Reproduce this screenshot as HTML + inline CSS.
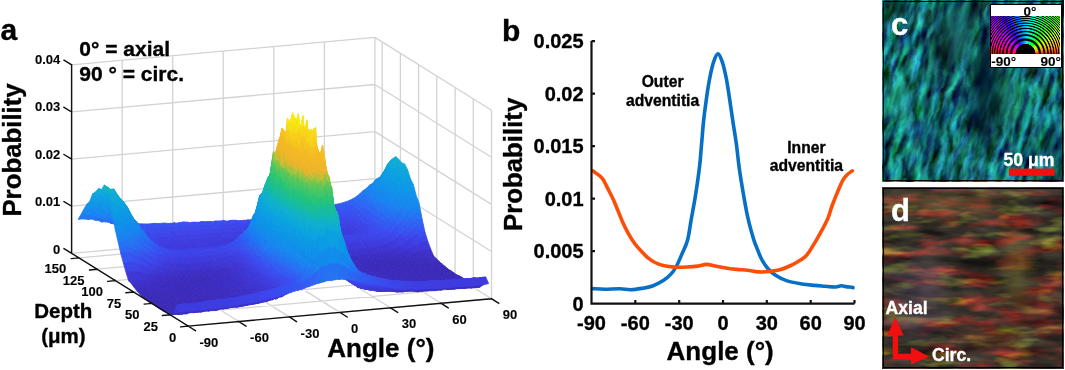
<!DOCTYPE html>
<html><head><meta charset="utf-8"><style>
html,body{margin:0;padding:0;background:#fff;}
body{width:1065px;height:370px;position:relative;overflow:hidden;font-family:"Liberation Sans", sans-serif;}
svg text{font-family:"Liberation Sans", sans-serif;font-weight:bold;stroke:currentColor;stroke-width:0.35px;}
svg text.s{stroke-width:0.12px;}
</style></head><body>

<svg width="1065" height="370" style="position:absolute;left:0;top:0;will-change:transform">
<path d="M71.6,253.3L71.6,64.8M122.2,248.7L122.2,60.2M172.7,244.2L172.7,55.7M223.2,239.6L223.2,51.1M273.8,235L273.8,46.5M324.4,230.4L324.4,41.9M374.9,225.9L374.9,37.4M71.6,253.3L374.9,225.9M71.6,206.2L374.9,178.7M71.6,159.1L374.9,131.6M71.6,111.9L374.9,84.5M71.6,64.8L374.9,37.4M491.5,298.7L491.5,110.2M473.3,287.3L473.3,98.8M455.1,275.9L455.1,87.4M436.8,264.5L436.8,76M418.6,253.2L418.6,64.7M400.4,241.8L400.4,53.3M382.2,230.4L382.2,41.9M491.5,298.7L374.9,225.9M491.5,251.5L374.9,178.7M491.5,204.4L374.9,131.6M491.5,157.3L374.9,84.5M491.5,110.2L374.9,37.4M188.2,326.1L71.6,253.3M238.8,321.5L122.2,248.7M289.3,316.9L172.7,244.2M339.9,312.4L223.2,239.6M390.4,307.8L273.8,235M441,303.2L324.4,230.4M491.5,298.7L374.9,225.9M188.2,326.1L491.5,298.7M170,314.7L473.3,287.3M151.8,303.4L455.1,275.9M133.5,292L436.8,264.5M115.3,280.6L418.6,253.2M97.1,269.2L400.4,241.8M78.9,257.9L382.2,230.4" stroke="#d3d3d3" stroke-width="1.3" fill="none"/>
<g fill="currentColor" stroke="currentColor" stroke-width="0.8" stroke-linejoin="round"><path color=#128deb d="M379.3,177.7l5.1-2.7-2.9,5.1-5.1,.3z"/><path color=#138bec d="M375.9,179.6l3.4-1.9-2.9,2.7-3.4,2.6z"/><path color=#1588ee d="M372.6,184.6l3.3-5-2.9,3.4-3.3,2z"/><path color=#1785f0 d="M369.2,186.6l3.4-2-2.9,.4-3.4,3.5z"/><path color=#1b7ff1 d="M365.8,190.8l3.4-4.2-2.9,1.9-3.4,2.3z"/><path color=#2177f2 d="M362.4,194.5l3.4-3.7-2.9,0-3.3,3.1z"/><path color=#0f93e9 d="M382.2,175.2l5.1-2.3-2.9,2.1-5.1,2.7z"/><path color=#2670f3 d="M359.1,198.2l3.3-3.7-2.8-.6-3.4,2.8z"/><path color=#1090ea d="M378.8,178.2l3.4-3-2.9,2.5-3.4,1.9z"/><path color=#2a69f4 d="M355.7,201.1l3.4-2.9-2.9-1.5-3.4,2.1z"/><path color=#128dec d="M375.5,181.4l3.3-3.2-2.9,1.4-3.3,5z"/><path color=#2d64f4 d="M352.3,203.6l3.4-2.5-2.9-2.3-3.4,1.6z"/><path color=#1589ee d="M372.1,185.6l3.4-4.2-2.9,3.2-3.4,2z"/><path color=#2f60f3 d="M349,205.6l3.3-2-2.9-3.2-3.3,1.3z"/><path color=#1785f0 d="M368.7,190.2l3.4-4.6-2.9,1-3.4,4.2z"/><path color=#315df2 d="M345.6,207l3.4-1.4-2.9-3.9-3.4,1.1z"/><path color=#1e7bf1 d="M365.3,195.4l3.4-5.2-2.9,.6-3.4,3.7z"/><path color=#325bf2 d="M342.2,207.5l3.4-.5-2.9-4.2-3.4,.9z"/><path color=#0d99e5 d="M385.1,169.7l5-.8-2.8,4-5.1,2.3z"/><path color=#2571f3 d="M362,200l3.3-4.6-2.9-.9-3.3,3.7z"/><path color=#325af2 d="M338.9,208.2l3.3-.7-2.9-3.8-3.3,.6z"/><path color=#0e96e7 d="M381.7,175.2l3.4-5.5-2.9,5.5-3.4,3z"/><path color=#2b68f4 d="M358.6,204.3l3.4-4.3-2.9-1.8-3.4,2.9z"/><path color=#3359f1 d="M335.5,209.8l3.4-1.6-2.9-3.9-3.4,1.1z"/><path color=#0f92e9 d="M378.4,180.4l3.3-5.2-2.9,3-3.3,3.2z"/><path color=#2f61f3 d="M355.2,207.1l3.4-2.8-2.9-3.2-3.4,2.5z"/><path color=#3457f1 d="M332.1,210.2l3.4-.4-2.9-4.4-3.4,.2z"/><path color=#128deb d="M375,184.4l3.4-4-2.9,1-3.4,4.2z"/><path color=#325bf2 d="M351.9,209.3l3.3-2.2-2.9-3.5-3.3,2z"/><path color=#3456f1 d="M327.1,211.7l5-1.5-2.9-4.6-5,.9z"/><path color=#1687ee d="M371.6,192.3l3.4-7.9-2.9,1.2-3.4,4.6z"/><path color=#3457f1 d="M348.5,211.4l3.4-2.1-2.9-3.7-3.4,1.4z"/><path color=#1d7df1 d="M368.2,197.3l3.4-5-2.9-2.1-3.4,5.2z"/><path color=#3555f1 d="M322,212.1l5.1-.4-2.9-5.2-5.1,1.2z"/><path color=#3555f1 d="M345.1,212.5l3.4-1.1-2.9-4.4-3.4,.5z"/><path color=#0c9fe2 d="M388,166.2l5-2.6-2.9,5.3-5,.8z"/><path color=#2472f2 d="M364.9,201.4l3.3-4.1-2.9-1.9-3.3,4.6z"/><path color=#3654f0 d="M341.8,213.3l3.3-.8-2.9-5-3.3,.7z"/><path color=#3654f0 d="M317,212.8l5-.7-2.9-4.4-5,1z"/><path color=#0d9ce3 d="M384.6,170.6l3.4-4.4-2.9,3.5-3.4,5.5z"/><path color=#2b67f4 d="M361.5,206.7l3.4-5.3-2.9-1.4-3.4,4.3z"/><path color=#3751f0 d="M338.4,214.8l3.4-1.5-2.9-5.1-3.4,1.6z"/><path color=#0e97e6 d="M381.2,175.7l3.4-5.1-2.9,4.6-3.3,5.2z"/><path color=#315df2 d="M358.1,210.1l3.4-3.4-2.9-2.4-3.4,2.8z"/><path color=#3652f0 d="M311.9,214.3l5.1-1.5-2.9-4.1-5.1,.8z"/><path color=#384fef d="M335,215.6l3.4-.8-2.9-5-3.4,.4z"/><path color=#0f93e9 d="M379.6,180.6l1.6-4.9-2.8,4.7-1.7,2z"/><path color=#3457f1 d="M354.8,213.1l3.3-3-2.9-3-3.3,2.2z"/><path color=#118fea d="M377.9,185.4l1.7-4.8-2.9,1.8-1.7,2z"/><path color=#384fef d="M330,215.5l5,.1-2.9-5.4-5,1.5z"/><path color=#3751f0 d="M306.8,214.9l5.1-.6-2.9-4.8-5.1,.8z"/><path color=#1589ed d="M374.5,191l3.4-5.6-2.9-1-3.4,7.9z"/><path color=#0da5dc d="M389.4,163.1l5.1-3-1.5,3.5-5,2.6z"/><path color=#3752f0 d="M351.4,214.7l3.4-1.6-2.9-3.8-3.4,2.1z"/><path color=#1a80f0 d="M371.1,196.8l3.4-5.8-2.9,1.3-3.4,5z"/><path color=#394eef d="M324.9,216.5l5.1-1-2.9-3.8-5.1,.4z"/><path color=#394eef d="M348,216.8l3.4-2.1-2.9-3.3-3.4,1.1z"/><path color=#3751f0 d="M301.8,215.3l5-.4-2.9-4.6-5,.9z"/><path color=#2373f2 d="M367.8,203.6l3.3-6.8-2.9,.5-3.3,4.1z"/><path color=#3a4cef d="M344.7,218.4l3.3-1.6-2.9-4.3-3.3,.8z"/><path color=#394def d="M319.9,217.6l5-1.1-2.9-4.4-5,.7z"/><path color=#3850f0 d="M296.7,216.6l5.1-1.3-2.9-4.1-5.1,1z"/><path color=#0ca4de d="M387.5,164.4l3.4-4.3-2.9,6.1-3.4,4.4z"/><path color=#2c67f4 d="M364.4,208.5l3.4-4.9-2.9-2.2-3.4,5.3z"/><path color=#0eaad7 d="M390.9,160.1l5-3.4-1.4,3.4-5.1,3z"/><path color=#3b4aee d="M341.3,218.7l3.4-.3-2.9-5.1-3.4,1.5z"/><path color=#0d9ee2 d="M384.1,172.9l3.4-8.5-2.9,6.2-3.4,5.1z"/><path color=#325cf2 d="M361,213.2l3.4-4.7-2.9-1.8-3.4,3.4z"/><path color=#3a4cef d="M314.8,218.7l5.1-1.1-2.9-4.8-5.1,1.5z"/><path color=#3c48ee d="M337.9,220.4l3.4-1.7-2.9-3.9-3.4,.8z"/><path color=#394eef d="M291.7,217.2l5-.6-2.9-4.4-5,.8z"/><path color=#0d98e6 d="M382.5,177.4l1.6-4.5-2.9,2.8-1.6,4.9z"/><path color=#3653f0 d="M357.7,217.1l3.3-3.9-2.9-3.1-3.3,3z"/><path color=#0e93e8 d="M380.8,181.9l1.7-4.5-2.9,3.2-1.7,4.8z"/><path color=#3c47ed d="M332.9,220.9l5-.5-2.9-4.8-5-.1z"/><path color=#3b4bef d="M309.7,218.9l5.1-.2-2.9-4.4-5.1,.6z"/><path color=#394def d="M286.6,218.2l5.1-1-2.9-4.2-5.1,1z"/><path color=#128deb d="M377.4,188.8l3.4-6.9-2.9,3.5-3.4,5.6z"/><path color=#394def d="M354.3,218.8l3.4-1.7-2.9-4-3.4,1.6z"/><path color=#1786ef d="M374,195.7l3.4-6.9-2.9,2.2-3.4,5.8z"/><path color=#3c47ed d="M327.8,221.6l5.1-.7-2.9-5.4-5.1,1z"/><path color=#3b49ee d="M350.9,220.7l3.4-1.9-2.9-4.1-3.4,2.1z"/><path color=#3b4bef d="M304.7,219.6l5-.7-2.9-4-5,.4z"/><path color=#394def d="M281.6,218.3l5-.1-2.9-4.2-5,.7z"/><path color=#0facd5 d="M393.8,164.9l5-5.7-2.9-2.5-5,3.4z"/><path color=#1e7cf1 d="M372.3,200.3l1.7-4.6-2.9,1.1-1.6,3.4z"/><path color=#3c46ec d="M347.5,222.2l3.4-1.5-2.9-3.9-3.3,1.6z"/><path color=#2472f2 d="M370.7,204.9l1.6-4.6-2.8-.1-1.7,3.4z"/><path color=#3c46ec d="M322.7,222.2l5.1-.6-2.9-5.1-5,1.1z"/><path color=#3b49ee d="M299.6,220.6l5.1-1-2.9-4.3-5.1,1.3z"/><path color=#0ea8da d="M390.4,166l3.4-1.1-2.9-4.8-3.4,4.3z"/><path color=#3a4cef d="M276.5,219.4l5.1-1.1-2.9-3.6-5.1,.7z"/><path color=#2c66f4 d="M367.3,210.7l3.4-5.8-2.9-1.3-3.4,4.9z"/><path color=#3c44e9 d="M344.2,223.6l3.3-1.4-2.8-3.8-3.4,.3z"/><path color=#0ca4de d="M388.7,170.7l1.7-4.7-2.9-1.6-1.7,4.3z"/><path color=#3a4bef d="M274.8,220l1.7-.6-2.9-4-1.7,.1z"/><path color=#325af2 d="M363.9,215.6l3.4-4.9-2.9-2.2-3.4,4.7z"/><path color=#0c9fe2 d="M387,175.3l1.7-4.6-2.9-2-1.7,4.2z"/><path color=#3c46eb d="M317.7,222.8l5-.6-2.8-4.6-5.1,1.1z"/><path color=#3d43e8 d="M340.8,223.8l3.4-.2-2.9-4.9-3.4,1.7z"/><path color=#3c48ee d="M294.6,221.2l5-.6-2.9-4-5,.6z"/><path color=#3a4bef d="M273.1,219.6l1.7,.4-2.9-4.5-1.7,.4z"/><path color=#0d9be4 d="M385.4,178.9l1.6-3.6-2.9-2.4-1.6,4.5z"/><path color=#3a4bef d="M271.5,220.6l1.6-1-2.9-3.7-1.6,.5z"/><path color=#3850f0 d="M360.6,218.9l3.3-3.3-2.9-2.4-3.3,3.9z"/><path color=#0e97e6 d="M383.7,182.4l1.7-3.5-2.9-1.5-1.7,4.5z"/><path color=#3d42e6 d="M335.8,225.4l5-1.6-2.9-3.4-5,.5z"/><path color=#3b4aee d="M269.8,220.6l1.7,0-2.9-4.2-1.7,.1z"/><path color=#0f92e9 d="M382,187l1.7-4.6-2.9-.5-1.7,3.4z"/><path color=#3c45ea d="M312.6,223.7l5.1-.9-2.9-4.1-5.1,.2z"/><path color=#3c48ee d="M289.5,222.3l5.1-1.1-2.9-4-5.1,1z"/><path color=#3b4aee d="M268.1,220.8l1.7-.2-2.9-4.1-1.7,.1z"/><path color=#3b49ee d="M357.2,221.9l3.4-3-2.9-1.8-3.4,1.7z"/><path color=#128eeb d="M380.3,191.6l1.7-4.6-2.9-1.7-1.7,3.5z"/><path color=#3b4aee d="M266.4,221.3l1.7-.5-2.9-4.2-1.7,.5z"/><path color=#1687ee d="M376.9,199.2l3.4-7.6-2.9-2.8-3.4,6.9z"/><path color=#3d41e6 d="M330.7,225.9l5.1-.5-2.9-4.5-5.1,.7z"/><path color=#3b49ee d="M264.7,221.5l1.7-.2-2.9-4.2-1.7,.1z"/><path color=#3c45eb d="M353.8,223.8l3.4-1.9-2.9-3.1-3.4,1.9z"/><path color=#3c45ea d="M307.6,224.3l5-.6-2.9-4.8-5,.7z"/><path color=#3c47ed d="M284.5,223.3l5-1-2.9-4.1-5,.1z"/><path color=#0eaad7 d="M396.7,165.6l5-2.7-2.9-3.7-5,5.7z"/><path color=#3b49ee d="M263,221.6l1.7-.1-2.9-4.3-1.7,.6z"/><path color=#1d7df1 d="M375.2,202.6l1.7-3.4-2.9-3.5-1.7,4.6z"/><path color=#3c49ee d="M261.3,222.6l1.7-1-2.9-3.8-1.6,0z"/><path color=#3d43e8 d="M350.4,225.2l3.4-1.4-2.9-3.1-3.4,1.5z"/><path color=#2373f2 d="M373.6,205.9l1.6-3.3-2.9-2.3-1.6,4.6z"/><path color=#3d41e5 d="M325.6,227.2l5.1-1.3-2.9-4.3-5.1,.6z"/><path color=#3c48ee d="M259.7,222.4l1.6,.2-2.8-4.8-1.7,.5z"/><path color=#3c44e9 d="M302.5,225.4l5.1-1.1-2.9-4.7-5.1,1z"/><path color=#0da7da d="M393.3,168.1l3.4-2.5-2.9-.7-3.4,1.1z"/><path color=#3c47ec d="M279.4,223.9l5.1-.6-2.9-5-5.1,1.1z"/><path color=#2b67f4 d="M370.2,212.7l3.4-6.8-2.9-1-3.4,5.8z"/><path color=#3c48ee d="M258,222.7l1.7-.3-2.9-4.1-1.7,.7z"/><path color=#3d40e5 d="M347.1,227.2l3.3-2-2.9-3-3.3,1.4z"/><path color=#0da4de d="M391.6,171.7l1.7-3.6-2.9-2.1-1.7,4.7z"/><path color=#3c48ee d="M256.3,222.7l1.7,0-2.9-3.7-1.7-.3z"/><path color=#3c46eb d="M277.7,224.2l1.7-.3-2.9-4.5-1.7,.6z"/><path color=#3359f1 d="M366.8,217.4l3.4-4.7-2.9-2-3.4,4.9z"/><path color=#0c9fe1 d="M389.9,175.3l1.7-3.6-2.9-1-1.7,4.6z"/><path color=#3d40e4 d="M320.6,227.6l5-.4-2.9-5-5,.6z"/><path color=#3c48ee d="M254.6,223.3l1.7-.6-2.9-4-1.7,.3z"/><path color=#3d3fe3 d="M343.7,227.5l3.4-.3-2.9-3.6-3.4,.2z"/><path color=#3d44e9 d="M297.5,225.5l5-.1-2.9-4.8-5,.6z"/><path color=#3c46eb d="M276,224.4l1.7-.2-2.9-4.2-1.7-.4z"/><path color=#0d9be4 d="M388.2,180.1l1.7-4.8-2.9,0-1.6,3.6z"/><path color=#3c47ed d="M252.9,223.6l1.7-.3-2.9-4.3-1.7,1z"/><path color=#3c46eb d="M274.4,224.2l1.6,.2-2.9-4.8-1.6,1z"/><path color=#384fef d="M363.4,221.9l3.4-4.5-2.9-1.8-3.3,3.3z"/><path color=#0e97e6 d="M386.6,185l1.6-4.9-2.8-1.2-1.7,3.5z"/><path color=#3c47ed d="M251.2,223.4l1.7,.2-2.9-3.6-1.7-.2z"/><path color=#3d3fe2 d="M338.6,228.3l5.1-.8-2.9-3.7-5,1.6z"/><path color=#3c45eb d="M272.7,225.1l1.7-.9-2.9-3.6-1.7,0z"/><path color=#0f92e9 d="M384.9,189.3l1.7-4.3-2.9-2.6-1.7,4.6z"/><path color=#3d40e4 d="M315.5,228.2l5.1-.6-2.9-4.8-5.1,.9z"/><path color=#3c47ed d="M249.6,224l1.6-.6-2.9-3.6-1.6,.2z"/><path color=#3d43e8 d="M292.4,226.5l5.1-1-2.9-4.3-5.1,1.1z"/><path color=#3c45ea d="M271,225l1.7,.1-2.9-4.5-1.7,.2z"/><path color=#3c47ed d="M360.1,224.5l3.3-2.6-2.8-3-3.4,3z"/><path color=#128deb d="M383.2,193.6l1.7-4.3-2.9-2.3-1.7,4.6z"/><path color=#3c47ec d="M247.9,223.9l1.7,.1-2.9-4-1.7,.4z"/><path color=#3c45ea d="M269.3,225.3l1.7-.3-2.9-4.2-1.7,.5z"/><path color=#3c47ed d="M246.2,224l1.7-.1-2.9-3.5-1.7-.2z"/><path color=#1786ef d="M379.8,202l3.4-8.4-2.9-2-3.4,7.6z"/><path color=#3d3ee1 d="M333.6,228.9l5-.6-2.8-2.9-5.1,.5z"/><path color=#3c45ea d="M267.6,225.2l1.7,.1-2.9-4-1.7,.2z"/><path color=#3d43e8 d="M356.7,227.6l3.4-3.1-2.9-2.6-3.4,1.9z"/><path color=#3d40e4 d="M310.5,228.2l5,0-2.9-4.5-5,.6z"/><path color=#3c47ed d="M244.5,224.1l1.7-.1-2.9-3.8-1.7,.5z"/><path color=#3d42e7 d="M287.4,227.3l5-.8-2.9-4.2-5,1z"/><path color=#0eaad7 d="M399.6,167.3l5-3.4-2.9-1-5,2.7z"/><path color=#3c45ea d="M265.9,225.7l1.7-.5-2.9-3.7-1.7,.1z"/><path color=#3c47ed d="M242.8,224.2l1.7-.1-2.9-3.4-1.7-.2z"/><path color=#2176f2 d="M376.5,209.5l3.3-7.5-2.9-2.8-3.3,6.7z"/><path color=#3c44e9 d="M264.2,226.2l1.7-.5-2.9-4.1-1.7,1z"/><path color=#3d40e4 d="M353.3,229l3.4-1.4-2.9-3.8-3.4,1.4z"/><path color=#3c47ed d="M241.1,224l1.7,.2-2.9-3.7-1.7,.2z"/><path color=#3d3de0 d="M328.5,229.7l5.1-.8-2.9-3-5.1,1.3z"/><path color=#3d44e9 d="M262.6,226.2l1.6,0-2.9-3.6-1.6-.2z"/><path color=#3d3fe3 d="M305.4,229.4l5.1-1.2-2.9-3.9-5.1,1.1z"/><path color=#0da7db d="M396.2,172.5l3.4-5.2-2.9-1.7-3.4,2.5z"/><path color=#3c48ee d="M239.4,223.9l1.7,.1-2.9-3.3-1.7-.4z"/><path color=#3d42e6 d="M282.3,227.9l5.1-.6-2.9-4-5.1,.6z"/><path color=#2c66f4 d="M373.1,215.3l3.4-5.8-2.9-3.6-3.4,6.8z"/><path color=#3d44e9 d="M260.9,226.3l1.7-.1-2.9-3.8-1.7,.3z"/><path color=#3d3ee1 d="M350,229.5l3.3-.5-2.9-3.8-3.3,2z"/><path color=#3c48ee d="M237.8,224.2l1.6-.3-2.9-3.6-1.6-.1z"/><path color=#3d44e9 d="M259.2,226.7l1.7-.4-2.9-3.6-1.7,0z"/><path color=#0ca0e1 d="M392.8,181.1l3.4-8.6-2.9-4.4-3.4,7.2z"/><path color=#3c48ee d="M236.1,224.3l1.7-.1-2.9-4-1.7,.1z"/><path color=#3d42e6 d="M280.6,227.3l1.7,.6-2.9-4-1.7,.3z"/><path color=#3458f1 d="M369.7,220.5l3.4-5.2-2.9-2.6-3.4,4.7z"/><path color=#3d3cdf d="M323.5,230.5l5-.8-2.9-2.5-5,.4z"/><path color=#3d44e8 d="M257.5,226.9l1.7-.2-2.9-4-1.7,.6z"/><path color=#3d3de0 d="M346.6,230.6l3.4-1.1-2.9-2.3-3.4,.3z"/><path color=#3d3fe2 d="M300.4,230.1l5-.7-2.9-4-5,.1z"/><path color=#3c49ee d="M234.4,224.6l1.7-.3-2.9-4-1.7,0z"/><path color=#3d41e6 d="M278.9,228.7l1.7-1.4-2.9-3.1-1.7,.2z"/><path color=#0d9ae4 d="M391.1,184l1.7-2.9-2.9-5.8-1.7,4.8z"/><path color=#3d43e8 d="M255.8,227.1l1.7-.2-2.9-3.6-1.7,.3z"/><path color=#3c49ee d="M232.7,224.4l1.7,.2-2.9-4.3-1.7,.2z"/><path color=#3d41e5 d="M277.3,229l1.6-.3-2.9-4.3-1.6-.2z"/><path color=#394def d="M366.3,224.7l3.4-4.2-2.9-3.1-3.4,4.5z"/><path color=#0e96e7 d="M389.5,186.9l1.6-2.9-2.9-3.9-1.6,4.9z"/><path color=#3d43e8 d="M254.1,228.1l1.7-1-2.9-3.5-1.7-.2z"/><path color=#3c49ee d="M231,224.4l1.7,0-2.9-3.9-1.7,.5z"/><path color=#3e3cdf d="M341.5,231.6l5.1-1-2.9-3.1-5.1,.8z"/><path color=#3d41e5 d="M275.6,228.6l1.7,.4-2.9-4.8-1.7,.9z"/><path color=#0f92e9 d="M387.8,191.2l1.7-4.3-2.9-1.9-1.7,4.3z"/><path color=#3e3cdf d="M318.4,231.5l5.1-1-2.9-2.9-5.1,.6z"/><path color=#3d43e7 d="M252.5,227.7l1.6,.4-2.9-4.7-1.6,.6z"/><path color=#3d3ee2 d="M295.3,230.5l5.1-.4-2.9-4.6-5.1,1z"/><path color=#3c49ee d="M229.3,224.7l1.7-.3-2.9-3.4-1.7,.1z"/><path color=#3d41e5 d="M273.9,229l1.7-.4-2.9-3.5-1.7-.1z"/><path color=#3c45eb d="M363,227.8l3.3-3.1-2.9-2.8-3.3,2.6z"/><path color=#128deb d="M386.1,195.6l1.7-4.4-2.9-1.9-1.7,4.3z"/><path color=#3d43e7 d="M250.8,228.5l1.7-.8-2.9-3.7-1.7-.1z"/><path color=#3c49ee d="M227.6,225.3l1.7-.6-2.9-3.6-1.6-.3z"/><path color=#3d41e5 d="M272.2,229.1l1.7-.1-2.9-4-1.7,.3z"/><path color=#3d43e8 d="M249.1,227.6l1.7,.9-2.9-4.6-1.7,.1z"/><path color=#1786ef d="M382.7,203.6l3.4-8-2.9-2-3.4,8.4z"/><path color=#3b49ee d="M226,225l1.6,.3-2.8-4.5-1.7-.4z"/><path color=#3e3bde d="M336.5,232.2l5-.6-2.9-3.3-5,.6z"/><path color=#3d41e5 d="M270.5,229.6l1.7-.5-2.9-3.8-1.7-.1z"/><path color=#3d41e5 d="M359.6,229.7l3.4-1.9-2.9-3.3-3.4,3.1z"/><path color=#3e3cdf d="M313.4,231.6l5-.1-2.9-3.3-5,0z"/><path color=#3d43e8 d="M247.4,227.9l1.7-.3-2.9-3.6-1.7,.1z"/><path color=#3d3ee1 d="M290.3,231.2l5-.7-2.9-4-5,.8z"/><path color=#3b4aee d="M224.3,225.1l1.7-.1-2.9-4.6-1.7,.5z"/><path color=#0ea9d8 d="M402.5,170.9l5-1.3-2.9-5.7-5,3.4z"/><path color=#3d40e4 d="M268.8,229.9l1.7-.3-2.9-4.4-1.7,.5z"/><path color=#3d43e8 d="M245.7,228.1l1.7-.2-2.9-3.8-1.7,.1z"/><path color=#2374f2 d="M379.3,211.8l3.4-8.2-2.9-1.6-3.3,7.5z"/><path color=#3b4aee d="M222.6,225l1.7,.1-2.9-4.2-1.7,0z"/><path color=#3d40e4 d="M267.1,229.5l1.7,.4-2.9-4.2-1.7,.5z"/><path color=#3d3ee1 d="M356.2,230.9l3.4-1.2-2.9-2.1-3.4,1.4z"/><path color=#3d43e8 d="M244,228.4l1.7-.3-2.9-3.9-1.7-.2z"/><path color=#3b4aee d="M220.9,225.8l1.7-.8-2.9-4.1-1.7,.1z"/><path color=#3e3bde d="M331.4,232.4l5.1-.2-2.9-3.3-5.1,.8z"/><path color=#3d40e4 d="M265.5,230.5l1.6-1-2.9-3.3-1.6,0z"/><path color=#3e3cdf d="M308.3,232.7l5.1-1.1-2.9-3.4-5.1,1.2z"/><path color=#0da5dd d="M399.1,176.5l3.4-5.6-2.9-3.6-3.4,5.2z"/><path color=#3d44e9 d="M242.3,228.2l1.7,.2-2.9-4.4-1.7-.1z"/><path color=#3d3de1 d="M285.2,232.1l5.1-.9-2.9-3.9-5.1,.6z"/><path color=#2d64f4 d="M376,216l3.3-4.2-2.8-2.3-3.4,5.8z"/><path color=#3b4aee d="M219.2,225l1.7,.8-2.9-4.8-1.7-.1z"/><path color=#3d40e4 d="M263.8,230.8l1.7-.3-2.9-4.3-1.7,.1z"/><path color=#3e3cdf d="M352.9,232.8l3.3-1.9-2.9-1.9-3.3,.5z"/><path color=#3c44e9 d="M240.7,228l1.6,.2-2.9-4.3-1.6,.3z"/><path color=#3b4bef d="M217.5,225.2l1.7-.2-2.9-4.1-1.7,.2z"/><path color=#3d40e3 d="M262.1,230.9l1.7-.1-2.9-4.5-1.7,.4z"/><path color=#0d9ee2 d="M395.7,182l3.4-5.5-2.9-4-3.4,8.6z"/><path color=#3c44e9 d="M239,228.3l1.7-.3-2.9-3.8-1.7,.1z"/><path color=#3d3de1 d="M283.5,232.4l1.7-.3-2.9-4.2-1.7-.6z"/><path color=#3458f1 d="M372.6,221.4l3.4-5.4-2.9-.7-3.4,5.2z"/><path color=#3b4aee d="M215.9,225.3l1.6-.1-2.9-4.1-1.6,.7z"/><path color=#3e3bde d="M326.4,232.8l5-.4-2.9-2.7-5,.8z"/><path color=#3d3fe3 d="M260.4,231l1.7-.1-2.9-4.2-1.7,.2z"/><path color=#3e3bdd d="M349.5,233.2l3.4-.4-2.9-3.3-3.4,1.1z"/><path color=#3e3bde d="M303.3,233.2l5-.5-2.9-3.3-5,.7z"/><path color=#3c44e9 d="M237.3,228.5l1.7-.2-2.9-4-1.7,.3z"/><path color=#3d3de1 d="M281.8,232.2l1.7,.2-2.9-5.1-1.7,1.4z"/><path color=#3b4aee d="M214.2,225.3l1.7,0-2.9-3.5-1.7-.4z"/><path color=#3d3fe3 d="M258.7,231.2l1.7-.2-2.9-4.1-1.7,.2z"/><path color=#0e97e6 d="M392.4,190.1l3.3-8.1-2.9-.9-3.3,5.8z"/><path color=#3c44e9 d="M235.6,228.9l1.7-.4-2.9-3.9-1.7-.2z"/><path color=#3d3de0 d="M280.1,232.7l1.7-.5-2.9-3.5-1.6,.3z"/><path color=#3a4cef d="M369.2,225.8l3.4-4.4-2.9-.9-3.4,4.2z"/><path color=#3b4bef d="M212.5,225.6l1.7-.3-2.9-3.9-1.7,.2z"/><path color=#3d3fe2 d="M257,231.8l1.7-.6-2.9-4.1-1.7,1z"/><path color=#3c44e9 d="M233.9,228.8l1.7,.1-2.9-4.5-1.7,0z"/><path color=#3e3adc d="M344.4,234.3l5.1-1.1-2.9-2.6-5.1,1z"/><path color=#3d3ce0 d="M278.5,233.2l1.6-.5-2.8-3.7-1.7-.4z"/><path color=#3b4bef d="M210.8,225.9l1.7-.3-2.9-4-1.7-.2z"/><path color=#1091ea d="M390.7,194.7l1.7-4.6-2.9-3.2-1.7,4.3z"/><path color=#3e3add d="M321.3,233.9l5.1-1.1-2.9-2.3-5.1,1z"/><path color=#3d3fe2 d="M255.3,231.6l1.7,.2-2.9-3.7-1.6-.4z"/><path color=#3e3bdd d="M298.2,233.9l5.1-.7-2.9-3.1-5.1,.4z"/><path color=#3c44e9 d="M232.2,229.1l1.7-.3-2.9-4.4-1.7,.3z"/><path color=#0da5dd d="M403.9,176.6l5.1-2.4-1.5-4.6-5,1.3z"/><path color=#3d3cdf d="M276.8,233.7l1.7-.5-2.9-4.6-1.7,.4z"/><path color=#3c45ea d="M365.9,229.3l3.3-3.5-2.9-1.1-3.3,3.1z"/><path color=#3a4bef d="M209.1,225.8l1.7,.1-2.9-4.5-1.7,.2z"/><path color=#138cec d="M389,199.3l1.7-4.6-2.9-3.5-1.7,4.4z"/><path color=#3d3ee2 d="M253.7,232.1l1.6-.5-2.8-3.9-1.7,.8z"/><path color=#3c44e9 d="M230.5,228.8l1.7,.3-2.9-4.4-1.7,.6z"/><path color=#3e3cdf d="M275.1,233.9l1.7-.2-2.9-4.7-1.7,.1z"/><path color=#3a4bef d="M207.4,226.3l1.7-.5-2.9-4.2-1.7,.1z"/><path color=#3d3fe2 d="M252,231.9l1.7,.2-2.9-3.6-1.7-.9z"/><path color=#1785ef d="M385.6,205.7l3.4-6.4-2.9-3.7-3.4,8z"/><path color=#3c44ea d="M228.9,229.1l1.6-.3-2.9-3.5-1.6-.3z"/><path color=#3e39db d="M339.4,234.7l5-.4-2.9-2.7-5,.6z"/><path color=#3e3cdf d="M273.4,233.8l1.7,.1-2.9-4.8-1.7,.5z"/><path color=#3d40e5 d="M362.5,230.7l3.4-1.4-2.9-1.5-3.4,1.9z"/><path color=#3a4bef d="M205.7,225.9l1.7,.4-2.9-4.6-1.7-.1z"/><path color=#3e39dc d="M316.3,235l5-1.1-2.9-2.4-5,.1z"/><path color=#0ca1e0 d="M400.5,179.8l3.4-3.2-1.4-5.7-3.4,5.6z"/><path color=#3d3fe3 d="M250.3,231.8l1.7,.1-2.9-4.3-1.7,.3z"/><path color=#3e3bdd d="M293.2,234l5-.1-2.9-3.4-5,.7z"/><path color=#3c44ea d="M227.2,229.6l1.7-.5-2.9-4.1-1.7,.1z"/><path color=#3e3cdf d="M271.7,233.9l1.7-.1-2.9-4.2-1.7,.3z"/><path color=#3a4cef d="M204.1,226.1l1.6-.2-2.9-4.3-1.6-.1z"/><path color=#3d3fe3 d="M248.6,231.8l1.7,0-2.9-3.9-1.7,.2z"/><path color=#2274f2 d="M382.2,212.4l3.4-6.7-2.9-2.1-3.4,8.2z"/><path color=#3c45ea d="M225.5,228.9l1.7,.7-2.9-4.5-1.7-.1z"/><path color=#3e3cdf d="M270,234.2l1.7-.3-2.9-4-1.7-.4z"/><path color=#3d3ee2 d="M359.1,232l3.4-1.3-2.9-1-3.4,1.2z"/><path color=#3a4cef d="M202.4,226l1.7,.1-2.9-4.6-1.7,.6z"/><path color=#3d3fe3 d="M246.9,232.3l1.7-.5-2.9-3.7-1.7,.3z"/><path color=#3c45ea d="M223.8,229.3l1.7-.4-2.9-3.9-1.7,.8z"/><path color=#3e39db d="M334.3,234.9l5.1-.2-2.9-2.5-5.1,.2z"/><path color=#3e3cdf d="M268.4,234.4l1.6-.2-2.9-4.7-1.6,1z"/><path color=#3a4cef d="M200.7,226l1.7,0-2.9-3.9-1.7,.1z"/><path color=#3e39db d="M311.2,235.5l5.1-.5-2.9-3.4-5.1,1.1z"/><path color=#3d3fe3 d="M245.2,232.3l1.7,0-2.9-3.9-1.7-.2z"/><path color=#3e3adc d="M288.1,235.5l5.1-1.5-2.9-2.8-5.1,.9z"/><path color=#2c65f4 d="M378.9,217.8l3.3-5.4-2.9-.6-3.3,4.2z"/><path color=#0ca0e1 d="M405.4,182.3l5-3.6-1.4-4.5-5.1,2.4z"/><path color=#3c45ea d="M222.1,229.3l1.7,0-2.9-3.5-1.7-.8z"/><path color=#3e3bde d="M266.7,234.4l1.7,0-2.9-3.9-1.7,.3z"/><path color=#3d3cdf d="M355.8,233l3.3-1-2.9-1.1-3.3,1.9z"/><path color=#3a4cef d="M199,226.2l1.7-.2-2.9-3.8-1.7,.1z"/><path color=#3d40e4 d="M243.6,232.5l1.6-.2-2.9-4.1-1.6-.2z"/><path color=#3c46eb d="M220.4,229.4l1.7-.1-2.9-4.3-1.7,.2z"/><path color=#3e3bde d="M265,234.9l1.7-.5-2.9-3.6-1.7,.1z"/><path color=#3a4def d="M197.3,226.1l1.7,.1-2.9-3.9-1.7-.2z"/><path color=#0d9be4 d="M398.6,190.5l3.4-7.3-2.9-6.7-3.4,5.5z"/><path color=#3d40e4 d="M241.9,232.6l1.7-.1-2.9-4.5-1.7,.3z"/><path color=#3e39dc d="M286.4,235.2l1.7,.3-2.9-3.4-1.7,.3z"/><path color=#335af2 d="M375.5,222.3l3.4-4.5-2.9-1.8-3.4,5.4z"/><path color=#3c46eb d="M218.8,229.4l1.6,0-2.9-4.2-1.6,.1z"/><path color=#3e39dc d="M329.3,235.5l5-.6-2.9-2.5-5,.4z"/><path color=#3e3bde d="M263.3,234.4l1.7,.5-2.9-4-1.7,.1z"/><path color=#3e3bde d="M352.4,233.7l3.4-.7-2.9-.2-3.4,.4z"/><path color=#394def d="M195.6,226.3l1.7-.2-2.9-4-1.7,.1z"/><path color=#0d9ee3 d="M402,183.2l3.4-.9-1.5-5.7-3.4,3.2z"/><path color=#3e39db d="M306.2,235.7l5-.2-2.9-2.8-5,.5z"/><path color=#3d40e4 d="M240.2,232.6l1.7,0-2.9-4.3-1.7,.2z"/><path color=#3e3adc d="M284.7,235.4l1.7-.2-2.9-2.8-1.7-.2z"/><path color=#3c46eb d="M217.1,229.4l1.7,0-2.9-4.1-1.7,0z"/><path color=#3e3cde d="M261.6,234.8l1.7-.4-2.9-3.4-1.7,.2z"/><path color=#394def d="M193.9,226.6l1.7-.3-2.9-4.1-1.6,.2z"/><path color=#0e94e8 d="M395.2,195.9l3.4-5.4-2.9-8.5-3.3,8.1z"/><path color=#3d40e4 d="M238.5,232.5l1.7,.1-2.9-4.1-1.7,.4z"/><path color=#3e3adc d="M283,235.5l1.7-.1-2.9-3.2-1.7,.5z"/><path color=#384fef d="M372.1,226.2l3.4-3.9-2.9-.9-3.4,4.4z"/><path color=#3c46eb d="M215.4,229.5l1.7-.1-2.9-4.1-1.7,.3z"/><path color=#3e3bde d="M259.9,235.3l1.7-.5-2.9-3.6-1.7,.6z"/><path color=#394def d="M192.3,226.4l1.6,.2-2.8-4.2-1.7,.3z"/><path color=#3d40e4 d="M236.8,232.9l1.7-.4-2.9-3.6-1.7-.1z"/><path color=#3e3add d="M347.3,234.8l5.1-1.1-2.9-.5-5.1,1.1z"/><path color=#3e39dc d="M281.4,235.8l1.6-.3-2.9-2.8-1.6,.5z"/><path color=#3c46ec d="M213.7,229.2l1.7,.3-2.9-3.9-1.7,.3z"/><path color=#128eeb d="M393.6,200.1l1.6-4.2-2.8-5.8-1.7,4.6z"/><path color=#3e39db d="M324.2,236.7l5.1-1.2-2.9-2.7-5.1,1.1z"/><path color=#3e3bdd d="M258.2,235.7l1.7-.4-2.9-3.5-1.7-.2z"/><path color=#394def d="M190.6,227l1.7-.6-2.9-3.7-1.7-.6z"/><path color=#3e38db d="M301.1,236.6l5.1-.9-2.9-2.5-5.1,.7z"/><path color=#3d40e4 d="M235.1,232.9l1.7,0-2.9-4.1-1.7,.3z"/><path color=#3e39db d="M279.7,236.1l1.7-.3-2.9-2.6-1.7,.5z"/><path color=#3c47ed d="M368.8,228.7l3.3-2.5-2.9-.4-3.3,3.5z"/><path color=#3c46ec d="M212,229.6l1.7-.4-2.9-3.3-1.7-.1z"/><path color=#1589ee d="M391.9,204.3l1.7-4.2-2.9-5.4-1.7,4.6z"/><path color=#3e3bde d="M256.6,235.3l1.6,.4-2.9-4.1-1.6,.5z"/><path color=#394eef d="M188.9,226.1l1.7,.9-2.9-4.9-1.7,.1z"/><path color=#3d40e4 d="M233.4,233.2l1.7-.3-2.9-3.8-1.7-.3z"/><path color=#3e39db d="M278,236.2l1.7-.1-2.9-2.4-1.7,.2z"/><path color=#3c46eb d="M210.3,230l1.7-.4-2.9-3.8-1.7,.5z"/><path color=#3e3bde d="M254.9,235.8l1.7-.5-2.9-3.2-1.7-.2z"/><path color=#384fef d="M187.2,226.8l1.7-.7-2.9-3.9-1.7-.3z"/><path color=#1a81f0 d="M388.5,210l3.4-5.7-2.9-5-3.4,6.4z"/><path color=#3d40e4 d="M231.8,233.1l1.6,.1-2.9-4.4-1.6,.3z"/><path color=#3e3adc d="M342.3,235.1l5-.3-2.9-.5-5,.4z"/><path color=#3e39db d="M276.3,236.7l1.7-.5-2.9-2.3-1.7-.1z"/><path color=#3d43e8 d="M365.4,230.7l3.4-2-2.9,.6-3.4,1.4z"/><path color=#3c46ec d="M208.6,229.8l1.7,.2-2.9-3.7-1.7-.4z"/><path color=#3e38da d="M319.2,236.6l5,.1-2.9-2.8-5,1.1z"/><path color=#3e3bde d="M253.2,236.2l1.7-.4-2.9-3.9-1.7-.1z"/><path color=#384fef d="M185.5,227l1.7-.2-2.9-4.9-1.7,0z"/><path color=#3e39db d="M296,236.5l5.1,.1-2.9-2.7-5,.1z"/><path color=#3d40e4 d="M230.1,233.3l1.7-.2-2.9-4-1.7,.5z"/><path color=#0d9be4 d="M408.3,188.4l5-3.9-2.9-5.8-5,3.6z"/><path color=#3e39db d="M274.6,236.5l1.7,.2-2.9-2.9-1.7,.1z"/><path color=#3c46ec d="M207,230.2l1.6-.4-2.9-3.9-1.6,.2z"/><path color=#3e3bde d="M251.5,236l1.7,.2-2.9-4.4-1.7,0z"/><path color=#394fef d="M183.8,227.2l1.7-.2-2.9-5.1-1.7,.6z"/><path color=#2473f2 d="M385.1,215.3l3.4-5.3-2.9-4.3-3.4,6.7z"/><path color=#3d41e5 d="M228.4,232.9l1.7,.4-2.9-3.7-1.7-.7z"/><path color=#3e39db d="M272.9,237l1.7-.5-2.9-2.6-1.7,.3z"/><path color=#3d40e4 d="M362,232.8l3.4-2.1-2.9,0-3.4,1.3z"/><path color=#3c46ec d="M205.3,230.2l1.7,0-2.9-4.1-1.7-.1z"/><path color=#3e3bde d="M249.8,236.3l1.7-.3-2.9-4.2-1.7,.5z"/><path color=#384fef d="M182.2,226.7l1.6,.5-2.9-4.7-1.6-.1z"/><path color=#3d41e5 d="M226.7,233.3l1.7-.4-2.9-4-1.7,.4z"/><path color=#3e3adc d="M337.2,235.3l5.1-.2-2.9-.4-5.1,.2z"/><path color=#3e39db d="M271.2,236.8l1.7,.2-2.9-2.8-1.6,.2z"/><path color=#3c47ed d="M203.6,230.1l1.7,.1-2.9-4.2-1.7,0z"/><path color=#3e38da d="M314.1,237.4l5.1-.8-2.9-1.6-5.1,.5z"/><path color=#0d99e5 d="M404.9,192.4l3.4-4-2.9-6.1-3.4,.9z"/><path color=#3e3bde d="M248.1,236.2l1.7,.1-2.9-4-1.7,0z"/><path color=#384fef d="M180.5,227.1l1.7-.4-2.9-4.3-1.7,.6z"/><path color=#3e39db d="M291,236.6l5-.1-2.8-2.5-5.1,1.5z"/><path color=#2c65f4 d="M381.8,220.4l3.3-5.1-2.9-2.9-3.3,5.4z"/><path color=#3d41e5 d="M225,233.4l1.7-.1-2.9-4-1.7,0z"/><path color=#3e39db d="M269.6,237.3l1.6-.5-2.8-2.4-1.7,0z"/><path color=#3d3fe2 d="M358.7,232.8l3.3,0-2.9-.8-3.3,1z"/><path color=#3c47ed d="M201.9,230.3l1.7-.2-2.9-4.1-1.7,.2z"/><path color=#3e3cde d="M246.4,236l1.7,.2-2.9-3.9-1.6,.2z"/><path color=#394fef d="M178.8,227.1l1.7,0-2.9-4.1-1.7,.2z"/><path color=#3d41e6 d="M223.3,232.8l1.7,.6-2.9-4.1-1.7,.1z"/><path color=#3e38db d="M267.9,237.4l1.7-.1-2.9-2.9-1.7,.5z"/><path color=#3c47ec d="M200.2,231.2l1.7-.9-2.9-4.1-1.7-.1z"/><path color=#0e95e8 d="M401.5,196.4l3.4-4-2.9-9.2-3.4,7.3z"/><path color=#3e3bde d="M244.8,236.8l1.6-.8-2.8-3.5-1.7,.1z"/><path color=#384fef d="M177.1,227.6l1.7-.5-2.9-3.9-1.7-.7z"/><path color=#3e38da d="M289.3,237.6l1.7-1-2.9-1.1-1.7-.3z"/><path color=#335af2 d="M378.4,224.7l3.4-4.3-2.9-2.6-3.4,4.5z"/><path color=#3d41e6 d="M221.6,233.8l1.7-1-2.9-3.4-1.6,0z"/><path color=#3e3adc d="M332.2,236l5-.7-2.9-.4-5,.6z"/><path color=#3e39db d="M266.2,237.7l1.7-.3-2.9-2.5-1.7-.5z"/><path color=#3d3ee1 d="M355.3,234.1l3.4-1.3-2.9,.2-3.4,.7z"/><path color=#3c47ed d="M198.5,230.6l1.7,.6-2.9-5.1-1.7,.2z"/><path color=#3e38d9 d="M309.1,238.1l5-.7-2.9-1.9-5,.2z"/><path color=#3e3bde d="M243.1,237.1l1.7-.3-2.9-4.2-1.7,0z"/><path color=#384fef d="M175.4,227.1l1.7,.5-2.9-5.1-1.7,.8z"/><path color=#3e38da d="M287.6,237.9l1.7-.3-2.9-2.4-1.7,.2z"/><path color=#3d41e6 d="M220,233.6l1.6,.2-2.8-4.4-1.7,0z"/><path color=#3e39db d="M264.5,237.4l1.7,.3-2.9-3.3-1.7,.4z"/><path color=#3c47ed d="M196.8,230.9l1.7-.3-2.9-4.3-1.7,.3z"/><path color=#118eeb d="M398.1,202.1l3.4-5.7-2.9-5.9-3.4,5.4z"/><path color=#3e3cdf d="M241.4,236l1.7,1.1-2.9-4.5-1.7-.1z"/><path color=#384fef d="M173.7,227.6l1.7-.5-2.9-3.8-1.7-.1z"/><path color=#3e38da d="M285.9,237.9l1.7,0-2.9-2.5-1.7,.1z"/><path color=#3850f0 d="M375,227.6l3.4-2.9-2.9-2.4-3.4,3.9z"/><path color=#3d42e6 d="M218.3,233.8l1.7-.2-2.9-4.2-1.7,.1z"/><path color=#3e39db d="M262.8,237.7l1.7-.3-2.9-2.6-1.7,.5z"/><path color=#3c47ed d="M195.2,230.9l1.6,0-2.9-4.3-1.6-.2z"/><path color=#3d3cdf d="M239.7,236.7l1.7-.7-2.9-3.5-1.7,.4z"/><path color=#384fef d="M172,227.4l1.7,.2-2.9-4.4-1.7,.3z"/><path color=#3d3de0 d="M350.2,234.9l5.1-.8-2.9-.4-5.1,1.1z"/><path color=#3e38da d="M284.3,237.8l1.6,.1-2.9-2.4-1.6,.3z"/><path color=#3d42e6 d="M216.6,233.5l1.7,.3-2.9-4.3-1.7-.3z"/><path color=#3e39dc d="M327.1,236.8l5.1-.8-2.9-.5-5.1,1.2z"/><path color=#3e38da d="M261.1,237.8l1.7-.1-2.9-2.4-1.7,.4z"/><path color=#3c47ed d="M193.5,230.6l1.7,.3-2.9-4.5-1.7,.6z"/><path color=#3e38da d="M304,237.9l5.1,.2-2.9-2.4-5.1,.9z"/><path color=#1687ee d="M394.8,208.2l3.3-6.1-2.9-6.2-3.3,8.4z"/><path color=#3e3cdf d="M238,237.3l1.7-.6-2.9-3.8-1.7,0z"/><path color=#0e97e6 d="M409.7,192.1l5.1-2-1.5-5.6-5,3.9z"/><path color=#3e38d9 d="M282.6,238.8l1.7-1-2.9-2-1.7,.3z"/><path color=#3b4aee d="M371.7,229.8l3.3-2.2-2.9-1.4-3.3,2.5z"/><path color=#3d42e7 d="M214.9,233.9l1.7-.4-2.9-4.3-1.7,.4z"/><path color=#3e39db d="M259.5,237.9l1.6-.1-2.9-2.1-1.6-.4z"/><path color=#3c48ee d="M191.8,230.8l1.7-.2-2.9-3.6-1.7-.9z"/><path color=#3e3cdf d="M236.3,236.6l1.7,.7-2.9-4.4-1.7,.3z"/><path color=#3850f0 d="M167,227.9l5-.5-2.9-3.9-5-.5z"/><path color=#3e37d9 d="M280.9,238.7l1.7,.1-2.9-2.7-1.7,.1z"/><path color=#3d42e6 d="M213.2,233.8l1.7,.1-2.9-4.3-1.7,.4z"/><path color=#3e39db d="M257.8,238.5l1.7-.6-2.9-2.6-1.7,.5z"/><path color=#3c48ee d="M190.1,230.6l1.7,.2-2.9-4.7-1.7,.7z"/><path color=#1e7cf1 d="M391.4,212.9l3.4-4.7-2.9-3.9-3.4,5.7z"/><path color=#3e3cdf d="M234.7,237.7l1.6-1.1-2.9-3.4-1.6-.1z"/><path color=#3d3ce0 d="M345.2,235.4l5-.5-2.9-.1-5,.3z"/><path color=#3e37d9 d="M279.2,239.2l1.7-.5-2.9-2.5-1.7,.5z"/><path color=#3c46eb d="M368.3,231.5l3.4-1.7-2.9-1.1-3.4,2z"/><path color=#3d42e7 d="M211.5,233.9l1.7-.1-2.9-3.8-1.7-.2z"/><path color=#3e39db d="M322.1,237.3l5-.5-2.9-.1-5-.1z"/><path color=#3e38da d="M256.1,238l1.7,.5-2.9-2.7-1.7,.4z"/><path color=#3c48ee d="M188.4,231l1.7-.4-2.9-3.8-1.7,.2z"/><path color=#3e38d9 d="M298.9,239.2l5.1-1.3-2.9-1.3-5.1-.1z"/><path color=#3d3cdf d="M233,236.7l1.7,1-2.9-4.6-1.7,.2z"/><path color=#3e37d9 d="M277.5,238.9l1.7,.3-2.9-2.5-1.7-.2z"/><path color=#3d42e7 d="M209.9,234.2l1.6-.3-2.9-4.1-1.6,.4z"/><path color=#3e39db d="M254.4,238l1.7,0-2.9-1.8-1.7-.2z"/><path color=#3c48ee d="M186.7,230.9l1.7,.1-2.9-4-1.7,.2z"/><path color=#266ff3 d="M388,218.6l3.4-5.7-2.9-2.9-3.4,5.3z"/><path color=#3d3ce0 d="M231.3,237.7l1.7-1-2.9-3.4-1.7-.4z"/><path color=#3751f0 d="M161.9,227.3l5.1,.6-2.9-4.9-5.1,.6z"/><path color=#3e38d9 d="M275.8,238.9l1.7,0-2.9-2.4-1.7,.5z"/><path color=#3d43e8 d="M364.9,232.7l3.4-1.2-2.9-.8-3.4,2.1z"/><path color=#3d42e7 d="M208.2,233.8l1.7,.4-2.9-4-1.7,0z"/><path color=#3e39db d="M252.7,238.3l1.7-.3-2.9-2-1.7,.3z"/><path color=#3c48ee d="M185.1,231.4l1.6-.5-2.9-3.7-1.6-.5z"/><path color=#3d3cdf d="M229.6,237.6l1.7,.1-2.9-4.8-1.7,.4z"/><path color=#3d3de0 d="M340.1,235.5l5.1-.1-2.9-.3-5.1,.2z"/><path color=#3e38da d="M274.1,238.8l1.7,.1-2.9-1.9-1.7-.2z"/><path color=#3d43e7 d="M206.5,234.4l1.7-.6-2.9-3.6-1.7-.1z"/><path color=#3e39db d="M317,237.5l5.1-.2-2.9-.7-5.1,.8z"/><path color=#0f93e9 d="M407.8,199.2l3.4-3.3-2.9-7.5-3.4,4z"/><path color=#3e39db d="M251,238.5l1.7-.2-2.9-2-1.7-.1z"/><path color=#3c48ee d="M183.4,231.5l1.7-.1-2.9-4.7-1.7,.4z"/><path color=#3e38da d="M293.9,239.4l5-.2-2.9-2.7-5,.1z"/><path color=#2e63f3 d="M384.7,222.7l3.3-4.1-2.9-3.3-3.3,5.1z"/><path color=#0e93e8 d="M411.2,195.9l5-.2-1.4-5.6-5.1,2z"/><path color=#3d3cdf d="M227.9,237.5l1.7,.1-2.9-4.3-1.7,.1z"/><path color=#3e38d9 d="M272.5,239.6l1.6-.8-2.9-2-1.6,.5z"/><path color=#3d42e6 d="M361.5,233.3l3.4-.6-2.9,.1-3.3,0z"/><path color=#3d42e7 d="M204.8,234.7l1.7-.3-2.9-4.3-1.7,.2z"/><path color=#3e39dc d="M249.3,238l1.7,.5-2.9-2.3-1.7-.2z"/><path color=#3c49ee d="M181.7,231.1l1.7,.4-2.9-4.4-1.7,0z"/><path color=#3d3de0 d="M226.2,238l1.7-.5-2.9-4.1-1.7-.6z"/><path color=#3752f0 d="M156.9,228.7l5-1.4-2.9-3.7-5-.3z"/><path color=#3e37d9 d="M270.8,239.6l1.7,0-2.9-2.3-1.7,.1z"/><path color=#3d42e7 d="M203.1,234.4l1.7,.3-2.9-4.4-1.7,.9z"/><path color=#128eeb d="M404.4,204.5l3.4-5.3-2.9-6.8-3.4,4z"/><path color=#3e39db d="M247.7,238.9l1.6-.9-2.9-2-1.6,.8z"/><path color=#3c49ee d="M180,231.5l1.7-.4-2.9-4-1.7,.5z"/><path color=#3e38d9 d="M292.2,239.6l1.7-.2-2.9-2.8-1.7,1z"/><path color=#3359f1 d="M381.3,225.8l3.4-3.1-2.9-2.3-3.4,4.3z"/><path color=#3d3de0 d="M224.5,237.4l1.7,.6-2.9-5.2-1.7,1z"/><path color=#3d3de0 d="M335.1,236.2l5-.7-2.9-.2-5,.7z"/><path color=#3e37d9 d="M269.1,239.5l1.7,.1-2.9-2.2-1.7,.3z"/><path color=#3d41e5 d="M358.2,234.3l3.3-1-2.8-.5-3.4,1.3z"/><path color=#3d42e7 d="M201.4,234.5l1.7-.1-2.9-3.2-1.7-.6z"/><path color=#3e39db d="M311.9,237.6l5.1-.1-2.9-.1-5,.7z"/><path color=#3e38db d="M246,239l1.7-.1-2.9-2.1-1.7,.3z"/><path color=#3c49ee d="M178.3,231.6l1.7-.1-2.9-3.9-1.7-.5z"/><path color=#3e37d9 d="M290.5,239.7l1.7-.1-2.9-2-1.7,.3z"/><path color=#3d3de0 d="M222.9,238.1l1.6-.7-2.9-3.6-1.6-.2z"/><path color=#3e38d9 d="M267.4,239.5l1.7,0-2.9-1.8-1.7-.3z"/><path color=#3d43e8 d="M199.7,234.2l1.7,.3-2.9-3.9-1.7,.3z"/><path color=#1589ee d="M401,207.8l3.4-3.3-2.9-8.1-3.4,5.7z"/><path color=#3e39db d="M244.3,238.9l1.7,.1-2.9-1.9-1.7-1.1z"/><path color=#3b49ee d="M176.6,231.5l1.7,.1-2.9-4.5-1.7,.5z"/><path color=#3e37d9 d="M288.8,239.8l1.7-.1-2.9-1.8-1.7,0z"/><path color=#3751f0 d="M377.9,228.3l3.4-2.5-2.9-1.1-3.4,2.9z"/><path color=#3d3de0 d="M221.2,238l1.7,.1-2.9-4.5-1.7,.2z"/><path color=#3752f0 d="M151.8,228.3l5.1,.4-2.9-5.4-5.1,.6z"/><path color=#3e38da d="M265.7,239.6l1.7-.1-2.9-2.1-1.7,.3z"/><path color=#3d43e8 d="M198.1,235l1.6-.8-2.9-3.3-1.6,0z"/><path color=#3e3adc d="M242.6,238.5l1.7,.4-2.9-2.9-1.7,.7z"/><path color=#3b49ee d="M174.9,231.5l1.7,0-2.9-3.9-1.7-.2z"/><path color=#3d40e3 d="M353.1,235.6l5.1-1.3-2.9-.2-5.1,.8z"/><path color=#3e37d9 d="M287.1,240.4l1.7-.6-2.9-1.9-1.6-.1z"/><path color=#3d3de0 d="M219.5,238.3l1.7-.3-2.9-4.2-1.7-.3z"/><path color=#3d3ce0 d="M330,236.6l5.1-.4-2.9-.2-5.1,.8z"/><path color=#3e38d9 d="M264,240l1.7-.4-2.9-1.9-1.7,.1z"/><path color=#3d43e7 d="M196.4,235.2l1.7-.2-2.9-4.1-1.7-.3z"/><path color=#3e39dc d="M306.9,238.3l5-.7-2.8,.5-5.1-.2z"/><path color=#1a82f0 d="M397.7,213.9l3.3-6.1-2.9-5.7-3.3,6.1z"/><path color=#3e39dc d="M240.9,239l1.7-.5-2.9-1.8-1.7,.6z"/><path color=#118feb d="M412.6,201.2l5.1-1.8-1.5-3.7-5,.2z"/><path color=#3e37d8 d="M285.5,240.3l1.6,.1-2.8-2.6-1.7,1z"/><path color=#3a4cef d="M374.6,230.4l3.3-2.1-2.9-.7-3.3,2.2z"/><path color=#3d3de0 d="M217.8,238.3l1.7,0-2.9-4.8-1.7,.4z"/><path color=#3e38d9 d="M262.3,240.3l1.7-.3-2.9-2.2-1.6,.1z"/><path color=#3d43e8 d="M194.7,235.1l1.7,.1-2.9-4.6-1.7,.2z"/><path color=#3e39dc d="M239.2,239.5l1.7-.5-2.9-1.7-1.7-.7z"/><path color=#3b4aee d="M169.9,232.2l5-.7-2.9-4.1-5,.5z"/><path color=#3e37d8 d="M283.8,240.1l1.7,.2-2.9-1.5-1.7-.1z"/><path color=#3d3de1 d="M216.1,238.2l1.7,.1-2.9-4.4-1.7-.1z"/><path color=#3653f0 d="M146.8,228.2l5,.1-2.9-4.4-5,0z"/><path color=#3e38d9 d="M260.7,240l1.6,.3-2.8-2.4-1.7,.6z"/><path color=#3d43e8 d="M193,235l1.7,.1-2.9-4.3-1.7-.2z"/><path color=#2374f2 d="M394.3,219.2l3.4-5.3-2.9-5.7-3.4,4.7z"/><path color=#3e39dc d="M237.5,239.5l1.7,0-2.9-2.9-1.6,1.1z"/><path color=#3d3fe3 d="M348.1,235.6l5,0-2.9-.7-5,.5z"/><path color=#3e37d8 d="M282.1,240.1l1.7,0-2.9-1.4-1.7,.5z"/><path color=#3c48ee d="M371.2,231.9l3.4-1.5-2.9-.6-3.4,1.7z"/><path color=#3d3de1 d="M214.4,238.6l1.7-.4-2.9-4.4-1.7,.1z"/><path color=#3d3cdf d="M325,237l5-.4-2.9,.2-5,.5z"/><path color=#128dec d="M409.2,204l3.4-2.8-1.4-5.3-3.4,3.3z"/><path color=#3e38da d="M259,240.1l1.7-.1-2.9-1.5-1.7-.5z"/><path color=#3d43e8 d="M191.3,235.4l1.7-.4-2.9-4.4-1.7,.4z"/><path color=#3e39dc d="M301.8,238.7l5.1-.4-2.9-.4-5.1,1.3z"/><path color=#3e3adc d="M235.9,239.3l1.6,.2-2.8-1.8-1.7-1z"/><path color=#3e37d9 d="M280.4,240.1l1.7,0-2.9-.9-1.7-.3z"/><path color=#3d3de1 d="M212.7,238.5l1.7,.1-2.9-4.7-1.6,.3z"/><path color=#3e38da d="M257.3,240.2l1.7-.1-2.9-2.1-1.7,0z"/><path color=#3d44e8 d="M189.6,235.2l1.7,.2-2.9-4.4-1.7-.1z"/><path color=#2a69f4 d="M390.9,222.7l3.4-3.5-2.9-6.3-3.4,5.7z"/><path color=#3e3adc d="M234.2,239.7l1.7-.4-2.9-2.6-1.7,1z"/><path color=#3b4aee d="M164.8,232.3l5.1-.1-2.9-4.3-5.1-.6z"/><path color=#3e38d9 d="M278.7,240.6l1.7-.5-2.9-1.2-1.7,0z"/><path color=#3c46eb d="M367.8,233.2l3.4-1.3-2.9-.4-3.4,1.2z"/><path color=#3d3ee1 d="M211.1,238.6l1.6-.1-2.8-4.3-1.7-.4z"/><path color=#3555f1 d="M141.7,228l5.1,.2-2.9-4.3-5.1-.2z"/><path color=#3e39db d="M255.6,240l1.7,.2-2.9-2.2-1.7,.3z"/><path color=#3d44e9 d="M187.9,235.2l1.7,0-2.9-4.3-1.6,.5z"/><path color=#3e39db d="M232.5,240.6l1.7-.9-2.9-2-1.7-.1z"/><path color=#3d40e4 d="M343,236l5.1-.4-2.9-.2-5.1,.1z"/><path color=#3e38d9 d="M277,240.7l1.7-.1-2.9-1.7-1.7-.1z"/><path color=#3d3ee2 d="M209.4,238.2l1.7,.4-2.9-4.8-1.7,.6z"/><path color=#3d3cdf d="M319.9,237.8l5.1-.8-2.9,.3-5.1,.2z"/><path color=#3e38da d="M253.9,241l1.7-1-2.9-1.7-1.7,.2z"/><path color=#3d43e8 d="M186.3,235.9l1.6-.7-2.8-3.8-1.7,.1z"/><path color=#3e39db d="M296.8,239.4l5-.7-2.9,.5-5,.2z"/><path color=#305ef2 d="M387.6,227.5l3.3-4.8-2.9-4.1-3.3,4.1z"/><path color=#148bed d="M414,206.4l5.1-3.2-1.4-3.8-5.1,1.8z"/><path color=#3e39db d="M230.8,240.3l1.7,.3-2.9-3-1.7-.1z"/><path color=#3e38d9 d="M275.4,240.7l1.6,0-2.9-1.9-1.6,.8z"/><path color=#3c44e9 d="M364.4,234.2l3.4-1-2.9-.5-3.4,.6z"/><path color=#3d3ee1 d="M207.7,239l1.7-.8-2.9-3.8-1.7,.3z"/><path color=#3e38db d="M252.2,240.4l1.7,.6-2.9-2.5-1.7-.5z"/><path color=#3d44e8 d="M184.6,235.8l1.7,.1-2.9-4.4-1.7-.4z"/><path color=#3e3adc d="M229.1,239.8l1.7,.5-2.9-2.8-1.7,.5z"/><path color=#3b4bef d="M159.8,232.5l5-.2-2.9-5-5,1.4z"/><path color=#3e37d8 d="M273.7,241.4l1.7-.7-2.9-1.1-1.7,0z"/><path color=#3d3ee1 d="M206,238.9l1.7,.1-2.9-4.3-1.7-.3z"/><path color=#3556f1 d="M136.7,228.3l5-.3-2.9-4.3-5,.1z"/><path color=#1687ef d="M407.3,211.8l3.4-2.9-2.9-9.7-3.4,5.3z"/><path color=#3e39db d="M250.6,240.5l1.6-.1-2.9-2.4-1.6,.9z"/><path color=#3d44e9 d="M182.9,235.8l1.7,0-2.9-4.7-1.7,.4z"/><path color=#3e39db d="M295.1,239.6l1.7-.2-2.9,0-1.7,.2z"/><path color=#3556f1 d="M384.2,229.8l3.4-2.3-2.9-4.8-3.4,3.1z"/><path color=#3e3add d="M227.4,240.2l1.7-.4-2.9-1.8-1.7-.6z"/><path color=#3d40e4 d="M338,236.7l5-.7-2.9-.5-5,.7z"/><path color=#3e37d8 d="M272,241.3l1.7,.1-2.9-1.8-1.7-.1z"/><path color=#3d43e8 d="M361.1,235.1l3.3-.9-2.9-.9-3.3,1z"/><path color=#3d3ee1 d="M204.3,239.5l1.7-.6-2.9-4.5-1.7,.1z"/><path color=#1688ee d="M410.7,208.9l3.3-2.5-1.4-5.2-3.4,2.8z"/><path color=#3d3cdf d="M314.8,238.3l5.1-.5-2.9-.3-5.1,.1z"/><path color=#3e38da d="M248.9,240.8l1.7-.3-2.9-1.6-1.7,.1z"/><path color=#3d44e9 d="M181.2,236l1.7-.2-2.9-4.3-1.7,.1z"/><path color=#3e39db d="M293.4,239.9l1.7-.3-2.9,0-1.7,.1z"/><path color=#3e3add d="M225.8,240l1.6,.2-2.9-2.8-1.6,.7z"/><path color=#3e37d9 d="M270.3,241.8l1.7-.5-2.9-1.8-1.7,0z"/><path color=#3d3ee2 d="M202.6,239.3l1.7,.2-2.9-5-1.7-.3z"/><path color=#1b80f1 d="M403.9,217.2l3.4-5.4-2.9-7.3-3.4,3.3z"/><path color=#3e38db d="M247.2,240.9l1.7-.1-2.9-1.8-1.7-.1z"/><path color=#3d44e9 d="M179.5,236.2l1.7-.2-2.9-4.4-1.7-.1z"/><path color=#3e39db d="M291.7,239.7l1.7,.2-2.9-.2-1.7,.1z"/><path color=#384fef d="M380.8,232.7l3.4-2.9-2.9-4-3.4,2.5z"/><path color=#3e3add d="M224.1,240.4l1.7-.4-2.9-1.9-1.7-.1z"/><path color=#3a4bef d="M154.7,233l5.1-.5-2.9-3.8-5.1-.4z"/><path color=#3e38d9 d="M268.6,241.4l1.7,.4-2.9-2.3-1.7,.1z"/><path color=#3d3ee2 d="M201,238.9l1.6,.4-2.9-5.1-1.6,.8z"/><path color=#3457f1 d="M131.6,228l5.1,.3-2.9-4.5-5.1-.1z"/><path color=#3e39db d="M245.5,240.7l1.7,.2-2.9-2-1.7-.4z"/><path color=#3c44e9 d="M177.8,236.3l1.7-.1-2.9-4.7-1.7,0z"/><path color=#3d43e7 d="M356,234.9l5.1,.2-2.9-.8-5.1,1.3z"/><path color=#3e39db d="M290,240.4l1.7-.7-2.9,.1-1.7,.6z"/><path color=#3e3adc d="M222.4,240.8l1.7-.4-2.9-2.4-1.7,.3z"/><path color=#3d40e3 d="M332.9,236.9l5.1-.2-2.9-.5-5.1,.4z"/><path color=#3e38d9 d="M266.9,241.7l1.7-.3-2.9-1.8-1.7,.4z"/><path color=#3d3ee2 d="M199.3,239.3l1.7-.4-2.9-3.9-1.7,.2z"/><path color=#3d3ce0 d="M309.8,238.7l5-.4-2.9-.7-5,.7z"/><path color=#2374f2 d="M400.6,221.6l3.3-4.4-2.9-9.4-3.3,6.1z"/><path color=#3e39dc d="M243.8,240.8l1.7-.1-2.9-2.2-1.7,.5z"/><path color=#1785f0 d="M415.5,212.8l5-2.1-1.4-7.5-5.1,3.2z"/><path color=#3e39db d="M288.4,240l1.6,.4-2.9,0-1.6-.1z"/><path color=#3b4aee d="M377.5,234.4l3.3-1.7-2.9-4.4-3.3,2.1z"/><path color=#3e3adc d="M220.7,241.1l1.7-.3-2.9-2.5-1.7,0z"/><path color=#3e38d9 d="M265.2,241.2l1.7,.5-2.9-1.7-1.7,.3z"/><path color=#3d3ee2 d="M197.6,239.8l1.7-.5-2.9-4.1-1.7-.1z"/><path color=#3e39db d="M242.1,241.3l1.7-.5-2.9-1.8-1.7,.5z"/><path color=#3c44e9 d="M172.8,236.7l5-.4-2.9-4.8-5,.7z"/><path color=#3e39db d="M286.7,240.2l1.7-.2-2.9,.3-1.7-.2z"/><path color=#3358f1 d="M128.2,227.3l3.4,.7-2.9-4.3-3.4,.7z"/><path color=#3e3adc d="M219,241.4l1.7-.3-2.9-2.8-1.7-.1z"/><path color=#3a4def d="M149.7,232.1l5,.9-2.9-4.7-5-.1z"/><path color=#3e38da d="M263.6,241.5l1.6-.3-2.9-.9-1.6-.3z"/><path color=#3d3ee2 d="M195.9,239.4l1.7,.4-2.9-4.7-1.7-.1z"/><path color=#2b68f4 d="M397.2,225.6l3.4-4-2.9-7.7-3.4,5.3z"/><path color=#3e39db d="M240.4,241.2l1.7,.1-2.9-1.8-1.7,0z"/><path color=#3d43e7 d="M351,235.7l5-.8-2.9,.7-5,0z"/><path color=#3e39dc d="M285,240.5l1.7-.3-2.9-.1-1.7,0z"/><path color=#3c47ed d="M374.1,234.9l3.4-.5-2.9-4-3.4,1.5z"/><path color=#3e3adc d="M217.3,241l1.7,.4-2.9-3.2-1.7,.4z"/><path color=#3d40e3 d="M327.8,237.6l5.1-.7-2.9-.3-5,.4z"/><path color=#1b80f1 d="M412.1,215.3l3.4-2.5-1.5-6.4-3.3,2.5z"/><path color=#3e38da d="M261.9,241.3l1.7,.2-2.9-1.5-1.7,.1z"/><path color=#3d3fe2 d="M194.2,239.5l1.7-.1-2.9-4.4-1.7,.4z"/><path color=#3d3ce0 d="M304.7,238.9l5.1-.2-2.9-.4-5.1,.4z"/><path color=#3e39db d="M238.8,241.9l1.6-.7-2.9-1.7-1.6-.2z"/><path color=#3e39dc d="M283.3,240.4l1.7,.1-2.9-.4-1.7,0z"/><path color=#3359f1 d="M124.9,226.8l3.3,.5-2.9-2.9-3.3-.3z"/><path color=#3e3add d="M215.6,240.9l1.7,.1-2.9-2.4-1.7-.1z"/><path color=#3e38db d="M260.2,241.6l1.7-.3-2.9-1.2-1.7,.1z"/><path color=#3d3fe2 d="M192.5,239.8l1.7-.3-2.9-4.1-1.7-.2z"/><path color=#305ef2 d="M393.8,229.5l3.4-3.9-2.9-6.4-3.4,3.5z"/><path color=#3e39db d="M237.1,241.3l1.7,.6-2.9-2.6-1.7,.4z"/><path color=#3c44ea d="M167.7,236.7l5.1,0-2.9-4.5-5.1,.1z"/><path color=#3e39dc d="M281.6,240.9l1.7-.5-2.9-.3-1.7,.5z"/><path color=#3c46eb d="M370.7,236.4l3.4-1.5-2.9-3-3.4,1.3z"/><path color=#3e3add d="M214,241.6l1.6-.7-2.9-2.4-1.6,.1z"/><path color=#394fef d="M144.6,232l5.1,.1-2.9-3.9-5.1-.2z"/><path color=#1f7af1 d="M408.8,218.2l3.3-2.9-1.4-6.4-3.4,2.9z"/><path color=#3e39db d="M258.5,241.7l1.7-.1-2.9-1.4-1.7-.2z"/><path color=#3d3fe3 d="M190.8,239.5l1.7,.3-2.9-4.6-1.7,0z"/><path color=#3e39db d="M235.4,240.8l1.7,.5-2.9-1.6-1.7,.9z"/><path color=#3d42e7 d="M345.9,237.1l5.1-1.4-2.9-.1-5.1,.4z"/><path color=#3e39db d="M279.9,240.8l1.7,.1-2.9-.3-1.7,.1z"/><path color=#325bf2 d="M121.5,226.3l3.4,.5-2.9-2.7-3.4-.6z"/><path color=#3e3bdd d="M212.3,241.2l1.7,.4-2.9-3-1.7-.4z"/><path color=#3d3fe3 d="M322.8,237.9l5-.3-2.8-.6-5.1,.8z"/><path color=#3e39db d="M256.8,241.5l1.7,.2-2.9-1.7-1.7,1z"/><path color=#3d3fe3 d="M189.2,239.8l1.6-.3-2.9-4.3-1.6,.7z"/><path color=#3d3de0 d="M299.7,239.1l5-.2-2.9-.2-5,.7z"/><path color=#3555f1 d="M390.5,233.1l3.3-3.6-2.9-6.8-3.3,4.8z"/><path color=#2176f2 d="M416.9,219.1l5.1-.8-1.5-7.6-5,2.1z"/><path color=#3e39db d="M233.7,241.3l1.7-.5-2.9-.2-1.7-.3z"/><path color=#3e39db d="M278.2,241.2l1.7-.4-2.9-.1-1.6,0z"/><path color=#3c44e9 d="M367.3,236.9l3.4-.5-2.9-3.2-3.4,1z"/><path color=#3e3bdd d="M210.6,241.8l1.7-.6-2.9-3-1.7,.8z"/><path color=#2571f3 d="M405.4,222.6l3.4-4.4-1.5-6.4-3.4,5.4z"/><path color=#3e39db d="M255.1,241.6l1.7-.1-2.9-.5-1.7-.6z"/><path color=#3d3fe2 d="M187.5,240.2l1.7-.4-2.9-3.9-1.7-.1z"/><path color=#3e39dc d="M232,241.8l1.7-.5-2.9-1-1.7-.5z"/><path color=#3c45ea d="M162.7,236.7l5,0-2.9-4.4-5,.2z"/><path color=#3e39dc d="M276.6,240.7l1.6,.5-2.8-.5-1.7,.7z"/><path color=#305ef2 d="M118.1,224.8l3.4,1.5-2.9-2.8-3.4-.8z"/><path color=#3e3add d="M208.9,241.9l1.7-.1-2.9-2.8-1.7-.1z"/><path color=#3850f0 d="M139.6,231.7l5,.3-2.9-4-5,.3z"/><path color=#3e39db d="M253.4,241.8l1.7-.2-2.9-1.2-1.6,.1z"/><path color=#3d3fe3 d="M185.8,240.1l1.7,.1-2.9-4.4-1.7,0z"/><path color=#3d3de0 d="M298,239.2l1.7-.1-2.9,.3-1.7,.2z"/><path color=#394eef d="M387.1,234.9l3.4-1.8-2.9-5.6-3.4,2.3z"/><path color=#3e3adc d="M230.3,241.7l1.7,.1-2.9-2-1.7,.4z"/><path color=#3d42e6 d="M340.9,237.1l5,0-2.9-1.1-5,.7z"/><path color=#3e39dc d="M274.9,241.1l1.7-.4-2.9,.7-1.7-.1z"/><path color=#3d43e8 d="M364,238.2l3.3-1.3-2.9-2.7-3.3,.9z"/><path color=#3e3add d="M207.2,242.2l1.7-.3-2.9-3-1.7,.6z"/><path color=#2472f2 d="M413.6,221.8l3.3-2.7-1.4-6.3-3.4,2.5z"/><path color=#3d3fe3 d="M317.7,238.2l5.1-.3-2.9-.1-5.1,.5z"/><path color=#2c66f4 d="M402,226.4l3.4-3.8-1.5-5.4-3.3,4.4z"/><path color=#3e39dc d="M251.8,241.4l1.6,.4-2.8-1.3-1.7,.3z"/><path color=#3d3fe3 d="M184.1,240.2l1.7-.1-2.9-4.3-1.7,.2z"/><path color=#3d3ce0 d="M296.3,239.6l1.7-.4-2.9,.4-1.7,.3z"/><path color=#3e39dc d="M228.6,242.3l1.7-.6-2.9-1.5-1.6-.2z"/><path color=#3e39dc d="M273.2,241l1.7,.1-2.9,.2-1.7,.5z"/><path color=#2f61f3 d="M114.8,223.8l3.3,1-2.9-2.1-3.3,.8z"/><path color=#3e3adc d="M205.5,242.7l1.7-.5-2.9-2.7-1.7-.2z"/><path color=#3e39dc d="M250.1,241.9l1.7-.5-2.9-.6-1.7,.1z"/><path color=#3d3fe3 d="M182.4,240.1l1.7,.1-2.9-4.2-1.7,.2z"/><path color=#3d3cdf d="M294.6,239.9l1.7-.3-2.9,.3-1.7-.2z"/><path color=#3c48ee d="M383.7,237.7l3.4-2.8-2.9-5.1-3.4,2.9z"/><path color=#3e39dc d="M227,242.3l1.6,0-2.8-2.3-1.7,.4z"/><path color=#3c45eb d="M157.6,237.2l5.1-.5-2.9-4.2-5.1,.5z"/><path color=#3e3adc d="M271.5,240.9l1.7,.1-2.9,.8-1.7-.4z"/><path color=#3e3bdd d="M203.8,241.8l1.7,.9-2.9-3.4-1.6-.4z"/><path color=#286cf3 d="M410.2,224.5l3.4-2.7-1.5-6.5-3.3,2.9z"/><path color=#3752f0 d="M134.5,231.1l5.1,.6-2.9-3.4-5.1-.3z"/><path color=#3e39dc d="M248.4,242l1.7-.1-2.9-1-1.7-.2z"/><path color=#3d3fe3 d="M180.7,240.5l1.7-.4-2.9-3.9-1.7,.1z"/><path color=#3d43e7 d="M358.9,238.5l5.1-.3-2.9-3.1-5.1-.2z"/><path color=#3d3ce0 d="M292.9,239.7l1.7,.2-2.9-.2-1.7,.7z"/><path color=#3e39dc d="M225.3,242.5l1.7-.2-2.9-1.9-1.7,.4z"/><path color=#3d42e7 d="M335.8,237.1l5.1,0-2.9-.4-5.1,.2z"/><path color=#3e3adc d="M269.8,241.1l1.7-.2-2.9,.5-1.7,.3z"/><path color=#2e63f3 d="M111.4,223.3l3.4,.5-2.9-.3-3.4-1.6z"/><path color=#3e3bde d="M202.2,242l1.6-.2-2.8-2.9-1.7,.4z"/><path color=#3d3fe3 d="M312.7,238.7l5-.5-2.9,.1-5,.4z"/><path color=#3e3adc d="M246.7,241.9l1.7,.1-2.9-1.3-1.7,.1z"/><path color=#2b67f4 d="M418.4,225.4l5-.4-1.4-6.7-5.1,.8z"/><path color=#3d3de0 d="M291.3,239.9l1.6-.2-2.9,.7-1.6-.4z"/><path color=#3c44ea d="M380.3,239.4l3.4-1.7-2.9-5-3.3,1.7z"/><path color=#3e39db d="M223.6,243l1.7-.5-2.9-1.7-1.7,.3z"/><path color=#3e3add d="M268.1,240.6l1.7,.5-2.9,.6-1.7-.5z"/><path color=#3e3bde d="M200.5,242.2l1.7-.2-2.9-2.7-1.7,.5z"/><path color=#2d64f4 d="M406.8,228l3.4-3.5-1.4-6.3-3.4,4.4z"/><path color=#3e39dc d="M245,242.7l1.7-.8-2.9-1.1-1.7,.5z"/><path color=#3d3fe3 d="M175.7,240.4l5,.1-2.9-4.2-5,.4z"/><path color=#3d3de0 d="M289.6,240.3l1.7-.4-2.9,.1-1.7,.2z"/><path color=#3554f0 d="M131.1,230.2l3.4,.9-2.9-3.1-3.4-.7z"/><path color=#3e38db d="M221.9,243.4l1.7-.4-2.9-1.9-1.7,.3z"/><path color=#3c46ec d="M152.6,236.8l5,.4-2.9-4.2-5-.9z"/><path color=#3e3bde d="M266.5,240.6l1.6,0-2.9,.6-1.6,.3z"/><path color=#2c66f4 d="M108,221.8l3.4,1.5-2.9-1.4-3.4-.2z"/><path color=#3e3bdd d="M198.8,243.2l1.7-1-2.9-2.4-1.7-.4z"/><path color=#3458f1 d="M400.1,234.9l3.4-3.8-2.9-9.5-3.4,4z"/><path color=#3e39dc d="M243.3,242.5l1.7,.2-2.9-1.4-1.7-.1z"/><path color=#3d43e8 d="M353.9,239.2l5-.7-2.9-3.6-5,.8z"/><path color=#3d3ce0 d="M287.9,240.3l1.7,0-2.9-.1-1.7,.3z"/><path color=#3d43e7 d="M377,240.5l3.3-1.1-2.8-5-3.4,.5z"/><path color=#3e38db d="M220.2,243.7l1.7-.3-2.9-2-1.7-.4z"/><path color=#3d42e7 d="M330.7,237.6l5.1-.5-2.9-.2-5.1,.7z"/><path color=#2d64f4 d="M415,228.1l3.4-2.7-1.5-6.3-3.3,2.7z"/><path color=#3e3bde d="M264.8,240.5l1.7,.1-2.9,.9-1.7-.2z"/><path color=#3e3bde d="M197.1,242.3l1.7,.9-2.9-3.8-1.7,.1z"/><path color=#325bf2 d="M403.5,231.1l3.3-3.1-1.4-5.4-3.4,3.8z"/><path color=#3d40e4 d="M307.6,239.1l5.1-.4-2.9,0-5.1,.2z"/><path color=#3e39dc d="M241.7,242.6l1.6-.1-2.9-1.3-1.6,.7z"/><path color=#3d3de0 d="M286.2,240.1l1.7,.2-2.9,.2-1.7-.1z"/><path color=#3457f1 d="M127.8,229.9l3.3,.3-2.9-2.9-3.3-.5z"/><path color=#3e39db d="M218.5,243l1.7,.7-2.9-2.7-1.7-.1z"/><path color=#3e3cdf d="M263.1,240.3l1.7,.2-2.9,.8-1.7,.3z"/><path color=#2a69f4 d="M104.6,219.5l3.4,2.3-2.9-.1-3.4,.4z"/><path color=#3e3bde d="M195.4,242.5l1.7-.2-2.9-2.8-1.7,.3z"/><path color=#384fef d="M396.7,237.6l3.4-2.7-2.9-9.3-3.4,3.9z"/><path color=#3e39dc d="M240,242.8l1.7-.2-2.9-.7-1.7-.6z"/><path color=#3d40e4 d="M170.6,240.9l5.1-.5-2.9-3.7-5.1,0z"/><path color=#3d3de0 d="M284.5,240.9l1.7-.8-2.9,.3-1.7,.5z"/><path color=#3d41e6 d="M373.6,241.4l3.4-.9-2.9-5.6-3.4,1.5z"/><path color=#3e39db d="M216.9,244.1l1.6-1.1-2.9-2.1-1.6,.7z"/><path color=#3c48ee d="M147.5,236.7l5.1,.1-2.9-4.7-5.1-.1z"/><path color=#305ef2 d="M411.6,230.5l3.4-2.4-1.4-6.3-3.4,2.7z"/><path color=#3e3cdf d="M261.4,240.1l1.7,.2-2.9,1.3-1.7,.1z"/><path color=#3e3bde d="M193.7,242.8l1.7-.3-2.9-2.7-1.7-.3z"/><path color=#3e3adc d="M238.3,243.1l1.7-.3-2.9-1.5-1.7-.5z"/><path color=#3d42e7 d="M348.8,239.5l5.1-.3-2.9-3.5-5.1,1.4z"/><path color=#3d3de0 d="M282.8,240.3l1.7,.6-2.9,0-1.7-.1z"/><path color=#3359f1 d="M124.4,228.6l3.4,1.3-2.9-3.1-3.4-.5z"/><path color=#3e39db d="M215.2,243.7l1.7,.4-2.9-2.5-1.7-.4z"/><path color=#3d42e7 d="M325.7,237.9l5-.3-2.9,0-5,.3z"/><path color=#3d3ce0 d="M259.7,240.1l1.7,0-2.9,1.6-1.7-.2z"/><path color=#276df3 d="M101.3,218.2l3.3,1.3-2.9,2.6-3.3-1.6z"/><path color=#3e3bde d="M192.1,243.4l1.6-.6-2.9-3.3-1.6,.3z"/><path color=#3d40e4 d="M302.6,239.7l5-.6-2.9-.2-5,.2z"/><path color=#3c48ee d="M393.4,240.3l3.3-2.7-2.9-8.1-3.3,3.6z"/><path color=#3359f1 d="M419.8,231.6l5.1,0-1.5-6.6-5,.4z"/><path color=#3e3add d="M236.6,242.7l1.7,.4-2.9-2.3-1.7,.5z"/><path color=#3d3de0 d="M281.1,240.8l1.7-.5-2.9,.5-1.7,.4z"/><path color=#3d41e5 d="M370.2,241.2l3.4,.2-2.9-5-3.4,.5z"/><path color=#3e39db d="M213.5,243.8l1.7-.1-2.9-2.5-1.7,.6z"/><path color=#3458f1 d="M408.3,233l3.3-2.5-1.4-6-3.4,3.5z"/><path color=#3d3de0 d="M258,240.2l1.7-.1-2.9,1.4-1.7,.1z"/><path color=#3e3bde d="M190.4,242.7l1.7,.7-2.9-3.6-1.7,.4z"/><path color=#3e3add d="M234.9,242.8l1.7-.1-2.9-1.4-1.7,.5z"/><path color=#3d40e5 d="M165.6,241.2l5-.3-2.9-4.2-5,0z"/><path color=#3d3de0 d="M279.5,240.8l1.6,0-2.9,.4-1.6-.5z"/><path color=#315df2 d="M121,227.1l3.4,1.5-2.9-2.3-3.4-1.5z"/><path color=#3e39db d="M211.8,244.5l1.7-.7-2.9-2-1.7,.1z"/><path color=#3b4aee d="M142.5,236.1l5,.6-2.9-4.7-5-.3z"/><path color=#3d3de0 d="M256.3,240.1l1.7,.1-2.9,1.4-1.7,.2z"/><path color=#2570f3 d="M97.9,217.6l3.4,.6-2.9,2.3-3.4-.2z"/><path color=#3e3bde d="M188.7,243.5l1.7-.8-2.9-2.5-1.7-.1z"/><path color=#3d40e4 d="M300.9,239.4l1.7,.3-2.9-.6-1.7,.1z"/><path color=#3d44e9 d="M390,242l3.4-1.7-2.9-7.2-3.4,1.8z"/><path color=#3e3adc d="M233.2,243.5l1.7-.7-2.9-1-1.7-.1z"/><path color=#3d42e7 d="M343.8,239.8l5-.3-2.9-2.4-5,0z"/><path color=#3d3de1 d="M277.8,240.3l1.7,.5-2.9-.1-1.7,.4z"/><path color=#3d40e4 d="M366.9,241.7l3.3-.5-2.9-4.3-3.3,1.3z"/><path color=#3e39db d="M210.1,244.3l1.7,.2-2.9-2.6-1.7,.3z"/><path color=#3456f1 d="M416.5,234.3l3.3-2.7-1.4-6.2-3.4,2.7z"/><path color=#3d43e7 d="M320.6,238.4l5.1-.5-2.9,0-5.1,.3z"/><path color=#3751f0 d="M404.9,236.2l3.4-3.2-1.5-5-3.3,3.1z"/><path color=#3d3de1 d="M254.7,239.8l1.6,.3-2.9,1.7-1.6-.4z"/><path color=#3e3bde d="M187,243.2l1.7,.3-2.9-3.4-1.7,.1z"/><path color=#3d40e4 d="M299.2,239.9l1.7-.5-2.9-.2-1.7,.4z"/><path color=#3e3adc d="M231.5,243.6l1.7-.1-2.9-1.8-1.7,.6z"/><path color=#3d3ee1 d="M276.1,240.6l1.7-.3-2.9,.8-1.7-.1z"/><path color=#2e62f3 d="M117.7,224.9l3.3,2.2-2.9-2.3-3.3-1z"/><path color=#3e39db d="M208.4,244.3l1.7,0-2.9-2.1-1.7,.5z"/><path color=#3d3ee1 d="M253,240.4l1.7-.6-2.9,1.6-1.7,.5z"/><path color=#2374f2 d="M94.5,215.8l3.4,1.8-2.9,2.7-3.4-1.2z"/><path color=#3e3cdf d="M185.3,243.2l1.7,0-2.9-3-1.7-.1z"/><path color=#3d40e4 d="M297.5,239.7l1.7,.2-2.9-.3-1.7,.3z"/><path color=#3d40e5 d="M386.6,243.9l3.4-1.9-2.9-7.1-3.4,2.8z"/><path color=#3e3adc d="M229.9,243.6l1.6,0-2.9-1.3-1.6,0z"/><path color=#3d41e5 d="M160.5,241l5.1,.2-2.9-4.5-5.1,.5z"/><path color=#3d3ee2 d="M274.4,240.2l1.7,.4-2.9,.4-1.7-.1z"/><path color=#3e39db d="M206.7,244.9l1.7-.6-2.9-1.6-1.7-.9z"/><path color=#3751f0 d="M413.1,236.5l3.4-2.2-1.5-6.2-3.4,2.4z"/><path color=#394def d="M137.4,235l5.1,1.1-2.9-4.4-5.1-.6z"/><path color=#3b49ee d="M401.5,239.5l3.4-3.3-1.4-5.1-3.4,3.8z"/><path color=#3d3de1 d="M251.3,240.2l1.7,.2-2.9,1.5-1.7,.1z"/><path color=#3e3cdf d="M183.6,243.7l1.7-.5-2.9-3.1-1.7,.4z"/><path color=#3d3fe3 d="M361.8,242.8l5.1-1.1-2.9-3.5-5.1,.3z"/><path color=#3d40e4 d="M295.8,240.2l1.7-.5-2.9,.2-1.7-.2z"/><path color=#3e3adc d="M228.2,244l1.7-.4-2.9-1.3-1.7,.2z"/><path color=#3d42e7 d="M338.7,240.7l5.1-.9-2.9-2.7-5.1,0z"/><path color=#3d3fe3 d="M272.7,239.7l1.7,.5-2.9,.7-1.7,.2z"/><path color=#2c66f4 d="M114.3,223.5l3.4,1.4-2.9-1.1-3.4-.5z"/><path color=#3e39dc d="M205.1,244.5l1.6,.4-2.9-3.1-1.6,.2z"/><path color=#3d43e7 d="M315.6,238.9l5-.5-2.9-.2-5,.5z"/><path color=#3d3de1 d="M249.6,240.9l1.7-.7-2.9,1.8-1.7-.1z"/><path color=#2177f2 d="M91.2,214.5l3.3,1.3-2.9,3.3-3.3,.4z"/><path color=#394def d="M421.3,236.9l5-.5-1.4-4.8-5.1,0z"/><path color=#3d40e4 d="M294.1,240.1l1.7,.1-2.9-.5-1.6,.2z"/><path color=#3d3de0 d="M383.2,245.8l3.4-1.9-2.9-6.2-3.4,1.7z"/><path color=#3e39db d="M226.5,244.7l1.7-.7-2.9-1.5-1.7,.5z"/><path color=#3d40e3 d="M271,239.7l1.7,0-2.9,1.4-1.7-.5z"/><path color=#3e39dc d="M203.4,245l1.7-.5-2.9-2.5-1.7,.2z"/><path color=#3a4cef d="M409.7,237.9l3.4-1.4-1.5-6-3.3,2.5z"/><path color=#3d3de1 d="M247.9,240.3l1.7,.6-2.9,1-1.7,.8z"/><path color=#3e3cdf d="M178.6,243.9l5-.2-2.9-3.2-5-.1z"/><path color=#3d40e4 d="M292.5,239.7l1.6,.4-2.8-.2-1.7,.4z"/><path color=#3850f0 d="M134,234.1l3.4,.9-2.9-3.9-3.4-.9z"/><path color=#3e39db d="M224.8,244.7l1.7,0-2.9-1.7-1.7,.4z"/><path color=#3d42e6 d="M155.5,241.1l5-.1-2.9-3.8-5-.4z"/><path color=#3d40e4 d="M269.3,239.3l1.7,.4-2.9,.9-1.6,0z"/><path color=#296bf3 d="M110.9,220.5l3.4,3-2.9-.2-3.4-1.5z"/><path color=#3e39db d="M201.7,245l1.7,0-2.9-2.8-1.7,1z"/><path color=#3d3ee1 d="M246.2,240.2l1.7,.1-2.9,2.4-1.7-.2z"/><path color=#2079f2 d="M87.8,214.2l3.4,.3-2.9,5-3.4-.4z"/><path color=#3d3fe3 d="M356.8,243.1l5-.3-2.9-4.3-5,.7z"/><path color=#3d40e4 d="M290.8,240.2l1.7-.5-2.9,.6-1.7,0z"/><path color=#3e3bde d="M379.9,246.1l3.3-.3-2.9-6.4-3.3,1.1z"/><path color=#3e39db d="M223.1,244.8l1.7-.1-2.9-1.3-1.7,.3z"/><path color=#3d43e7 d="M333.6,240.5l5.1,.2-2.9-3.6-5.1,.5z"/><path color=#3b4bef d="M417.9,238.7l3.4-1.8-1.5-5.3-3.3,2.7z"/><path color=#3d41e5 d="M267.7,239.3l1.6,0-2.8,1.3-1.7-.1z"/><path color=#3e39db d="M200,245.5l1.7-.5-2.9-1.8-1.7-.9z"/><path color=#3c47ec d="M406.4,241.3l3.3-3.4-1.4-4.9-3.4,3.2z"/><path color=#3d43e7 d="M310.5,239.3l5.1-.4-2.9-.2-5.1,.4z"/><path color=#3d3ee1 d="M244.5,241.1l1.7-.9-2.9,2.3-1.6,.1z"/><path color=#3d40e5 d="M289.1,240.2l1.7,0-2.9,.1-1.7-.2z"/><path color=#3653f0 d="M130.7,232.7l3.3,1.4-2.9-3.9-3.3-.3z"/><path color=#3e39db d="M221.4,245.7l1.7-.9-2.9-1.1-1.7-.7z"/><path color=#3d42e6 d="M266,238.5l1.7,.8-2.9,1.2-1.7-.2z"/><path color=#2571f3 d="M107.5,218.8l3.4,1.7-2.9,1.3-3.4-2.3z"/><path color=#3e39dc d="M198.3,245.3l1.7,.2-2.9-3.2-1.7,.2z"/><path color=#3d40e4 d="M399.6,246.3l3.4-2.3-2.9-9.1-3.4,2.7z"/><path color=#3d3de1 d="M242.9,241.3l1.6-.2-2.8,1.5-1.7,.2z"/><path color=#1f7af1 d="M84.4,213.7l3.4,.5-2.9,4.9-3.4-.1z"/><path color=#3d3cdf d="M173.5,244.5l5.1-.6-2.9-3.5-5.1,.5z"/><path color=#3d40e4 d="M287.4,240.8l1.7-.6-2.9-.1-1.7,.8z"/><path color=#3e3add d="M376.5,246.9l3.4-.8-2.9-5.6-3.4,.9z"/><path color=#3e38da d="M219.7,245.4l1.7,.3-2.9-2.7-1.6,1.1z"/><path color=#3d43e8 d="M150.4,240.5l5.1,.6-2.9-4.3-5.1-.1z"/><path color=#3d42e7 d="M264.3,238.6l1.7-.1-2.9,1.8-1.7-.2z"/><path color=#3e39dc d="M196.6,245.3l1.7,0-2.9-2.8-1.7,.3z"/><path color=#3d41e5 d="M403,244l3.4-2.7-1.5-5.1-3.4,3.3z"/><path color=#3d3de0 d="M241.2,241.4l1.7-.1-2.9,1.5-1.7,.3z"/><path color=#3d3fe3 d="M351.7,243.8l5.1-.7-2.9-3.9-5.1,.3z"/><path color=#3d40e4 d="M285.7,240.4l1.7,.4-2.9,.1-1.7-.6z"/><path color=#3457f1 d="M127.3,230.9l3.4,1.8-2.9-2.8-3.4-1.3z"/><path color=#3e38da d="M218.1,245.9l1.6-.5-2.8-1.3-1.7-.4z"/><path color=#3d43e8 d="M328.6,241l5-.5-2.9-2.9-5,.3z"/><path color=#3d43e8 d="M262.6,237.9l1.7,.7-2.9,1.5-1.7,0z"/><path color=#2176f2 d="M104.2,217.4l3.3,1.4-2.9,.7-3.3-1.3z"/><path color=#3e39db d="M194.9,245.8l1.7-.5-2.9-2.5-1.6,.6z"/><path color=#3d43e8 d="M305.5,239.6l5-.3-2.9-.2-5,.6z"/><path color=#3d3cdf d="M396.2,248l3.4-1.7-2.9-8.7-3.3,2.7z"/><path color=#3d44e9 d="M422.7,242.2l5.1-1-1.5-4.8-5,.5z"/><path color=#3d3de1 d="M239.5,241.8l1.7-.4-2.9,1.7-1.7-.4z"/><path color=#1e7bf1 d="M81.1,214.2l3.3-.5-2.9,5.3-3.3,.4z"/><path color=#3d41e5 d="M284,240.3l1.7,.1-2.9-.1-1.7,.5z"/><path color=#3e3adc d="M373.1,247.8l3.4-.9-2.9-5.5-3.4-.2z"/><path color=#3e38da d="M216.4,246.3l1.7-.4-2.9-2.2-1.7,.1z"/><path color=#3d43e8 d="M260.9,238.3l1.7-.4-2.9,2.2-1.7,.1z"/><path color=#3e39db d="M193.3,246l1.6-.2-2.8-2.4-1.7-.7z"/><path color=#3d3ee1 d="M237.8,241.6l1.7,.2-2.9,.9-1.7,.1z"/><path color=#3d3ce0 d="M168.5,244.5l5,0-2.9-3.6-5,.3z"/><path color=#3d41e5 d="M282.4,239.9l1.6,.4-2.9,.5-1.6,0z"/><path color=#315cf2 d="M123.9,228.8l3.4,2.1-2.9-2.3-3.4-1.5z"/><path color=#3e38da d="M214.7,246.2l1.7,.1-2.9-2.5-1.7,.7z"/><path color=#3c45ea d="M145.3,239.9l5.1,.6-2.9-3.8-5-.6z"/><path color=#3d43e8 d="M416,245.1l3.4-2-2.9-8.8-3.4,2.2z"/><path color=#3d44e9 d="M259.2,238l1.7,.3-2.9,1.9-1.7-.1z"/><path color=#1e7bf1 d="M100.8,214.3l3.4,3.1-2.9,.8-3.4-.6z"/><path color=#3e39dc d="M191.6,245.7l1.7,.3-2.9-3.3-1.7,.8z"/><path color=#3d43e8 d="M303.8,239.3l1.7,.3-2.9,.1-1.7-.3z"/><path color=#3e39db d="M392.9,249.8l3.3-1.8-2.8-7.7-3.4,1.7z"/><path color=#3d3de1 d="M236.1,242.1l1.7-.5-2.9,1.2-1.7,.7z"/><path color=#3d3fe3 d="M346.6,244.3l5.1-.5-2.9-4.3-5,.3z"/><path color=#3d42e6 d="M280.7,240.5l1.7-.6-2.9,.9-1.7-.5z"/><path color=#3e3adc d="M369.8,248.3l3.3-.5-2.9-6.6-3.3,.5z"/><path color=#3e38da d="M213,246l1.7,.2-2.9-1.7-1.7-.2z"/><path color=#3d42e7 d="M419.4,243.1l3.3-.9-1.4-5.3-3.4,1.8z"/><path color=#3d43e8 d="M323.5,241.3l5.1-.3-2.9-3.1-5.1,.5z"/><path color=#3c44e9 d="M257.6,238l1.6,0-2.9,2.1-1.6-.3z"/><path color=#3e39dc d="M189.9,245.8l1.7-.1-2.9-2.2-1.7-.3z"/><path color=#3d43e8 d="M302.1,239.6l1.7-.3-2.9,.1-1.7,.5z"/><path color=#3d3de0 d="M234.4,242.6l1.7-.5-2.9,1.4-1.7,.1z"/><path color=#3d42e7 d="M279,239.7l1.7,.8-2.9-.2-1.7,.3z"/><path color=#2e62f3 d="M120.5,226.2l3.4,2.6-2.9-1.7-3.3-2.2z"/><path color=#3e38da d="M211.3,246.8l1.7-.8-2.9-1.7-1.7,0z"/><path color=#3d40e4 d="M412.6,246.9l3.4-1.8-2.9-8.6-3.4,1.4z"/><path color=#3c45ea d="M255.9,237.2l1.7,.8-2.9,1.8-1.7,.6z"/><path color=#1b80f1 d="M97.4,213l3.4,1.3-2.9,3.3-3.4-1.8z"/><path color=#3e3adc d="M188.2,246.4l1.7-.6-2.9-2.6-1.7,0z"/><path color=#3d43e8 d="M300.4,240.1l1.7-.5-2.9,.3-1.7-.2z"/><path color=#3e37d7 d="M389.5,251.3l3.4-1.5-2.9-7.8-3.4,1.9z"/><path color=#3d3de0 d="M232.8,242.8l1.6-.2-2.9,1-1.6,0z"/><path color=#3d3de0 d="M163.4,244.6l5.1-.1-2.9-3.3-5.1-.2z"/><path color=#3d43e8 d="M277.3,239.4l1.7,.3-2.9,.9-1.7-.4z"/><path color=#3e38da d="M209.6,246.7l1.7,.1-2.9-2.5-1.7,.6z"/><path color=#3c48ee d="M140.3,238.5l5,1.4-2.8-3.8-5.1-1.1z"/><path color=#3c45ea d="M254.2,238.2l1.7-1-2.9,3.2-1.7-.2z"/><path color=#3e39dc d="M186.5,246.4l1.7,0-2.9-3.2-1.7,.5z"/><path color=#3e39db d="M364.7,248.5l5.1-.2-2.9-6.6-5.1,1.1z"/><path color=#3d43e8 d="M298.7,239.9l1.7,.2-2.9-.4-1.7,.5z"/><path color=#3d3cdf d="M231.1,243.7l1.7-.9-2.9,.8-1.7,.4z"/><path color=#3d3fe3 d="M341.6,244.4l5-.1-2.8-4.5-5.1,.9z"/><path color=#3c44e9 d="M275.6,238.9l1.7,.5-2.9,.8-1.7-.5z"/><path color=#2b68f4 d="M117.2,224.3l3.3,1.9-2.8-1.3-3.4-1.4z"/><path color=#3e38da d="M208,246.7l1.6,0-2.9-1.8-1.6-.4z"/><path color=#3d43e8 d="M318.5,241.8l5-.5-2.9-2.9-5,.5z"/><path color=#3d3ce0 d="M409.3,248.9l3.3-2-2.9-9-3.3,3.4z"/><path color=#3c45ea d="M252.5,238l1.7,.2-2.9,2-1.7,.7z"/><path color=#1785f0 d="M94.1,209.5l3.3,3.5-2.9,2.8-3.3-1.3z"/><path color=#3d43e8 d="M297,240.1l1.7-.2-2.9,.3-1.7-.1z"/><path color=#3d35d3 d="M386.1,251.9l3.4-.6-2.9-7.4-3.4,1.9z"/><path color=#3e3cdf d="M229.4,243.8l1.7-.1-2.9,.3-1.7,.7z"/><path color=#3c45ea d="M273.9,239l1.7-.1-2.9,.8-1.7,0z"/><path color=#3e38da d="M206.3,247.2l1.7-.5-2.9-2.2-1.7,.5z"/><path color=#3c45ea d="M250.8,238.2l1.7-.2-2.9,2.9-1.7-.6z"/><path color=#3e3adc d="M181.5,246.4l5,0-2.9-2.7-5,.2z"/><path color=#3d44e9 d="M295.4,239.8l1.6,.3-2.9,0-1.6-.4z"/><path color=#3a4bef d="M136.9,237.8l3.4,.7-2.9-3.5-3.4-.9z"/><path color=#3e3bde d="M227.7,244.1l1.7-.3-2.9,.9-1.7,0z"/><path color=#3d3ee2 d="M158.4,244.2l5,.4-2.9-3.6-5,.1z"/><path color=#3c46eb d="M272.2,238l1.7,1-2.9,.7-1.7-.4z"/><path color=#266ff3 d="M113.8,221.1l3.4,3.2-2.9-.8-3.4-3z"/><path color=#3e38da d="M204.6,246.6l1.7,.6-2.9-2.2-1.7,0z"/><path color=#3e39db d="M405.9,250.2l3.4-1.3-2.9-7.6-3.4,2.7z"/><path color=#3c45eb d="M249.1,238.3l1.7-.1-2.9,2.1-1.7-.1z"/><path color=#1687ef d="M90.7,208.6l3.4,.9-2.9,5-3.4-.3z"/><path color=#3e39db d="M359.7,248.9l5-.4-2.9-5.7-5,.3z"/><path color=#3c44e9 d="M293.7,239.9l1.7-.1-2.9-.1-1.7,.5z"/><path color=#3d34d1 d="M382.8,252.8l3.3-.9-2.9-6.1-3.3,.3z"/><path color=#3e3bde d="M226,244.6l1.7-.5-2.9,.6-1.7,.1z"/><path color=#3d3fe3 d="M336.5,244.9l5.1-.5-2.9-3.7-5.1-.2z"/><path color=#3c47ed d="M270.6,236.8l1.6,1.2-2.9,1.3-1.6,0z"/><path color=#3e38da d="M202.9,247.3l1.7-.7-2.9-1.6-1.7,.5z"/><path color=#3d44e8 d="M313.4,241.5l5.1,.3-2.9-2.9-5.1,.4z"/><path color=#3c45ea d="M247.4,239l1.7-.7-2.9,1.9-1.7,.9z"/><path color=#3e3add d="M425.6,249.8l5.1-.8-2.9-7.8-5.1,1z"/><path color=#3c44e9 d="M292,239.9l1.7,0-2.9,.3-1.7,0z"/><path color=#384fef d="M133.6,235.2l3.3,2.6-2.9-3.7-3.3-1.4z"/><path color=#3e3add d="M224.3,245.3l1.7-.7-2.9,.2-1.7,.9z"/><path color=#3c49ee d="M268.9,236.8l1.7,0-2.9,2.5-1.7-.8z"/><path color=#2177f2 d="M110.4,217.4l3.4,3.7-2.9-.6-3.4-1.7z"/><path color=#3e38da d="M201.2,247.2l1.7,.1-2.9-1.8-1.7-.2z"/><path color=#3e36d6 d="M402.5,251.8l3.4-1.6-2.9-6.2-3.4,2.3z"/><path color=#3c44e9 d="M245.8,238.8l1.6,.2-2.9,2.1-1.6,.2z"/><path color=#1688ee d="M87.3,209.6l3.4-1-2.9,5.6-3.4-.5z"/><path color=#3e3adc d="M176.4,247.2l5.1-.8-2.9-2.5-5.1,.6z"/><path color=#3d44e9 d="M290.3,240.5l1.7-.6-2.9,.3-1.7,.6z"/><path color=#3d34d0 d="M379.4,253.2l3.4-.4-2.9-6.7-3.4,.8z"/><path color=#3e3adc d="M222.6,245.6l1.7-.3-2.9,.4-1.7-.3z"/><path color=#3d40e4 d="M153.3,243.9l5.1,.3-2.9-3.1-5.1-.6z"/><path color=#3b4aee d="M267.2,236.2l1.7,.6-2.9,1.7-1.7,.1z"/><path color=#3e38da d="M199.5,247.8l1.7-.6-2.9-1.9-1.7,0z"/><path color=#3c44e9 d="M244.1,239.5l1.7-.7-2.9,2.5-1.7,.1z"/><path color=#3e39db d="M354.6,249.4l5.1-.5-2.9-5.8-5.1,.7z"/><path color=#3c44ea d="M288.6,239.4l1.7,1.1-2.9,.3-1.7-.4z"/><path color=#3555f1 d="M130.2,233.1l3.4,2.1-2.9-2.5-3.4-1.8z"/><path color=#3e3adc d="M221,245.8l1.6-.2-2.9-.2-1.6,.5z"/><path color=#3d3fe3 d="M331.5,245.4l5-.5-2.9-4.4-5,.5z"/><path color=#3e39db d="M422.3,250.4l3.3-.6-2.9-7.6-3.3,.9z"/><path color=#3a4bef d="M265.5,235.9l1.7,.3-2.9,2.4-1.7-.7z"/><path color=#1c7ff1 d="M107.1,213.7l3.3,3.7-2.9,1.4-3.3-1.4z"/><path color=#3e38da d="M197.8,247.9l1.7-.1-2.9-2.5-1.7,.5z"/><path color=#3c44e9 d="M308.4,242l5-.5-2.9-2.2-5,.3z"/><path color=#3d34d0 d="M399.1,253.7l3.4-1.9-2.9-5.5-3.4,1.7z"/><path color=#3d44e9 d="M242.4,239.4l1.7,.1-2.9,1.9-1.7,.4z"/><path color=#1688ee d="M84,208.9l3.3,.7-2.9,4.1-3.3,.5z"/><path color=#3c45eb d="M286.9,239.5l1.7-.1-2.9,1-1.7-.1z"/><path color=#3d33cf d="M376,254.3l3.4-1.1-2.9-6.3-3.4,.9z"/><path color=#3e3adc d="M219.3,246l1.7-.2-2.9,.1-1.7,.4z"/><path color=#3a4cef d="M263.8,235.5l1.7,.4-2.9,2-1.7,.4z"/><path color=#3e38da d="M196.2,247.8l1.6,.1-2.9-2.1-1.6,.2z"/><path color=#3d44e9 d="M240.7,240l1.7-.6-2.9,2.4-1.7-.2z"/><path color=#3e3adc d="M171.4,247.5l5-.3-2.9-2.7-5,0z"/><path color=#3c46eb d="M285.2,239.7l1.7-.2-2.9,.8-1.6-.4z"/><path color=#315cf2 d="M126.8,230l3.4,3.1-2.9-2.2-3.4-2.1z"/><path color=#3e39dc d="M217.6,246.5l1.7-.5-2.9,.3-1.7-.1z"/><path color=#3d42e6 d="M148.2,242.6l5.1,1.3-2.9-3.4-5.1-.6z"/><path color=#3e38d9 d="M418.9,251.3l3.4-.9-2.9-7.3-3.4,2z"/><path color=#394def d="M262.1,235.6l1.7-.1-2.9,2.8-1.7-.3z"/><path color=#1885f0 d="M103.7,212.5l3.4,1.2-2.9,3.7-3.4-3.1z"/><path color=#3e38da d="M194.5,247.9l1.7-.1-2.9-1.8-1.7-.3z"/><path color=#3c44e9 d="M306.7,242.3l1.7-.3-2.9-2.4-1.7-.3z"/><path color=#3d32cc d="M395.8,254.9l3.3-1.2-2.9-5.7-3.3,1.8z"/><path color=#3d44e9 d="M239,240.3l1.7-.3-2.9,1.6-1.7,.5z"/><path color=#3e39db d="M349.5,249.9l5.1-.5-2.9-5.6-5.1,.5z"/><path color=#3c46ec d="M283.6,238.6l1.6,1.1-2.8,.2-1.7,.6z"/><path color=#3d32cd d="M372.7,254.7l3.3-.4-2.9-6.5-3.3,.5z"/><path color=#3e3adc d="M215.9,246.4l1.7,.1-2.9-.3-1.7-.2z"/><path color=#3d40e3 d="M326.4,245.8l5.1-.4-2.9-4.4-5.1,.3z"/><path color=#394def d="M260.4,235.4l1.7,.2-2.9,2.4-1.6,0z"/><path color=#3e38db d="M192.8,248.2l1.7-.3-2.9-2.2-1.7,.1z"/><path color=#3c45ea d="M305,242l1.7,.3-2.9-3-1.7,.3z"/><path color=#3d43e8 d="M237.3,240.8l1.7-.5-2.9,1.8-1.7,.5z"/><path color=#3c47ed d="M281.9,238.5l1.7,.1-2.9,1.9-1.7-.8z"/><path color=#2d63f3 d="M123.4,227.6l3.4,2.4-2.9-1.2-3.4-2.6z"/><path color=#3e39dc d="M214.2,246.7l1.7-.3-2.9-.4-1.7,.8z"/><path color=#3e36d5 d="M415.5,252.6l3.4-1.3-2.9-6.2-3.4,1.8z"/><path color=#394fef d="M258.8,235.2l1.6,.2-2.8,2.6-1.7-.8z"/><path color=#1688ee d="M100.3,209.3l3.4,3.2-2.9,1.8-3.4-1.3z"/><path color=#3e38da d="M191.1,248.5l1.7-.3-2.9-2.4-1.7,.6z"/><path color=#3c44e9 d="M303.3,242.5l1.7-.5-2.9-2.4-1.7,.5z"/><path color=#3c30c8 d="M392.4,256l3.4-1.1-2.9-5.1-3.4,1.5z"/><path color=#3d42e7 d="M235.6,241.6l1.7-.8-2.9,1.8-1.6,.2z"/><path color=#3e3add d="M166.3,247.6l5.1-.1-2.9-3-5.1,.1z"/><path color=#3b49ee d="M280.2,237.4l1.7,1.1-2.9,1.2-1.7-.3z"/><path color=#3e39db d="M212.5,247l1.7-.3-2.9,.1-1.7-.1z"/><path color=#3c45ea d="M143.2,240.8l5,1.8-2.9-2.7-5-1.4z"/><path color=#384fef d="M257.1,234.9l1.7,.3-2.9,2-1.7,1z"/><path color=#3e38da d="M189.4,248.5l1.7,0-2.9-2.1-1.7,0z"/><path color=#3d32cd d="M367.6,254.7l5.1,0-2.9-6.4-5.1,.2z"/><path color=#3c44ea d="M301.6,242.1l1.7,.4-2.9-2.4-1.7-.2z"/><path color=#3d42e6 d="M234,241.9l1.6-.3-2.8,1.2-1.7,.9z"/><path color=#3e39db d="M344.5,249.8l5,.1-2.9-5.6-5,.1z"/><path color=#3a4bef d="M278.5,236.3l1.7,1.1-2.9,2-1.7-.5z"/><path color=#296bf3 d="M120.1,223.9l3.3,3.7-2.9-1.4-3.3-1.9z"/><path color=#3e39dc d="M210.8,246.8l1.7,.2-2.9-.3-1.6,0z"/><path color=#3d40e4 d="M321.4,245.8l5,0-2.9-4.5-5,.5z"/><path color=#3d34d1 d="M412.1,254.4l3.4-1.8-2.9-5.7-3.3,2z"/><path color=#384fef d="M255.4,235.4l1.7-.5-2.9,3.3-1.7-.2z"/><path color=#138bec d="M97,206.4l3.3,2.9-2.9,3.7-3.3-3.5z"/><path color=#3c45ea d="M299.9,243l1.7-.9-2.9-2.2-1.7,.2z"/><path color=#3c2fc6 d="M389,257l3.4-1-2.9-4.7-3.4,.6z"/><path color=#3d41e5 d="M232.3,242.7l1.7-.8-2.9,1.8-1.7,.1z"/><path color=#394def d="M276.8,235.3l1.7,1-2.9,2.6-1.7,.1z"/><path color=#3e39dc d="M209.2,247.1l1.6-.3-2.8-.1-1.7,.5z"/><path color=#384fef d="M253.7,235.8l1.7-.4-2.9,2.6-1.7,.2z"/><path color=#3e38da d="M184.4,249.1l5-.6-2.9-2.1-5,0z"/><path color=#3c45ea d="M298.3,242.2l1.6,.8-2.9-2.9-1.6-.3z"/><path color=#3c49ee d="M139.8,239.2l3.4,1.6-2.9-2.3-3.4-.7z"/><path color=#3d40e5 d="M230.6,243.2l1.7-.5-2.9,1.1-1.7,.3z"/><path color=#3e3cdf d="M161.2,247.2l5.1,.4-2.9-3-5-.4z"/><path color=#384fef d="M275.1,234.6l1.7,.7-2.9,3.7-1.7-1z"/><path color=#2374f2 d="M116.7,220l3.4,3.9-2.9,.4-3.4-3.2z"/><path color=#3e3adc d="M207.5,247.5l1.7-.4-2.9,.1-1.7-.6z"/><path color=#3d32cc d="M408.8,255.8l3.3-1.4-2.8-5.5-3.4,1.3z"/><path color=#384fef d="M252,235.4l1.7,.4-2.9,2.4-1.7,.1z"/><path color=#128eeb d="M93.6,207.1l3.4-.7-2.9,3.1-3.4-.9z"/><path color=#3d33ce d="M362.5,255.1l5.1-.4-2.9-6.2-5,.4z"/><path color=#3c45eb d="M296.6,242.6l1.7-.4-2.9-2.4-1.7,.1z"/><path color=#3c2ec5 d="M385.7,257.1l3.3-.1-2.9-5.1-3.3,.9z"/><path color=#3d40e4 d="M228.9,243.5l1.7-.3-2.9,.9-1.7,.5z"/><path color=#3e3adc d="M339.4,250.2l5.1-.4-2.9-5.4-5.1,.5z"/><path color=#3653f0 d="M273.5,232.8l1.6,1.8-2.9,3.4-1.6-1.2z"/><path color=#3e3adc d="M205.8,247.5l1.7,0-2.9-.9-1.7,.7z"/><path color=#3d41e5 d="M316.3,245.7l5.1,.1-2.9-4-5.1-.3z"/><path color=#384fef d="M250.3,236l1.7-.6-2.9,2.9-1.7,.7z"/><path color=#3d32cc d="M428.5,256.2l5.1-.3-2.9-6.9-5.1,.8z"/><path color=#3c46eb d="M294.9,242.3l1.7,.3-2.9-2.7-1.7,0z"/><path color=#394eef d="M136.4,237.8l3.4,1.4-2.9-1.4-3.3-2.6z"/><path color=#3d3fe3 d="M227.2,244.5l1.7-1-2.9,1.1-1.7,.7z"/><path color=#3556f1 d="M271.8,231.8l1.7,1-2.9,4-1.7,0z"/><path color=#1d7df1 d="M113.3,218.2l3.4,1.8-2.9,1.1-3.4-3.7z"/><path color=#3e3adc d="M204.1,247.5l1.7,0-2.9-.2-1.7-.1z"/><path color=#3c30c9 d="M405.4,256.8l3.4-1-2.9-5.6-3.4,1.6z"/><path color=#394eef d="M248.7,236.2l1.6-.2-2.9,3-1.6-.2z"/><path color=#118feb d="M90.2,203.7l3.4,3.4-2.9,1.5-3.4,1z"/><path color=#3e39db d="M179.3,248.9l5.1,.2-2.9-2.7-5.1,.8z"/><path color=#3c46eb d="M293.2,242.4l1.7-.1-2.9-2.4-1.7,.6z"/><path color=#3c2ec4 d="M382.3,257.7l3.4-.6-2.9-4.3-3.4,.4z"/><path color=#3d3ee2 d="M225.5,244.6l1.7-.1-2.9,.8-1.7,.3z"/><path color=#3d3de1 d="M156.2,246.6l5,.6-2.8-3-5.1-.3z"/><path color=#3458f1 d="M270.1,231l1.7,.8-2.9,5-1.7-.6z"/><path color=#3458f1 d="M263.6,232.1l1.7,.2-1.5,3.2-1.7,.1z"/><path color=#3e39dc d="M202.4,248.2l1.7-.7-2.9-.3-1.7,.6z"/><path color=#394eef d="M247,236.2l1.7,0-2.9,2.6-1.7,.7z"/><path color=#3d33ce d="M357.5,255.8l5-.7-2.8-6.2-5.1,.5z"/><path color=#3c46ec d="M291.5,242.1l1.7,.3-2.9-1.9-1.7-1.1z"/><path color=#3654f0 d="M133.1,235.5l3.3,2.3-2.8-2.6-3.4-2.1z"/><path color=#3d3ee1 d="M223.9,245.7l1.6-1.1-2.9,1-1.6,.2z"/><path color=#3e3adc d="M334.4,250.2l5,0-2.9-5.3-5,.5z"/><path color=#3d31cb d="M425.2,256.9l3.3-.7-2.9-6.4-3.3,.6z"/><path color=#335af2 d="M268.4,230.1l1.7,.9-2.9,5.2-1.7-.3z"/><path color=#3359f1 d="M261.9,231.8l1.7,.3-1.5,3.5-1.7-.2z"/><path color=#1785ef d="M110,212.3l3.3,5.9-2.9-.8-3.3-3.7z"/><path color=#3e39db d="M200.7,247.8l1.7,.4-2.9-.4-1.7,.1z"/><path color=#3d41e6 d="M311.3,245.9l5-.2-2.9-4.2-5,.5z"/><path color=#3c2fc5 d="M402,258l3.4-1.2-2.9-5-3.4,1.9z"/><path color=#394eef d="M245.3,236.8l1.7-.6-2.9,3.3-1.7-.1z"/><path color=#1190ea d="M86.8,204.2l3.4-.5-2.9,5.9-3.3-.7z"/><path color=#3c47ed d="M289.8,241.9l1.7,.2-2.9-2.7-1.7,.1z"/><path color=#3c2ec3 d="M378.9,258.4l3.4-.7-2.9-4.5-3.4,1.1z"/><path color=#3d3ee1 d="M222.2,245.4l1.7,.3-2.9,.1-1.7,.2z"/><path color=#315cf2 d="M266.7,229.2l1.7,.9-2.9,5.8-1.7-.4z"/><path color=#335af2 d="M260.2,231.4l1.7,.4-1.5,3.6-1.6-.2z"/><path color=#3e3adc d="M199.1,247.7l1.6,.1-2.9,.1-1.6-.1z"/><path color=#394def d="M243.6,237.2l1.7-.4-2.9,2.6-1.7,.6z"/><path color=#3e39db d="M174.3,248.8l5,.1-2.9-1.7-5,.3z"/><path color=#3c48ee d="M288.1,241.2l1.7,.7-2.9-2.4-1.7,.2z"/><path color=#325cf2 d="M129.7,231.9l3.4,3.6-2.9-2.4-3.4-3.1z"/><path color=#3d3ee1 d="M220.5,245.6l1.7-.2-2.9,.6-1.7,.5z"/><path color=#3d40e4 d="M151.1,245.4l5.1,1.2-2.9-2.7-5.1-1.3z"/><path color=#3c30c9 d="M421.8,258.2l3.4-1.3-2.9-6.5-3.4,.9z"/><path color=#325bf2 d="M258.5,231.1l1.7,.3-1.4,3.8-1.7-.3z"/><path color=#1589ed d="M106.6,211.2l3.4,1.1-2.9,1.4-3.4-1.2z"/><path color=#3e3adc d="M197.4,248.5l1.7-.8-2.9,.1-1.7,.1z"/><path color=#3d42e6 d="M309.6,246l1.7-.1-2.9-3.9-1.7,.3z"/><path color=#3c2ec3 d="M398.7,258.6l3.3-.6-2.9-4.3-3.3,1.2z"/><path color=#3a4cef d="M241.9,238.1l1.7-.9-2.9,2.8-1.7,.3z"/><path color=#3d33ce d="M352.4,256l5.1-.2-2.9-6.4-5.1,.5z"/><path color=#3b4aee d="M286.5,240.4l1.6,.8-2.9-1.5-1.6-1.1z"/><path color=#3c2dc2 d="M375.6,258.9l3.3-.5-2.9-4.1-3.3,.4z"/><path color=#3d3de0 d="M218.8,246.4l1.7-.8-2.9,.9-1.7-.1z"/><path color=#3e3add d="M329.3,250.2l5.1,0-2.9-4.8-5.1,.4z"/><path color=#325bf2 d="M256.8,231.4l1.7-.3-1.4,3.8-1.7,.5z"/><path color=#3e39dc d="M195.7,248.7l1.7-.2-2.9-.6-1.7,.3z"/><path color=#3d42e6 d="M307.9,246.1l1.7-.1-2.9-3.7-1.7-.3z"/><path color=#3a4bef d="M240.2,238.2l1.7-.1-2.9,2.2-1.7,.5z"/><path color=#3a4cef d="M284.8,239.2l1.7,1.2-2.9-1.8-1.7-.1z"/><path color=#2d65f4 d="M126.3,228l3.4,3.9-2.9-1.9-3.4-2.4z"/><path color=#3d3de0 d="M217.1,246.3l1.7,.1-2.9,0-1.7,.3z"/><path color=#3c2fc7 d="M418.4,258.5l3.4-.3-2.9-6.9-3.4,1.3z"/><path color=#325af2 d="M255.2,232.1l1.6-.7-1.4,4-1.7,.4z"/><path color=#138cec d="M103.2,207.4l3.4,3.8-2.9,1.3-3.4-3.2z"/><path color=#3e39db d="M194,249.1l1.7-.4-2.9-.5-1.7,.3z"/><path color=#3d41e6 d="M306.2,246.8l1.7-.7-2.9-4.1-1.7,.5z"/><path color=#3c2dc1 d="M395.3,259.7l3.4-1.1-2.9-3.7-3.4,1.1z"/><path color=#3b4aee d="M238.5,239.5l1.7-1.3-2.9,2.6-1.7,.8z"/><path color=#3e39dc d="M169.2,249.9l5.1-1.1-2.9-1.3-5.1,.1z"/><path color=#384fef d="M283.1,238.2l1.7,1-2.9-.7-1.7-1.1z"/><path color=#3d3de0 d="M215.4,246.9l1.7-.6-2.9,.4-1.7,.3z"/><path color=#3d44e8 d="M146.1,243.7l5,1.7-2.9-2.8-5-1.8z"/><path color=#2e63f3 d="M265,228.6l1.7,.6-1.4,3.1-1.7-.2z"/><path color=#325bf2 d="M253.5,231.5l1.7,.6-1.5,3.7-1.7-.4z"/><path color=#3e39db d="M192.3,248.9l1.7,.2-2.9-.6-1.7,0z"/><path color=#3c2ec2 d="M370.5,258.8l5.1,.1-2.9-4.2-5.1,0z"/><path color=#3d42e6 d="M304.5,246.3l1.7,.5-2.9-4.3-1.7-.4z"/><path color=#3c49ee d="M236.9,239.7l1.6-.2-2.9,2.1-1.6,.3z"/><path color=#3d33cf d="M347.4,256.2l5-.2-2.9-6.1-5-.1z"/><path color=#3752f0 d="M281.4,236.8l1.7,1.4-2.9-.8-1.7-1.1z"/><path color=#266ff3 d="M123,222.9l3.3,5.1-2.9-.4-3.3-3.7z"/><path color=#3d3de0 d="M213.7,246.9l1.7,0-2.9,.1-1.7-.2z"/><path color=#3e3bdd d="M324.3,251.2l5-1-2.9-4.4-5,0z"/><path color=#3c2ec5 d="M415,259.5l3.4-1-2.9-5.9-3.4,1.8z"/><path color=#2d64f4 d="M263.3,228.1l1.7,.5-1.4,3.5-1.7-.3z"/><path color=#325bf2 d="M251.8,232.3l1.7-.8-1.5,3.9-1.7,.6z"/><path color=#1091e9 d="M99.9,202.7l3.3,4.7-2.9,1.9-3.3-2.9z"/><path color=#3d42e7 d="M302.8,245.9l1.7,.4-2.9-4.2-1.7,.9z"/><path color=#3c2dbf d="M391.9,259.2l3.4,.5-2.9-3.7-3.4,1z"/><path color=#3c48ed d="M235.2,241.2l1.7-1.5-2.9,2.2-1.7,.8z"/><path color=#3556f1 d="M279.7,235.4l1.7,1.4-2.9-.5-1.7-1z"/><path color=#3d3de0 d="M212.1,247.3l1.6-.4-2.9-.1-1.6,.3z"/><path color=#2c66f4 d="M261.7,227.5l1.6,.6-1.4,3.7-1.7-.4z"/><path color=#325af2 d="M250.1,232.4l1.7-.1-1.5,3.7-1.6,.2z"/><path color=#3e39db d="M187.3,249.3l5-.4-2.9-.4-5,.6z"/><path color=#3d42e6 d="M301.2,247l1.6-1.1-2.9-2.9-1.6-.8z"/><path color=#3c48ed d="M142.7,242l3.4,1.7-2.9-2.9-3.4-1.6z"/><path color=#3c46eb d="M233.5,242.4l1.7-1.2-2.9,1.5-1.7,.5z"/><path color=#3e3add d="M164.1,249.2l5.1,.7-2.9-2.3-5.1-.4z"/><path color=#3359f1 d="M278,233l1.7,2.4-2.9-.1-1.7-.7z"/><path color=#1f79f1 d="M119.6,221.1l3.4,1.8-2.9,1-3.4-3.9z"/><path color=#3d3de0 d="M210.4,247.4l1.7-.1-2.9-.2-1.7,.4z"/><path color=#3c2dc1 d="M411.7,260.6l3.3-1.1-2.9-5.1-3.3,1.4z"/><path color=#2b67f4 d="M260,227.2l1.7,.3-1.5,3.9-1.7-.3z"/><path color=#325af2 d="M248.4,232.9l1.7-.5-1.4,3.8-1.7,0z"/><path color=#0e94e8 d="M96.5,202.3l3.4,.4-2.9,3.7-3.4,.7z"/><path color=#3c2ec3 d="M365.4,259.2l5.1-.4-2.9-4.1-5.1,.4z"/><path color=#3d43e7 d="M299.5,245.8l1.7,1.2-2.9-4.8-1.7,.4z"/><path color=#3c2dbf d="M388.6,259.8l3.3-.6-2.9-2.2-3.3,.1z"/><path color=#3c45eb d="M231.8,242.6l1.7-.2-2.9,.8-1.7,.3z"/><path color=#3d33cf d="M342.3,256.7l5.1-.5-2.9-6.4-5.1,.4z"/><path color=#305ef2 d="M276.4,231.7l1.6,1.3-2.9,1.6-1.6-1.8z"/><path color=#3d3de0 d="M208.7,247.5l1.7-.1-2.9,.1-1.7,0z"/><path color=#3e3bde d="M319.2,251.2l5.1,0-2.9-5.4-5.1-.1z"/><path color=#2b68f4 d="M258.3,227.4l1.7-.2-1.5,3.9-1.7,.3z"/><path color=#3c2ec3 d="M431.4,258.8l5.1-.1-2.9-2.8-5.1,.3z"/><path color=#3359f1 d="M246.7,233.3l1.7-.4-1.4,3.3-1.7,.6z"/><path color=#3d43e8 d="M297.8,246l1.7-.2-2.9-3.2-1.7-.3z"/><path color=#394def d="M139.3,239.5l3.4,2.5-2.9-2.8-3.4-1.4z"/><path color=#3c44e9 d="M230.1,244l1.7-1.4-2.9,.9-1.7,1z"/><path color=#2e62f3 d="M274.7,230.4l1.7,1.3-2.9,1.1-1.7-1z"/><path color=#1982f0 d="M116.2,215.7l3.4,5.4-2.9-1.1-3.4-1.8z"/><path color=#3d3de0 d="M207,247.4l1.7,.1-2.9,0-1.7,0z"/><path color=#3c2dc0 d="M408.3,260.7l3.4-.1-2.9-4.8-3.4,1z"/><path color=#2c66f4 d="M256.6,228.4l1.7-1-1.5,4-1.6,.7z"/><path color=#3359f1 d="M245,233.9l1.7-.6-1.4,3.5-1.7,.4z"/><path color=#0e95e7 d="M93.1,201.4l3.4,.9-2.9,4.8-3.4-3.4z"/><path color=#3e3adc d="M182.2,249.5l5.1-.2-2.9-.2-5.1-.2z"/><path color=#3d44e9 d="M296.1,245.2l1.7,.8-2.9-3.7-1.7,.1z"/><path color=#3b2cbf d="M385.2,260.9l3.4-1.1-2.9-2.7-3.4,.6z"/><path color=#3d43e8 d="M228.4,244.1l1.7-.1-2.9,.5-1.7,.1z"/><path color=#3d3cdf d="M159.1,248.2l5,1-2.9-2-5-.6z"/><path color=#2c65f4 d="M273,228.3l1.7,2.1-2.9,1.4-1.7-.8z"/><path color=#3d3de0 d="M205.3,247.7l1.7-.3-2.9,.1-1.7,.7z"/><path color=#2c67f4 d="M254.9,227.6l1.7,.8-1.4,3.7-1.7-.6z"/><path color=#3c2ec3 d="M360.4,259.6l5-.4-2.9-4.1-5,.7z"/><path color=#3c45ea d="M294.4,245.3l1.7-.1-2.9-2.8-1.7-.3z"/><path color=#3653f0 d="M136,236.4l3.3,3.1-2.9-1.7-3.3-2.3z"/><path color=#3d43e7 d="M226.7,244.7l1.7-.6-2.9,.5-1.6,1.1z"/><path color=#3d34d1 d="M337.3,256.1l5,.6-2.9-6.5-5,0z"/><path color=#3c2dc2 d="M428,259.7l3.4-.9-2.9-2.6-3.3,.7z"/><path color=#2a6af4 d="M271.3,226l1.7,2.3-2.9,2.7-1.7-.9z"/><path color=#1589ed d="M112.9,210.4l3.3,5.3-2.9,2.5-3.3-5.9z"/><path color=#3d3de0 d="M203.6,248l1.7-.3-2.9,.5-1.7-.4z"/><path color=#3e3cdf d="M314.2,251.3l5-.1-2.9-5.5-5,.2z"/><path color=#3b2cbe d="M404.9,261.3l3.4-.6-2.9-3.9-3.4,1.2z"/><path color=#2b67f4 d="M253.2,228.6l1.7-1-1.4,3.9-1.7,.8z"/><path color=#0e96e7 d="M89.7,201.5l3.4-.1-2.9,2.3-3.4,.5z"/><path color=#3c45eb d="M292.7,245.1l1.7,.2-2.9-3.2-1.7-.2z"/><path color=#3b2cbe d="M381.8,260.7l3.4,.2-2.9-3.2-3.4,.7z"/><path color=#3d42e6 d="M225.1,245.4l1.6-.7-2.8,1-1.7-.3z"/><path color=#276df3 d="M269.6,225.1l1.7,.9-2.9,4.1-1.7-.9z"/><path color=#3d3de0 d="M201.9,247.7l1.7,.3-2.9-.2-1.6-.1z"/><path color=#2c66f4 d="M251.5,228.6l1.7,0-1.4,3.7-1.7,.1z"/><path color=#3e3add d="M177.1,249.7l5.1-.2-2.9-.6-5-.1z"/><path color=#3c47ed d="M291,243.5l1.7,1.6-2.9-3.2-1.7-.7z"/><path color=#315df2 d="M132.6,232.4l3.4,4-2.9-.9-3.4-3.6z"/><path color=#3d42e6 d="M223.4,245.8l1.7-.4-2.9,0-1.7,.2z"/><path color=#3d3fe3 d="M154,247.4l5.1,.8-2.9-1.6-5.1-1.2z"/><path color=#3c2dc1 d="M424.7,260.2l3.3-.5-2.8-2.8-3.4,1.3z"/><path color=#2570f3 d="M267.9,224.1l1.7,1-2.9,4.1-1.7-.6z"/><path color=#128eeb d="M109.5,206.9l3.4,3.5-2.9,1.9-3.4-1.1z"/><path color=#3d3de0 d="M200.3,248l1.6-.3-2.8,0-1.7,.8z"/><path color=#3d3ce0 d="M312.5,250.8l1.7,.5-2.9-5.4-1.7,.1z"/><path color=#3b2cbd d="M401.6,262.2l3.3-.9-2.9-3.3-3.3,.6z"/><path color=#2c66f4 d="M249.9,229.5l1.6-.9-1.4,3.8-1.7,.5z"/><path color=#315cf2 d="M244.8,232.1l1.7-1.5-2.9,6.6-1.7,.9z"/><path color=#3c2ec4 d="M355.3,259.4l5.1,.2-2.9-3.8-5.1,.2z"/><path color=#3b49ee d="M289.4,242.6l1.6,.9-2.9-2.3-1.6-.8z"/><path color=#3b2cbd d="M378.4,261.3l3.4-.6-2.9-2.3-3.3,.5z"/><path color=#3d41e6 d="M221.7,245.8l1.7,0-2.9-.2-1.7,.8z"/><path color=#3d35d2 d="M332.2,256.6l5.1-.5-2.9-5.9-5.1,0z"/><path color=#2473f2 d="M266.2,222.4l1.7,1.7-2.9,4.5-1.7-.5z"/><path color=#3d3de0 d="M198.6,248.4l1.7-.4-2.9,.5-1.7,.2z"/><path color=#3d3de0 d="M310.8,251.2l1.7-.4-2.9-4.8-1.7,.1z"/><path color=#2d64f4 d="M248.2,229.9l1.7-.4-1.5,3.4-1.7,.4z"/><path color=#325af2 d="M243.1,232.9l1.7-.8-2.9,6-1.7,.1z"/><path color=#3a4cef d="M287.7,241.3l1.7,1.3-2.9-2.2-1.7-1.2z"/><path color=#2b67f4 d="M129.2,229.2l3.4,3.2-2.9-.5-3.4-3.9z"/><path color=#3d41e5 d="M220,246.5l1.7-.7-2.9,.6-1.7-.1z"/><path color=#3c2dbf d="M421.3,261.3l3.4-1.1-2.9-2-3.4,.3z"/><path color=#2374f2 d="M264.6,223.7l1.6-1.3-2.9,5.7-1.6-.6z"/><path color=#0f92e9 d="M106.1,202l3.4,4.9-2.9,4.3-3.4-3.8z"/><path color=#3d3ce0 d="M196.9,248.2l1.7,.2-2.9,.3-1.7,.4z"/><path color=#3d3cdf d="M309.1,251.3l1.7-.1-2.9-5.1-1.7,.7z"/><path color=#3b2bbb d="M398.2,262.7l3.4-.5-2.9-3.6-3.4,1.1z"/><path color=#2d63f3 d="M246.5,230.6l1.7-.7-1.5,3.4-1.7,.6z"/><path color=#3358f1 d="M241.4,234.6l1.7-1.7-2.9,5.3-1.7,1.3z"/><path color=#3e3bdd d="M172.1,250.1l5-.4-2.8-.9-5.1,1.1z"/><path color=#3850f0 d="M286,239.6l1.7,1.7-2.9-2.1-1.7-1z"/><path color=#3d41e5 d="M218.3,246.3l1.7,.2-2.9-.2-1.7,.6z"/><path color=#3d43e7 d="M149,245.1l5,2.3-2.9-2-5-1.7z"/><path color=#2275f2 d="M262.9,223.1l1.7,.6-2.9,3.8-1.7-.3z"/><path color=#3d3de0 d="M195.2,248.3l1.7-.1-2.9,.9-1.7-.2z"/><path color=#3b2cbd d="M373.4,262l5-.7-2.8-2.4-5.1-.1z"/><path color=#3d3ce0 d="M307.4,251.2l1.7,.1-2.9-4.5-1.7-.5z"/><path color=#3556f1 d="M239.8,235.9l1.6-1.3-2.9,4.9-1.6,.2z"/><path color=#3c2ec5 d="M350.3,260l5-.6-2.9-3.4-5,.2z"/><path color=#3555f1 d="M284.3,237.1l1.7,2.5-2.9-1.4-1.7-1.4z"/><path color=#2473f2 d="M125.9,224.1l3.3,5.1-2.9-1.2-3.3-5.1z"/><path color=#3d40e4 d="M216.6,247.5l1.7-1.2-2.9,.6-1.7,0z"/><path color=#3d34d2 d="M327.2,257l5-.4-2.9-6.4-5,1z"/><path color=#3b2cbe d="M417.9,261.9l3.4-.6-2.9-2.8-3.4,1z"/><path color=#2176f2 d="M261.2,221.9l1.7,1.2-2.9,4.1-1.7,.2z"/><path color=#0e97e6 d="M102.7,199.8l3.4,2.2-2.9,5.4-3.3-4.7z"/><path color=#3d3de1 d="M305.7,251.1l1.7,.1-2.9-4.9-1.7-.4z"/><path color=#3b2bbb d="M394.8,262.9l3.4-.2-2.9-3-3.4-.5z"/><path color=#3653f0 d="M238.1,237.2l1.7-1.3-2.9,3.8-1.7,1.5z"/><path color=#325af2 d="M282.6,234.6l1.7,2.5-2.9-.3-1.7-1.4z"/><path color=#3d40e4 d="M215,247.5l1.6,0-2.9-.6-1.6,.4z"/><path color=#2275f2 d="M259.5,223.6l1.7-1.7-2.9,5.5-1.7,1z"/><path color=#3d3de0 d="M190.2,249.1l5-.8-2.9,.6-5,.4z"/><path color=#3d3de1 d="M304,251l1.7,.1-2.9-5.2-1.6,1.1z"/><path color=#3c47ed d="M145.6,243.5l3.4,1.6-2.9-1.4-3.4-1.7z"/><path color=#3850f0 d="M236.4,239.3l1.7-2.1-2.9,4-1.7,1.2z"/><path color=#3e3bde d="M167,249.4l5.1,.7-2.9-.2-5.1-.7z"/><path color=#2f60f3 d="M280.9,232.6l1.7,2-2.9,.8-1.7-2.4z"/><path color=#1c7df1 d="M122.5,220.4l3.4,3.7-2.9-1.2-3.4-1.8z"/><path color=#3d40e4 d="M213.3,247.3l1.7,.2-2.9-.2-1.7,.1z"/><path color=#3b2cbc d="M414.6,262.5l3.3-.6-2.9-2.4-3.3,1.1z"/><path color=#2275f2 d="M257.8,222.9l1.7,.7-2.9,4.8-1.7-.8z"/><path color=#0d9ae5 d="M99.4,198.8l3.3,1-2.8,2.9-3.4-.4z"/><path color=#3b2cbe d="M368.3,262.4l5.1-.4-2.9-3.2-5.1,.4z"/><path color=#3d3ee1 d="M302.4,251.1l1.6-.1-2.8-4-1.7-1.2z"/><path color=#3b2bbb d="M391.5,263.7l3.3-.8-2.9-3.7-3.3,.6z"/><path color=#394def d="M234.7,240.6l1.7-1.3-2.9,3.1-1.7,.2z"/><path color=#3c2ec5 d="M345.2,260.5l5.1-.5-2.9-3.8-5.1,.5z"/><path color=#2d65f4 d="M279.2,230.8l1.7,1.8-2.9,.4-1.6-1.3z"/><path color=#3d40e4 d="M211.6,247.7l1.7-.4-2.9,.1-1.7,.1z"/><path color=#3d35d2 d="M322.1,257.1l5.1-.1-2.9-5.8-5.1,0z"/><path color=#2276f2 d="M256.1,223.1l1.7-.2-2.9,4.7-1.7,1z"/><path color=#3c2dc0 d="M434.3,261.6l5.1,.1-2.9-3-5.1,.1z"/><path color=#0d9be4 d="M91.2,197.7l3.4,1.3-1.5,2.4-3.4,.1z"/><path color=#3d3fe2 d="M300.7,250.4l1.7,.7-2.9-5.3-1.7,.2z"/><path color=#394def d="M142.2,240.7l3.4,2.8-2.9-1.5-3.4-2.5z"/><path color=#3a4bef d="M233,241.8l1.7-1.2-2.9,2-1.7,1.4z"/><path color=#296af3 d="M277.6,227.5l1.6,3.3-2.8,.9-1.7-1.3z"/><path color=#1687ef d="M119.1,213.9l3.4,6.5-2.9,.7-3.4-5.4z"/><path color=#3d40e4 d="M209.9,247.9l1.7-.2-2.9-.2-1.7-.1z"/><path color=#3b2bbc d="M411.2,262.7l3.4-.2-2.9-1.9-3.4,.1z"/><path color=#2274f2 d="M254.4,224.6l1.7-1.5-2.9,5.5-1.7,0z"/><path color=#0d9be4 d="M96,196.6l3.4,2.2-2.9,3.5-3.4-.9z"/><path color=#3d3de0 d="M185.1,249.8l5.1-.7-2.9,.2-5.1,.2z"/><path color=#3d40e4 d="M299,250.2l1.7,.2-2.9-4.4-1.7-.8z"/><path color=#3b2bbb d="M388.1,263.3l3.4,.4-2.9-3.9-3.4,1.1z"/><path color=#3b49ee d="M231.3,242.9l1.7-1.1-2.9,2.2-1.7,.1z"/><path color=#3d3de1 d="M162,249.4l5,0-2.9-.2-5-1z"/><path color=#2471f2 d="M275.9,223.9l1.7,3.6-2.9,2.9-1.7-2.1z"/><path color=#3d40e4 d="M208.2,247.8l1.7,.1-2.9-.5-1.7,.3z"/><path color=#2473f2 d="M252.8,225.7l1.6-1.1-2.9,4-1.6,.9z"/><path color=#3b2cbe d="M363.3,262.3l5,.1-2.9-3.2-5,.4z"/><path color=#3d41e5 d="M297.3,249l1.7,1.2-2.9-5-1.7,.1z"/><path color=#3555f1 d="M138.9,237.4l3.3,3.3-2.9-1.2-3.3-3.1z"/><path color=#3c48ee d="M229.6,243.8l1.7-.9-2.9,1.2-1.7,.6z"/><path color=#3c2fc6 d="M340.2,260.2l5,.3-2.9-3.8-5-.6z"/><path color=#3c2dbf d="M430.9,262.6l3.4-1-2.9-2.8-3.4,.9z"/><path color=#2078f2 d="M274.2,221.9l1.7,2-2.9,4.4-1.7-2.3z"/><path color=#128deb d="M115.8,209.4l3.3,4.5-2.9,1.8-3.3-5.3z"/><path color=#3d40e4 d="M206.5,248.1l1.7-.3-2.9-.1-1.7,.3z"/><path color=#3d35d4 d="M317.1,257l5,.1-2.9-5.9-5,.1z"/><path color=#3b2bbb d="M407.8,264.1l3.4-1.4-2.9-2-3.4,.6z"/><path color=#2472f2 d="M251.1,225.3l1.7,.4-2.9,3.8-1.7,.4z"/><path color=#3d42e7 d="M295.6,248.7l1.7,.3-2.9-3.7-1.7-.2z"/><path color=#3b2bbb d="M384.7,263.8l3.4-.5-2.9-2.4-3.4-.2z"/><path color=#3c47ec d="M228,244.2l1.6-.4-2.9,.9-1.6,.7z"/><path color=#1c7ef1 d="M272.5,219.2l1.7,2.7-2.9,4.1-1.7-.9z"/><path color=#3d40e4 d="M204.8,247.7l1.7,.4-2.9-.1-1.7-.3z"/><path color=#2571f3 d="M249.4,226.3l1.7-1-2.9,4.6-1.7,.7z"/><path color=#3d3de0 d="M180,249.9l5.1-.1-2.9-.3-5.1,.2z"/><path color=#3c44e9 d="M293.9,247.2l1.7,1.5-2.9-3.6-1.7-1.6z"/><path color=#305ff3 d="M135.5,233.5l3.4,3.9-2.9-1-3.4-4z"/><path color=#3c46eb d="M226.3,245.5l1.7-1.3-2.9,1.2-1.7,.4z"/><path color=#3d40e4 d="M156.9,247.6l5.1,1.8-2.9-1.2-5.1-.8z"/><path color=#3b2cbe d="M427.6,262.8l3.3-.2-2.9-2.9-3.3,.5z"/><path color=#1a82f0 d="M270.8,218.2l1.7,1-2.9,5.9-1.7-1z"/><path color=#0f93e8 d="M112.4,205l3.4,4.4-2.9,1-3.4-3.5z"/><path color=#3d41e5 d="M203.2,248.3l1.6-.6-2.9,0-1.6,.3z"/><path color=#3e36d6 d="M315.4,256.6l1.7,.4-2.9-5.7-1.7-.5z"/><path color=#3b2bba d="M404.5,264.2l3.3-.1-2.9-2.8-3.3,.9z"/><path color=#276ef3 d="M247.7,228.9l1.7-2.6-2.9,4.3-1.7,1.5z"/><path color=#3c2dbf d="M358.2,262.8l5.1-.5-2.9-2.7-5.1-.2z"/><path color=#3c47ed d="M292.3,245.5l1.6,1.7-2.9-3.7-1.6-.9z"/><path color=#3b2bbb d="M381.3,264.1l3.4-.3-2.9-3.1-3.4,.6z"/><path color=#3c45ea d="M224.6,245.6l1.7-.1-2.9,.3-1.7,0z"/><path color=#3c30c8 d="M335.1,260.1l5.1,.1-2.9-4.1-5.1,.5z"/><path color=#1884f0 d="M269.1,217.9l1.7,.3-2.9,5.9-1.7-1.7z"/><path color=#3d40e4 d="M201.5,248.6l1.7-.3-2.9-.3-1.7,.4z"/><path color=#3e37d7 d="M313.7,256.3l1.7,.3-2.9-5.8-1.7,.4z"/><path color=#296af3 d="M246,230.7l1.7-1.8-2.9,3.2-1.7,.8z"/><path color=#0c9fe2 d="M92.6,193.8l3.4,2.8-1.4,2.4-3.4-1.3z"/><path color=#3a4bef d="M290.6,243.3l1.7,2.2-2.9-2.9-1.7-1.3z"/><path color=#296af3 d="M132.1,228.5l3.4,5-2.9-1.1-3.4-3.2z"/><path color=#3c45ea d="M222.9,246.2l1.7-.6-2.9,.2-1.7,.7z"/><path color=#3b2cbd d="M424.2,263.6l3.4-.8-2.9-2.6-3.4,1.1z"/><path color=#1885f0 d="M267.5,218.3l1.6-.4-2.9,4.5-1.6,1.3z"/><path color=#0e97e6 d="M109,203.3l3.4,1.7-2.9,1.9-3.4-4.9z"/><path color=#3d40e4 d="M199.8,248.6l1.7,0-2.9-.2-1.7-.2z"/><path color=#3e37d7 d="M312,256.6l1.7-.3-2.9-5.1-1.7,.1z"/><path color=#3b2bb9 d="M401.1,264.3l3.4-.1-2.9-2-3.4,.5z"/><path color=#2c66f4 d="M244.3,232.9l1.7-2.2-2.9,2.2-1.7,1.7z"/><path color=#3d3de0 d="M175,250.6l5-.7-2.9-.2-5,.4z"/><path color=#3751f0 d="M288.9,240.3l1.7,3-2.9-2-1.7-1.7z"/><path color=#3c44e9 d="M221.2,246.6l1.7-.4-2.9,.3-1.7-.2z"/><path color=#3c44e9 d="M151.9,245.6l5,2-2.9-.2-5-2.3z"/><path color=#1884f0 d="M265.8,219.3l1.7-1-2.9,5.4-1.7-.6z"/><path color=#3d40e4 d="M198.1,249.2l1.7-.6-2.9-.4-1.7,.1z"/><path color=#3b2bba d="M376.3,264.6l5-.5-2.9-2.8-5,.7z"/><path color=#3e37d7 d="M310.3,256.7l1.7-.1-2.9-5.3-1.7-.1z"/><path color=#2e62f3 d="M242.7,234.2l1.6-1.3-2.9,1.7-1.6,1.3z"/><path color=#3c2dc0 d="M353.2,262.7l5,.1-2.9-3.4-5,.6z"/><path color=#3457f1 d="M287.2,237.7l1.7,2.6-2.9-.7-1.7-2.5z"/><path color=#276df3 d="M280.7,226.9l1.7,3.9-1.5,1.8-1.7-1.8z"/><path color=#2276f2 d="M128.8,225.2l3.3,3.3-2.9,.7-3.3-5.1z"/><path color=#3d44e9 d="M219.5,247.1l1.7-.5-2.9-.3-1.7,1.2z"/><path color=#3c30c8 d="M330.1,260.6l5-.5-2.9-3.5-5,.4z"/><path color=#3b2cbc d="M420.8,264.1l3.4-.5-2.9-2.3-3.4,.6z"/><path color=#1884f0 d="M264.1,219.7l1.7-.4-2.9,3.8-1.7-1.2z"/><path color=#0d9be4 d="M105.6,199.4l3.4,3.9-2.9-1.3-3.4-2.2z"/><path color=#3e37d8 d="M308.6,256.4l1.7,.3-2.9-5.5-1.7-.1z"/><path color=#3b2bb9 d="M397.7,265l3.4-.7-2.9-1.6-3.4,.2z"/><path color=#305ff3 d="M241,236.4l1.7-2.2-2.9,1.7-1.7,1.3z"/><path color=#2f60f3 d="M285.5,232.5l1.7,5.2-2.9-.6-1.7-2.5z"/><path color=#2275f2 d="M279,223.9l1.7,3-1.5,3.9-1.6-3.3z"/><path color=#3d43e8 d="M217.8,246.8l1.7,.3-2.9,.4-1.6,0z"/><path color=#1785f0 d="M262.4,217.9l1.7,1.8-2.9,2.2-1.7,1.7z"/><path color=#1983f0 d="M255.9,219.9l1.7,.1-1.5,3.1-1.7,1.5z"/><path color=#3d40e4 d="M193,249.8l5.1-.6-2.9-.9-5,.8z"/><path color=#3e38d9 d="M306.9,256.1l1.7,.3-2.9-5.3-1.7-.1z"/><path color=#3c49ee d="M148.5,243.8l3.4,1.8-2.9-.5-3.4-1.6z"/><path color=#325af2 d="M239.3,238.7l1.7-2.3-2.9,.8-1.7,2.1z"/><path color=#3d3ee2 d="M169.9,250.1l5.1,.5-2.9-.5-5.1-.7z"/><path color=#2a69f4 d="M283.8,229l1.7,3.5-2.9,2.1-1.7-2z"/><path color=#1c7ef1 d="M277.3,220.2l1.7,3.7-1.4,3.6-1.7-3.6z"/><path color=#1a81f0 d="M125.4,220.3l3.4,4.9-2.9-1.1-3.4-3.7z"/><path color=#3d44e8 d="M216.2,247.4l1.6-.6-2.8,.7-1.7-.2z"/><path color=#3b2bbb d="M417.5,264.5l3.3-.4-2.9-2.2-3.3,.6z"/><path color=#1786ef d="M260.7,216.7l1.7,1.2-2.9,5.7-1.7-.7z"/><path color=#1b80f1 d="M254.2,222.7l1.7-2.8-1.5,4.7-1.6,1.1z"/><path color=#0d9ee2 d="M102.3,195.5l3.3,3.9-2.9,.4-3.3-1z"/><path color=#3b2bbb d="M371.2,264.7l5.1-.1-2.9-2.6-5.1,.4z"/><path color=#3e38da d="M305.3,255.5l1.6,.6-2.9-5.1-1.6,.1z"/><path color=#3b2bb8 d="M394.3,265.2l3.4-.2-2.9-2.1-3.3,.8z"/><path color=#3556f1 d="M237.6,240.5l1.7-1.8-2.9,.6-1.7,1.3z"/><path color=#3c2dc0 d="M348.1,263.3l5.1-.6-2.9-2.7-5.1,.5z"/><path color=#1785ef d="M275.6,217.7l1.7,2.5-1.4,3.7-1.7-2z"/><path color=#3d43e8 d="M214.5,247.7l1.7-.3-2.9-.1-1.7,.4z"/><path color=#3d31ca d="M325,259.5l5.1,1.1-2.9-3.6-5.1,.1z"/><path color=#1786ef d="M259,216.8l1.7-.1-2.9,6.2-1.7,.2z"/><path color=#3b2cbd d="M437.2,264.3l5.1-.1-2.9-2.5-5.1-.1z"/><path color=#3e39db d="M303.6,255.8l1.7-.3-2.9-4.4-1.7-.7z"/><path color=#384fef d="M145.1,241.3l3.4,2.5-2.9-.3-3.4-2.8z"/><path color=#3752f0 d="M235.9,242.5l1.7-2-2.9,.1-1.7,1.2z"/><path color=#1589ee d="M274,213l1.6,4.7-1.4,4.2-1.7-2.7z"/><path color=#1589ed d="M122,215.2l3.4,5.1-2.9,.1-3.4-6.5z"/><path color=#3d43e8 d="M212.8,247.7l1.7,0-2.9,0-1.7,.2z"/><path color=#3b2bbb d="M414.1,265.1l3.4-.6-2.9-2-3.4,.2z"/><path color=#1c7ef1 d="M250.8,222.8l1.7,.3-1.4,2.2-1.7,1z"/><path color=#0ca1e1 d="M98.9,192.4l3.4,3.1-2.9,3.3-3.4-2.2z"/><path color=#3d40e4 d="M188,249.6l5,.2-2.8-.7-5.1,.7z"/><path color=#3e3add d="M301.9,254.5l1.7,1.3-2.9-5.4-1.7-.2z"/><path color=#3b2bb9 d="M391,265.2l3.3,0-2.8-1.5-3.4-.4z"/><path color=#394eef d="M234.2,244.4l1.7-1.9-2.9-.7-1.7,1.1z"/><path color=#3d40e4 d="M164.9,249l5,1.1-2.9-.7-5,0z"/><path color=#148aed d="M272.3,216.1l1.7-3.1-1.5,6.2-1.7-1z"/><path color=#3d43e8 d="M211.1,247.9l1.7-.2-2.9,.2-1.7-.1z"/><path color=#1f79f1 d="M249.2,226.9l1.6-4.1-1.4,3.5-1.7,2.6z"/><path color=#3b2bbc d="M366.2,264.9l5-.2-2.9-2.3-5-.1z"/><path color=#3d3cdf d="M300.2,253.5l1.7,1-2.9-4.3-1.7-1.2z"/><path color=#3457f1 d="M141.8,238.2l3.3,3.1-2.9-.6-3.3-3.3z"/><path color=#3a4cef d="M232.5,245.3l1.7-.9-2.9-1.5-1.7,.9z"/><path color=#3c2dc1 d="M343.1,263l5,.3-2.9-2.8-5-.3z"/><path color=#3b2cbd d="M433.8,265l3.4-.7-2.9-2.7-3.4,1z"/><path color=#2177f2 d="M282.1,223l1.7,6-1.4,1.8-1.7-3.9z"/><path color=#148bed d="M270.6,214.2l1.7,1.9-1.5,2.1-1.7-.3z"/><path color=#1090ea d="M118.6,208.9l3.4,6.3-2.9-1.3-3.3-4.5z"/><path color=#3d43e8 d="M209.4,248.5l1.7-.6-2.9-.1-1.7,.3z"/><path color=#3d31cb d="M319.9,260.5l5.1-1-2.9-2.4-5-.1z"/><path color=#3b2bba d="M410.7,265.6l3.4-.5-2.9-2.4-3.4,1.4z"/><path color=#1982f0 d="M254,220.9l1.7-1.3-2.9,6.1-1.7-.4z"/><path color=#0da4de d="M95.5,191.9l3.4,.5-2.9,4.2-3.4-2.8z"/><path color=#3d3ee2 d="M298.5,252.5l1.7,1-2.9-4.5-1.7-.3z"/><path color=#3b2bb9 d="M387.6,266.2l3.4-1-2.9-1.9-3.4,.5z"/><path color=#3b4aee d="M230.9,246.2l1.6-.9-2.9-1.5-1.6,.4z"/><path color=#1a81f0 d="M280.5,220.3l1.6,2.7-1.4,3.9-1.7-3z"/><path color=#138cec d="M268.9,211.3l1.7,2.9-1.5,3.7-1.6,.4z"/><path color=#3d43e8 d="M207.7,248l1.7,.5-2.9-.4-1.7-.4z"/><path color=#1589ed d="M257.3,215.3l1.7,1.5-1.4,3.2-1.7-.1z"/><path color=#3d40e4 d="M182.9,250l5.1-.4-2.9,.2-5.1,.1z"/><path color=#3d40e4 d="M296.8,251.3l1.7,1.2-2.9-3.8-1.7-1.5z"/><path color=#2f61f3 d="M138.4,234.4l3.4,3.8-2.9-.8-3.4-3.9z"/><path color=#3c48ee d="M229.2,247.7l1.7-1.5-2.9-2-1.7,1.3z"/><path color=#3d43e8 d="M159.8,247.6l5.1,1.4-2.9,.4-5.1-1.8z"/><path color=#3b2cbc d="M430.5,265.2l3.3-.2-2.9-2.4-3.3,.2z"/><path color=#1687ef d="M278.8,216.5l1.7,3.8-1.5,3.6-1.7-3.7z"/><path color=#138cec d="M267.2,214.2l1.7-2.9-1.4,7-1.7,1z"/><path color=#0e96e7 d="M115.3,203.9l3.3,5-2.8,.5-3.4-4.4z"/><path color=#3d44e8 d="M206.1,248.6l1.6-.6-2.9-.3-1.6,.6z"/><path color=#148aed d="M265,214.5l1.7,1.4-.9,3.4-1.7,.4z"/><path color=#3d32cc d="M318.3,260.4l1.6,.1-2.8-3.5-1.7-.4z"/><path color=#3b2bb9 d="M407.4,265.6l3.3,0-2.9-1.5-3.3,.1z"/><path color=#1688ee d="M255.7,219.6l1.6-4.3-1.4,4.6-1.7,2.8z"/><path color=#3b2cbc d="M361.1,265.6l5.1-.7-2.9-2.6-5.1,.5z"/><path color=#3c44e9 d="M295.1,248.6l1.7,2.7-2.9-4.1-1.6-1.7z"/><path color=#3b2bb8 d="M384.2,266.3l3.4-.1-2.9-2.4-3.4,.3z"/><path color=#3c47ec d="M227.5,248l1.7-.3-2.9-2.2-1.7,.1z"/><path color=#3c2ec3 d="M338,262.8l5.1,.2-2.9-2.8-5.1-.1z"/><path color=#148bed d="M277.1,213.4l1.7,3.1-1.5,3.7-1.7-2.5z"/><path color=#3d43e8 d="M204.4,248.8l1.7-.2-2.9-.3-1.7,.3z"/><path color=#138cec d="M263.4,212.1l1.6,2.4-.9,5.2-1.7-1.8z"/><path color=#3d32cd d="M316.6,260.7l1.7-.3-2.9-3.8-1.7-.3z"/><path color=#2176f2 d="M248.9,227.8l1.7-3-2.9,4.1-1.7,1.8z"/><path color=#3b49ee d="M293.5,245.7l1.6,2.9-2.8-3.1-1.7-2.2z"/><path color=#276ef3 d="M135,228.5l3.4,5.9-2.9-.9-3.4-5z"/><path color=#3c46ec d="M225.8,248.4l1.7-.4-2.9-2.4-1.7,.6z"/><path color=#3b2bbc d="M427.1,265.9l3.4-.7-2.9-2.4-3.4,.8z"/><path color=#1090ea d="M275.4,206.8l1.7,6.6-1.5,4.3-1.6-4.7z"/><path color=#0d9ae5 d="M111.9,201.4l3.4,2.5-2.9,1.1-3.4-1.7z"/><path color=#3d43e8 d="M202.7,248.5l1.7,.3-2.9-.2-1.7,0z"/><path color=#128deb d="M261.7,212.9l1.7-.8-1,5.8-1.7-1.2z"/><path color=#3d32ce d="M314.9,260.2l1.7,.5-2.9-4.4-1.7,.3z"/><path color=#3b2bb9 d="M404,266.2l3.4-.6-2.9-1.4-3.4,.1z"/><path color=#1786ef d="M252.3,219.2l1.7,1.7-1.5,2.2-1.7-.3z"/><path color=#2571f3 d="M247.2,229.3l1.7-1.5-2.9,2.9-1.7,2.2z"/><path color=#3d40e5 d="M177.9,250l5,0-2.9-.1-5,.7z"/><path color=#3751f0 d="M291.8,242.5l1.7,3.2-2.9-2.4-1.7-3z"/><path color=#3c46eb d="M224.1,248.6l1.7-.2-2.9-2.2-1.7,.4z"/><path color=#3c47ed d="M154.8,245.4l5,2.2-2.9,0-5-2z"/><path color=#1091ea d="M273.7,214.1l1.7-7.3-1.4,6.2-1.7,3.1z"/><path color=#3d43e8 d="M201,248.6l1.7-.1-2.9,.1-1.7,.6z"/><path color=#3b2bb9 d="M379.2,266.1l5,.2-2.9-2.2-5,.5z"/><path color=#3d33ce d="M313.2,260.5l1.7-.3-2.9-3.6-1.7,.1z"/><path color=#1983f0 d="M250.6,224.8l1.7-5.6-1.5,3.6-1.6,4.1z"/><path color=#276df3 d="M245.5,231.8l1.7-2.5-2.9,3.6-1.6,1.3z"/><path color=#3b2cbd d="M356.1,265.2l5,.4-2.9-2.8-5-.1z"/><path color=#3359f1 d="M290.1,238.7l1.7,3.8-2.9-2.2-1.7-2.6z"/><path color=#1f7af1 d="M131.7,224.7l3.3,3.8-2.9,0-3.3-3.3z"/><path color=#3c45eb d="M222.4,249.1l1.7-.5-2.9-2-1.7,.5z"/><path color=#3c2ec4 d="M333,262.8l5,0-2.9-2.7-5,.5z"/><path color=#3b2bbb d="M423.7,265.3l3.4,.6-2.9-2.3-3.4,.5z"/><path color=#118fea d="M272,210.5l1.7,3.6-1.4,2-1.7-1.9z"/><path color=#1090ea d="M266,209.3l1.7,3.1-1,3.5-1.7-1.4z"/><path color=#118feb d="M260.5,211.6l1.7-.5-1.5,5.6-1.7,.1z"/><path color=#0d9ee2 d="M108.5,195l3.4,6.4-2.9,1.9-3.4-3.9z"/><path color=#3d33d0 d="M311.5,259l1.7,1.5-2.9-3.8-1.7-.3z"/><path color=#3b2bb9 d="M400.6,266.7l3.4-.5-2.9-1.9-3.4,.7z"/><path color=#2c67f4 d="M243.9,235.9l1.6-4.1-2.8,2.4-1.7,2.2z"/><path color=#2d63f3 d="M288.4,235l1.7,3.7-2.9-1-1.7-5.2z"/><path color=#3c45ea d="M220.7,249.7l1.7-.6-2.9-2-1.7-.3z"/><path color=#0e94e8 d="M270.3,204.3l1.7,6.2-1.4,3.7-1.7-2.9z"/><path color=#0e93e8 d="M264.3,206.2l1.7,3.1-1,5.2-1.6-2.4z"/><path color=#118feb d="M258.8,213.9l1.7-2.3-1.5,5.2-1.7-1.5z"/><path color=#3d43e8 d="M195.9,249.4l5.1-.8-2.9,.6-5.1,.6z"/><path color=#3d34d2 d="M309.8,259.4l1.7-.4-2.9-2.6-1.7-.3z"/><path color=#394def d="M151.4,243.5l3.4,1.9-2.9,.2-3.4-1.8z"/><path color=#2f60f3 d="M242.2,239l1.7-3.1-2.9,.5-1.7,2.3z"/><path color=#276df3 d="M287.6,230.9l.8,4.1-2.9-2.5-.8-1.7z"/><path color=#148aed d="M281.1,215.2l.8,3.9-1.4,1.2-.9-1.9z"/><path color=#3d41e5 d="M172.8,250.2l5.1-.2-2.9,.6-5.1-.5z"/><path color=#1785ef d="M128.3,218.2l3.4,6.5-2.9,.5-3.4-4.9z"/><path color=#3c45ea d="M219.1,249.7l1.6,0-2.9-2.9-1.6,.6z"/><path color=#2275f2 d="M286.7,226.7l.9,4.2-2.9-.1-.9-1.8z"/><path color=#3b2bbb d="M420.4,266.9l3.3-1.6-2.9-1.2-3.3,.4z"/><path color=#0e94e8 d="M268.7,209l1.6-4.7-1.4,7-1.7,2.9z"/><path color=#128eeb d="M280.2,211.2l.9,4-1.5,3.2-.8-1.9z"/><path color=#0e94e8 d="M262.6,209.2l1.7-3-.9,5.9-1.7,.8z"/><path color=#0ca3df d="M105.2,192.5l3.3,2.5-2.9,4.4-3.3-3.9z"/><path color=#3b2bba d="M374.1,266.1l5.1,0-2.9-1.5-5.1,.1z"/><path color=#3d35d3 d="M308.2,259l1.6,.4-2.9-3.3-1.6-.6z"/><path color=#3b2bb9 d="M397.2,266.3l3.4,.4-2.9-1.7-3.4,.2z"/><path color=#325af2 d="M240.5,241.2l1.7-2.2-2.9-.3-1.7,1.8z"/><path color=#3b2cbe d="M351,265.4l5.1-.2-2.9-2.5-5.1,.6z"/><path color=#1b7ff1 d="M285,223.5l1.7,3.2-2.9,2.3-1.7-6z"/><path color=#1190ea d="M278.5,213.7l1.7-2.5-1.4,5.3-1.7-3.1z"/><path color=#3c45ea d="M217.4,249.7l1.7,0-2.9-2.3-1.7,.3z"/><path color=#3c2fc6 d="M327.9,262.7l5.1,.1-2.9-2.2-5.1-1.1z"/><path color=#3b2bba d="M440.1,267.5l5.1-1.1-2.9-2.2-5.1,.1z"/><path color=#148bed d="M255.4,214.5l1.7,1.8-1.4,3.3-1.7,1.3z"/><path color=#3e36d5 d="M306.5,258.2l1.7,.8-2.9-3.5-1.7,.3z"/><path color=#3654f0 d="M148,240.3l3.4,3.2-2.9,.3-3.4-2.5z"/><path color=#3555f1 d="M238.8,243.3l1.7-2.1-2.9-.7-1.7,2z"/><path color=#1687ee d="M283.4,217.9l1.6,5.6-2.9-.5-1.6-2.7z"/><path color=#138dec d="M124.9,211.7l3.4,6.5-2.9,2.1-3.4-5.1z"/><path color=#3c45ea d="M215.7,250l1.7-.3-2.9-2-1.7,0z"/><path color=#0e95e7 d="M274.7,208.9l1.7-2.3-1,.2-1.7,7.3z"/><path color=#0e96e7 d="M267,204.1l1.7,4.9-1,3.4-1.7-3.1z"/><path color=#3b2bba d="M417,266.6l3.4,.3-2.9-2.4-3.4,.6z"/><path color=#138bec d="M253.7,216.1l1.7-1.6-1.4,6.4-1.7-1.7z"/><path color=#0da7da d="M101.8,189.5l3.4,3-2.9,3-3.4-3.1z"/><path color=#3d43e8 d="M190.9,250.1l5-.7-2.9,.4-5-.2z"/><path color=#3e37d7 d="M304.8,257.9l1.7,.3-2.9-2.4-1.7-1.3z"/><path color=#3b2bba d="M393.9,267.1l3.3-.8-2.9-1.1-3.3,0z"/><path color=#3850f0 d="M237.1,245.4l1.7-2.1-2.9-.8-1.7,1.9z"/><path color=#3d43e8 d="M167.8,249.3l5,.9-2.9-.1-5-1.1z"/><path color=#3c45ea d="M214,250.2l1.7-.2-2.9-2.3-1.7,.2z"/><path color=#0e94e8 d="M273,207.5l1.7,1.4-1,5.2-1.7-3.6z"/><path color=#0d9ae5 d="M265.3,200.4l1.7,3.7-1,5.2-1.7-3.1z"/><path color=#118eeb d="M258.6,213.1l1.6-.5-2.9,2.7-1.6,4.3z"/><path color=#1589ee d="M252,220l1.7-3.9-1.4,3.1-1.7,5.6z"/><path color=#3b2bbb d="M369.1,267l5-.9-2.9-1.4-5,.2z"/><path color=#3e39db d="M303.1,256.2l1.7,1.7-2.9-3.4-1.7-1z"/><path color=#315cf2 d="M144.7,237.1l3.3,3.2-2.9,1-3.3-3.1z"/><path color=#3a4cef d="M235.4,247.4l1.7-2-2.9-1-1.7,.9z"/><path color=#3b2cbf d="M346,265.7l5-.3-2.9-2.1-5-.3z"/><path color=#3b2bba d="M436.7,267.4l3.4,.1-2.9-3.2-3.4,.7z"/><path color=#0e93e8 d="M121.5,208l3.4,3.7-2.9,3.5-3.4-6.3z"/><path color=#3c44e9 d="M212.3,250.4l1.7-.2-2.9-2.3-1.7,.6z"/><path color=#0d9ae5 d="M263.6,205.4l1.7-5-1,5.8-1.7,3z"/><path color=#3c30c8 d="M322.8,263.2l5.1-.5-2.9-3.2-5.1,1z"/><path color=#3b2bba d="M413.6,267l3.4-.4-2.9-1.5-3.4,.5z"/><path color=#0e96e7 d="M261.9,206.3l1.7-.9-1.4,5.7-1.7,.5z"/><path color=#1884f0 d="M250.4,224l1.6-4-1.4,4.8-1.7,3z"/><path color=#0eaad7 d="M98.4,188.8l3.4,.7-2.9,2.9-3.4-.5z"/><path color=#3e3bde d="M301.4,254.9l1.7,1.3-2.9-2.7-1.7-1z"/><path color=#3b2bb9 d="M390.5,267.1l3.4,0-2.9-1.9-3.4,1z"/><path color=#3b49ee d="M233.8,249.4l1.6-2-2.9-2.1-1.6,.9z"/><path color=#0e95e8 d="M278.3,206.1l1.7,7.9-2.9-.6-1.7-6.6z"/><path color=#0d9ae5 d="M271.8,199.8l1.7,6.2-1.5,4.5-1.7-6.2z"/><path color=#3c44e9 d="M210.6,251.2l1.7-.8-2.9-1.9-1.7-.5z"/><path color=#0d9be4 d="M269.6,203.5l1.7-2.2-1,3-1.6,4.7z"/><path color=#0e94e8 d="M260.2,212.6l1.7-6.3-1.4,5.3-1.7,2.3z"/><path color=#1d7cf1 d="M248.7,228.1l1.7-4.1-1.5,3.8-1.7,1.5z"/><path color=#3d43e8 d="M185.8,250.5l5.1-.4-2.9-.5-5.1,.4z"/><path color=#3d3ee2 d="M299.7,253.1l1.7,1.8-2.9-2.4-1.7-1.2z"/><path color=#128eeb d="M282.5,211.9l.9,6-1.5,1.2-.8-3.9z"/><path color=#2c66f4 d="M141.3,233.7l3.4,3.4-2.9,1.1-3.4-3.8z"/><path color=#3c47ec d="M232.1,250.2l1.7-.8-2.9-3.2-1.7,1.5z"/><path color=#3c46ec d="M162.7,247.9l5.1,1.4-2.9-.3-5.1-1.4z"/><path color=#3b2bba d="M433.4,267.5l3.3-.1-2.9-2.4-3.3,.2z"/><path color=#0d99e5 d="M275.6,203.7l1.7,2.6-.9,.3-1.7,2.3z"/><path color=#0d9ae5 d="M118.2,200.3l3.3,7.7-2.9,.9-3.3-5z"/><path color=#3c44e9 d="M209,251l1.6,.2-2.9-3.2-1.6,.6z"/><path color=#0d9be4 d="M267.9,201.9l1.7,1.6-.9,5.5-1.7-4.9z"/><path color=#0e94e8 d="M281.7,206l.8,5.9-1.4,3.3-.9-4z"/><path color=#3c30c8 d="M321.2,262.7l1.6,.5-2.9-2.7-1.6-.1z"/><path color=#3b2bba d="M410.2,267.8l3.4-.8-2.9-1.4-3.3,0z"/><path color=#3b2bba d="M364,267.6l5.1-.6-2.9-2.1-5.1,.7z"/><path color=#3d43e7 d="M298,249.8l1.7,3.3-2.9-1.8-1.7-2.7z"/><path color=#3b2bb9 d="M387.1,267.5l3.4-.4-2.9-.9-3.4,.1z"/><path color=#3c45ea d="M230.4,251.2l1.7-1-2.9-2.5-1.7,.3z"/><path color=#3c2dc0 d="M340.9,266l5.1-.3-2.9-2.7-5.1-.2z"/><path color=#0e94e8 d="M280,214l1.7-8-1.5,5.2-1.7,2.5z"/><path color=#0d99e5 d="M274,204.6l1.6-.9-.9,5.2-1.7-1.4z"/><path color=#3d44e9 d="M207.3,251.5l1.7-.5-2.9-2.4-1.7,.2z"/><path color=#3c30c8 d="M319.5,263.1l1.7-.4-2.9-2.3-1.7,.3z"/><path color=#0f92e9 d="M256.9,208.1l1.7,5-1.5,3.2-1.7-1.8z"/><path color=#3c49ee d="M296.4,246.7l1.6,3.1-2.9-1.2-1.6-2.9z"/><path color=#2472f2 d="M137.9,228.8l3.4,4.9-2.9,.7-3.4-5.9z"/><path color=#3c44e9 d="M228.7,251.9l1.7-.7-2.9-3.2-1.7,.4z"/><path color=#3b2bba d="M430,267.7l3.4-.2-2.9-2.3-3.4,.7z"/><path color=#0c9fe2 d="M266.7,197.4l1.7,3.4-1.4,3.3-1.7-3.7z"/><path color=#0c9fe2 d="M114.8,197.7l3.4,2.6-2.9,3.6-3.4-2.5z"/><path color=#3d44e9 d="M205.6,251.9l1.7-.4-2.9-2.7-1.7-.3z"/><path color=#0c9fe2 d="M264.6,199.8l1.7-1.4-1,2-1.7,5z"/><path color=#3c30c9 d="M317.8,262.3l1.7,.8-2.9-2.4-1.7-.5z"/><path color=#3b2bba d="M406.9,267.7l3.3,.1-2.8-2.2-3.4,.6z"/><path color=#0f92e9 d="M255.2,213l1.7-4.9-1.5,6.4-1.7,1.6z"/><path color=#3d44e8 d="M180.8,250.6l5-.1-2.9-.5-5,0z"/><path color=#3752f0 d="M294.7,241.9l1.7,4.8-2.9-1-1.7-3.2z"/><path color=#3d44e9 d="M227,252.4l1.7-.5-2.9-3.5-1.7,.2z"/><path color=#3a4bef d="M157.7,246.2l5,1.7-2.9-.3-5-2.2z"/><path color=#0d9ce3 d="M263.7,202.1l.9-2.3-1,5.6-.8,.5z"/><path color=#0ca0e1 d="M270.6,198l1.7,.3-1,3-1.7,2.2z"/><path color=#3d44e9 d="M203.9,252.6l1.7-.7-2.9-3.4-1.7,.1z"/><path color=#3b2bba d="M382.1,267.9l5-.4-2.9-1.2-5-.2z"/><path color=#3d31cb d="M316.1,262.1l1.7,.2-2.9-2.1-1.7,.3z"/><path color=#118eeb d="M253.5,215.2l1.7-2.2-1.5,3.1-1.7,3.9z"/><path color=#1f79f1 d="M248.4,227.7l1.7-.8-2.9,2.4-1.7,2.5z"/><path color=#0d9be4 d="M262.9,204.4l.8-2.3-.9,3.8-.9,.4z"/><path color=#3b2bbb d="M359,266.9l5,.7-2.9-2-5-.4z"/><path color=#315cf2 d="M293,239l1.7,2.9-2.9,.6-1.7-3.8z"/><path color=#1b80f1 d="M134.5,223l3.4,5.8-2.9-.3-3.3-3.8z"/><path color=#3d43e8 d="M225.3,252.8l1.7-.4-2.9-3.8-1.7,.5z"/><path color=#0d9ce3 d="M276.6,198.6l1.7,7.5-1,.2-1.7-2.6z"/><path color=#3c2dc1 d="M335.8,265.9l5.1,.1-2.9-3.2-5,0z"/><path color=#3b2bbb d="M426.6,268l3.4-.3-2.9-1.8-3.4-.6z"/><path color=#0c9fe2 d="M268.9,199.7l1.7-1.7-1,5.5-1.7-1.6z"/><path color=#0ca4de d="M111.4,192.2l3.4,5.5-2.9,3.7-3.4-6.4z"/><path color=#0d98e5 d="M261.2,206.1l1.7-1.7-1,1.9-1.7,6.3z"/><path color=#3d32cd d="M314.4,261.8l1.7,.3-2.9-1.6-1.7-1.5z"/><path color=#3b2bba d="M403.5,267.9l3.4-.2-2.9-1.5-3.4,.5z"/><path color=#148aed d="M251.8,220.2l1.7-5-1.5,4.8-1.6,4z"/><path color=#2472f2 d="M246.8,232.7l1.6-5-2.9,4.1-1.6,4.1z"/><path color=#2d65f4 d="M292.1,234.5l.9,4.5-2.9-.3-.9-1.8z"/><path color=#158aed d="M285.6,216.1l.9,5.1-1.5,2.3-.8-2.8z"/><path color=#3d43e8 d="M223.6,252.9l1.7-.1-2.9-3.7-1.7,.6z"/><path color=#0e96e7 d="M260.4,208.9l.8-2.8-1,6.5-.8,.3z"/><path color=#0d9ee2 d="M274.9,201.6l1.7-3-1,5.1-1.6,.9z"/><path color=#276df3 d="M291.3,230l.8,4.5-2.9,2.4-.8-1.9z"/><path color=#0c9fe1 d="M273.2,195.3l1.7,6.3-1.4,4.4-1.7-6.2z"/><path color=#118eeb d="M284.8,210.9l.8,5.2-1.4,4.6-.8-2.8z"/><path color=#3d43e8 d="M198.8,252.8l5.1-.2-2.9-4-5.1,.8z"/><path color=#3d33cf d="M312.7,261.6l1.7,.2-2.9-2.8-1.7,.4z"/><path color=#1884f0 d="M250.1,226.9l1.7-6.7-1.4,3.8-1.7,4.1z"/><path color=#3751f0 d="M154.3,244.4l3.4,1.8-2.9-.8-3.4-1.9z"/><path color=#2b68f4 d="M245.1,236.8l1.7-4.1-2.9,3.2-1.7,3.1z"/><path color=#0e94e8 d="M259.5,211.7l.9-2.8-1,4-.8,.2z"/><path color=#2176f2 d="M290.5,226.6l.8,3.4-2.9,5-.8-4.1z"/><path color=#0e94e8 d="M284,207.8l.8,3.1-1.4,7-.9-6z"/><path color=#3c44ea d="M175.7,250.4l5.1,.2-2.9-.6-5.1,.2z"/><path color=#1589ed d="M131.2,216.7l3.3,6.3-2.8,1.7-3.4-6.5z"/><path color=#3d42e7 d="M222,253.6l1.6-.7-2.9-3.2-1.6,0z"/><path color=#1b80f1 d="M289.6,223.1l.9,3.5-2.9,4.3-.9-4.2z"/><path color=#3b2bba d="M423.3,268.4l3.3-.4-2.9-2.7-3.3,1.6z"/><path color=#0d98e5 d="M283.1,204.8l.9,3-1.5,4.1-.8-5.9z"/><path color=#0ca4de d="M265.5,194.2l1.7,2.3-.9,1.9-1.7,1.4z"/><path color=#0ea9d7 d="M108.1,188.3l3.3,3.9-2.9,2.8-3.3-2.5z"/><path color=#3b2bba d="M377,268.4l5.1-.5-2.9-1.8-5.1,0z"/><path color=#3d33d0 d="M311,260.8l1.7,.8-2.9-2.2-1.6-.4z"/><path color=#3b2bba d="M400.1,269l3.4-1.1-2.9-1.2-3.4-.4z"/><path color=#2f60f3 d="M243.4,240.7l1.7-3.9-2.9,2.2-1.7,2.2z"/><path color=#3b2cbd d="M353.9,267.6l5.1-.7-2.9-1.7-5.1,.2z"/><path color=#1687ef d="M287.9,218.9l1.7,4.2-2.9,3.6-1.7-3.2z"/><path color=#0d98e6 d="M281.4,208.8l1.7-4-1.4,1.2-1.7,8z"/><path color=#3d42e7 d="M220.3,254l1.7-.4-2.9-3.9-1.7,0z"/><path color=#0ca2e0 d="M264.7,198.3l.8-4.1-.9,5.6-.9,2.3z"/><path color=#0e96e7 d="M259.2,206.3l.8,4.6-1.4,2.2-.9-2.5z"/><path color=#0da5dc d="M271.6,192.5l1.6,2.8-.9,3-1.7-.3z"/><path color=#3c2ec3 d="M330.8,265.4l5,.5-2.8-3.1-5.1-.1z"/><path color=#3b2bb8 d="M443,269.3l5.1-.2-2.9-2.7-5.1,1.1z"/><path color=#0c9fe2 d="M263.9,202.4l.8-4.1-1,3.8-.8,2.3z"/><path color=#3d35d3 d="M309.4,260.2l1.6,.6-2.8-1.8-1.7-.8z"/><path color=#0d9ae5 d="M258.3,201.7l.9,4.6-1.5,4.3-.8-2.5z"/><path color=#3358f1 d="M150.9,241.5l3.4,2.9-2.9-.9-3.4-3.2z"/><path color=#3358f1 d="M241.7,244.8l1.7-4.1-2.9,.5-1.7,2.1z"/><path color=#0d99e5 d="M279.7,201.8l1.7,7-1.4,5.2-1.7-7.9z"/><path color=#1091e9 d="M127.8,210.5l3.4,6.2-2.9,1.5-3.4-6.5z"/><path color=#3d42e7 d="M218.6,254.1l1.7-.1-2.9-4.3-1.7,.3z"/><path color=#0d9ae5 d="M257.5,205.2l.8-3.5-1.4,6.4-.9,2.5z"/><path color=#0da4dd d="M269.9,197.4l1.7-4.9-1,5.5-1.7,1.7z"/><path color=#3b2bba d="M419.9,269.1l3.4-.7-2.9-1.5-3.4-.3z"/><path color=#0ca3de d="M268.2,194.5l1.7,2.9-1.5,3.4-1.7-3.4z"/><path color=#0d9de3 d="M262.2,199.7l1.7,2.7-1,2-1.7,1.7z"/><path color=#0facd4 d="M104.7,189.4l3.4-1.1-2.9,4.2-3.4-3z"/><path color=#3d43e8 d="M193.8,252.9l5-.1-2.9-3.4-5,.7z"/><path color=#3e36d5 d="M307.7,259.3l1.7,.9-2.9-2-1.7-.3z"/><path color=#3b2bb9 d="M396.8,269l3.3,0-2.9-2.7-3.3,.8z"/><path color=#0e97e6 d="M256.6,208.7l.9-3.5-1.5,5.4-.8,2.4z"/><path color=#3751f0 d="M240,247.7l1.7-2.9-2.9-1.5-1.7,2.1z"/><path color=#3c46ec d="M170.7,249.8l5,.6-2.9-.2-5-.9z"/><path color=#0ca1e1 d="M278.1,194.9l1.6,6.9-1.4,4.3-1.7-7.5z"/><path color=#3d42e6 d="M216.9,254.7l1.7-.6-2.9-4.1-1.7,.2z"/><path color=#0d9ce4 d="M261.3,204.9l.9-5.2-1,6.4-.8,2.8z"/><path color=#0e94e8 d="M255.8,212.3l.8-3.6-1.4,4.3-.9,1.1z"/><path color=#3b2bba d="M372,268.9l5-.5-2.9-2.3-5,.9z"/><path color=#0d98e6 d="M260.5,210.2l.8-5.3-.9,4-.9,2.8z"/><path color=#3e38d9 d="M306,258.1l1.7,1.2-2.9-1.4-1.7-1.7z"/><path color=#0f92e9 d="M254.9,215.9l.9-3.6-1.5,1.8-.8,1.1z"/><path color=#2e61f3 d="M147.6,237.6l3.3,3.9-2.9-1.2-3.3-3.2z"/><path color=#3a4cef d="M238.3,250.2l1.7-2.5-2.9-2.3-1.7,2z"/><path color=#3b2cbe d="M348.9,267.2l5,.4-2.9-2.2-5,.3z"/><path color=#3b2ab8 d="M439.6,270.1l3.4-.8-2.9-1.8-3.4-.1z"/><path color=#0da4de d="M276.4,195.4l1.7-.5-1.5,3.7-1.7,3z"/><path color=#0e97e6 d="M124.4,207l3.4,3.5-2.9,1.2-3.4-3.7z"/><path color=#3d42e6 d="M215.2,254.8l1.7-.1-2.9-4.5-1.7,.2z"/><path color=#0ea9d8 d="M266.5,188.6l1.7,5.9-1,2-1.7-2.3z"/><path color=#3c2fc5 d="M325.7,265l5.1,.4-2.9-2.7-5.1,.5z"/><path color=#3b2bba d="M416.5,269.5l3.4-.4-2.9-2.5-3.4,.4z"/><path color=#0fadd3 d="M101.3,190.2l3.4-.8-2.9,.1-3.4-.7z"/><path color=#3e3add d="M304.3,256.5l1.7,1.6-2.9-1.9-1.7-1.3z"/><path color=#3b2bba d="M393.4,269l3.4,0-2.9-1.9-3.4,0z"/><path color=#118feb d="M287.1,211.4l.8,7.5-1.4,2.3-.9-5.1z"/><path color=#3c47ed d="M236.6,252.6l1.7-2.4-2.9-2.8-1.6,2z"/><path color=#0ea8d9 d="M265.7,194.5l.8-5.9-1,5.6-.8,4.1z"/><path color=#0da5dd d="M274.7,195l1.7,.4-1.5,6.2-1.7-6.3z"/><path color=#3d41e5 d="M213.5,255.2l1.7-.4-2.9-4.4-1.7,.8z"/><path color=#0e96e7 d="M286.2,204l.9,7.4-1.5,4.7-.8-5.2z"/><path color=#1589ee d="M251.6,223.5l1.7-5.3-1.5,2-1.7,6.7z"/><path color=#3d43e8 d="M188.7,253.9l5.1-1-2.9-2.8-5.1,.4z"/><path color=#0ca2e0 d="M264.8,200.5l.9-6-1,3.8-.8,4.1z"/><path color=#3d3ee2 d="M302.6,254.1l1.7,2.4-2.9-1.6-1.7-1.8z"/><path color=#0d9ae4 d="M285.4,203.7l.8,.3-1.4,6.9-.8-3.1z"/><path color=#296bf3 d="M144.2,234.2l3.4,3.4-2.9-.5-3.4-3.4z"/><path color=#3d44e9 d="M235,254.2l1.6-1.6-2.8-3.2-1.7,.8z"/><path color=#3b49ee d="M165.6,248.4l5.1,1.4-2.9-.5-5.1-1.4z"/><path color=#3b2ab8 d="M436.3,270.1l3.3,0-2.9-2.7-3.3,.1z"/><path color=#0d9de3 d="M121.1,200.2l3.3,6.8-2.9,1-3.3-7.7z"/><path color=#3d41e5 d="M211.8,255.6l1.7-.4-2.9-4-1.6-.2z"/><path color=#0d9ce3 d="M284.6,203.5l.8,.2-1.4,4.1-.9-3z"/><path color=#0ca3df d="M263.1,193.2l1.7,7.3-.9,1.9-1.7-2.7z"/><path color=#3c2fc7 d="M324.1,264.9l1.6,.1-2.9-1.8-1.6-.5z"/><path color=#3b2bb9 d="M413.1,269.7l3.4-.2-2.9-2.5-3.4,.8z"/><path color=#1884f0 d="M249.9,226.3l1.7-2.8-1.5,3.4-1.7,.8z"/><path color=#3b2bbb d="M366.9,268.2l5.1,.7-2.9-1.9-5.1,.6z"/><path color=#3c44e9 d="M300.9,250l1.7,4.1-2.9-1-1.7-3.3z"/><path color=#3b2bba d="M390,269.5l3.4-.5-2.9-1.9-3.4,.4z"/><path color=#3d42e6 d="M233.3,255.5l1.7-1.3-2.9-4-1.7,1z"/><path color=#3c2dbf d="M343.8,266.6l5.1,.6-2.9-1.5-5.1,.3z"/><path color=#0d9ce3 d="M282.9,203.6l1.7-.1-1.5,1.3-1.7,4z"/><path color=#0ca2e0 d="M262.3,201l.8-7.8-.9,6.5-.9,5.2z"/><path color=#0d9ae4 d="M260.6,202.1l.8,6.7-1.4,2.1-.8-4.6z"/><path color=#0ea9d8 d="M271.3,192l1.7-.7-1.4,1.2-1.7,4.9z"/><path color=#3d41e5 d="M210.2,255.7l1.6-.1-2.8-4.6-1.7,.5z"/><path color=#3c30c7 d="M322.4,264.7l1.7,.2-2.9-2.2-1.7,.4z"/><path color=#118fea d="M254.7,216.1l1.7,.6-2.9-1.5-1.7,5z"/><path color=#0d9be4 d="M261.4,208.8l.9-7.8-1,3.9-.8,5.3z"/><path color=#0ca0e1 d="M259.8,195.3l.8,6.8-1.4,4.2-.9-4.6z"/><path color=#3a4bef d="M299.3,247.8l1.6,2.2-2.9-.2-1.6-3.1z"/><path color=#2176f2 d="M140.8,229.6l3.4,4.6-2.9-.5-3.4-4.9z"/><path color=#3d41e5 d="M231.6,256l1.7-.5-2.9-4.3-1.7,.7z"/><path color=#3b2bb9 d="M432.9,270l3.4,.1-2.9-2.6-3.4,.2z"/><path color=#0c9fe2 d="M281.2,197.6l1.7,6-1.5,5.2-1.7-7z"/><path color=#0ca1e1 d="M258.9,199.9l.9-4.6-1.5,6.4-.8,3.5z"/><path color=#0eaad7 d="M269.6,188.9l1.7,3.1-1.4,5.4-1.7-2.9z"/><path color=#0ca3df d="M117.7,196.3l3.4,3.9-2.9,.1-3.4-2.6z"/><path color=#3d40e4 d="M208.5,256l1.7-.3-2.9-4.2-1.7,.4z"/><path color=#3c30c9 d="M320.7,264.3l1.7,.4-2.9-1.6-1.7-.8z"/><path color=#3b2bb9 d="M409.8,269.8l3.3-.1-2.9-1.9-3.3-.1z"/><path color=#3d43e8 d="M183.7,253.6l5,.3-2.9-3.4-5,.1z"/><path color=#0d9de3 d="M258.1,204.4l.8-4.5-1.4,5.3-.9,3.5z"/><path color=#3556f1 d="M297.6,241.7l1.7,6.1-2.9-1.1-1.7-4.8z"/><path color=#3d40e4 d="M229.9,256.8l1.7-.8-2.9-4.1-1.7,.5z"/><path color=#394eef d="M160.6,247.1l5,1.3-2.9-.5-5-1.7z"/><path color=#0da6db d="M279.5,191.1l1.7,6.5-1.5,4.2-1.6-6.9z"/><path color=#0eaad7 d="M274.5,190.1l1.6,4.6-2.9,.6-1.6-2.8z"/><path color=#0d98e5 d="M257.2,210.5l.9-6.1-1.5,4.3-.8,3.6z"/><path color=#0faed2 d="M267.9,187.8l1.7,1.1-1.4,5.6-1.7-5.9z"/><path color=#3d40e4 d="M206.8,256.2l1.7-.2-2.9-4.1-1.7,.7z"/><path color=#3b2bba d="M385,270.3l5-.8-2.9-2-5,.4z"/><path color=#3d31ca d="M319,264.3l1.7,0-2.9-2-1.7-.2z"/><path color=#3b2cbc d="M361.9,268.9l5-.7-2.9-.6-5-.7z"/><path color=#0e93e8 d="M256.4,216.7l.8-6.2-1.4,1.8-.9,3.6z"/><path color=#2d64f4 d="M295.9,234.2l1.7,7.5-2.9,.2-1.7-2.9z"/><path color=#1884f0 d="M137.4,225.2l3.4,4.4-2.9-.8-3.4-5.8z"/><path color=#3d3fe3 d="M228.2,257l1.7-.2-2.9-4.4-1.7,.4z"/><path color=#0fadd3 d="M267.1,192.1l.8-4.3-1.4,.8-.8,5.9z"/><path color=#3c2dc1 d="M338.7,266.7l5.1-.1-2.9-.6-5.1-.1z"/><path color=#3b2bb9 d="M429.5,270.6l3.4-.6-2.9-2.3-3.4,.3z"/><path color=#0fabd6 d="M277.8,189.1l1.7,2-1.4,3.8-1.7,.5z"/><path color=#0ea8d9 d="M114.3,193.2l3.4,3.1-2.9,1.4-3.4-5.5z"/><path color=#1a80f0 d="M250.5,229.7l.8-4.8-2.9,2.8-.8,2.5z"/><path color=#3d31cb d="M317.3,264l1.7,.3-2.9-2.2-1.7-.3z"/><path color=#3b2bba d="M406.4,270.2l3.4-.4-2.9-2.1-3.4,.2z"/><path color=#0da7da d="M266.3,196.3l.8-4.2-1.4,2.4-.9,6z"/><path color=#2570f3 d="M295,230.4l.9,3.8-2.9,4.8-.9-4.5z"/><path color=#2077f2 d="M249.7,234.5l.8-4.8-2.9,.5-.8,2.5z"/><path color=#3d3ee2 d="M226.5,258.2l1.7-1.2-2.9-4.2-1.7,.1z"/><path color=#0da7da d="M263.3,197.6l.8-6.2-1,1.8-.8,7.8z"/><path color=#1e7bf1 d="M294.2,226.5l.8,3.9-2.9,4.1-.8-4.5z"/><path color=#0eaad7 d="M276.1,194.7l1.7-5.6-1.4,6.3-1.7-.4z"/><path color=#0ea8d9 d="M264.6,190.6l1.7,5.7-1.5,4.2-1.7-7.3z"/><path color=#3d40e3 d="M201.7,257l5.1-.8-2.9-3.6-5.1,.2z"/><path color=#3d32cd d="M315.6,263.2l1.7,.8-2.9-2.2-1.7-.2z"/><path color=#128dec d="M253,220.1l1.7-4-1.4,2.1-1.7,5.3z"/><path color=#3653f0 d="M157.2,245.5l3.4,1.6-2.9-.9-3.4-1.8z"/><path color=#266ef3 d="M248,237.5l1.7-3-2.9-1.8-1.7,4.1z"/><path color=#0c9fe2 d="M262.4,203.7l.9-6.1-1,3.4-.9,7.8z"/><path color=#3c44ea d="M178.6,253.7l5.1-.1-2.9-3-5.1-.2z"/><path color=#1687ef d="M292.5,219.1l1.7,7.4-2.9,3.5-1.7-6.9z"/><path color=#148bed d="M134.1,219.5l3.3,5.7-2.9-2.2-3.3-6.3z"/><path color=#3d3ee1 d="M224.9,258.3l1.6-.1-2.9-5.3-1.6,.7z"/><path color=#0c9fe2 d="M261.6,199l.8,4.7-1,5.1-.8-6.7z"/><path color=#3b2bb9 d="M426.2,270.6l3.3,0-2.9-2.6-3.3,.4z"/><path color=#0fadd4 d="M111,190.7l3.3,2.5-2.9-1-3.3-3.9z"/><path color=#3b2bba d="M379.9,269.8l5.1,.5-2.9-2.4-5.1,.5z"/><path color=#3d33d0 d="M313.9,262.8l1.7,.4-2.9-1.6-1.7-.8z"/><path color=#3b2bb9 d="M403,270.3l3.4-.1-2.9-2.3-3.4,1.1z"/><path color=#1588ee d="M251.3,224.9l1.7-4.8-1.4,3.4-1.7,2.8z"/><path color=#2b67f4 d="M246.3,238.9l1.7-1.4-2.9-.7-1.7,3.9z"/><path color=#0da5dc d="M260.7,194.3l.9,4.7-1,3.1-.8-6.8z"/><path color=#0ca0e1 d="M285.2,200.7l.8,2.2-1.4,.6-.9,0z"/><path color=#0ca2e0 d="M283,196l.8,4.2-.9,3.4-.9-3z"/><path color=#3b2cbd d="M356.8,268.8l5.1,.1-2.9-2-5.1,.7z"/><path color=#128eeb d="M290.8,215.2l1.7,3.9-2.9,4-1.7-4.2z"/><path color=#3d3de0 d="M223.2,258.9l1.7-.6-2.9-4.7-1.7,.4z"/><path color=#3c2ec3 d="M333.7,267l5-.3-2.9-.8-5-.5z"/><path color=#10afd2 d="M272.8,186.5l1.7,3.6-1.5,1.2-1.7,.7z"/><path color=#0ca1e1 d="M284.3,198.4l.9,2.3-1.5,2.8-.8,.1z"/><path color=#0da7db d="M282.2,191.8l.8,4.2-1,4.6-.8-3z"/><path color=#3b2ab8 d="M445.9,271.2l5.1-.4-2.9-1.7-5.1,.2z"/><path color=#3d34d2 d="M312.3,262.4l1.6,.4-2.9-2-1.6-.6z"/><path color=#325af2 d="M153.8,242.6l3.4,2.9-2.9-1.1-3.4-2.9z"/><path color=#315cf2 d="M244.6,246.3l1.7-7.4-2.9,1.8-1.7,4.1z"/><path color=#0e94e8 d="M290,210.8l.8,4.4-2.9,3.7-.8-7.5z"/><path color=#0f92e9 d="M130.7,215.1l3.4,4.4-2.9-2.8-3.4-6.2z"/><path color=#3d3de0 d="M221.5,259.4l1.7-.5-2.9-4.9-1.7,.1z"/><path color=#0fabd5 d="M280.5,190.1l1.7,1.7-1,5.8-1.7-6.5z"/><path color=#0d9ce3 d="M258.2,206.7l.8-4.2-.9,1.9-.9,6.1z"/><path color=#0d9ae5 d="M289.1,206.4l.9,4.4-2.9,.6-.9-7.4z"/><path color=#3b2bb9 d="M422.8,271.4l3.4-.8-2.9-2.2-3.4,.7z"/><path color=#11b1ca d="M271.1,183.3l1.7,3.2-1.5,5.5-1.7-3.1z"/><path color=#10b0d0 d="M107.6,187.3l3.4,3.4-2.9-2.4-3.4,1.1z"/><path color=#3d40e4 d="M196.7,256.8l5,.2-2.9-4.2-5,.1z"/><path color=#3e36d5 d="M310.6,260.8l1.7,1.6-2.9-2.2-1.7-.9z"/><path color=#3b2bb9 d="M399.7,270.7l3.3-.4-2.9-1.3-3.3,0z"/><path color=#3751f0 d="M242.9,250.3l1.7-4-2.9-1.5-1.7,2.9z"/><path color=#0e97e6 d="M257.4,210.8l.8-4.1-1,3.8-.8,6.2z"/><path color=#3c46eb d="M173.6,253.8l5-.1-2.9-3.3-5-.6z"/><path color=#0c9fe2 d="M287.5,202.3l1.6,4.1-2.9-2.4-1.6-.5z"/><path color=#3d3ce0 d="M219.8,259.3l1.7,.1-2.9-5.3-1.7,.6z"/><path color=#0fabd6 d="M264.2,194.2l.9-4.5-1,1.7-.8,6.2z"/><path color=#0e94e8 d="M256.5,212.9l.9-2.1-1,5.9-.9-.3z"/><path color=#12b3c5 d="M269.4,187.1l1.7-3.8-1.5,5.6-1.7-1.1z"/><path color=#3b2bbb d="M374.9,270.3l5-.5-2.9-1.4-5,.5z"/><path color=#0da5dd d="M263.4,198.6l.8-4.4-.9,3.4-.9,6.1z"/><path color=#3e38da d="M308.9,259.6l1.7,1.2-2.9-1.5-1.7-1.2z"/><path color=#2e63f3 d="M150.4,239.7l3.4,2.9-2.9-1.1-3.3-3.9z"/><path color=#3b49ee d="M241.2,253.6l1.7-3.3-2.9-2.6-1.7,2.5z"/><path color=#0f93e9 d="M255.7,215l.8-2.1-1,3.5-.8-.3z"/><path color=#10b0d0 d="M280.1,185.7l.9,3.9-1.5,1.5-.8-1z"/><path color=#3b2cbe d="M351.7,269.2l5.1-.4-2.9-1.2-5-.4z"/><path color=#3b2ab7 d="M442.5,271.6l3.4-.4-2.9-1.9-3.4,.8z"/><path color=#10b0d0 d="M268.6,189.6l.8-2.5-1.5,.7-.8,4.3z"/><path color=#0d98e6 d="M127.3,207.1l3.4,8-2.9-4.6-3.4-3.5z"/><path color=#3d3cdf d="M218.1,259.4l1.7-.1-2.9-4.6-1.7,.1z"/><path color=#0da4de d="M262.5,195.9l.9,2.7-1,5.1-.8-4.7z"/><path color=#3c2ec5 d="M328.6,266.7l5.1,.3-2.9-1.6-5.1-.4z"/><path color=#3b2bb8 d="M419.4,271l3.4,.4-2.9-2.3-3.4,.4z"/><path color=#12b3c4 d="M279.3,181.8l.8,3.9-1.4,4.4-.9-1z"/><path color=#11b1cb d="M104.2,185l3.4,2.3-2.9,2.1-3.4,.8z"/><path color=#0facd5 d="M267.7,192.2l.9-2.6-1.5,2.5-.8,4.2z"/><path color=#0ea8d9 d="M261.7,193.2l.8,2.7-.9,3.1-.9-4.7z"/><path color=#3e3bde d="M307.2,257.4l1.7,2.2-2.9-1.5-1.7-1.6z"/><path color=#3b2bba d="M396.3,270.4l3.4,.3-2.9-1.7-3.4,0z"/><path color=#3c44ea d="M239.5,255.6l1.7-2-2.9-3.4-1.7,2.4z"/><path color=#0ea8d9 d="M284,191.4l.8,5.3-1,3.5-.8-4.2z"/><path color=#0faed2 d="M276.3,186.9l.8,3.4-1,4.4-.8-2.3z"/><path color=#11b1cc d="M277.6,188.2l1.7-6.4-1.5,7.3-1.7,5.6z"/><path color=#3d3cdf d="M216.4,259.4l1.7,0-2.9-4.6-1.7,.4z"/><path color=#0ea8d9 d="M261.8,195.4l.9-3.2-2.9,3.1-.9,4.6z"/><path color=#0faed3 d="M283.1,186l.9,5.4-1,4.6-.8-4.2z"/><path color=#0fadd3 d="M266,187.9l1.7,4.3-1.4,4.1-1.7-5.7z"/><path color=#11b1ca d="M275.4,183.4l.9,3.5-1,5.5-.8-2.3z"/><path color=#3d40e4 d="M191.6,257.8l5.1-1-2.9-3.9-5.1,1z"/><path color=#0da4de d="M261,198.7l.8-3.3-2.9,4.5-.8,4.5z"/><path color=#3d40e4 d="M305.5,254.7l1.7,2.7-2.9-.9-1.7-2.4z"/><path color=#3d40e4 d="M237.9,258.8l1.6-3.2-2.9-3-1.6,1.6z"/><path color=#286cf3 d="M147,236.5l3.4,3.2-2.8-2.1-3.4-3.4z"/><path color=#3c48ee d="M168.5,252.6l5.1,1.2-2.9-4-5.1-1.4z"/><path color=#3b2ab7 d="M439.2,272.2l3.3-.6-2.9-1.5-3.3,0z"/><path color=#10b0cf d="M281.4,189.1l1.7-3.1-.9,5.8-1.7-1.7z"/><path color=#0c9fe2 d="M124,202.5l3.3,4.6-2.9-.1-3.3-6.8z"/><path color=#3e3cdf d="M214.7,260.8l1.7-1.4-2.9-4.2-1.7,.4z"/><path color=#0ca0e1 d="M259.2,202.8l.8-2.2-1,1.9-.8,4.2z"/><path color=#13b5ba d="M273.7,179.9l1.7,3.5-.9,6.7-1.7-3.6z"/><path color=#3c2fc7 d="M326.9,266.1l1.7,.6-2.9-1.7-1.6-.1z"/><path color=#3b2bb8 d="M416,272l3.4-1-2.9-1.5-3.4,.2z"/><path color=#3b2bbb d="M369.8,270.7l5.1-.4-2.9-1.4-5.1-.7z"/><path color=#0d9de3 d="M258.3,204.9l.9-2.1-1,3.9-.8,4.1z"/><path color=#3c46eb d="M303.8,251.5l1.7,3.2-2.9-.6-1.7-4.1z"/><path color=#3b2bba d="M392.9,271.5l3.4-1.1-2.9-1.4-3.4,.5z"/><path color=#0ca2df d="M286.6,197.8l.9,4.5-1.5,.6-.8-2.2z"/><path color=#3d3de1 d="M236.2,259.4l1.7-.6-2.9-4.6-1.7,1.3z"/><path color=#15b8b2 d="M273.2,181.2l.5-1.3-.9,6.6-.6-1z"/><path color=#3c2dc0 d="M346.7,269.1l5,.1-2.8-2-5.1-.6z"/><path color=#10afd1 d="M265.2,190.7l.8-2.8-.9,1.8-.9,4.5z"/><path color=#3e3bde d="M213.1,260.8l1.6,0-2.9-5.2-1.6,.1z"/><path color=#0d99e5 d="M257.5,209.5l.8-4.6-.9,5.9-.9,2.1z"/><path color=#15b8b2 d="M272.6,182.4l.6-1.2-1,4.3-.6-1.1z"/><path color=#0da7db d="M285.8,193.3l.8,4.5-1.4,2.9-.9-2.3z"/><path color=#3c30c8 d="M325.3,266.2l1.6-.1-2.8-1.2-1.7-.2z"/><path color=#14b7b2 d="M272,183.7l.6-1.3-1,2-.5-1.1z"/><path color=#0eabd6 d="M264.3,193.6l.9-2.9-1,3.5-.8,4.4z"/><path color=#0e96e7 d="M256.6,214l.9-4.5-1,3.4-.8,2.1z"/><path color=#394eef d="M302.1,247.3l1.7,4.2-2.9-1.5-1.6-2.2z"/><path color=#3e3cdf d="M234.5,260.9l1.7-1.5-2.9-3.9-1.7,.5z"/><path color=#2078f2 d="M143.7,231.1l3.3,5.4-2.8-2.3-3.4-4.6z"/><path color=#3b2ab8 d="M435.8,272.2l3.4,0-2.9-2.1-3.4-.1z"/><path color=#0ea9d8 d="M263.5,192.9l.8,.7-.9,5-.9-2.7z"/><path color=#0da4de d="M120.6,198.9l3.4,3.6-2.9-2.3-3.4-3.9z"/><path color=#3e3bde d="M211.4,260.7l1.7,.1-2.9-5.1-1.7,.3z"/><path color=#3c30c9 d="M323.6,265.6l1.7,.6-2.9-1.5-1.7-.4z"/><path color=#3b2bb9 d="M412.7,271.6l3.3,.4-2.9-2.3-3.3,.1z"/><path color=#0f92e9 d="M255.9,217.2l1.7-4.3-2.9,3.2-1.7,4z"/><path color=#3d40e4 d="M186.6,257.4l5,.4-2.9-3.9-5-.3z"/><path color=#0facd5 d="M262.7,192.2l.8,.7-1,3-.8-2.7z"/><path color=#0fadd3 d="M284.9,186.7l.9,6.6-1,3.4-.8-5.3z"/><path color=#325bf2 d="M300.5,241.2l1.6,6.1-2.8,.5-1.7-6.1z"/><path color=#3e3add d="M232.8,261.6l1.7-.7-2.9-4.9-1.7,.8z"/><path color=#13b5be d="M277.2,181.3l.9,4.7-1,4.3-.8-3.4z"/><path color=#14b7b2 d="M271.7,182.5l.8,1.3-1.4-.5-.9,1.9z"/><path color=#3a4cef d="M163.5,251.6l5,1-2.9-4.2-5-1.3z"/><path color=#3e3bde d="M209.7,261l1.7-.3-2.9-4.7-1.7,.2z"/><path color=#12b4c2 d="M268.7,185.4l1.7-2.3-1,4-1.7,5.1z"/><path color=#13b5bd d="M284.1,180.2l.8,6.5-.9,4.7-.9-5.4z"/><path color=#3b2bba d="M387.9,271.1l5,.4-2.9-2-5,.8z"/><path color=#16b9aa d="M276.4,176.6l.8,4.7-.9,5.6-.9-3.5z"/><path color=#3d31cb d="M321.9,264.8l1.7,.8-2.9-1.3-1.7,0z"/><path color=#14b7b3 d="M270.8,181.2l.9,1.3-1.5,2.7-.8,1.9z"/><path color=#138dec d="M254.2,222.2l1.7-5-2.9,2.9-1.7,4.8z"/><path color=#2a69f4 d="M299.6,235.7l.9,5.5-2.9,.5-.9-3.7z"/><path color=#0e97e7 d="M291.2,209.5l.6,4-1,1.7-.5-2.9z"/><path color=#3b2cbd d="M364.8,270.5l5,.2-2.9-2.5-5,.7z"/><path color=#13b5be d="M281.6,181.3l.8,6.8-1.4,1.5-.9-3.9z"/><path color=#3e39dc d="M231.1,262.7l1.7-1.1-2.9-4.8-1.7,.2z"/><path color=#1883f0 d="M140.3,228.2l3.4,2.9-2.9-1.5-3.4-4.4z"/><path color=#0d9ae4 d="M290.7,205.4l.5,4.1-.9,2.8-.6-3z"/><path color=#11b2c8 d="M267.8,185.7l.9-.3-1,6.8-.8-2.1z"/><path color=#13b5bc d="M282.4,188.1l1.7-7.9-1,5.8-1.7,3.1z"/><path color=#2275f2 d="M298.8,230.1l.8,5.6-2.9,2.3-.8-3.8z"/><path color=#3c2ec2 d="M341.6,268.1l5.1,1-2.9-2.5-5.1,.1z"/><path color=#3b2ab8 d="M432.4,272.4l3.4-.2-2.9-2.2-3.4,.6z"/><path color=#0da4de d="M260.1,198.9l.9-.2-1,1.9-.8,2.2z"/><path color=#19bd9b d="M274.7,173.3l1.7,3.3-1,6.8-1.7-3.5z"/><path color=#0d9ee2 d="M290.1,201.4l.6,4-1,3.9-.6-2.9z"/><path color=#0ea9d8 d="M117.2,194.6l3.4,4.3-2.9-2.6-3.4-3.1z"/><path color=#1687ee d="M253.4,226.1l.8-3.9-2.9,2.7-.8,4.8z"/><path color=#17bba4 d="M280.7,174.4l.9,6.9-1.5,4.4-.8-3.9z"/><path color=#3d32cd d="M320.2,264.6l1.7,.2-2.9-.5-1.7-.3z"/><path color=#3b2bb9 d="M409.3,272l3.4-.4-2.9-1.8-3.4,.4z"/><path color=#12b3c3 d="M267,186l.8-.3-.9,4.4-.9-2.2z"/><path color=#0ca3df d="M259.3,199.1l.8-.2-.9,3.9-.9,2.1z"/><path color=#1b80f1 d="M252.5,230l.9-3.9-2.9,3.6-.8,4.8z"/><path color=#1983f0 d="M297.1,226.2l1.7,3.9-2.9,4.1-1.7-7.7z"/><path color=#1abd99 d="M274.1,176.9l.6-3.6-1,6.6-.5,1.3z"/><path color=#3e38db d="M229.4,262.7l1.7,0-2.9-5.7-1.7,1.2z"/><path color=#0ca2e0 d="M288.4,198.1l1.7,3.3-1,5-1.6-4.1z"/><path color=#16baa7 d="M279,181.6l1.7-7.2-1.4,7.4-1.7,6.4z"/><path color=#0c9fe2 d="M258.4,206l.9-6.9-1,5.8-.8,4.6z"/><path color=#18bba2 d="M273.6,180.4l.5-3.5-.9,4.3-.6,1.2z"/><path color=#3e3bdd d="M204.6,262.2l5.1-1.2-2.9-4.8-5.1,.8z"/><path color=#3d33cf d="M318.5,264.5l1.7,.1-2.9-.6-1.7-.8z"/><path color=#15b9ab d="M273,184l.6-3.6-1,2-.6,1.3z"/><path color=#3751f0 d="M160.1,249.9l3.4,1.7-2.9-4.5-3.4-1.6z"/><path color=#2274f2 d="M250.9,237.2l1.6-7.2-2.8,4.5-1.7,3z"/><path color=#1589ed d="M296.3,221.7l.8,4.5-2.9,.3-.8-3.7z"/><path color=#3d41e5 d="M181.5,258.1l5.1-.7-2.9-3.8-5.1,.1z"/><path color=#0d99e5 d="M257.6,212.9l.8-6.9-.9,3.5-.9,4.5z"/><path color=#3e38d9 d="M227.7,263.9l1.7-1.2-2.9-4.5-1.6,.1z"/><path color=#148aed d="M136.9,222.1l3.4,6.1-2.9-3-3.3-5.7z"/><path color=#128eeb d="M295.4,217.2l.9,4.5-2.9,1.1-.9-3.7z"/><path color=#3b2ab8 d="M429,272.7l3.4-.3-2.9-1.8-3.3,0z"/><path color=#11b2c9 d="M265.8,189.1l1.7-4.1-1.5,2.9-1.7,5.7z"/><path color=#0faed2 d="M113.9,189.1l3.3,5.5-2.9-1.4-3.3-2.5z"/><path color=#3b2bba d="M382.8,271.9l5.1-.8-2.9-.8-5.1-.5z"/><path color=#3d34d1 d="M316.8,263.7l1.7,.8-2.9-1.3-1.7-.4z"/><path color=#3b2bb9 d="M405.9,272.2l3.4-.2-2.9-1.8-3.4,.1z"/><path color=#286cf3 d="M249.2,239.5l1.7-2.3-2.9,.3-1.7,1.4z"/><path color=#0ea8d9 d="M288.1,193.3l.8,2.7-1.4,6.3-.9-4.5z"/><path color=#3b2cbe d="M359.7,270.2l5.1,.3-2.9-1.6-5.1-.1z"/><path color=#17bba4 d="M278.2,175.7l.8,5.9-.9,4.4-.9-4.7z"/><path color=#0e94e8 d="M293.7,210.1l1.7,7.1-2.9,1.9-1.7-3.9z"/><path color=#3e37d8 d="M226.1,264.1l1.6-.2-2.8-5.6-1.7,.6z"/><path color=#3c2ec4 d="M336.6,268.3l5-.2-2.9-1.4-5,.3z"/><path color=#0facd4 d="M287.2,190.5l.9,2.8-1.5,4.5-.8-4.5z"/><path color=#17bba6 d="M269.6,178.6l1.7,.6-.9,3.9-1.7,2.3z"/><path color=#3b2ab8 d="M448.8,272.9l5-.2-2.8-1.9-5.1,.4z"/><path color=#10b0d0 d="M264.1,187.8l1.7,1.3-1.5,4.5-1.6-1.4z"/><path color=#1cbf90 d="M277.3,169.9l.9,5.8-1,5.6-.8-4.7z"/><path color=#3d35d3 d="M315.2,263l1.6,.7-2.9-.9-1.6-.4z"/><path color=#0d9ae5 d="M292.2,206.7l.6,5.1-1,1.7-.6-4z"/><path color=#2e61f3 d="M247.5,245.5l1.7-6-2.9-.6-1.7,7.4z"/><path color=#3457f1 d="M156.7,248.3l3.4,1.6-2.9-4.4-3.4-2.9z"/><path color=#0d9ee2 d="M291.6,201.6l.6,5.1-1,2.8-.5-4.1z"/><path color=#3e37d7 d="M224.4,264.5l1.7-.4-2.9-5.2-1.7,.5z"/><path color=#16b9aa d="M268.8,181.3l.8-2.7-.9,6.8-.9,.3z"/><path color=#1090ea d="M133.5,218.5l3.4,3.6-2.8-2.6-3.4-4.4z"/><path color=#21c380 d="M275.7,166.7l1.6,3.2-.9,6.7-1.7-3.3z"/><path color=#3b2ab8 d="M425.7,273.1l3.3-.4-2.8-2.1-3.4,.8z"/><path color=#0ca3de d="M291.1,196.4l.5,5.2-.9,3.8-.6-4z"/><path color=#0fadd4 d="M262.4,194.9l1.7-7.1-1.4,4.4-1.7,6.5z"/><path color=#11b2ca d="M110.5,189.4l3.4-.3-2.9,1.6-3.4-3.4z"/><path color=#3e3add d="M199.6,262.9l5-.7-2.9-5.2-5-.2z"/><path color=#15b8b1 d="M268,184l.8-2.7-1,4.4-.8,.3z"/><path color=#3e37d7 d="M313.5,261.7l1.7,1.3-2.9-.6-1.7-1.6z"/><path color=#3b2bba d="M402.6,272.2l3.3,0-2.9-1.9-3.3,.4z"/><path color=#3653f0 d="M245.8,251.1l1.7-5.6-2.9,.8-1.7,4z"/><path color=#3d42e6 d="M176.5,258l5,.1-2.9-4.4-5,.1z"/><path color=#20c382 d="M275.1,172.6l.6-5.9-1,6.6-.6,3.6z"/><path color=#0ea8d9 d="M289.4,193.9l1.7,2.5-1,5-1.7-3.3z"/><path color=#16baa9 d="M273.1,179.8l.9,4.5-1.5-.5-.8-1.3z"/><path color=#16baa9 d="M283.9,183.4l1.6-4.5-1.4,1.3-1.7,7.9z"/><path color=#3e36d7 d="M222.7,265l1.7-.5-2.9-5.1-1.7-.1z"/><path color=#1cbf94 d="M274.5,178.5l.6-5.9-1,4.3-.5,3.5z"/><path color=#0ea8d9 d="M260.7,197.7l1.7-2.8-1.4,3.8-1.7,.4z"/><path color=#3b2bbb d="M377.8,272.2l5-.3-2.9-2.1-5,.5z"/><path color=#19bc9d d="M272.3,175.3l.8,4.5-1.4,2.7-.9-1.3z"/><path color=#17bba5 d="M274,184.3l.5-5.8-.9,1.9-.6,3.6z"/><path color=#3e39dc d="M311.8,260.2l1.7,1.5-2.9-.9-1.7-1.2z"/><path color=#3c49ee d="M244.1,254.6l1.7-3.5-2.9-.8-1.7,3.3z"/><path color=#315df2 d="M153.3,246.6l3.4,1.7-2.9-5.7-3.4-2.9z"/><path color=#16baa7 d="M283,176.3l.9,7.1-1.5,4.7-.8-6.8z"/><path color=#3c2dbf d="M354.6,270.2l5.1,0-2.9-1.4-5.1,.4z"/><path color=#3b2ab7 d="M445.4,273.7l3.4-.8-2.9-1.7-3.4,.4z"/><path color=#3e36d6 d="M221,265.5l1.7-.5-2.9-5.7-1.7,.1z"/><path color=#0e97e6 d="M130.1,212.6l3.4,5.9-2.8-3.4-3.4-8z"/><path color=#3c2fc6 d="M331.5,267.4l5.1,.9-2.9-1.3-5.1-.3z"/><path color=#3b2bb9 d="M422.3,272.5l3.4,.6-2.9-1.7-3.4-.4z"/><path color=#1ec08c d="M282.2,169.2l.8,7.1-1.4,5-.9-6.9z"/><path color=#12b3c6 d="M107.1,192.9l3.4-3.5-2.9-2.1-3.4-2.3z"/><path color=#0e97e6 d="M256.9,212.1l1.7-.6-1,1.4-1.7,4.3z"/><path color=#3d3de0 d="M310.1,257.5l1.7,2.7-2.9-.6-1.7-2.2z"/><path color=#3b2bba d="M399.2,272.5l3.4-.3-2.9-1.5-3.4-.3z"/><path color=#3d43e8 d="M242.4,257.8l1.7-3.2-2.9-1-1.7,2z"/><path color=#13b4bf d="M287.8,182.6l.9,5.1-2.9,5.6-.9-6.6z"/><path color=#20c285 d="M281.6,173.3l.6-4.1-1.5,5.2-.5,2.4z"/><path color=#1cbf91 d="M281,177.3l.6-4-1.4,3.5-.6,2.4z"/><path color=#3e36d6 d="M219.3,265.5l1.7,0-2.9-6.1-1.7,0z"/><path color=#0e94e8 d="M256,215.7l.9-3.6-1,5.1-.8,2.5z"/><path color=#1dc08f d="M270.6,171.7l1.7,3.6-1,3.9-1.7-.6z"/><path color=#17bba4 d="M287,177.6l.8,5-2.9,4.1-.8-6.5z"/><path color=#19bd9d d="M280.5,181.4l.5-4.1-1.4,1.9-.6,2.4z"/><path color=#3e3add d="M194.5,263.2l5.1-.3-2.9-6.1-5.1,1z"/><path color=#0d9de3 d="M293.2,203.9l.5,6.2-.9,1.7-.6-5.1z"/><path color=#3d43e7 d="M308.4,254.5l1.7,3-2.9-.1-1.7-2.7z"/><path color=#3d3ee2 d="M240.8,260.3l1.6-2.5-2.9-2.2-1.6,3.2z"/><path color=#1091ea d="M255.2,219.3l.8-3.6-.9,4-.9,2.5z"/><path color=#2d65f4 d="M149.9,244.1l3.4,2.5-2.9-6.9-3.4-3.2z"/><path color=#3d43e8 d="M171.4,258.2l5.1-.2-2.9-4.2-5.1-1.2z"/><path color=#0ca3df d="M292.6,197.7l.6,6.2-1,2.8-.6-5.1z"/><path color=#3b2ab7 d="M442.1,273.6l3.3,.1-2.9-2.1-3.3,.6z"/><path color=#1cbf92 d="M269.8,176.9l.8-5.2-1,6.9-.8,2.7z"/><path color=#3e36d5 d="M217.6,266l1.7-.5-2.9-6.1-1.7,1.4z"/><path color=#0d9de3 d="M126.8,208.1l3.3,4.5-2.8-5.5-3.3-4.6z"/><path color=#0ea9d7 d="M292,191.4l.6,6.3-1,3.9-.5-5.2z"/><path color=#3c30c9 d="M329.8,267.4l1.7,0-2.9-.7-1.7-.6z"/><path color=#3b2bb9 d="M418.9,273l3.4-.5-2.9-1.5-3.4,1z"/><path color=#14b7b3 d="M267.2,184.6l1.7-2.5-1.4,2.9-1.7,4.1z"/><path color=#18bca1 d="M268.9,182.1l.9-5.2-1,4.4-.8,2.7z"/><path color=#3b2bbc d="M372.7,271.8l5.1,.4-2.9-1.9-5.1,.4z"/><path color=#3b49ee d="M306.7,250.9l1.7,3.6-2.9,.2-1.7-3.2z"/><path color=#3b2bba d="M395.8,272.7l3.4-.2-2.9-2.1-3.4,1.1z"/><path color=#10afd1 d="M289.5,188.7l.9,1.1-1.5,6.2-.8-2.7z"/><path color=#3e3add d="M239.1,262.6l1.7-2.3-2.9-1.5-1.7,.6z"/><path color=#24c47b d="M276.1,173.4l.5-2.7-.9-4-.6,5.9z"/><path color=#10aed2 d="M290.4,189.8l1.6,1.6-.9,5-1.7-2.5z"/><path color=#3c2dc0 d="M349.6,270.2l5,0-2.9-1-5-.1z"/><path color=#24c47b d="M277.1,172.7l1.7,1.1-1.5-3.9-1.6-3.2z"/><path color=#3d35d4 d="M216,266.3l1.6-.3-2.9-5.2-1.6,0z"/><path color=#0da5dd d="M261.3,202.5l.9-6.2-2.9,2.8-.9,6.9z"/><path color=#1ec18a d="M275.5,176.1l.6-2.7-1-.8-.6,5.9z"/><path color=#11b2c9 d="M288.7,187.7l.8,1-1.4,4.6-.9-2.8z"/><path color=#3d31ca d="M328.2,267l1.6,.4-2.9-1.3-1.6,.1z"/><path color=#14b6b7 d="M265.6,183.4l1.6,1.2-1.4,4.5-1.7-1.3z"/><path color=#3752f0 d="M305.9,246.3l.8,4.6-2.9,.6-.8-2.1z"/><path color=#1abd9a d="M274.9,178.8l.6-2.7-1,2.4-.5,5.8z"/><path color=#138bec d="M254,225.5l1.7-7.7-1.5,4.4-1.7,7.8z"/><path color=#0d9ee3 d="M260.5,208.6l.8-6.1-2.9,3.5-.8,6.9z"/><path color=#3e38da d="M237.4,263.6l1.7-1-2.9-3.2-1.7,1.5z"/><path color=#266ff3 d="M146.5,241l3.4,3.1-2.9-7.6-3.3-5.4z"/><path color=#1abd9a d="M274.1,174.7l.8,4.1-.9,5.5-.9-4.5z"/><path color=#325bf2 d="M305,241.8l.9,4.5-2.9,3.1-.9-2.1z"/><path color=#3b2ab8 d="M438.7,273.7l3.4-.1-2.9-1.4-3.4,0z"/><path color=#3d35d4 d="M214.3,266.8l1.7-.5-2.9-5.5-1.7-.1z"/><path color=#0ca2e0 d="M123.4,204.6l3.4,3.5-2.8-5.6-3.4-3.6z"/><path color=#1884f0 d="M253.2,230l.8-4.5-1.5,4.5-.8,3.6z"/><path color=#3d32cc d="M326.5,266l1.7,1-2.9-.8-1.7-.6z"/><path color=#3b2bb9 d="M415.6,273.7l3.3-.7-2.9-1-3.3-.4z"/><path color=#12b3c5 d="M263.9,191l1.7-7.6-1.5,4.4-1.7,7.1z"/><path color=#0d9be4 d="M257.8,207.1l1.7,2.9-.9,1.5-1.7,.6z"/><path color=#1ec189 d="M273.3,170.5l.8,4.2-1,5.1-.8-4.5z"/><path color=#0e96e7 d="M295.8,212.6l.6,4-1,.6-.6-2.4z"/><path color=#3e3add d="M189.5,263.7l5-.5-2.9-5.4-5-.4z"/><path color=#2c66f4 d="M303.4,237l1.6,4.8-2.9,5.5-1.6-6.1z"/><path color=#1e7af1 d="M252.3,234.5l.9-4.5-1.5,3.6-.8,3.6z"/><path color=#3e37d7 d="M235.7,264.8l1.7-1.2-2.9-2.7-1.7,.7z"/><path color=#1abd9a d="M281.1,179.5l.8,1.7-2.9,.4-.8-5.9z"/><path color=#0d99e5 d="M295.3,208.6l.5,4-1,2.2-.5-2.3z"/><path color=#3c45eb d="M166.4,257.2l5,1-2.9-5.6-5-1z"/><path color=#22c47d d="M272.4,167.7l.9,2.8-1,4.8-.8-1.8z"/><path color=#1687ef d="M138.3,227.2l3.4,5.4-1.4-4.4-3.4-6.1z"/><path color=#1abd9a d="M285.3,178.6l1.7-1-1.5,1.3-1.6,4.5z"/><path color=#0d9ce3 d="M294.7,204.6l.6,4-1,3.9-.6-2.4z"/><path color=#3d35d4 d="M212.6,266.9l1.7-.1-2.9-6.1-1.7,.3z"/><path color=#0d99e5 d="M257,211.7l.8-4.6-.9,5-.9,3.6z"/><path color=#3b2bbb d="M390.8,272.8l5-.1-2.9-1.2-5-.4z"/><path color=#0fadd3 d="M115.2,194.2l3.4,3.2-1.4-2.8-3.3-5.5z"/><path color=#1ec18b d="M280.2,177.7l.9,1.8-2.9-3.8-.9-5.8z"/><path color=#3d32ce d="M324.8,266.8l1.7-.8-2.9-.4-1.7-.8z"/><path color=#0facd4 d="M262.2,196.3l1.7-5.3-1.5,3.9-1.7,2.8z"/><path color=#2bc576 d="M271.6,165l.8,2.7-.9,5.8-.9-1.8z"/><path color=#2374f2 d="M302.5,232.2l.9,4.8-2.9,4.2-.9-5.5z"/><path color=#0ca1e1 d="M294.1,199.7l.6,4.9-1,5.5-.5-6.2z"/><path color=#3b2cbd d="M367.7,272.2l5-.4-2.9-1.1-5-.2z"/><path color=#0e95e7 d="M256.2,216.3l.8-4.6-1,4-.8,3.6z"/><path color=#1cbf91 d="M284.5,171.4l.8,7.2-1.4,4.8-.9-7.1z"/><path color=#3d35d4 d="M234,265.7l1.7-.9-2.9-3.2-1.7,1.1z"/><path color=#0ea7da d="M293.6,194.9l.5,4.8-.9,4.2-.6-6.2z"/><path color=#1f79f1 d="M143.1,237.1l3.4,3.9-2.8-9.9-3.4-2.9z"/><path color=#24c47a d="M270.7,171.1l.9-6.1-1,6.7-.8,5.2z"/><path color=#1a82f0 d="M301.7,227.3l.8,4.9-2.9,3.5-.8-5.6z"/><path color=#3c2ec3 d="M344.5,270l5.1,.2-2.9-1.1-5.1-1z"/><path color=#3b2ab8 d="M435.3,274.1l3.4-.4-2.9-1.5-3.4,.2z"/><path color=#0faed2 d="M293,190l.6,4.9-1,2.8-.6-6.3z"/><path color=#0da7db d="M120,200.2l3.4,4.4-2.8-5.7-3.4-4.3z"/><path color=#28c478 d="M283.6,164.1l.9,7.3-1.5,4.9-.8-7.1z"/><path color=#3d33cf d="M323.1,266.1l1.7,.7-2.9-2-1.7-.2z"/><path color=#3b2bb9 d="M412.2,273.9l3.4-.2-2.9-2.1-3.4,.4z"/><path color=#1dc08f d="M269.9,177.2l.8-6.1-.9,5.8-.9,5.2z"/><path color=#2dc575 d="M283.1,169.8l.5-5.7-1.4,5.1-.6,4.1z"/><path color=#1589ee d="M300,221.6l1.7,5.7-2.9,2.8-1.7-3.9z"/><path color=#21c381 d="M277,174.3l.6,.4-1-4-.5,2.7z"/><path color=#3d35d3 d="M232.3,266.2l1.7-.5-2.9-3-1.7,0z"/><path color=#128dec d="M134.9,223.3l3.4,3.9-1.4-5.1-3.4-3.6z"/><path color=#20c284 d="M282.5,175.5l.6-5.7-1.5,3.5-.6,4z"/><path color=#1fc285 d="M276.5,173.8l.5,.5-.9-.9-.6,2.7z"/><path color=#3d35d2 d="M207.5,268l5.1-1.1-2.9-5.9-5.1,1.2z"/><path color=#10b1cd d="M111.9,192.4l3.3,1.8-1.3-5.1-3.4,.3z"/><path color=#1bbe96 d="M281.9,181.2l.6-5.7-1.5,1.8-.5,4.1z"/><path color=#3d34d1 d="M321.4,265.2l1.7,.9-2.9-1.5-1.7-.1z"/><path color=#1ec189 d="M275.9,173.4l.6,.4-1,2.3-.6,2.7z"/><path color=#3c48ee d="M162.9,255.9l3.5,1.3-2.9-5.6-3.4-1.7z"/><path color=#128eeb d="M299.1,218.5l.9,3.1-2.9,4.6-.8-4.5z"/><path color=#3e3bdd d="M184.4,264l5.1-.3-2.9-6.3-5.1,.7z"/><path color=#3d34d1 d="M230.6,267.3l1.7-1.1-2.9-3.5-1.7,1.2z"/><path color=#20c284 d="M275.1,169.5l.8,3.9-1,5.4-.8-4.1z"/><path color=#1abe98 d="M269.5,178l.9-3.2-1.5,7.3-.8,1.2z"/><path color=#0f93e9 d="M298.3,215.4l.8,3.1-2.8,3.2-.9-4.5z"/><path color=#3b2ab8 d="M431.9,274.1l3.4,0-2.9-1.7-3.4,.3z"/><path color=#3b2bbb d="M385.7,273.3l5.1-.5-2.9-1.7-5.1,.8z"/><path color=#0c9fe2 d="M258.8,202l1.7,6.6-1,1.4-1.7-2.9z"/><path color=#2ac577 d="M274.2,165.6l.9,3.9-1,5.2-.8-4.2z"/><path color=#3d35d3 d="M319.7,265.2l1.7,0-2.9-.7-1.7-.8z"/><path color=#3b2bb9 d="M408.8,274.4l3.4-.5-2.9-1.9-3.4,.2z"/><path color=#0d98e6 d="M296.8,210.4l.5,5.6-.9,.6-.6-4z"/><path color=#18bca0 d="M268.7,181.2l.8-3.2-1.4,5.3-.9,1.3z"/><path color=#2374f2 d="M252.1,239.3l1.7-7.5-2.9,5.4-1.7,2.3z"/><path color=#12b4c2 d="M291,187.4l.8,3.8-1.4-1.4-.9-1.1z"/><path color=#3b2cbe d="M362.6,272l5.1,.2-2.9-1.7-5.1-.3z"/><path color=#0d9de3 d="M296.2,204.8l.6,5.6-1,2.2-.5-4z"/><path color=#3d33cf d="M229,267.5l1.6-.2-2.9-3.4-1.6,.2z"/><path color=#39c66d d="M273.4,162l.8,3.6-.9,4.9-.9-2.8z"/><path color=#3c2fc5 d="M339.5,269.5l5,.5-2.9-1.9-5,.2z"/><path color=#0f93e9 d="M131.5,219.4l3.4,3.9-1.4-4.8-3.4-5.9z"/><path color=#1ec189 d="M278.6,178.8l1.6-1.1-1.4-3.9-1.7-1.1z"/><path color=#0ca2e0 d="M295.7,199.2l.5,5.6-.9,3.8-.6-4z"/><path color=#14b7b6 d="M290.1,183.7l.9,3.7-1.5,1.3-.8-1z"/><path color=#0c9fe2 d="M258,207.7l.8-5.7-1,5.1-.8,4.6z"/><path color=#3b2ab7 d="M451.7,275.1l5-.3-2.9-2.1-5,.2z"/><path color=#18bba2 d="M267,180l1.7,1.2-1.5,3.4-1.6-1.2z"/><path color=#47c765 d="M272.5,158.3l.9,3.7-1,5.7-.8-2.7z"/><path color=#3e36d6 d="M318,264.2l1.7,1-2.9-1.5-1.6-.7z"/><path color=#0f92e9 d="M255.4,220.9l1.7-7.6-1.4,4.5-1.7,7.7z"/><path color=#0da7da d="M295.1,195.6l.6,3.6-1,5.4-.6-4.9z"/><path color=#2c66f4 d="M250.4,245.2l1.7-5.9-2.9,.2-1.7,6z"/><path color=#394def d="M159.5,254.8l3.4,1.1-2.8-6-3.4-1.6z"/><path color=#17bba4 d="M289.3,177.7l.8,6-1.4,4-.9-5.1z"/><path color=#0d99e5 d="M257.1,213.3l.9-5.6-1,4-.8,4.6z"/><path color=#1fc287 d="M287.1,171.9l.8,1.8-.9,3.9-.9,.5z"/><path color=#0facd4 d="M294.5,192l.6,3.6-1,4.1-.5-4.8z"/><path color=#3d33ce d="M227.3,268.6l1.7-1.1-2.9-3.4-1.7,.4z"/><path color=#40c669 d="M271.7,165.3l.8-7-.9,6.7-.9,6.1z"/><path color=#16baa7 d="M266.2,185.1l.8-5.1-1.4,3.4-.9,3.8z"/><path color=#3b2ab8 d="M428.6,274.8l3.3-.7-2.9-1.4-3.3,.4z"/><path color=#11b1ca d="M294,188.5l.5,3.5-.9,2.9-.6-4.9z"/><path color=#1dc08f d="M288.4,171.7l.9,6-1.5,4.9-.8-5z"/><path color=#20c284 d="M286.3,170.1l.8,1.8-1,6.2-.8,.5z"/><path color=#148aed d="M254.6,226.4l.8-5.5-1.4,4.6-.8,4.5z"/><path color=#3d34d1 d="M202.5,268.3l5-.3-2.9-5.8-5,.7z"/><path color=#26c47a d="M270.9,172.4l.8-7.1-1,5.8-.8,6.1z"/><path color=#3e38da d="M316.4,262.7l1.6,1.5-2.8-1.2-1.7-1.3z"/><path color=#3b2bb9 d="M405.5,274.3l3.3,.1-2.9-2.2-3.3,0z"/><path color=#13b5bc d="M265.3,190.2l.9-5.1-1.5,2.1-.8,3.8z"/><path color=#3358f1 d="M248.7,250.3l1.7-5.1-2.9,.3-1.7,5.6z"/><path color=#22c47d d="M285.7,169.1l.6,1-1,8.5-.6-4.8z"/><path color=#3e3bde d="M179.4,263.9l5,.1-2.9-5.9-5-.1z"/><path color=#1884f0 d="M253.8,231.8l.8-5.4-1.4,3.6-.9,4.5z"/><path color=#1fc188 d="M278,175.1l.6,3.7-1-4.1-.6-.4z"/><path color=#12b3c4 d="M293.2,192.6l1.7-5.6-2.9,4.4-1.6-1.6z"/><path color=#1a80f0 d="M139.7,232.4l3.4,4.7-1.4-4.5-3.4-5.4z"/><path color=#3d32cd d="M225.6,268.6l1.7,0-2.9-4.1-1.7,.5z"/><path color=#2dc575 d="M285.1,168l.6,1.1-1,4.7-.5-4.9z"/><path color=#0eaad7 d="M262.3,198.2l.8-5.1-.9,3.2-.9,6.2z"/><path color=#21c380 d="M277.4,171.5l.6,3.6-1-.8-.5-.5z"/><path color=#0d98e6 d="M128.1,215.1l3.4,4.3-1.4-6.8-3.3-4.5z"/><path color=#0eaad7 d="M116.6,199.4l3.4,.8-1.4-2.8-3.4-3.2z"/><path color=#39c66e d="M284.6,167l.5,1-.9,.9-.6-4.8z"/><path color=#10b1ce d="M263.6,191.4l1.7-1.2-1.4,.8-1.7,5.3z"/><path color=#3b2bbb d="M380.7,273.5l5-.2-2.9-1.4-5,.3z"/><path color=#26c47a d="M276.9,167.9l.5,3.6-.9,2.3-.6-.4z"/><path color=#3e3bde d="M314.7,261l1.7,1.7-2.9-1-1.7-1.5z"/><path color=#3a4cef d="M247,255.5l1.7-5.2-2.9,.8-1.7,3.5z"/><path color=#0ca4de d="M261.5,203.4l.8-5.2-1,4.3-.8,6.1z"/><path color=#3751f0 d="M156.1,253.8l3.4,1-2.8-6.5-3.4-1.7z"/><path color=#39c66e d="M284,167.5l.6-.5-1-2.9-.5,5.7z"/><path color=#3c2dc0 d="M357.5,271.9l5.1,.1-2.9-1.8-5.1,0z"/><path color=#3b2ab7 d="M448.3,275.1l3.4,0-2.9-2.2-3.4,.8z"/><path color=#32c572 d="M276,164.3l.9,3.6-1,5.5-.8-3.9z"/><path color=#3d32cd d="M223.9,268.8l1.7-.2-2.9-3.6-1.7,.5z"/><path color=#2cc576 d="M283.5,168l.5-.5-.9,2.3-.6,5.7z"/><path color=#0ca1e0 d="M260.6,203l.9,.4-1,5.2-.8-3.3z"/><path color=#3c30c8 d="M334.4,268.9l5.1,.6-2.9-1.2-5.1-.9z"/><path color=#3b2bb9 d="M425.2,274.7l3.4,.1-2.9-1.7-3.4-.6z"/><path color=#21c47e d="M282.9,168.4l.6-.4-1,7.5-.6,5.7z"/><path color=#41c668 d="M275.2,160.8l.8,3.5-.9,5.2-.9-3.9z"/><path color=#10b0d0 d="M109.9,193.2l3.3,2.2-2.7-6-3.4,3.5z"/><path color=#0d9ae5 d="M297.7,208.2l.6,7.2-1,.6-.5-5.6z"/><path color=#3d3fe3 d="M313,258.7l1.7,2.3-2.9-.8-1.7-2.7z"/><path color=#3b2bba d="M402.1,274l3.4,.3-2.9-2.1-3.4,.3z"/><path color=#3c44ea d="M245.3,258.3l1.7-2.8-2.9-.9-1.7,3.2z"/><path color=#0ca4de d="M259.8,202.6l.8,.4-.9,2.3-.9-3.3z"/><path color=#20c285 d="M282.3,170.7l.6-2.3-1,12.8-.5-1.2z"/><path color=#0ca1e1 d="M297.2,200.9l.5,7.3-.9,2.2-.6-5.6z"/><path color=#51c75e d="M274.3,156.2l.9,4.6-1,4.8-.8-3.6z"/><path color=#1588ee d="M136.3,228.2l3.4,4.2-1.4-5.2-3.4-3.9z"/><path color=#3d32cc d="M222.2,269.3l1.7-.5-2.9-3.3-1.7,0z"/><path color=#1fc286 d="M281.8,173l.5-2.3-.9,9.3-.6-1.1z"/><path color=#0ea8d9 d="M296.6,193.7l.6,7.2-1,3.9-.5-5.6z"/><path color=#0d9de3 d="M124.8,210.8l3.3,4.3-1.3-7-3.4-3.5z"/><path color=#0fadd4 d="M113.2,195.4l3.4,4-1.4-5.2-3.3-1.8z"/><path color=#1fc188 d="M281.2,175.2l.6-2.2-1,5.9-.6-1.2z"/><path color=#3d34d1 d="M197.4,269l5.1-.7-2.9-5.4-5.1,.3z"/><path color=#78c64f d="M273.5,151.6l.8,4.6-.9,5.8-.9-3.7z"/><path color=#0faed3 d="M296.1,191.5l.5,2.2-.9,5.5-.6-3.6z"/><path color=#3c45ea d="M311.3,255.3l1.7,3.4-2.9-1.2-1.7-3z"/><path color=#3d3fe3 d="M243.6,261.8l1.7-3.5-2.9-.5-1.6,2.5z"/><path color=#2dc575 d="M288.1,165.6l.8,4.1-1,4-.8-1.8z"/><path color=#3457f1 d="M152.7,251.6l3.4,2.2-2.8-7.2-3.4-2.5z"/><path color=#3e3cdf d="M174.3,264.2l5.1-.3-2.9-5.9-5.1,.2z"/><path color=#11b1cb d="M295.5,189.2l.6,2.3-1,4.1-.6-3.6z"/><path color=#3b2ab7 d="M444.9,275.4l3.4-.3-2.9-1.4-3.3-.1z"/><path color=#64c756 d="M272.7,159.5l.8-7.9-1,6.7-.8,7z"/><path color=#22c47d d="M271,172.7l.8-5.2-1.4,7.3-.9,3.2z"/><path color=#3d31cb d="M220.5,270.2l1.7-.9-2.9-3.8-1.7,.5z"/><path color=#13b5bd d="M294.9,187l.6,2.2-1,2.8-.5-3.5z"/><path color=#39c66d d="M287.2,161.6l.9,4-1,6.3-.8-1.8z"/><path color=#3d31cb d="M332.7,268.6l1.7,.3-2.9-1.5-1.7,0z"/><path color=#3b2bba d="M421.8,274.6l3.4,.1-2.9-2.2-3.4,.5z"/><path color=#3ec66a d="M271.8,167.5l.9-8-1,5.8-.8,7.1z"/><path color=#3b2cbc d="M375.6,273.6l5.1-.1-2.9-1.3-5.1-.4z"/><path color=#1dc08d d="M270.1,177.9l.9-5.2-1.5,5.3-.8,3.2z"/><path color=#384fef d="M309.6,249.1l1.7,6.2-2.9-.8-1.7-3.6z"/><path color=#3b2bbb d="M398.7,274.5l3.4-.5-2.9-1.5-3.4,.2z"/><path color=#13b5be d="M292.4,186.2l.8,6.4-1.4-1.4-.8-3.8z"/><path color=#3ec66b d="M286.7,164.3l.5-2.7-.9,8.5-.6-1z"/><path color=#3e3add d="M242,264.3l1.6-2.5-2.8-1.5-1.7,2.3z"/><path color=#3c2dc2 d="M352.5,271.5l5,.4-2.9-1.7-5,0z"/><path color=#3ac66d d="M286.1,167.1l.6-2.8-1,4.8-.6-1.1z"/><path color=#1fc285 d="M280,172.3l1.7,1.6-1.5,3.8-1.6,1.1z"/><path color=#138dec d="M132.9,226.2l3.4,2-1.4-4.9-3.4-3.9z"/><path color=#3d31ca d="M218.8,270.5l1.7-.3-2.9-4.2-1.6,.3z"/><path color=#10afd1 d="M263.3,194l.8-4.2-1,3.3-.8,5.1z"/><path color=#17bba6 d="M291.6,179.8l.8,6.4-1.4,1.2-.9-3.7z"/><path color=#3d32cc d="M331.1,268.1l1.6,.5-2.9-1.2-1.6-.4z"/><path color=#1cbf92 d="M268.4,176.6l1.7,1.3-1.4,3.3-1.7-1.2z"/><path color=#0ca1e1 d="M121.4,208l3.4,2.8-1.4-6.2-3.4-4.4z"/><path color=#37c66f d="M285.5,169.9l.6-2.8-1,.9-.5-1z"/><path color=#325af2 d="M308.8,246.1l.8,3-2.9,1.8-.8-4.6z"/><path color=#148bed d="M302.3,223.5l.8,5.1-1.4-1.3-.9-2.8z"/><path color=#0eaad7 d="M262.4,198.1l.9-4.1-1,4.2-.8,5.2z"/><path color=#1dc090 d="M290.7,172.8l.9,7-1.5,3.9-.8-6z"/><path color=#3ac66d d="M285,165.2l.5,4.7-.9-2.9-.6,.5z"/><path color=#3e37d8 d="M240.3,265.7l1.7-1.4-2.9-1.7-1.7,1z"/><path color=#315df2 d="M149.3,250.1l3.4,1.5-2.8-7.5-3.4-3.1z"/><path color=#22c47c d="M279.2,168.7l.8,3.6-1.4,6.5-.9-5.5z"/><path color=#2d64f4 d="M307.9,243.1l.9,3-2.9,.2-.9-4.5z"/><path color=#3b2ab8 d="M441.6,275.4l3.3,0-2.8-1.8-3.4,.1z"/><path color=#1190ea d="M301.4,218.3l.9,5.2-1.5,1-.8-2.9z"/><path color=#43c668 d="M284.4,160.4l.6,4.8-1,2.3-.5,.5z"/><path color=#1abd9a d="M267.6,183l.8-6.4-1.4,3.4-.8,5.1z"/><path color=#3d31ca d="M217.2,270.2l1.6,.3-2.8-4.2-1.7,.5z"/><path color=#0da7db d="M261.6,200.6l.8-2.5-.9,5.3-.9-.4z"/><path color=#28c479 d="M289.9,165.8l.8,7-1.4,4.9-.9-6z"/><path color=#3d33ce d="M329.4,268l1.7,.1-2.9-1.1-1.7-1z"/><path color=#3b2bb9 d="M418.5,275.6l3.3-1-2.9-1.6-3.3,.7z"/><path color=#4bc762 d="M283.9,155.7l.5,4.7-.9,7.6-.6,.4z"/><path color=#34c570 d="M278.3,165.2l.9,3.5-1.5,4.6-.8-5.4z"/><path color=#3d34d1 d="M192.4,269.9l5-.9-2.9-5.8-5,.5z"/><path color=#15b8b1 d="M266.8,189.3l.8-6.3-1.4,2.1-.9,5.1z"/><path color=#0da5dc d="M260.7,203.1l.9-2.5-1,2.4-.8-.4z"/><path color=#2571f3 d="M306.3,236.5l1.6,6.6-2.9-1.3-1.6-4.8z"/><path color=#48c764 d="M283.3,161.4l.6-5.7-1,12.7-.6,2.3z"/><path color=#0e95e7 d="M299.8,214.8l1.6,3.5-1.4,3.3-1.7-6.2z"/><path color=#3e36d5 d="M238.6,266.9l1.7-1.2-2.9-2.1-1.7,1.2z"/><path color=#3d3ee1 d="M169.2,262.8l5.1,1.4-2.9-6-5-1z"/><path color=#2176f2 d="M141.1,237.9l3.4,3.9-1.4-4.7-3.4-4.7z"/><path color=#38c66e d="M282.7,167l.6-5.6-1,9.3-.5,2.3z"/><path color=#3d31ca d="M215.5,270.9l1.7-.7-2.9-3.4-1.7,.1z"/><path color=#0ca2e0 d="M260.9,209.4l.8-5.7-2.9-1.7-.8,5.7z"/><path color=#1091e9 d="M129.5,222l3.4,4.2-1.4-6.8-3.4-4.3z"/><path color=#3b2bbb d="M393.7,274.3l5,.2-2.9-1.8-5,.1z"/><path color=#3d33cf d="M327.7,267.6l1.7,.4-2.9-2-1.7,.8z"/><path color=#13b5bc d="M265.1,186.6l1.7,2.7-1.5,.9-1.7,1.2z"/><path color=#0ca4de d="M118,207l3.4,1-1.4-7.8-3.4-.8z"/><path color=#28c478 d="M282.2,172.7l.5-5.7-.9,6-.6,2.2z"/><path color=#1c7df1 d="M305.4,233.2l.9,3.3-2.9,.5-.9-4.8z"/><path color=#0d9be4 d="M299.2,209.7l.6,5.1-1.5,.6-.6-7.2z"/><path color=#3b2cbe d="M370.5,273.9l5.1-.3-2.9-1.8-5,.4z"/><path color=#0d9ce4 d="M260,215.2l.9-5.8-2.9-1.7-.9,5.6z"/><path color=#44c767 d="M289,159.4l.9,6.4-1,3.9-.8-4.1z"/><path color=#0ca2e0 d="M298.6,204.6l.6,5.1-1.5-1.5-.5-7.3z"/><path color=#3d34d2 d="M236.9,267.6l1.7-.7-2.9-2.1-1.7,.9z"/><path color=#2c66f4 d="M145.9,246.6l3.4,3.5-2.8-9.1-3.4-3.9z"/><path color=#1786ef d="M304.6,229.9l.8,3.3-2.9-1-.8-4.9z"/><path color=#3c2ec4 d="M347.4,271.8l5.1-.3-2.9-1.3-5.1-.2z"/><path color=#3b2bb9 d="M438.2,275.4l3.4,0-2.9-1.7-3.4,.4z"/><path color=#0ea9d8 d="M298.1,199.5l.5,5.1-1.4-3.7-.6-7.2z"/><path color=#5dc858 d="M288.2,153l.8,6.4-.9,6.2-.9-4z"/><path color=#3d34d0 d="M326,267.4l1.7,.2-2.9-.8-1.7-.7z"/><path color=#3b2bb9 d="M415.1,275.6l3.4,0-2.9-1.9-3.4,.2z"/><path color=#0e95e7 d="M258.3,221.9l1.7-6.7-2.9-1.9-1.7,7.6z"/><path color=#10aed2 d="M297.5,195.5l.6,4-1.5-5.8-.5-2.2z"/><path color=#61c757 d="M287.6,159.6l.6-6.6-1,8.6-.5,2.7z"/><path color=#11b2c7 d="M296.9,191.5l.6,4-1.4-4-.6-2.3z"/><path color=#3d34d0 d="M235.2,268.2l1.7-.6-2.9-1.9-1.7,.5z"/><path color=#2fc574 d="M271.9,171.4l.9-1.3-1-2.6-.8,5.2z"/><path color=#48c764 d="M287.1,166.2l.5-6.6-.9,4.7-.6,2.8z"/><path color=#1a81f0 d="M137.7,234.2l3.4,3.7-1.4-5.5-3.4-4.2z"/><path color=#13b5be d="M264.2,189.7l.9-3.1-1,3.2-.8,4.2z"/><path color=#14b6b8 d="M296.4,187.5l.5,4-1.4-2.3-.6-2.2z"/><path color=#3c30c8 d="M210.4,271.9l5.1-1-2.9-4-5.1,1.1z"/><path color=#128eeb d="M257.5,225.8l.8-3.9-2.9-1-.8,5.5z"/><path color=#0e97e6 d="M126.1,217l3.4,5-1.4-6.9-3.3-4.3z"/><path color=#36c570 d="M286.5,172.8l.6-6.6-1,.9-.6,2.8z"/><path color=#3d35d3 d="M324.3,266.9l1.7,.5-2.9-1.3-1.7-.9z"/><path color=#0da7da d="M114.6,203.6l3.4,3.4-1.4-7.6-3.4-4z"/><path color=#23c47c d="M271.1,172.7l.8-1.3-.9,1.3-.9,5.2z"/><path color=#3d41e5 d="M165.8,262.2l3.4,.6-2.8-5.6-3.5-1.3z"/><path color=#3d34d0 d="M187.3,270.5l5.1-.6-2.9-6.2-5.1,.3z"/><path color=#10b0cf d="M263.4,192.9l.8-3.2-.9,4.3-.9,4.1z"/><path color=#3bc66c d="M285.9,162.8l.6,10-1-2.9-.5-4.7z"/><path color=#1589ee d="M256.7,229.7l.8-3.9-2.9,.6-.8,5.4z"/><path color=#3d33ce d="M233.5,269.3l1.7-1.1-2.9-2-1.7,1.1z"/><path color=#20c382 d="M270.3,174.6l.8-1.9-1,5.2-.8-.6z"/><path color=#5bc859 d="M285.4,152.9l.5,9.9-.9,2.4-.6-4.8z"/><path color=#3b2bb8 d="M434.8,276.8l3.4-1.4-2.9-1.3-3.4,0z"/><path color=#0facd5 d="M262.6,198.3l.8-5.4-1,5.2-.8,2.5z"/><path color=#52c85e d="M278.1,157.3l1.7,5.2-2.9,5.4-1.7-7.1z"/><path color=#3b2cbc d="M388.6,275.1l5.1-.8-2.9-1.5-5.1,.5z"/><path color=#b8c238 d="M284.8,143l.6,9.9-1,7.5-.5-4.7z"/><path color=#3e36d5 d="M322.6,266.2l1.7,.7-2.9-1.7-1.7,0z"/><path color=#3b2bb9 d="M411.7,275.2l3.4,.4-2.9-1.7-3.4,.5z"/><path color=#1b7ff1 d="M255,236.8l1.7-7.1-2.9,2.1-1.7,7.5z"/><path color=#20c285 d="M269.4,176.6l.9-2-1,2.7-.9-.7z"/><path color=#0da7da d="M261.7,203.7l.9-5.4-1,2.3-.9,2.5z"/><path color=#3b2cbe d="M365.5,274.2l5-.3-2.8-1.7-5.1-.2z"/><path color=#b9c238 d="M284.3,152l.5-9-.9,12.7-.6,5.7z"/><path color=#3d32cc d="M231.9,269.7l1.6-.4-2.9-2-1.6,.2z"/><path color=#7bc64d d="M277.2,157.3l.9,0-2.9,3.5-.9-4.6z"/><path color=#5cc859 d="M283.7,161.1l.6-9.1-1,9.4-.6,5.6z"/><path color=#3c2fc6 d="M342.4,270.5l5,1.3-2.9-1.8-5-.5z"/><path color=#30c573 d="M281.5,165.7l1.6,4.4-1.4,3.8-1.7-1.6z"/><path color=#1686ef d="M134.3,232.9l3.4,1.3-1.4-6-3.4-2z"/><path color=#3b2ab7 d="M454.6,276.5l5-.5-2.9-1.2-5,.3z"/><path color=#0d9ae4 d="M122.7,215.9l3.4,1.1-1.3-6.2-3.4-2.8z"/><path color=#3cc66c d="M283.1,170.1l.6-9-1,5.9-.5,5.7z"/><path color=#99c443 d="M276.4,157.4l.8-.1-2.9-1.1-.8-4.6z"/><path color=#3e37d8 d="M320.9,264.9l1.7,1.3-2.9-1-1.7-1z"/><path color=#138cec d="M303.7,222.4l.9,7.5-1.5-1.3-.8-5.1z"/><path color=#0eaad6 d="M111.2,202.2l3.4,1.4-1.4-8.2-3.3-2.2z"/><path color=#266ef3 d="M253.3,243.1l1.7-6.3-2.9,2.5-1.7,5.9z"/><path color=#3d43e7 d="M162.4,261.9l3.4,.3-2.9-6.3-3.4-1.1z"/><path color=#3cc66c d="M280.6,164.1l.9,1.6-1.5,6.6-.8-3.6z"/><path color=#84c54a d="M275.8,163.4l.6-6-2.9-5.8-.6,5.3z"/><path color=#3d31cb d="M230.2,270.2l1.7-.5-2.9-2.2-1.7,1.1z"/><path color=#0e94e8 d="M302.9,215l.8,7.4-1.4,1.1-.9-5.2z"/><path color=#1dc08e d="M269.1,180.2l.8-3.6-1.5,0-.8,6.4z"/><path color=#3b2ab8 d="M431.5,276.6l3.3,.2-2.9-2.7-3.3,.7z"/><path color=#50c75f d="M275.3,169.3l.5-5.9-2.9-6.5-.5,5.3z"/><path color=#3c30c7 d="M205.4,272.3l5-.4-2.9-3.9-5,.3z"/><path color=#47c765 d="M279.8,162.5l.8,1.6-1.4,4.6-.9-3.5z"/><path color=#3e3adc d="M319.3,263l1.6,1.9-2.9-.7-1.6-1.5z"/><path color=#3b2bba d="M408.4,276.2l3.3-1-2.9-.8-3.3-.1z"/><path color=#39c66d d="M274.7,175.3l.6-6-2.9-7.1-.6,5.3z"/><path color=#18bca1 d="M268.2,183.8l.9-3.6-1.5,2.8-.8,6.3z"/><path color=#2f60f3 d="M251.6,248.1l1.7-5-2.9,2.1-1.7,5.1z"/><path color=#4bc762 d="M290.5,164.1l.8,3.2-1.4-1.5-.9-6.4z"/><path color=#3d34d1 d="M182.3,270.8l5-.3-2.9-6.5-5-.1z"/><path color=#0d98e6 d="M301.2,214.2l1.7,.8-1.5,3.3-1.6-3.5z"/><path color=#14b6b8 d="M296.1,190l1.7-2-2.9-1-1.7,5.6z"/><path color=#3d31ca d="M228.5,271.2l1.7-1-2.9-1.6-1.7,0z"/><path color=#2fc574 d="M272.9,170l.8,2.7-.9-2.6-.9,1.3z"/><path color=#296bf3 d="M142.5,243.4l3.4,3.2-1.4-4.8-3.4-3.9z"/><path color=#6dc752 d="M289.6,160.9l.9,3.2-1.5-4.7-.8-6.4z"/><path color=#148aed d="M130.9,228.9l3.4,4-1.4-6.7-3.4-4.2z"/><path color=#16baa7 d="M266.5,183.9l1.7-.1-1.4,5.5-1.7-2.7z"/><path color=#3556f1 d="M250.8,252.3l.8-4.2-2.9,2.2-.8,2.6z"/><path color=#3b2bbc d="M383.6,275.8l5-.7-2.9-1.8-5,.2z"/><path color=#0d9ce3 d="M119.3,214.6l3.4,1.3-1.3-7.9-3.4-1z"/><path color=#0d9be4 d="M300.6,211.2l.6,3-1.4,.6-.6-5.1z"/><path color=#32c572 d="M272.1,167.4l.8,2.6-1,1.4-.8,1.3z"/><path color=#3d3de1 d="M317.6,261.4l1.7,1.6-2.9-.3-1.7-1.7z"/><path color=#15b8af d="M295.3,182.1l.8,7.9-2.9,2.6-.8-6.4z"/><path color=#72c651 d="M289.1,162.8l.5-1.9-1.4-7.9-.6,6.6z"/><path color=#3c45eb d="M159,259.8l3.4,2.1-2.9-7.1-3.4-1z"/><path color=#3c2dc0 d="M360.4,273.8l5.1,.4-2.9-2.2-5.1-.1z"/><path color=#3b2ab7 d="M451.2,277.3l3.4-.8-2.9-1.4-3.4,0z"/><path color=#0ca0e1 d="M300.1,208.3l.5,2.9-1.4-1.5-.6-5.1z"/><path color=#394def d="M249.9,256.6l.9-4.3-2.9,.6-.9,2.6z"/><path color=#4fc760 d="M288.5,164.7l.6-1.9-1.5-3.2-.5,6.6z"/><path color=#3c30c9 d="M226.8,271.3l1.7-.1-2.9-2.6-1.7,.2z"/><path color=#2dc575 d="M271.2,172l.9-4.6-1,5.3-.8,1.9z"/><path color=#0da4dd d="M299.5,205.3l.6,3-1.5-3.7-.5-5.1z"/><path color=#1cbf93 d="M294.5,174.3l.8,7.8-2.9,4.1-.8-6.4z"/><path color=#3d31ca d="M337.3,270.3l5.1,.2-2.9-1-5.1-.6z"/><path color=#3b2bb9 d="M428.1,276.5l3.4,.1-2.9-1.8-3.4-.1z"/><path color=#3ec66a d="M288,166.7l.5-2-1.4,1.5-.6,6.6z"/><path color=#0eaad7 d="M299,199.5l.5,5.8-1.4-5.8-.6-4z"/><path color=#22c47d d="M270.4,176.6l.8-4.6-.9,2.6-.9,2z"/><path color=#3d41e6 d="M315.9,258.9l1.7,2.5-2.9-.4-1.7-2.3z"/><path color=#3b2bba d="M405,276.2l3.4,0-2.9-1.9-3.4-.3z"/><path color=#3c46ec d="M248.2,259.5l1.7-2.9-2.9-1.1-1.7,2.8z"/><path color=#22c47c d="M293.6,171.5l.9,2.8-2.9,5.5-.9-7z"/><path color=#49c764 d="M287.4,157.9l.6,8.8-1.5,6.1-.6-10z"/><path color=#efb52b d="M285.2,146.8l.6-5.6-1,1.8-.5,9z"/><path color=#10b0d0 d="M298.4,193.8l.6,5.7-1.5-4-.6-4z"/><path color=#a0c441 d="M286.8,149.1l.6,8.8-1.5,4.9-.5-9.9z"/><path color=#3c30c8 d="M225.1,272.2l1.7-.9-2.9-2.5-1.7,.5z"/><path color=#bec037 d="M284.7,152.5l.5-5.7-.9,5.2-.6,9.1z"/><path color=#2275f2 d="M139.1,240.1l3.4,3.3-1.4-5.5-3.4-3.7z"/><path color=#13b6ba d="M297.8,188l.6,5.8-1.5-2.3-.5-4z"/><path color=#0ca3de d="M261.8,205.9l.9-3.6-1,1.4-.8,5.7z"/><path color=#36c56f d="M292.8,168.7l.8,2.8-2.9,1.3-.8-7z"/><path color=#1190ea d="M127.5,225.6l3.4,3.3-1.4-6.9-3.4-5z"/><path color=#efb52b d="M286.3,140.3l.5,8.8-1.4,3.8-.6-9.9z"/><path color=#64c756 d="M284.1,158.1l.6-5.6-1,8.6-.6,9z"/><path color=#3c2fc7 d="M200.3,273.1l5.1-.8-2.9-4-5.1,.7z"/><path color=#0c9fe2 d="M115.9,211.7l3.4,2.9-1.3-7.6-3.4-3.4z"/><path color=#3c47ed d="M314.2,255.5l1.7,3.4-2.9-.2-1.7-3.4z"/><path color=#3d40e4 d="M246.5,263.3l1.7-3.8-2.9-1.2-1.7,3.5z"/><path color=#0d9ee2 d="M261,209.5l.8-3.6-.9,3.5-.9,5.8z"/><path color=#4dc761 d="M283.5,159.6l.6-1.5-1,12-.5-1.4z"/><path color=#3b49ee d="M155.6,258.7l3.4,1.1-2.9-6-3.4-2.2z"/><path color=#3d34d2 d="M177.2,270.4l5.1,.4-2.9-6.9-5.1,.3z"/><path color=#3b2ab8 d="M447.8,276.8l3.4,.5-2.9-2.2-3.4,.3z"/><path color=#3c2fc7 d="M223.4,271.9l1.7,.3-2.9-2.9-1.7,.9z"/><path color=#4dc761 d="M283,161.1l.5-1.5-.9,9.1-.6-1.5z"/><path color=#0d9ae5 d="M260.1,214.3l.9-4.8-1,5.7-.8,3.3z"/><path color=#3d32cc d="M335.6,269.8l1.7,.5-2.9-1.4-1.7-.3z"/><path color=#3b2bb9 d="M424.7,276.7l3.4-.2-2.9-1.8-3.4-.1z"/><path color=#4dc761 d="M282.4,162.6l.6-1.5-1,6.1-.5-1.5z"/><path color=#3b2cbd d="M378.5,275.3l5.1,.5-2.9-2.3-5.1,.1z"/><path color=#3654f0 d="M312.5,248.9l1.7,6.6-2.9-.2-1.7-6.2z"/><path color=#3b2bbb d="M401.6,276.3l3.4-.1-2.9-2.2-3.4,.5z"/><path color=#3e3bde d="M244.9,265l1.6-1.7-2.9-1.5-1.6,2.5z"/><path color=#0e96e7 d="M259.3,219.1l.8-4.8-.9,4.2-.9,3.4z"/><path color=#3c2dc2 d="M355.4,273.5l5,.3-2.9-1.9-5-.4z"/><path color=#2fc574 d="M273.9,168.7l.8,6.6-1-2.6-.8-2.7z"/><path color=#3c2fc6 d="M221.7,272.5l1.7-.6-2.9-1.7-1.7,.3z"/><path color=#1e7bf1 d="M135.7,239.5l3.4,.6-1.4-5.9-3.4-1.3z"/><path color=#3d33ce d="M334,269.8l1.6,0-2.9-1.2-1.6-.5z"/><path color=#16baa9 d="M266.3,186.8l1.7-5.5-2.9,5.3-1.7,6.3z"/><path color=#0e93e8 d="M124.1,223.1l3.4,2.5-1.4-8.6-3.4-1.1z"/><path color=#42c668 d="M273,162.1l.9,6.6-1,1.3-.8-2.6z"/><path color=#0ca1e0 d="M112.5,211.1l3.4,.6-1.3-8.1-3.4-1.4z"/><path color=#2d63f3 d="M310.8,244.4l1.7,4.5-2.9,.2-1.7-6z"/><path color=#3e38d9 d="M243.2,267.2l1.7-2.2-2.9-.7-1.7,1.4z"/><path color=#66c755 d="M280.2,157.8l.5,3.7-.9,1-.6-1.7z"/><path color=#384fef d="M152.1,256.5l3.5,2.2-2.9-7.1-3.4-1.5z"/><path color=#3b2bb9 d="M444.5,277.2l3.3-.4-2.9-1.4-3.3,0z"/><path color=#40c669 d="M272.2,169.4l.8-7.3-.9,5.3-.9,4.6z"/><path color=#1fc286 d="M270.5,177.5l.8-.9-1.4,0-.8,3.6z"/><path color=#55c85c d="M281.2,161l1.7,.1-1.4,4.6-1.7-3.2z"/><path color=#3c2fc6 d="M220.1,272.5l1.6,0-2.9-2-1.6-.3z"/><path color=#12b3c4 d="M265.4,193.2l.9-6.4-2.9,6.1-.8,5.4z"/><path color=#89c549 d="M279.6,154.1l.6,3.7-1,3-.6-1.8z"/><path color=#0f92e9 d="M258.9,222.8l.9-5.1-1.5,4.2-.8,3.9z"/><path color=#3d33d0 d="M332.3,269.1l1.7,.7-2.9-1.7-1.7-.1z"/><path color=#3b2bb9 d="M421.4,277.1l3.3-.4-2.9-2.1-3.3,1z"/><path color=#2570f3 d="M310,238.4l.8,6-2.9-1.3-.8-3.3z"/><path color=#acc33c d="M279,150.5l.6,3.6-1,4.9-.5-1.7z"/><path color=#0d9be4 d="M303.5,212l.8,2.3-1.4,.7-.9-.4z"/><path color=#3c2fc6 d="M195.3,274.1l5-1-2.9-4.1-5,.9z"/><path color=#28c478 d="M271.3,176.6l.9-7.2-1,2.6-.8,4.6z"/><path color=#1dc08e d="M269.7,178.3l.8-.8-1.4,2.7-.9,3.6z"/><path color=#0facd5 d="M264.6,199.6l.8-6.4-2.8,5.1-.9,5.4z"/><path color=#42c668 d="M291.9,168.7l.9,0-1.5-1.4-.8-3.2z"/><path color=#f1b729 d="M286.2,141.6l.6-2.2-1,1.8-.6,5.6z"/><path color=#138dec d="M258.1,227.9l.8-5.1-1.4,3-.8,3.9z"/><path color=#3e36d5 d="M241.5,268.6l1.7-1.4-2.9-1.5-1.7,1.2z"/><path color=#3e36d5 d="M172.1,270.2l5.1,.2-2.9-6.2-5.1-1.4z"/><path color=#1d7cf1 d="M309.1,232.5l.9,5.9-2.9,1.4-.8-3.3z"/><path color=#0d9ce3 d="M302.6,209.7l.9,2.3-1.5,2.6-.8-.4z"/><path color=#efb52b d="M285.6,143.8l.6-2.2-1,5.2-.5,5.7z"/><path color=#3c2fc6 d="M218.4,273l1.7-.5-2.9-2.3-1.7,.7z"/><path color=#0da7da d="M262.8,202.4l.8-1.4-.9,1.3-.9,3.6z"/><path color=#b9c238 d="M277.4,151.8l1.6-1.3-.9,6.8-1.7,.1z"/><path color=#3b2bbb d="M396.6,276.5l5-.2-2.9-1.8-5-.2z"/><path color=#49c763 d="M291.1,168.7l.8,0-1.4-4.6-.9-3.2z"/><path color=#1982f0 d="M132.3,235.8l3.4,3.7-1.4-6.6-3.4-4z"/><path color=#3d34d1 d="M330.6,268.9l1.7,.2-2.9-1.1-1.7-.4z"/><path color=#1bbe95 d="M268,181.3l1.7-3-1.5,5.5-1.7,.1z"/><path color=#e0b82f d="M285.1,146l.5-2.2-.9,8.7-.6,5.6z"/><path color=#0e95e7 d="M120.7,222l3.4,1.1-1.4-7.2-3.4-1.3z"/><path color=#0c9fe1 d="M301.8,204.6l.8,5.1-1.4,4.5-.8-4.5z"/><path color=#3b2cbe d="M373.4,275.8l5.1-.5-2.9-1.7-5.1,.3z"/><path color=#4ec761 d="M290.5,166l.6,2.7-1.5-7.8-.5,1.9z"/><path color=#0da4de d="M262,203.8l.8-1.4-1,3.5-.8,3.6z"/><path color=#1686ef d="M307.5,228.8l1.6,3.7-2.8,4-1.7-6.6z"/><path color=#c0c036 d="M284.5,150.5l.6-4.5-1,12.1-.6,1.5z"/><path color=#3d34d2 d="M239.8,269.8l1.7-1.2-2.9-1.7-1.7,.7z"/><path color=#92c445 d="M276.8,157.2l.6-5.4-1,5.6-.6,6z"/><path color=#3c2ec4 d="M350.3,273.1l5.1,.4-2.9-2-5.1,.3z"/><path color=#3555f1 d="M148.7,254.9l3.4,1.6-2.8-6.4-3.4-3.5z"/><path color=#3b2bb9 d="M441.1,277.5l3.4-.3-2.9-1.8-3.4,0z"/><path color=#4fc75f d="M290,163.3l.5,2.7-1.4-3.2-.6,1.9z"/><path color=#0da5dd d="M301,199.6l.8,5-1.4,5.1-.9-4.4z"/><path color=#9ec441 d="M283.9,155l.6-4.5-1,9.1-.5,1.5z"/><path color=#0ca0e1 d="M261.1,210l.9-6.2-1,5.7-.9,4.8z"/><path color=#54c85d d="M276.2,162.6l.6-5.4-1,6.2-.5,5.9z"/><path color=#51c75e d="M289.4,160.6l.6,2.7-1.5,1.4-.5,2z"/><path color=#3d35d3 d="M328.9,268.1l1.7,.8-2.9-1.3-1.7-.2z"/><path color=#3b2bb9 d="M418,277.4l3.4-.3-2.9-1.5-3.4,0z"/><path color=#78c64f d="M283.4,159.5l.5-4.5-.9,6.1-.6,1.5z"/><path color=#128eeb d="M306.6,221.2l.9,7.6-2.9,1.1-.9-7.5z"/><path color=#0fabd6 d="M300.4,194.8l.6,4.8-1.5,5.7-.5-5.8z"/><path color=#3dc66b d="M275.7,168l.5-5.4-.9,6.7-.6,6z"/><path color=#16baa7 d="M298,184.9l.8,1.2-1,1.9-.8,1z"/><path color=#7ac64e d="M288.8,152.9l.6,7.7-1.4,6.1-.6-8.8z"/><path color=#0d9ae5 d="M260.3,216.3l.8-6.3-1,4.3-.8,4.8z"/><path color=#11b1cb d="M299.8,190l.6,4.8-1.4,4.7-.6-5.7z"/><path color=#3d33cf d="M238.1,270.6l1.7-.8-2.9-2.2-1.7,.6z"/><path color=#3dc66b d="M274.8,163.4l.9,4.6-1,7.3-.8-6.6z"/><path color=#0e97e6 d="M305.8,213.7l.8,7.5-2.9,1.2-.8-7.4z"/><path color=#d7ba31 d="M288.3,145.2l.5,7.7-1.4,5-.6-8.8z"/><path color=#16baa6 d="M297.1,183.7l.9,1.2-1,4.1-.9,1z"/><path color=#15b8b1 d="M299.3,185.2l.5,4.8-1.4,3.8-.6-5.8z"/><path color=#3c2ec4 d="M213.3,274.6l5.1-1.6-2.9-2.1-5.1,1z"/><path color=#1687ee d="M128.9,234.1l3.4,1.7-1.4-6.9-3.4-3.3z"/><path color=#f1b729 d="M287.7,137.6l.6,7.6-1.5,3.9-.5-8.8z"/><path color=#3e36d5 d="M327.2,267.8l1.7,.3-2.9-.7-1.7-.5z"/><path color=#54c85d d="M274,158.9l.8,4.5-.9,5.3-.9-6.6z"/><path color=#3e38d9 d="M168.7,269l3.4,1.2-2.9-7.4-3.4-.6z"/><path color=#0d98e6 d="M117.3,220.6l3.4,1.4-1.4-7.4-3.4-2.9z"/><path color=#3c2ec5 d="M190.2,274.9l5.1-.8-2.9-4.2-5.1,.6z"/><path color=#1abe98 d="M296.3,176.6l.8,7.1-1,6.3-.8-7.9z"/><path color=#87c549 d="M281.1,154.8l.6,5.6-1,1.1-.5-3.7z"/><path color=#3d32cd d="M236.4,271.2l1.7-.6-2.9-2.4-1.7,1.1z"/><path color=#53c85d d="M273.2,164l.8-5.1-1,3.2-.8,7.3z"/><path color=#3b2bb8 d="M437.7,277.8l3.4-.3-2.9-2.1-3.4,1.4z"/><path color=#315df2 d="M145.3,252l3.4,2.9-2.8-8.3-3.4-3.2z"/><path color=#c0c036 d="M280.6,149.2l.5,5.6-.9,3-.6-3.7z"/><path color=#23c47c d="M295.4,169.5l.9,7.1-1,5.5-.8-7.8z"/><path color=#1589ee d="M258.7,231.6l.8-5.5-2.8,3.6-.9,3.6z"/><path color=#3b2bbb d="M391.5,277.3l5.1-.8-2.9-2.2-5.1,.8z"/><path color=#3e37d7 d="M325.5,266.9l1.7,.9-2.9-.9-1.7-.7z"/><path color=#3b2bba d="M414.6,277.6l3.4-.2-2.9-1.8-3.4-.4z"/><path color=#ebb52d d="M280,143.7l.6,5.5-1,4.9-.6-3.6z"/><path color=#3ac66d d="M272.3,169.2l.9-5.2-1,5.4-.9,7.2z"/><path color=#0d9be4 d="M113.4,217.3l3.4,.3-.9-5.9-3.4-.6z"/><path color=#38c66e d="M294.6,166.2l.8,3.3-.9,4.8-.9-2.8z"/><path color=#3b2cbe d="M368.4,275.5l5,.3-2.9-1.9-5,.3z"/><path color=#f3b927 d="M287.2,136.4l.5,1.2-.9,1.8-.6,2.2z"/><path color=#1983f0 d="M257.9,237.2l.8-5.6-2.9,1.7-.8,3.5z"/><path color=#3d31cc d="M234.7,271.9l1.7-.7-2.9-1.9-1.6,.4z"/><path color=#2ac577 d="M271.7,172.2l.6-3-1,7.4-.5,.6z"/><path color=#f2b828 d="M286.6,135.2l.6,1.2-1,5.2-.6,2.2z"/><path color=#3c30c8 d="M345.3,272.2l5,.9-2.9-1.3-5-1.3z"/><path color=#0eabd6 d="M263.8,198.8l.8,.8-1,1.4-.8,1.4z"/><path color=#eeb42c d="M278.3,146.2l1.7-2.5-1,6.8-1.6,1.3z"/><path color=#45c766 d="M293.7,163l.9,3.2-1,5.3-.8-2.8z"/><path color=#3b2ab8 d="M457.5,278.4l5-.8-2.9-1.6-5,.5z"/><path color=#23c47b d="M271.2,175.3l.5-3.1-.9,5-.6,.6z"/><path color=#f2b828 d="M286,134l.6,1.2-1,8.6-.5,2.2z"/><path color=#148bec d="M125.5,230.3l3.4,3.8-1.4-8.5-3.4-2.5z"/><path color=#3e38db d="M323.8,266.4l1.7,.5-2.9-.7-1.7-1.3z"/><path color=#2176f2 d="M256.2,242.9l1.7-5.7-2.9-.4-1.7,6.3z"/><path color=#3e39db d="M165.3,269.4l3.4-.4-2.9-6.8-3.4-.3z"/><path color=#20c382 d="M270.6,178.4l.6-3.1-1,2.5-.5,.5z"/><path color=#0eaad6 d="M262.9,198.1l.9,.7-1,3.6-.8,1.4z"/><path color=#4dc761 d="M292.9,161.3l.8,1.7-.9,5.7-.9,0z"/><path color=#f1b729 d="M285.5,141.4l.5-7.4-.9,12-.6,4.5z"/><path color=#d8ba31 d="M277.8,151l.5-4.8-.9,5.6-.6,5.4z"/><path color=#3d31ca d="M233.1,272.3l1.6-.4-2.8-2.2-1.7,.5z"/><path color=#eeb42c d="M284.9,148.9l.6-7.5-1,9.1-.6,4.5z"/><path color=#3b2ab8 d="M434.4,278.5l3.3-.7-2.9-1-3.3-.2z"/><path color=#81c54c d="M282.7,159.4l1.6-3-1.4,4.7-1.7-.1z"/><path color=#2c65f4 d="M141.9,250.1l3.4,1.9-2.8-8.6-3.4-3.3z"/><path color=#0da6db d="M262.1,205.8l.8-7.7-.9,5.7-.9,6.2z"/><path color=#a4c33f d="M277.2,155.9l.6-4.9-1,6.2-.6,5.4z"/><path color=#50c75f d="M292.1,159.6l.8,1.7-1,7.4-.8,0z"/><path color=#0e97e6 d="M260.4,219.8l.8-6.4-1.4,4.3-.9,5.1z"/><path color=#3c2ec3 d="M208.3,274.8l5-.2-2.9-2.7-5,.4z"/><path color=#bac238 d="M284.3,156.4l.6-7.5-1,6.1-.5,4.5z"/><path color=#3e3cde d="M322.2,264.2l1.6,2.2-2.9-1.5-1.6-1.9z"/><path color=#3b2bba d="M411.2,277.5l3.4,.1-2.9-2.4-3.3,1z"/><path color=#0d9de3 d="M304.9,209.4l.9,4.3-1.5,.6-.8-2.3z"/><path color=#63c756 d="M276.6,160.7l.6-4.8-1,6.7-.5,5.4z"/><path color=#2b67f4 d="M254.5,250l1.7-7.1-2.9,.2-1.7,5z"/><path color=#1abd9a d="M298.9,180.9l.9,3.4-1,1.8-.8-1.2z"/><path color=#3c2ec5 d="M185.1,274.6l5.1,.3-2.9-4.4-5,.3z"/><path color=#0d9ee2 d="M261.2,213.4l.9-7.6-1,4.2-.8,6.3z"/><path color=#1091ea d="M259.5,226.1l.9-6.3-1.5,3-.8,5.1z"/><path color=#3c30c9 d="M231.4,272.6l1.7-.3-2.9-2.1-1.7,1z"/><path color=#5ac859 d="M275.8,158.2l.8,2.5-.9,7.3-.9-4.6z"/><path color=#6ac754 d="M290.4,156.6l1.7,3-1,9.1-1.7-8.1z"/><path color=#0ca1e1 d="M304.1,205.2l.8,4.2-1.4,2.6-.9-2.3z"/><path color=#1cbf91 d="M298.1,177.5l.8,3.4-.9,4-.9-1.2z"/><path color=#1fc286 d="M269.4,177.8l1.7,.6-1.4-.1-1.7,3z"/><path color=#325bf2 d="M253.7,252l.8-2-2.9-1.9-.8,4.2z"/><path color=#3b2bbb d="M386.4,277.6l5.1-.3-2.9-2.2-5,.7z"/><path color=#89c549 d="M275,155.6l.8,2.6-1,5.2-.8-4.5z"/><path color=#3d3fe3 d="M320.5,263.3l1.7,.9-2.9-1.2-1.7-1.6z"/><path color=#128eeb d="M122,229.4l3.5,.9-1.4-7.2-3.4-1.1z"/><path color=#0da6db d="M303.3,199.5l.8,5.7-1.5,4.5-.8-5.1z"/><path color=#21c380 d="M297.2,171.1l.9,6.4-1,6.2-.8-7.1z"/><path color=#3e3bde d="M161.8,267.8l3.5,1.6-2.9-7.5-3.4-2.1z"/><path color=#3c2dc0 d="M363.3,275.2l5.1,.3-2.9-1.3-5.1-.4z"/><path color=#3b2ab8 d="M454.1,278.8l3.4-.4-2.9-1.9-3.4,.8z"/><path color=#a8c33e d="M282.1,151.9l.6,7.5-1,1-.6-5.6z"/><path color=#3654f0 d="M252.8,254l.9-2-2.9,.3-.9,4.3z"/><path color=#3c30c8 d="M229.7,273.3l1.7-.7-2.9-1.4-1.7,.1z"/><path color=#87c54a d="M274.1,158.7l.9-3.1-1,3.3-.8,5.1z"/><path color=#0facd4 d="M302.4,193.9l.9,5.6-1.5,5.1-.8-5z"/><path color=#e9b52d d="M281.5,144.4l.6,7.5-1,2.9-.5-5.6z"/><path color=#3ac66d d="M296.4,164.7l.8,6.4-.9,5.5-.9-7.1z"/><path color=#3d31cb d="M340.2,271.9l5.1,.3-2.9-1.7-5.1-.2z"/><path color=#3b2ab8 d="M431,278.5l3.4,0-2.9-1.9-3.4-.1z"/><path color=#286cf3 d="M138.4,246.6l3.5,3.5-2.8-10-3.4-.6z"/><path color=#1cbf92 d="M267.7,182.5l1.7-4.7-1.4,3.5-1.7,5.5z"/><path color=#11b2c7 d="M301.8,190.1l.6,3.8-1.4,5.7-.6-4.8z"/><path color=#f1b729 d="M281,136.9l.5,7.5-.9,4.8-.6-5.5z"/><path color=#56c85b d="M273.3,161.7l.8-3-.9,5.3-.9,5.2z"/><path color=#3d43e8 d="M318.8,260.3l1.7,3-2.9-1.9-1.7-2.5z"/><path color=#3b2bba d="M407.9,277.7l3.3-.2-2.8-1.3-3.4,0z"/><path color=#3b4bef d="M251.1,259.3l1.7-5.3-2.9,2.6-1.7,2.9z"/><path color=#0e95e7 d="M114.3,223.5l3.4,.1-.9-6-3.4-.3z"/><path color=#4fc760 d="M295.5,161l.9,3.7-1,4.8-.8-3.3z"/><path color=#c5bf35 d="M290.3,148.4l.6,6.3-1.5,5.9-.6-7.7z"/><path color=#14b7b2 d="M301.3,186.2l.5,3.9-1.4,4.7-.6-4.8z"/><path color=#46c766 d="M272.7,167.3l.6-5.6-1,7.5-.6,3z"/><path color=#efb52b d="M289.7,142.2l.6,6.2-1.5,4.5-.5-7.7z"/><path color=#3c2fc7 d="M228,273.7l1.7-.4-2.9-2-1.7,.9z"/><path color=#16baa7 d="M266.9,189.2l.8-6.7-1.4,4.3-.9,6.4z"/><path color=#18bc9f d="M300.7,182.4l.6,3.8-1.5,3.8-.5-4.8z"/><path color=#f2b828 d="M279.3,140.6l1.7-3.7-1,6.8-1.7,2.5z"/><path color=#68c754 d="M294.7,157.3l.8,3.7-.9,5.2-.9-3.2z"/><path color=#35c570 d="M272.2,172.8l.5-5.5-1,4.9-.5,3.1z"/><path color=#f2b828 d="M289.2,136l.5,6.2-1.4,3-.6-7.6z"/><path color=#3c2dc2 d="M203.2,276.2l5.1-1.4-2.9-2.5-5.1,.8z"/><path color=#3b4aee d="M317.1,255.8l1.7,4.5-2.9-1.4-1.7-3.4z"/><path color=#118fea d="M118.6,229.5l3.4-.1-1.3-7.4-3.4-1.4z"/><path color=#23c47b d="M271.6,178.4l.6-5.6-1,2.5-.6,3.1z"/><path color=#12b3c6 d="M266.1,195.9l.8-6.7-1.5,4-.8,6.4z"/><path color=#3d43e7 d="M249.4,263.2l1.7-3.9-2.9,.2-1.7,3.8z"/><path color=#8fc546 d="M293.9,153.9l.8,3.4-1,5.7-.8-1.7z"/><path color=#f3b927 d="M286.4,140.3l.6-4-1-2.3-.5,7.4z"/><path color=#3d3fe3 d="M158.4,266.3l3.4,1.5-2.8-8-3.4-1.1z"/><path color=#3c2fc7 d="M180.1,274.6l5,0-2.8-3.8-5.1-.4z"/><path color=#3b2ab8 d="M450.7,279.1l3.4-.3-2.9-1.5-3.4-.5z"/><path color=#f0b62a d="M278.7,144.9l.6-4.3-1,5.6-.5,4.8z"/><path color=#3c2fc5 d="M226.3,274.7l1.7-1-2.9-1.5-1.7-.3z"/><path color=#f1b729 d="M285.9,144.4l.5-4.1-.9,1.1-.6,7.5z"/><path color=#ebb52d d="M278.2,149.2l.5-4.3-.9,6.1-.6,4.9z"/><path color=#b1c23b d="M293,150.5l.9,3.4-1,7.4-.8-1.7z"/><path color=#3d32cd d="M338.5,271.7l1.7,.2-2.9-1.6-1.7-.5z"/><path color=#3b2bb9 d="M427.6,278.1l3.4,.4-2.9-2-3.4,.2z"/><path color=#2472f2 d="M135,245.4l3.4,1.2-2.7-7.1-3.4-3.7z"/><path color=#eeb42c d="M285.3,148.4l.6-4-1,4.5-.6,7.5z"/><path color=#10aed2 d="M264.4,199l1.7-3.1-1.5,3.7-1.7-1.5z"/><path color=#3b2cbc d="M381.4,277.3l5,.3-2.8-1.8-5.1-.5z"/><path color=#c1c036 d="M277.6,153.5l.6-4.3-1,6.7-.6,4.8z"/><path color=#1ec08c d="M299.9,176.8l.8,5.6-.9,1.9-.9-3.4z"/><path color=#3457f1 d="M315.4,251.9l1.7,3.9-2.9-.3-1.7-6.6z"/><path color=#3b2bbb d="M404.5,278.1l3.4-.4-2.9-1.5-3.4,.1z"/><path color=#3d3de0 d="M247.8,265.8l1.6-2.6-2.9,.1-1.6,1.7z"/><path color=#cebc33 d="M284.8,151.6l.5-3.2-1,8-.5,1z"/><path color=#3c2ec3 d="M358.3,274.6l5,.6-2.9-1.4-5-.3z"/><path color=#b2c23a d="M276.8,152.9l.8,.6-1,7.2-.8-2.5z"/><path color=#c1c036 d="M291.3,152.7l1.7-2.2-.9,9.1-1.7-3z"/><path color=#3c2ec5 d="M224.6,275l1.7-.3-2.9-2.8-1.7,.6z"/><path color=#bbc137 d="M284.2,154.7l.6-3.1-1,5.8-.6,1z"/><path color=#23c47c d="M299,171.3l.9,5.5-1,4.1-.8-3.4z"/><path color=#3d33cf d="M336.8,271.4l1.7,.3-2.9-1.9-1.6,0z"/><path color=#2e62f3 d="M314.6,247l.8,4.9-2.9-3-.8-2.2z"/><path color=#a3c33f d="M283.6,157.8l.6-3.1-1,3.7-.5,1z"/><path color=#1884f0 d="M126.8,235.8l3.4,3-1.3-4.7-3.4-3.8z"/><path color=#c3bf36 d="M275.9,152.3l.9,.6-1,5.3-.8-2.6z"/><path color=#38c66e d="M298.2,165.6l.8,5.7-.9,6.2-.9-6.4z"/><path color=#3e39dc d="M246.1,267.6l1.7-1.8-2.9-.8-1.7,2.2z"/><path color=#286cf3 d="M313.7,242l.9,5-2.9-.3-.9-2.3z"/><path color=#3b2ab8 d="M447.4,279.4l3.3-.3-2.9-2.3-3.3,.4z"/><path color=#3d42e7 d="M155,265.2l3.4,1.1-2.8-7.6-3.5-2.2z"/><path color=#c2c036 d="M275.1,153.3l.8-1-.9,3.3-.9,3.1z"/><path color=#3c2ec5 d="M223,274.9l1.6,.1-2.9-2.5-1.6,0z"/><path color=#51c75e d="M297.4,159.8l.8,5.8-1,5.5-.8-6.4z"/><path color=#3d34d1 d="M335.2,270.7l1.6,.7-2.8-1.6-1.7-.7z"/><path color=#3b2bb9 d="M424.3,279.1l3.3-1-2.9-1.4-3.3,.4z"/><path color=#2177f2 d="M312.9,238l.8,4-2.9,2.4-.8-6z"/><path color=#2079f2 d="M131.6,243.5l3.4,1.9-2.7-9.6-3.4-1.7z"/><path color=#3c2dc0 d="M198.2,276.8l5-.6-2.9-3.1-5,1z"/><path color=#acc33c d="M274.2,154.3l.9-1-1,5.4-.8,3z"/><path color=#83c54b d="M296.5,155.7l.9,4.1-1,4.9-.9-3.7z"/><path color=#118eeb d="M115.2,229.7l3.4-.2-.9-5.9-3.4-.1z"/><path color=#3e36d7 d="M244.4,269.9l1.7-2.3-2.9-.4-1.7,1.4z"/><path color=#3c30c9 d="M175,274.2l5.1,.4-2.9-4.2-5.1-.2z"/><path color=#1884f0 d="M312,233.9l.9,4.1-2.9,.4-.9-5.9z"/><path color=#75c650 d="M273.7,162.3l.5-8-.9,7.4-.6,5.6z"/><path color=#f4ba26 d="M288.9,140.9l1.7-6.6-2.9,3.3-1.7-3.6z"/><path color=#3c2ec4 d="M221.3,275.5l1.7-.6-2.9-2.4-1.7,.5z"/><path color=#b6c239 d="M295.7,151.6l.8,4.1-1,5.3-.8-3.7z"/><path color=#3b2bbb d="M399.5,278.5l5-.4-2.9-1.8-5,.2z"/><path color=#46c765 d="M273.1,170.4l.6-8.1-1,5-.5,5.5z"/><path color=#3d35d3 d="M333.5,270.2l1.7,.5-2.9-1.6-1.7-.2z"/><path color=#22c47c d="M270.9,174.3l1.7,4.1-1.5,0-1.7-.6z"/><path color=#1589ed d="M311.2,228.3l.8,5.6-2.9-1.4-.8-1.9z"/><path color=#1687ee d="M123.4,234.7l3.4,1.1-1.3-5.5-3.5-.9z"/><path color=#3b2cbe d="M376.3,277.5l5.1-.2-2.9-2-5.1,.5z"/><path color=#2bc577 d="M272.6,178.4l.5-8-.9,2.4-.6,5.6z"/><path color=#ddb930 d="M294.8,146.5l.9,5.1-1,5.7-.8-3.4z"/><path color=#f3b927 d="M287.4,139.2l.6-.6-1-2.3-.6,4z"/><path color=#3d35d3 d="M242.7,270.3l1.7-.4-2.9-1.3-1.7,1.2z"/><path color=#f3b927 d="M281.9,139.4l.5,2.5-1.4-5-.6,1.2z"/><path color=#f2b828 d="M279.4,142.2l.9-5.7-1,4.1-.8,6.4z"/><path color=#128eeb d="M310.4,222.7l.8,5.6-2.9,2.3-.8-1.8z"/><path color=#3c2fc5 d="M353.2,274.5l5.1,.1-2.9-1.1-5.1-.4z"/><path color=#3b2ab8 d="M444,280.1l3.4-.7-2.9-2.2-3.4,.3z"/><path color=#3c46eb d="M151.5,263.9l3.5,1.3-2.9-8.7-3.4-1.6z"/><path color=#f2b828 d="M286.8,139.8l.6-.6-1,1.1-.5,4.1z"/><path color=#f3b927 d="M281.3,136.9l.6,2.5-1.5-1.3-.5,1.2z"/><path color=#0eaad6 d="M265,204.3l.8-4.4-2.9-1.8-.8,7.7z"/><path color=#efb52b d="M294,141.4l.8,5.1-.9,7.4-.9-3.4z"/><path color=#3d35d4 d="M331.8,270.5l1.7-.3-2.9-1.3-1.7-.8z"/><path color=#3b2bb9 d="M420.9,279.2l3.4-.1-2.9-2-3.4,.3z"/><path color=#21c380 d="M269.2,178.3l1.7-4-1.5,3.5-1.7,4.7z"/><path color=#f1b729 d="M286.3,140.4l.5-.6-.9,4.6-.6,4z"/><path color=#efb52b d="M278.6,147.8l.8-5.6-.9,4.8-.9,6.5z"/><path color=#0e94e8 d="M309.5,216.7l.9,6-2.9,6.1-.9-7.6z"/><path color=#14b6b7 d="M303.3,189l.6,6.5-1.5-1.6-.6-3.8z"/><path color=#f4ba26 d="M280.7,134.4l.6,2.5-1.4,2.4-.6,1.3z"/><path color=#efb52b d="M291.7,144l.6,4.8-1.4,5.9-.6-6.3z"/><path color=#0ca3df d="M264.1,208.7l.9-4.4-2.9,1.5-.9,7.6z"/><path color=#f0b62a d="M285.7,145.7l.6-5.3-1,8-.5,3.2z"/><path color=#18bca0 d="M302.7,182.5l.6,6.5-1.5,1.1-.5-3.9z"/><path color=#3d34d1 d="M241,271l1.7-.7-2.9-.5-1.7,.8z"/><path color=#efb52b d="M292.3,148.8l1.7-7.4-1,9.1-1.7,2.2z"/><path color=#0d9be4 d="M308.7,210.7l.8,6-2.9,4.5-.8-7.5z"/><path color=#f1b729 d="M291.2,139.2l.5,4.8-1.4,4.4-.6-6.2z"/><path color=#edb42c d="M285.2,151l.5-5.3-.9,5.9-.6,3.1z"/><path color=#1bbe94 d="M268.3,185.3l.9-7-1.5,4.2-.8,6.7z"/><path color=#0d9de3 d="M263.6,214.5l.5-5.8-2.9,4.7-.5,4.3z"/><path color=#1ec08c d="M302.2,176l.5,6.5-1.4,3.7-.6-3.8z"/><path color=#3c2dc2 d="M216.2,276.9l5.1-1.4-2.9-2.5-5.1,1.6z"/><path color=#eeb42c d="M276.9,148.2l1.7-.4-1,5.7-1.7-1.2z"/><path color=#f4ba26 d="M290.6,134.3l.6,4.9-1.5,3-.5-6.2z"/><path color=#3e36d6 d="M330.1,269.3l1.7,1.2-2.9-2.4-1.7-.3z"/><path color=#c7be35 d="M284.6,156.2l.6-5.2-1,3.7-.6,3.1z"/><path color=#0d98e6 d="M263,220.3l.6-5.8-2.9,3.2-.6,4.2z"/><path color=#0ca0e1 d="M307.8,212.4l.9-1.7-2.9,3-.9-4.3z"/><path color=#3d32cc d="M171.6,274.2l3.4,0-2.9-4-3.4-1.2z"/><path color=#25c47a d="M301.3,171.4l.9,4.6-1.5,6.4-.8-5.6z"/><path color=#3c2dc0 d="M193.1,277.5l5.1-.7-2.9-2.7-5.1,.8z"/><path color=#15b8af d="M267.5,192.2l.8-6.9-1.4,3.9-.8,6.7z"/><path color=#1588ee d="M120,235.8l3.4-1.1-1.4-5.3-3.4,.1z"/><path color=#cbbd34 d="M285,152.1l.6,2.6-2.9,4.7-.6-7.5z"/><path color=#0f93e9 d="M262.4,226.2l.6-5.9-2.9,1.6-.6,4.2z"/><path color=#3d33cf d="M239.3,272l1.7-1-2.9-.4-1.7,.6z"/><path color=#0ca1e1 d="M307,214.1l.8-1.7-2.9-3-.8-4.2z"/><path color=#3b2ab8 d="M440.6,280.3l3.4-.2-2.9-2.6-3.4,.3z"/><path color=#3a4bef d="M148.1,262l3.4,1.9-2.8-9-3.4-2.9z"/><path color=#3ac66d d="M300.5,166.8l.8,4.6-1.4,5.4-.9-5.5z"/><path color=#efb52b d="M284.4,149.5l.6,2.6-2.9-.2-.6-7.5z"/><path color=#128deb d="M261.6,229.3l.8-3.1-2.9-.1-.8,5.5z"/><path color=#3b2bbb d="M394.4,278.8l5.1-.3-2.9-2-5.1,.8z"/><path color=#3e38da d="M328.4,268.5l1.7,.8-2.9-1.5-1.7-.9z"/><path color=#3b2bb9 d="M417.5,279.3l3.4-.1-2.9-1.8-3.4,.2z"/><path color=#11b1cc d="M265.8,199.9l1.7-7.7-1.4,3.7-1.7,3.1z"/><path color=#0da5dd d="M306.4,208.4l.6,5.7-2.9-8.9-.6-3.8z"/><path color=#f1b729 d="M283.9,146.9l.5,2.6-2.9-5.1-.5-7.5z"/><path color=#4bc762 d="M299.6,166.3l.9,.5-1.5,4.5-.8-5.7z"/><path color=#3b2cbe d="M371.3,277.8l5-.3-2.9-1.7-5-.3z"/><path color=#1588ee d="M260.8,232.4l.8-3.1-2.9,2.3-.8,5.6z"/><path color=#0eaad7 d="M305.9,202.7l.5,5.7-2.9-7-.5-3.7z"/><path color=#3d32cc d="M237.6,273.1l1.7-1.1-2.9-.8-1.7,.7z"/><path color=#eeb42c d="M276.5,150.3l.9-4.2-1.5,6.2-.8,1z"/><path color=#3c30c9 d="M348.2,273.7l5,.8-2.9-1.4-5-.9z"/><path color=#10b0d0 d="M305.3,197l.6,5.7-2.9-5-.6-3.8z"/><path color=#58c85a d="M298.8,165.8l.8,.5-1.4-.7-.8-5.8z"/><path color=#3b2ab8 d="M460.4,280.2l5-.3-2.9-2.3-5,.8z"/><path color=#305ef2 d="M139.8,252l3.5,2.5-1.4-4.4-3.5-3.5z"/><path color=#1982f0 d="M259.9,237.7l.9-5.3-2.9,4.8-.9,2.8z"/><path color=#3e3adc d="M326.7,267.4l1.7,1.1-2.9-1.6-1.7-.5z"/><path color=#dbb930 d="M275.7,154.5l.8-4.2-1.4,3-.9,1z"/><path color=#1e7af1 d="M128.2,241.3l3.4,2.2-1.4-4.7-3.4-3z"/><path color=#3d33ce d="M168.1,273.6l3.5,.6-2.9-5.2-3.4,.4z"/><path color=#8cc548 d="M298,160.1l.8,5.7-1.4-6-.9-4.1z"/><path color=#f3b927 d="M288.4,138.1l.5,2.8-.9-2.3-.6,.6z"/><path color=#1588ee d="M116.6,235.3l3.4,.5-1.4-6.3-3.4,.2z"/><path color=#2078f2 d="M259.1,243l.8-5.3-2.9,2.3-.8,2.9z"/><path color=#3d31cb d="M236,273.3l1.6-.2-2.9-1.2-1.6,.4z"/><path color=#f4bb25 d="M280.4,137.3l.8-4.9-.9,4.1-.9,5.7z"/><path color=#aac33d d="M275.1,160.9l.6-6.4-1.5-.2-.5,8z"/><path color=#f4ba26 d="M287.8,135.3l.6,2.8-1,1.1-.6,.6z"/><path color=#3b2ab8 d="M437.3,279.6l3.3,.7-2.9-2.5-3.3,.7z"/><path color=#c6be35 d="M297.1,154.4l.9,5.7-1.5-4.4-.8-4.1z"/><path color=#3752f0 d="M144.7,258.9l3.4,3.1-2.8-10-3.4-1.9z"/><path color=#55c85c d="M274.6,167.4l.5-6.5-1.4,1.4-.6,8.1z"/><path color=#3c2dc1 d="M211.2,277.6l5-.7-2.9-2.3-5,.2z"/><path color=#f4bb25 d="M287.2,132.5l.6,2.8-1,4.5-.5,.6z"/><path color=#f2b828 d="M279.5,142.2l.9-4.9-1,4.9-.8,5.6z"/><path color=#3d3ce0 d="M325.1,265.8l1.6,1.6-2.9-1-1.6-2.2z"/><path color=#3b2bba d="M414.1,279.7l3.4-.4-2.9-1.7-3.4-.1z"/><path color=#286cf3 d="M257.4,247.7l1.7-4.7-2.9-.1-1.7,7.1z"/><path color=#38c66e d="M274,173.9l.6-6.5-1.5,3-.5,8z"/><path color=#eeb42c d="M296.3,151.5l.8,2.9-1.4-2.8-.9-5.1z"/><path color=#3c2dc0 d="M188,277.3l5.1,.2-2.9-2.6-5.1-.3z"/><path color=#f3b927 d="M286.7,139.9l.5-7.4-.9,7.9-.6,5.3z"/><path color=#3d31ca d="M234.3,274.1l1.7-.8-2.9-1-1.7,.3z"/><path color=#f0b62a d="M286.1,147.3l.6-7.4-1,5.8-.5,5.3z"/><path color=#f0b62a d="M295.4,148.6l.9,2.9-1.5-5-.8-5.1z"/><path color=#f1b729 d="M277.9,144l1.6-1.8-.9,5.6-1.7,.4z"/><path color=#32c572 d="M272.3,169.7l1.7,4.2-1.4,4.5-1.7-4.1z"/><path color=#3b2bbb d="M389.3,279.1l5.1-.3-2.9-1.5-5.1,.3z"/><path color=#2d64f4 d="M136.4,251l3.4,1-1.4-5.4-3.4-1.2z"/><path color=#e5b62e d="M285.6,154.7l.5-7.4-.9,3.7-.6,5.2z"/><path color=#3d40e4 d="M323.4,263.2l1.7,2.6-2.9-1.6-1.7-.9z"/><path color=#315df2 d="M255.7,255.2l1.7-7.5-2.9,2.3-1.7,4z"/><path color=#1b80f1 d="M124.8,240.1l3.4,1.2-1.4-5.5-3.4-1.1z"/><path color=#3d34d1 d="M164.7,273.2l3.4,.4-2.8-4.2-3.5-1.6z"/><path color=#3c2dc1 d="M366.2,277.1l5.1,.7-2.9-2.3-5.1-.3z"/><path color=#3b2ab8 d="M457,280.8l3.4-.6-2.9-1.8-3.4,.4z"/><path color=#f2b828 d="M283.3,140.7l.6,6.2-1.5-5-.5-2.5z"/><path color=#f0b62a d="M293.7,151l1.7-2.4-1.4-7.2-1.7,7.4z"/><path color=#3c30c9 d="M232.6,274.4l1.7-.3-2.9-1.5-1.7,.7z"/><path color=#35c570 d="M271.8,174l.5-4.3-1.4,4.6-.6,1.3z"/><path color=#3d32cc d="M343.1,273.5l5.1,.2-2.9-1.5-5.1-.3z"/><path color=#3b2bb8 d="M433.9,280.4l3.4-.8-2.9-1.1-3.4,0z"/><path color=#f4ba26 d="M282.8,134.5l.5,6.2-1.4-1.3-.6-2.5z"/><path color=#2ac577 d="M271.2,178.3l.6-4.3-1.5,1.6-.6,1.4z"/><path color=#14b7b3 d="M304.7,187.8l.6,9.2-1.4-1.5-.6-6.5z"/><path color=#f5c322 d="M282.2,128.3l.6,6.2-1.5,2.4-.6-2.5z"/><path color=#3c45ea d="M321.7,260.9l1.7,2.3-2.9,.1-1.7-3z"/><path color=#3b2bba d="M410.8,280l3.3-.3-2.9-2.2-3.3,.2z"/><path color=#3850f0 d="M254,259.4l1.7-4.2-2.9-1.2-1.7,5.3z"/><path color=#f0b62a d="M293.2,143.1l.5,7.9-1.4-2.2-.6-4.8z"/><path color=#21c37f d="M270.6,182.6l.6-4.3-1.5-1.3-.5,1.3z"/><path color=#1cbf93 d="M304.2,178.7l.5,9.1-1.4,1.2-.6-6.5z"/><path color=#f3b927 d="M292.6,135.2l.6,7.9-1.5,.9-.5-4.8z"/><path color=#3c30c7 d="M230.9,275.3l1.7-.9-2.9-1.1-1.7,.4z"/><path color=#29c478 d="M303.6,169.5l.6,9.2-1.5,3.8-.5-6.5z"/><path color=#f5c222 d="M292.1,127.3l.5,7.9-1.4,4-.6-4.9z"/><path color=#3c2dc0 d="M206.1,278.2l5.1-.6-2.9-2.8-5.1,1.4z"/><path color=#2a69f4 d="M133,249.5l3.4,1.5-1.4-5.6-3.4-1.9z"/><path color=#3a4cef d="M320,258.1l1.7,2.8-2.9-.6-1.7-4.5z"/><path color=#41c668 d="M302.8,166l.8,3.5-1.4,6.5-.9-4.6z"/><path color=#3c46eb d="M252.3,264l1.7-4.6-2.9-.1-1.7,3.9z"/><path color=#f6c521 d="M291.5,132.6l.6-5.3-1.5,7-.5,2.2z"/><path color=#1b80f1 d="M121.3,242l3.5-1.9-1.4-5.4-3.4,1.1z"/><path color=#3c2dc1 d="M183,278l5-.7-2.9-2.7-5,0z"/><path color=#3e36d5 d="M161.2,273.1l3.5,.1-2.9-5.4-3.4-1.5z"/><path color=#3b2ab7 d="M453.6,281.2l3.4-.4-2.9-2-3.4,.3z"/><path color=#f6c521 d="M281.3,132.4l.9-4.1-1,4.1-.8,4.9z"/><path color=#f5be24 d="M290.9,137.9l.6-5.3-1.4,3.9-.6,2.2z"/><path color=#3c2fc5 d="M229.2,275.9l1.7-.6-2.9-1.6-1.7,1z"/><path color=#52c85e d="M301.9,162.4l.9,3.6-1.5,5.4-.8-4.6z"/><path color=#3d32ce d="M341.4,273.4l1.7,.1-2.9-1.6-1.7-.2z"/><path color=#3b2bb9 d="M430.5,280.5l3.4-.1-2.9-1.9-3.4-.4z"/><path color=#f3b927 d="M290.4,143.2l.5-5.3-1.4,.8-.6,2.2z"/><path color=#f4bc25 d="M280.5,136.5l.8-4.1-.9,4.9-.9,4.9z"/><path color=#3b2cbd d="M384.3,278.4l5,.7-2.9-1.5-5-.3z"/><path color=#3457f1 d="M318.3,253l1.7,5.1-2.9-2.3-1.7-3.9z"/><path color=#3b2bba d="M407.4,279.9l3.4,.1-2.9-2.3-3.4,.4z"/><path color=#56c85b d="M301.1,167l.8-4.6-1.4,4.4-.9-.5z"/><path color=#3d40e4 d="M250.6,266.2l1.7-2.2-2.9-.8-1.6,2.6z"/><path color=#f4bb25 d="M287.6,140.7l.6-2.8-1-5.4-.5,7.4z"/><path color=#f3b927 d="M289.5,141.9l.9,1.3-1.5-2.3-.8-4.2z"/><path color=#3c2ec3 d="M361.2,277.4l5-.3-2.9-1.9-5-.6z"/><path color=#f1b729 d="M278,147.3l.8-7.4-1.4,6.2-.9,4.2z"/><path color=#3c2ec5 d="M227.5,275.8l1.7,.1-2.9-1.2-1.7,.3z"/><path color=#f2b828 d="M287.1,143.4l.5-2.7-.9-.8-.6,7.4z"/><path color=#4ec760 d="M300.3,171.7l.8-4.7-1.5-.7-.8-.5z"/><path color=#f3b927 d="M278.8,139.9l1.7-3.4-1,5.7-1.6,1.8z"/><path color=#3d33cf d="M339.7,273.2l1.7,.2-2.9-1.7-1.7-.3z"/><path color=#3654f0 d="M141.2,257.5l3.5,1.4-1.4-4.4-3.5-2.5z"/><path color=#f4bb25 d="M288.7,140.7l.8,1.2-1.4-5.2-.9-4.2z"/><path color=#2e63f3 d="M317.5,248.8l.8,4.2-2.9-1.1-.8-4.9z"/><path color=#f0b62a d="M286.5,146.1l.6-2.7-1,3.9-.5,7.4z"/><path color=#eeb42c d="M277.1,154.6l.9-7.3-1.5,3-.8,4.2z"/><path color=#266ef3 d="M129.5,247.4l3.5,2.1-1.4-6-3.4-2.2z"/><path color=#57c85a d="M299.4,164.4l.9,7.3-1.5-5.9-.8-5.7z"/><path color=#3e3cdf d="M249,268.4l1.6-2.2-2.8-.4-1.7,1.8z"/><path color=#1b80f1 d="M117.9,241l3.4,1-1.3-6.2-3.4-.5z"/><path color=#efb52b d="M285.7,145.6l.8,.5-.9,8.6-.9-3.9z"/><path color=#266ff3 d="M316.6,244.6l.9,4.2-2.9-1.8-.9-5z"/><path color=#3b2ab7 d="M450.3,281.6l3.3-.4-2.9-2.1-3.3,.3z"/><path color=#3e38d9 d="M157.8,271.5l3.4,1.6-2.8-6.8-3.4-1.1z"/><path color=#bcc137 d="M276.6,159.5l.5-4.9-1.4-.1-.6,6.4z"/><path color=#3c2ec4 d="M225.8,276.9l1.7-1.1-2.9-.8-1.6-.1z"/><path color=#1bbe96 d="M271.2,191.6l.9-4.6-2.9-8.7-.9,7z"/><path color=#0ca1e1 d="M265,213.9l.6-4.1-1.5-1.1-.5,5.8z"/><path color=#a9c33d d="M298.6,157.2l.8,7.2-1.4-4.3-.9-5.7z"/><path color=#3d34d1 d="M338.1,272.8l1.6,.4-2.9-1.8-1.6-.7z"/><path color=#3b2bb9 d="M427.1,281.1l3.4-.6-2.9-2.4-3.3,1z"/><path color=#76c64f d="M276,164.4l.6-4.9-1.5,1.4-.5,6.5z"/><path color=#f0b62a d="M284.8,145.1l.9,.5-1,5.2-.8-3.9z"/><path color=#0d9ce4 d="M264.5,218l.5-4.1-1.4,.6-.6,5.8z"/><path color=#3b2cbe d="M201,279.2l5.1-1-2.9-2-5,.6z"/><path color=#4bc762 d="M275.4,169.3l.6-4.9-1.4,3-.6,6.5z"/><path color=#15b9ac d="M270.4,196.3l.8-4.7-2.9-6.3-.8,6.9z"/><path color=#1b7ff1 d="M314.9,236.9l1.7,7.7-2.9-2.6-1.7-8.1z"/><path color=#d4bb32 d="M297.7,156.5l.9,.7-1.5-2.8-.8-2.9z"/><path color=#3e38da d="M247.3,270.6l1.7-2.2-2.9-.8-1.7,2.3z"/><path color=#0e96e7 d="M263.9,222.2l.6-4.2-1.5,2.3-.6,5.9z"/><path color=#3c2ec3 d="M177.9,278.1l5.1-.1-2.9-3.4-5.1-.4z"/><path color=#3c2ec3 d="M224.2,277.4l1.6-.5-2.8-2-1.7,.6z"/><path color=#0f92e9 d="M263.3,226l.6-3.8-1.5,4-.5,2.1z"/><path color=#3b2bbb d="M402.3,280.5l5.1-.6-2.9-1.8-5,.4z"/><path color=#e5b62e d="M296.9,155.8l.8,.7-1.4-5-.9-2.9z"/><path color=#3d35d3 d="M336.4,272.1l1.7,.7-2.9-2.1-1.7-.5z"/><path color=#48c764 d="M273.8,165.1l1.6,4.2-1.4,4.6-1.7-4.2z"/><path color=#3358f1 d="M137.8,256.7l3.4,.8-1.4-5.5-3.4-1z"/><path color=#11b2ca d="M268.7,202.3l1.7-6-2.9-4.1-1.7,7.7z"/><path color=#148aed d="M314.1,229.8l.8,7.1-2.9-3-.8-5.6z"/><path color=#0ca3de d="M307.9,204.6l.5,6.5-1.4,3-.6-5.7z"/><path color=#118feb d="M262.8,229.9l.5-3.9-1.4,2.3-.6,2z"/><path color=#3b2cbe d="M379.2,279.3l5.1-.9-2.9-1.1-5.1,.2z"/><path color=#2373f2 d="M126.1,246.4l3.4,1-1.3-6.1-3.4-1.2z"/><path color=#0fabd6 d="M307.3,198l.6,6.6-1.5,3.8-.5-5.7z"/><path color=#3e36d6 d="M245.6,271.7l1.7-1.1-2.9-.7-1.7,.4z"/><path color=#f6c91f d="M282.6,134.7l.6-5.1-1-1.3-.6,2.7z"/><path color=#148bec d="M262.2,233.8l.6-3.9-1.5,.4-.5,2.1z"/><path color=#0f92e9 d="M313.3,222.7l.8,7.1-2.9-1.5-.8-5.6z"/><path color=#3c2fc6 d="M356.1,276.2l5.1,1.2-2.9-2.8-5.1-.1z"/><path color=#3b2ab7 d="M446.9,281.6l3.4,0-2.9-2.2-3.4,.7z"/><path color=#eeb42c d="M295.2,153.1l1.7,2.7-1.5-7.2-1.7,2.4z"/><path color=#45c766 d="M273.2,172.4l.6-7.3-1.5,4.6-.5,4.3z"/><path color=#3e3bde d="M154.3,269.9l3.5,1.6-2.8-6.3-3.5-1.3z"/><path color=#11b2c7 d="M306.8,191.5l.5,6.5-1.4,4.7-.6-5.7z"/><path color=#0fabd6 d="M267.9,206.6l.8-4.3-2.9-2.4-.8,4.4z"/><path color=#f5c222 d="M282,139.9l.6-5.2-1-3.7-.5,2.8z"/><path color=#3e36d5 d="M334.7,271.5l1.7,.6-2.9-1.9-1.7,.3z"/><path color=#3b2bb9 d="M423.8,281.2l3.3-.1-2.8-2-3.4,.1z"/><path color=#2ec574 d="M272.6,179.7l.6-7.3-1.4,1.6-.6,4.3z"/><path color=#0d98e6 d="M312.4,219.5l.9,3.2-2.9,0-.9-6z"/><path color=#16baa7 d="M306.2,185.7l.6,5.8-1.5,5.5-.6-9.2z"/><path color=#f4ba26 d="M281.5,145l.5-5.1-.9-6.1-.6,2.7z"/><path color=#f0b62a d="M294.6,142.2l.6,10.9-1.5-2.1-.5-7.9z"/><path color=#1fc286 d="M272.1,187l.5-7.3-1.4-1.4-.6,4.3z"/><path color=#0da6dc d="M267,210.9l.9-4.3-2.9-2.3-.9,4.4z"/><path color=#f3b927 d="M288.6,141.4l.6,2-1-5.5-.6,2.8z"/><path color=#1ec18a d="M305.6,179.9l.6,5.8-1.5,2.1-.5-9.1z"/><path color=#3d35d4 d="M243.9,272.5l1.7-.8-2.9-1.4-1.7,.7z"/><path color=#f3b927 d="M280.9,142.9l.6,2.1-1-8.5-.6,1.2z"/><path color=#0d9de3 d="M311.6,216.3l.8,3.2-2.9-2.8-.8-6z"/><path color=#f4bc25 d="M294.1,131.3l.5,10.9-1.4,.9-.6-7.9z"/><path color=#f3b927 d="M288.1,139.5l.5,1.9-1-.7-.5,2.7z"/><path color=#31c573 d="M305.1,174.1l.5,5.8-1.4-1.2-.6-9.2z"/><path color=#3c2dc2 d="M219.1,278l5.1-.6-2.9-1.9-5.1,1.4z"/><path color=#f4ba26 d="M280.3,140.9l.6,2-1-5.2-.5,1.1z"/><path color=#f7cf1d d="M293.5,120.3l.6,11-1.5,3.9-.5-7.9z"/><path color=#3e37d7 d="M333,270.7l1.7,.8-2.9-1-1.7-1.2z"/><path color=#f3b927 d="M287.5,137.5l.6,2-1,3.9-.6,2.7z"/><path color=#3c2ec4 d="M174.5,278.3l3.4-.2-2.9-3.9-3.4,0z"/><path color=#315cf2 d="M134.3,255.5l3.5,1.2-1.4-5.7-3.4-1.5z"/><path color=#f4ba26 d="M279.8,138.8l.5,2.1-.9-2.1-.6,1.1z"/><path color=#3b2cbd d="M196,280.1l5-.9-2.8-2.4-5.1,.7z"/><path color=#f8d11b d="M292.9,128.7l.6-8.4-1.4,7-.6,5.3z"/><path color=#0ca1e1 d="M309.9,208.1l1.7,8.2-2.9-5.6-1.7,3.4z"/><path color=#2374f2 d="M122.7,247.5l3.4-1.1-1.3-6.3-3.5,1.9z"/><path color=#4bc762 d="M303.4,170.3l1.7,3.8-1.5-4.6-1.7-7.1z"/><path color=#3d34d1 d="M242.2,273.1l1.7-.6-2.9-1.5-1.7,1z"/><path color=#f3b927 d="M286.6,140.4l.9-2.9-1,8.6-.8-.5z"/><path color=#3b2ab7 d="M443.5,281.5l3.4,.1-2.9-1.5-3.4,.2z"/><path color=#f6c421 d="M292.4,137.1l.5-8.4-1.4,3.9-.6,5.3z"/><path color=#3d3ee1 d="M150.9,269.8l3.4,.1-2.8-6-3.4-1.9z"/><path color=#3b2bbb d="M397.3,280.2l5,.3-2.8-2-5.1,.3z"/><path color=#f3b927 d="M291.8,145.5l.6-8.4-1.5,.8-.5,5.3z"/><path color=#f2b828 d="M285.8,143.3l.8-2.9-.9,5.2-.9-.5z"/><path color=#3e38da d="M331.3,270.1l1.7,.6-2.9-1.4-1.7-.8z"/><path color=#3b2bb9 d="M420.4,281l3.4,.2-2.9-2-3.4,.1z"/><path color=#55c85c d="M302.8,169l.6,1.3-1.5-7.9-.5,3.1z"/><path color=#3b2cbf d="M374.2,279.1l5,.2-2.9-1.8-5,.3z"/><path color=#f2b828 d="M291,147.2l.8-1.7-1.4-2.3-.9-1.3z"/><path color=#f3b927 d="M286.2,138.5l.6,3.1-2.9,5.3-.6-6.2z"/><path color=#52c85e d="M302.3,167.7l.5,1.3-1.4-3.5-.6,3.1z"/><path color=#3d33cf d="M240.5,274.3l1.7-1.2-2.9-1.1-1.7,1.1z"/><path color=#bfc036 d="M277.3,159.2l.8-3.8-1-.8-.8,7.3z"/><path color=#3c30c9 d="M351.1,276l5,.2-2.9-1.7-5-.8z"/><path color=#f5be24 d="M285.6,135.4l.6,3.1-2.9,2.2-.5-6.2z"/><path color=#3b2ab7 d="M463.3,282.2l5-.3-2.9-2-5,.3z"/><path color=#4ec760 d="M301.7,166.4l.6,1.3-1.5,.9-.5,3.1z"/><path color=#1687ef d="M262.8,237.3l.9-2.2-2.9-2.7-.9,5.3z"/><path color=#f2b828 d="M290.1,148.9l.9-1.7-1.5-5.3-.8-1.2z"/><path color=#3e3add d="M329.6,268.8l1.7,1.3-2.9-1.6-1.7-1.1z"/><path color=#f6c720 d="M285.1,132.3l.5,3.1-2.8-.9-.6-6.2z"/><path color=#7dc64d d="M276.4,162.9l.9-3.7-1,2.7-.9,7.4z"/><path color=#3c2fc5 d="M171,278.2l3.5,.1-2.9-4.1-3.5-.6z"/><path color=#2f61f3 d="M130.9,253.5l3.4,2-1.3-6-3.5-2.1z"/><path color=#59c85a d="M300.9,162.2l.8,4.2-1.4,5.3-.9-7.3z"/><path color=#1a81f0 d="M262,239.4l.8-2.1-2.9,.4-.8,5.3z"/><path color=#f6c621 d="M283.6,138.5l.5-7.6-.9-1.3-.6,5.1z"/><path color=#2373f2 d="M119.3,246.9l3.4,.6-1.4-5.5-3.4-1z"/><path color=#3d32cd d="M238.9,274.4l1.6-.1-2.9-1.2-1.6,.2z"/><path color=#57c85a d="M275.9,165.5l.5-2.6-1,6.4-.5-1.4z"/><path color=#3b2ab8 d="M440.2,282.2l3.3-.7-2.9-1.2-3.3-.7z"/><path color=#0ca1e0 d="M266.5,213.3l.5-2.4-1.4-1.1-.6,4.1z"/><path color=#a3c33f d="M300,157.9l.9,4.3-1.5,2.2-.8-7.2z"/><path color=#f4ba26 d="M283,146l.6-7.5-1-3.8-.6,5.2z"/><path color=#3d42e6 d="M147.4,267.7l3.5,2.1-2.8-7.8-3.4-3.1z"/><path color=#3c2dc0 d="M214.1,279l5-1-2.9-1.1-5,.7z"/><path color=#2078f2 d="M261.1,244.1l.9-4.7-2.9,3.6-.9,2.3z"/><path color=#55c85c d="M275.3,168.1l.6-2.6-1,2.4-.6-1.4z"/><path color=#3d3de1 d="M327.9,267.4l1.7,1.4-2.9-1.4-1.6-1.6z"/><path color=#3b2bba d="M417,281l3.4,0-2.9-1.7-3.4,.4z"/><path color=#0d9ee2 d="M265.9,215.7l.6-2.4-1.5,.6-.5,4.1z"/><path color=#f1b729 d="M282.4,153.5l.6-7.5-1-6.1-.5,5.1z"/><path color=#eeb42c d="M297.3,148.7l.5,2.9-.9,4.2-.6-.9z"/><path color=#53c85d d="M274.7,170.7l.6-2.6-1-1.6-.5-1.4z"/><path color=#cfbc33 d="M299.2,153.7l.8,4.2-1.4-.7-.9-.7z"/><path color=#3b2cbd d="M190.9,280.7l5.1-.6-2.9-2.6-5.1-.2z"/><path color=#f2b828 d="M289.6,142.2l.5,6.7-.9-5.5-.6-2z"/><path color=#0d9be4 d="M265.3,218.2l.6-2.5-1.4,2.3-.6,4.2z"/><path color=#266ff3 d="M260.3,248.9l.8-4.8-2.9,1.2-.8,2.4z"/><path color=#f0b62a d="M281.9,148.2l.5,5.3-.9-8.5-.6-2.1z"/><path color=#3d32cc d="M237.2,275.6l1.7-1.2-2.9-1.1-1.7,.8z"/><path color=#efb52b d="M296.7,145.9l.6,2.8-1,6.2-.5-.9z"/><path color=#f4ba26 d="M289,135.6l.6,6.6-1-.8-.5-1.9z"/><path color=#0e97e7 d="M264.8,223.8l.5-5.6-1.4,4-.6,3.8z"/><path color=#e7b62e d="M298.3,149.4l.9,4.3-1.5,2.8-.8-.7z"/><path color=#f2b828 d="M281.3,143l.6,5.2-1-5.3-.6-2z"/><path color=#f0b62a d="M296.2,143.1l.5,2.8-.9,8.1-.6-.9z"/><path color=#3b2cbc d="M392.2,281l5.1-.8-2.9-1.4-5.1,.3z"/><path color=#0ea9d8 d="M309.3,200.7l.6,7.4-1.5,3-.5-6.5z"/><path color=#f5c222 d="M288.5,129l.5,6.6-.9,3.9-.6-2z"/><path color=#3d41e6 d="M326.3,265.1l1.6,2.3-2.8-1.6-1.7-2.6z"/><path color=#1091e9 d="M264.2,229.5l.6-5.7-1.5,2.2-.5,3.9z"/><path color=#f4ba26 d="M280.8,137.7l.5,5.3-1-2.1-.5-2.1z"/><path color=#2f61f3 d="M258.6,256l1.7-7.1-2.9-1.2-1.7,7.5z"/><path color=#f2b828 d="M295.6,137.2l.6,5.9-1,10-.6-10.9z"/><path color=#2c66f4 d="M127.5,252.7l3.4,.8-1.4-6.1-3.4-1z"/><path color=#3c30c8 d="M167.5,277.7l3.5,.5-2.9-4.6-3.4-.4z"/><path color=#3c2dc0 d="M369.1,279.1l5.1,0-2.9-1.3-5.1-.7z"/><path color=#3b2ab7 d="M459.9,282.6l3.4-.4-2.9-2-3.4,.6z"/><path color=#11b1cc d="M308.8,193.3l.5,7.4-1.4,3.9-.6-6.6z"/><path color=#138cec d="M263.7,235.1l.5-5.6-1.4,.4-.6,3.9z"/><path color=#f5c222 d="M287.6,135.3l.9-6.3-1,8.5-.9,2.9z"/><path color=#f3b927 d="M281.2,143.4l.5-6.8-2.9,3.3-.5,4.9z"/><path color=#3d31ca d="M235.5,276.1l1.7-.5-2.9-1.5-1.7,.3z"/><path color=#f5c222 d="M295,131.4l.6,5.8-1,5-.5-10.9z"/><path color=#43c667 d="M274.7,175.7l.5-2.2-1.4-8.4-.6,7.3z"/><path color=#16b9aa d="M308.2,185.9l.6,7.4-1.5,4.7-.5-6.5z"/><path color=#3d32cc d="M346,275.4l5.1,.6-2.9-2.3-5.1-.2z"/><path color=#3b2bb8 d="M436.8,282.2l3.4,0-2.9-2.6-3.4,.8z"/><path color=#f1b729 d="M280.6,150.3l.6-6.9-2.9,1.4-.6,4.9z"/><path color=#f8d31b d="M294.5,125.5l.5,5.9-.9-.1-.6-11z"/><path color=#30c573 d="M274.1,178l.6-2.3-1.5-3.3-.6,7.3z"/><path color=#3c47ec d="M144,265.9l3.4,1.8-2.7-8.8-3.5-1.4z"/><path color=#f4ba26 d="M286.8,141.6l.8-6.3-1,5.1-.8,2.9z"/><path color=#1bbe95 d="M307.6,183.5l.6,2.4-1.4,5.6-.6-5.8z"/><path color=#3c46ec d="M324.6,262.2l1.7,2.9-2.9-1.9-1.7-2.3z"/><path color=#3b2bba d="M413.7,281.8l3.3-.8-2.9-1.3-3.3,.3z"/><path color=#eeb42c d="M280,157.1l.6-6.8-2.9-.6-.6,4.9z"/><path color=#3653f0 d="M256.9,260.9l1.7-4.9-2.9-.8-1.7,4.2z"/><path color=#21c380 d="M273.5,180.2l.6-2.2-1.5,1.7-.5,7.3z"/><path color=#20c285 d="M307.1,181l.5,2.5-1.4,2.2-.6-5.8z"/><path color=#3c30c8 d="M233.8,276.8l1.7-.7-2.9-1.7-1.7,.9z"/><path color=#cebc33 d="M278.2,156.4l.9-.1-1-.9-.8,3.8z"/><path color=#1cbf94 d="M272.7,186.8l.8-6.6-1.4,6.8-.9,4.6z"/><path color=#29c577 d="M306.5,178.6l.6,2.4-1.5-1.1-.5-5.8z"/><path color=#3b2cbf d="M209,280.8l5.1-1.8-2.9-1.4-5.1,.6z"/><path color=#bdc137 d="M277.4,156.5l.8-.1-.9,2.8-.9,3.7z"/><path color=#394eef d="M322.9,257.8l1.7,4.4-2.9-1.3-1.7-2.8z"/><path color=#16baa9 d="M271.8,193.3l.9-6.5-1.5,4.8-.8,4.7z"/><path color=#3c47ed d="M255.2,265.4l1.7-4.5-2.9-1.5-1.7,4.6z"/><path color=#f8d21b d="M294.4,133.7l.6-5.5-1.5-7.9-.6,8.4z"/><path color=#3b2cbe d="M185.9,280.7l5,0-2.9-3.4-5,.7z"/><path color=#f2b828 d="M291.9,143.9l.9,1.2-1,.4-.8,1.7z"/><path color=#2b67f4 d="M124,252.9l3.5-.2-1.4-6.3-3.4,1.1z"/><path color=#3b2ab7 d="M456.5,283.1l3.4-.5-2.9-1.8-3.4,.4z"/><path color=#36c56f d="M304.8,178.2l1.7,.4-1.4-4.5-1.7-3.8z"/><path color=#f5c222 d="M284.5,142.2l.6-9.9-1-1.4-.5,7.6z"/><path color=#3d31ca d="M164.1,277.2l3.4,.5-2.8-4.5-3.5-.1z"/><path color=#96c444 d="M276.8,163.1l.6-6.6-1,6.4-.5,2.6z"/><path color=#f6c421 d="M293.8,139.3l.6-5.6-1.5-5-.5,8.4z"/><path color=#3c2fc7 d="M232.1,276.9l1.7-.1-2.9-1.5-1.7,.6z"/><path color=#f2b828 d="M284,152.1l.5-9.9-.9-3.7-.6,7.5z"/><path color=#3d33ce d="M344.3,275.1l1.7,.3-2.9-1.9-1.7-.1z"/><path color=#3b2bb8 d="M433.4,282.5l3.4-.3-2.9-1.8-3.4,.1z"/><path color=#5cc859 d="M276.3,169.7l.5-6.6-.9,2.4-.6,2.6z"/><path color=#f2b828 d="M291.1,142.7l.8,1.2-.9,3.3-.9,1.7z"/><path color=#f3b927 d="M293.3,144.9l.5-5.6-1.4-2.2-.6,8.4z"/><path color=#12b4c1 d="M270.2,197.3l1.6-4-1.4,3-1.7,6z"/><path color=#3b2cbd d="M387.2,280.6l5,.4-2.9-1.9-5-.7z"/><path color=#3b4aee d="M140.5,264.4l3.5,1.5-2.8-8.4-3.4-.8z"/><path color=#42c668 d="M304.3,172.5l.5,5.7-1.4-7.9-.6-1.3z"/><path color=#eeb42c d="M283.4,162l.6-9.9-1-6.1-.6,7.5z"/><path color=#325af2 d="M321.2,252.7l1.7,5.1-2.9,.3-1.7-5.1z"/><path color=#3b2bba d="M410.3,282l3.4-.2-2.9-1.8-3.4-.1z"/><path color=#f1b729 d="M298.2,142.5l.6,4.8-1,4.3-.5-2.9z"/><path color=#47c765 d="M275.7,176.2l.6-6.5-1-1.6-.6,2.6z"/><path color=#3d41e6 d="M253.5,267.3l1.7-1.9-2.9-1.4-1.7,2.2z"/><path color=#f3b927 d="M290.5,138.8l.6,3.9-1,6.2-.5-6.7z"/><path color=#3c2dc2 d="M364.1,279l5,.1-2.9-2-5,.3z"/><path color=#50c75f d="M303.7,166.8l.6,5.7-1.5-3.5-.5-1.3z"/><path color=#e7b62d d="M282.8,153.5l.6,8.5-1-8.5-.5-5.3z"/><path color=#f2b828 d="M297.7,137.8l.5,4.7-.9,6.2-.6-2.8z"/><path color=#3c2fc6 d="M230.4,278.2l1.7-1.3-2.9-1-1.7-.1z"/><path color=#f5bf24 d="M290,134.8l.5,4-.9,3.4-.6-6.6z"/><path color=#0faed3 d="M269.3,203.5l.9-6.2-1.5,5-.8,4.3z"/><path color=#6cc753 d="M303.1,161.1l.6,5.7-1.4,.9-.6-1.3z"/><path color=#f1b729 d="M282.3,145.1l.5,8.4-.9-5.3-.6-5.2z"/><path color=#3d33cf d="M342.6,275l1.7,.1-2.9-1.7-1.7-.2z"/><path color=#f4bb26 d="M297.1,133l.6,4.8-1,8.1-.5-2.8z"/><path color=#2c65f4 d="M320.4,249.3l.8,3.4-2.9,.3-.8-4.2z"/><path color=#f6c91f d="M289.4,130.8l.6,4-1,.8-.5-6.6z"/><path color=#0d9ae5 d="M313.9,216.7l.8,5.6-1.4,.4-.9-3.2z"/><path color=#f4ba26 d="M281.7,136.6l.6,8.5-1-2.1-.5-5.3z"/><path color=#94c445 d="M302.3,159.9l.8,1.2-1.4,5.3-.8-4.2z"/><path color=#f5c222 d="M296.6,132.3l.5,.7-.9,10.1-.6-5.9z"/><path color=#0ea7da d="M268.5,209.7l.8-6.2-1.4,3.1-.9,4.3z"/><path color=#3d3ee1 d="M251.9,269.1l1.6-1.8-2.9-1.1-1.6,2.2z"/><path color=#266ff3 d="M319.5,245.9l.9,3.4-2.9-.5-.9-4.2z"/><path color=#3b2ab7 d="M453.2,282.8l3.3,.3-2.9-1.9-3.3,.4z"/><path color=#2b67f4 d="M120.6,252.9l3.4,0-1.3-5.4-3.4-.6z"/><path color=#3d32cd d="M160.6,276.4l3.5,.8-2.9-4.1-3.4-1.6z"/><path color=#0d9ee2 d="M313,211l.9,5.7-1.5,2.8-.8-3.2z"/><path color=#f6c81f d="M296,131.5l.6,.8-1,4.9-.6-5.8z"/><path color=#3c2ec5 d="M228.7,278.3l1.7-.1-2.9-2.4-1.7,1.1z"/><path color=#b8c238 d="M301.5,158.7l.8,1.2-1.4,2.3-.9-4.3z"/><path color=#3d34d1 d="M341,274.3l1.6,.7-2.9-1.8-1.6-.4z"/><path color=#3b2bb8 d="M430,282.7l3.4-.2-2.9-2-3.4,.6z"/><path color=#f7cf1c d="M295.4,130.8l.6,.7-1-.1-.5-5.9z"/><path color=#1e7af1 d="M318.7,240.4l.8,5.5-2.9-1.3-.8-3.8z"/><path color=#3b2cbd d="M203.9,280.6l5.1,.2-2.9-2.6-5.1,1z"/><path color=#394eef d="M137.1,263.4l3.4,1-2.7-7.7-3.5-1.2z"/><path color=#e1b72f d="M300.6,150.9l.9,7.8-1.5-.8-.8-4.2z"/><path color=#0ca3de d="M311.3,209.7l1.7,1.3-1.4,5.3-1.7-8.2z"/><path color=#3e3adc d="M250.2,271.5l1.7-2.4-2.9-.7-1.7,2.2z"/><path color=#3b2cbe d="M180.8,281.3l5.1-.6-2.9-2.7-5.1,.1z"/><path color=#1785ef d="M317.8,234.8l.9,5.6-2.9,.4-.9-3.9z"/><path color=#dcb930 d="M279.2,153.6l.8,3.5-.9-.8-.9,.1z"/><path color=#3c2ec4 d="M227.1,278.3l1.6,0-2.9-1.4-1.6,.5z"/><path color=#3b2bba d="M405.2,282.2l5.1-.2-2.9-2.1-5.1,.6z"/><path color=#f0b62a d="M299.8,143l.8,7.9-1.4,2.8-.9-4.3z"/><path color=#3d35d3 d="M339.3,273.6l1.7,.7-2.9-1.5-1.7-.7z"/><path color=#138cec d="M317,228.4l.8,6.4-2.9,2.1-.8-7.1z"/><path color=#edb42c d="M278.3,150.1l.9,3.5-1,2.8-.8,.1z"/><path color=#3b2cbe d="M382.1,281.1l5.1-.5-2.9-2.2-5.1,.9z"/><path color=#3e37d8 d="M248.5,272.4l1.7-.9-2.9-.9-1.7,1.1z"/><path color=#f3b927 d="M292.9,140.7l.9,4-1,.4-.9-1.2z"/><path color=#0e94e8 d="M316.2,222l.8,6.4-2.9,1.4-.8-7.1z"/><path color=#3c2ec5 d="M359,278.2l5.1,.8-2.9-1.6-5.1-1.2z"/><path color=#3b2ab7 d="M449.8,283.2l3.4-.4-2.9-1.2-3.4,0z"/><path color=#cdbc33 d="M277.8,160.7l.5-10.6-.9,6.4-.6,6.6z"/><path color=#2fc574 d="M276.1,179l.6,2.8-1.5-8.3-.5,2.2z"/><path color=#3d34d2 d="M157.1,275.8l3.5,.6-2.8-4.9-3.5-1.6z"/><path color=#69c754 d="M277.2,171.2l.6-10.5-1,2.4-.5,6.6z"/><path color=#f4ba26 d="M292.1,136.6l.8,4.1-1,3.2-.8-1.2z"/><path color=#3e36d6 d="M337.6,273.2l1.7,.4-2.9-1.5-1.7-.6z"/><path color=#3b2bb8 d="M426.7,283.1l3.3-.4-2.9-1.6-3.3,.1z"/><path color=#31c573 d="M275.5,176.3l.6,2.7-1.4-3.3-.6,2.3z"/><path color=#f3b927 d="M299.2,136.4l.6,6.6-1,4.3-.6-4.8z"/><path color=#3bc66c d="M276.7,181.8l.5-10.6-.9-1.5-.6,6.5z"/><path color=#3752f0 d="M133.6,262.4l3.5,1-2.8-7.9-3.4-2z"/><path color=#32c572 d="M275,173.5l.5,2.8-1.4,1.7-.6,2.2z"/><path color=#f5bf24 d="M291.5,135.3l.6,1.3-1,6.1-.6-3.9z"/><path color=#3e36d5 d="M246.8,273.9l1.7-1.5-2.9-.7-1.7,.8z"/><path color=#f5c222 d="M286,140.2l.5-7.5-1.4-.4-.6,9.9z"/><path color=#f5c222 d="M298.7,129.7l.5,6.7-1,6.1-.5-4.7z"/><path color=#f6c421 d="M290.9,134l.6,1.3-1,3.5-.5-4z"/><path color=#24c47b d="M274.1,181.9l.9-8.4-1.5,6.7-.8,6.6z"/><path color=#0ca3df d="M269.4,214.7l.5-6.3-2.9,2.5-.5,2.4z"/><path color=#f2b828 d="M285.4,147.6l.6-7.4-1.5,2-.5,9.9z"/><path color=#3c2ec3 d="M222,279.7l5.1-1.4-2.9-.9-5.1,.6z"/><path color=#f7ce1d d="M298.1,123l.6,6.7-1,8.1-.6-4.8z"/><path color=#3e37d8 d="M335.9,272.3l1.7,.9-2.9-1.7-1.7-.8z"/><path color=#f6c91f d="M290.4,132.7l.5,1.3-.9,.8-.6-4z"/><path color=#0d9ee2 d="M268.8,221l.6-6.3-2.9-1.4-.6,2.4z"/><path color=#3b2cbe d="M177.3,281.8l3.5-.5-2.9-3.2-3.4,.2z"/><path color=#eeb42c d="M284.8,155.1l.6-7.5-1.4,4.5-.6,9.9z"/><path color=#3b2cbd d="M198.9,281.7l5-1.1-2.9-1.4-5,.9z"/><path color=#1bbe96 d="M273.3,190.2l.8-8.3-1.4,4.9-.9,6.5z"/><path color=#f8d11b d="M297.5,127.3l.6-4.3-1,10-.5-.7z"/><path color=#f6c720 d="M295.8,138.8l.6-2.8-1.4-7.8-.6,5.5z"/><path color=#0d9ae5 d="M268.2,227.3l.6-6.3-2.9-5.3-.6,2.5z"/><path color=#32c572 d="M306.3,173.8l1.7,4.2-1.5,.6-1.7-.4z"/><path color=#3d35d3 d="M245.1,274.6l1.7-.7-2.9-1.4-1.7,.6z"/><path color=#f6c620 d="M290.5,140.1l.9-5.5-2.9-5.6-.9,6.3z"/><path color=#e3b72e d="M284.3,151.5l.5,3.6-1.4,6.9-.6-8.5z"/><path color=#f7ce1d d="M297,131.7l.5-4.4-.9,5-.6-.8z"/><path color=#3b2ab8 d="M446.4,283.9l3.4-.7-2.9-1.6-3.4-.1z"/><path color=#f5bf24 d="M295.3,141.6l.5-2.8-1.4-5.1-.6,5.6z"/><path color=#0e96e7 d="M267.7,228.2l.5-.9-2.9-9.1-.5,5.6z"/><path color=#3e36d6 d="M153.7,275.2l3.4,.6-2.8-5.9-3.4-.1z"/><path color=#f0b62a d="M283.7,148l.6,3.5-1.5,2-.5-8.4z"/><path color=#3b2bbb d="M400.2,282.1l5,.1-2.9-1.7-5-.3z"/><path color=#f7cb1e d="M296.4,136l.6-4.3-1-.2-.6-.7z"/><path color=#f3b927 d="M294.7,144.3l.6-2.7-1.5-2.3-.5,5.6z"/><path color=#f4bb26 d="M289.7,145.7l.8-5.6-2.9-4.8-.8,6.3z"/><path color=#3e39db d="M334.2,271.7l1.7,.6-2.9-1.6-1.7-.6z"/><path color=#3b2bb9 d="M423.3,283.5l3.4-.4-2.9-1.9-3.4-.2z"/><path color=#16baaa d="M271.6,192.3l1.7-2.1-1.5,3.1-1.6,4z"/><path color=#0eabd6 d="M312.2,203.2l.6,8-2.9-3.1-.6-7.4z"/><path color=#0f92e9 d="M267.1,229.1l.6-.9-2.9-4.4-.6,5.7z"/><path color=#41c669 d="M305.7,170.1l.6,3.7-1.5,4.4-.5-5.7z"/><path color=#f3b927 d="M283.2,144.4l.5,3.6-1.4-2.9-.6-8.5z"/><path color=#3b2cbf d="M377.1,281.4l5-.3-2.9-1.8-5-.2z"/><path color=#12b4c1 d="M311.7,195.3l.5,7.9-2.9-2.5-.5-7.4z"/><path color=#3556f1 d="M130.2,262.1l3.4,.3-2.7-8.9-3.4-.8z"/><path color=#118feb d="M266.6,230l.5-.9-2.9,.4-.5,5.6z"/><path color=#54c85d d="M305.2,166.3l.5,3.8-1.4,2.4-.6-5.7z"/><path color=#3d34d0 d="M243.4,275.8l1.7-1.2-2.9-1.5-1.7,1.2z"/><path color=#f4ba26 d="M288.8,139.4l.9,6.3-2.9-4.1-.9-4.7z"/><path color=#f3b927 d="M282.6,149l.6-4.6-1.5-7.8-.5,6.8z"/><path color=#3c30c8 d="M354,278l5,.2-2.9-2-5-.2z"/><path color=#19bc9e d="M311.1,187.3l.6,8-2.9-2-.6-7.4z"/><path color=#3b2ab7 d="M466.2,284.1l5-.9-2.9-1.3-5,.3z"/><path color=#12b4c2 d="M270.8,200.4l.8-8.1-1.4,5-.9,6.2z"/><path color=#88c549 d="M304.6,162.5l.6,3.8-1.5,.5-.6-5.7z"/><path color=#f0b62a d="M282,153.6l.6-4.6-1.4-5.6-.6,6.9z"/><path color=#148bed d="M265.7,234.6l.9-4.6-2.9,5.1-.9,2.2z"/><path color=#f6c521 d="M288,133.1l.8,6.3-2.9-2.5-.8-4.6z"/><path color=#3e3bde d="M332.5,270.5l1.7,1.2-2.9-1.6-1.7-1.3z"/><path color=#0d9ce3 d="M315.3,213.8l.9,8.2-1.5,.3-.8-5.6z"/><path color=#1fc187 d="M310.3,182.4l.8,4.9-2.9-1.4-.8-3.7z"/><path color=#edb42c d="M281.5,158.2l.5-4.6-1.4-3.3-.6,6.8z"/><path color=#3b2cbe d="M173.9,282.3l3.4-.5-2.8-3.5-3.5-.1z"/><path color=#0fabd6 d="M269.9,208.4l.9-8-1.5,3.1-.8,6.2z"/><path color=#1687ef d="M264.9,239.3l.8-4.7-2.9,2.7-.8,2.1z"/><path color=#f4ba26 d="M293.9,137.4l.8,6.9-.9,.4-.9-4z"/><path color=#3d33cf d="M241.7,276.1l1.7-.3-2.9-1.5-1.6,.1z"/><path color=#0da4de d="M314.5,205.7l.8,8.1-1.4,2.9-.9-5.7z"/><path color=#27c479 d="M309.4,177.5l.9,4.9-2.9-.2-.9-3.6z"/><path color=#3b2ab7 d="M443,284l3.4-.1-2.9-2.4-3.3,.7z"/><path color=#e5b62e d="M279.8,157.3l1.7,.9-1.5-1.1-1.7-7z"/><path color=#3c2dc1 d="M216.9,280.6l5.1-.9-2.9-1.7-5,1z"/><path color=#1b80f1 d="M264,243.4l.9-4.1-2.9,.1-.9,4.7z"/><path color=#f6c421 d="M293,130.5l.9,6.9-1,3.3-.8-4.1z"/><path color=#3e38d9 d="M150.2,274.7l3.5,.5-2.8-5.4-3.5-2.1z"/><path color=#3d3ee1 d="M330.8,268.9l1.7,1.6-2.9-1.7-1.7-1.4z"/><path color=#3b2bba d="M419.9,283.3l3.4,.2-2.9-2.5-3.4,0z"/><path color=#ebb52d d="M302.1,153.1l.8,4.8-1.4,.8-.9-7.8z"/><path color=#3b2cbc d="M193.8,282.1l5.1-.4-2.9-1.6-5.1,.6z"/><path color=#0da7db d="M312.8,211.2l1.7-5.5-1.5,5.3-1.7-1.3z"/><path color=#f6c91f d="M292.5,131.8l.5-1.3-.9,6.1-.6-1.3z"/><path color=#2275f2 d="M263.2,247.5l.8-4.1-2.9,.7-.8,4.8z"/><path color=#3456f1 d="M126.7,263l3.5-.9-2.7-9.4-3.5,.2z"/><path color=#3d32ce d="M240.1,276.4l1.6-.3-2.8-1.7-1.7,1.2z"/><path color=#d1bb32 d="M279.2,163.6l.6-6.3-1.5-7.2-.5,10.6z"/><path color=#f6c91f d="M291.9,133.2l.6-1.4-1,3.5-.6-1.3z"/><path color=#f1b729 d="M301.2,148.4l.9,4.7-1.5-2.2-.8-7.9z"/><path color=#70c651 d="M278.7,169.8l.5-6.2-1.4-2.9-.6,10.5z"/><path color=#296af3 d="M262.3,252.6l.9-5.1-2.9,1.4-.9,3.5z"/><path color=#3b2cbc d="M395.1,282.9l5.1-.8-2.9-1.9-5.1,.8z"/><path color=#f6c91f d="M291.4,134.6l.5-1.4-1,.8-.5-1.3z"/><path color=#3d42e6 d="M329.2,266.1l1.6,2.8-2.9-1.5-1.6-2.3z"/><path color=#f4ba26 d="M300.7,141.7l.5,6.7-1.4-5.4-.6-6.6z"/><path color=#3ec66a d="M278.1,176.1l.6-6.3-1.5,1.4-.5,10.6z"/><path color=#3c2dc1 d="M372,280.3l5.1,1.1-2.9-2.3-5.1,0z"/><path color=#3c2dc0 d="M170.4,281.9l3.5,.4-2.9-4.1-3.5-.5z"/><path color=#3b2ab8 d="M462.8,283.8l3.4,.3-2.9-1.9-3.4,.4z"/><path color=#305ff3 d="M261.5,257.6l.8-5-2.9-.2-.8,3.6z"/><path color=#f6c621 d="M300.1,134.9l.6,6.8-1.5-5.3-.5-6.7z"/><path color=#3d32cc d="M238.4,277.1l1.7-.7-2.9-.8-1.7,.5z"/><path color=#2fc574 d="M277.5,177.6l.6-1.5-1.4,5.7-.6-2.8z"/><path color=#3d31cc d="M348.9,276.9l5.1,1.1-2.9-2-5.1-.6z"/><path color=#3b2ab8 d="M439.7,284.2l3.3-.2-2.8-1.8-3.4,0z"/><path color=#f8d31b d="M299.5,128.2l.6,6.7-1.4-5.2-.6-6.7z"/><path color=#31c572 d="M277,179.1l.5-1.5-1.4,1.4-.6-2.7z"/><path color=#3e3bdd d="M146.7,274.1l3.5,.6-2.8-7-3.4-1.8z"/><path color=#3c47ed d="M327.5,263.6l1.7,2.5-2.9-1-1.7-2.9z"/><path color=#3b2bbb d="M416.6,282.5l3.3,.8-2.9-2.3-3.3,.8z"/><path color=#3554f0 d="M259.8,261.4l1.7-3.8-2.9-1.6-1.7,4.9z"/><path color=#f5c222 d="M296.8,137.6l.6,.9-1-2.5-.6,2.8z"/><path color=#34c571 d="M276.4,180.6l.6-1.5-1.5-2.8-.5-2.8z"/><path color=#f8d31a d="M298.7,134l.8-5.8-1.4-5.2-.9,6.5z"/><path color=#f6c521 d="M287.4,138.1l.6-5-1.5-.4-.5,7.5z"/><path color=#bfc036 d="M304.4,157l1.6,6.9-2.9-2.8-1.6-2.4z"/><path color=#3457f1 d="M123.3,262.8l3.4,.2-2.7-10.1-3.4,0z"/><path color=#3d31ca d="M236.7,278.1l1.7-1-2.9-1-1.7,.7z"/><path color=#f5c023 d="M296.2,136.8l.6,.8-1,1.2-.5,2.8z"/><path color=#2cc576 d="M275.6,181.7l.8-1.1-1.4-7.1-.9,8.4z"/><path color=#f4ba26 d="M286.9,143.2l.5-5.1-1.4,2.1-.6,7.4z"/><path color=#f6c820 d="M297.9,139.8l.8-5.8-1.5-4.5-.8,6.5z"/><path color=#f5be24 d="M295.7,135.9l.5,.9-.9,4.8-.6,2.7z"/><path color=#3c2dbf d="M211.9,281.5l5-.9-2.8-1.6-5.1,1.8z"/><path color=#f1b729 d="M286.3,148.2l.6-5-1.5,4.4-.6,7.5z"/><path color=#3850f0 d="M325.8,260.4l1.7,3.2-2.9-1.4-1.7-4.4z"/><path color=#20c284 d="M274.7,182.8l.9-1.1-1.5,.2-.8,8.3z"/><path color=#3b4aee d="M258.1,265.2l1.7-3.8-2.9-.5-1.7,4.5z"/><path color=#3b2cbc d="M188.8,283l5-.9-2.9-1.4-5,0z"/><path color=#f5c322 d="M294.8,132.1l.9,3.8-1,8.4-.8-6.9z"/><path color=#3b2ab8 d="M459.4,284.1l3.4-.3-2.9-1.2-3.4,.5z"/><path color=#40c669 d="M307.7,169.5l1.7,8-1.4,.5-1.7-4.2z"/><path color=#f0b62a d="M285.7,149.5l.6-1.3-1.5,6.9-.5-3.6z"/><path color=#3c2dc2 d="M166.9,281.9l3.5,0-2.9-4.2-3.4-.5z"/><path color=#3c30c9 d="M235,278l1.7,.1-2.9-1.3-1.7,.1z"/><path color=#1cbf91 d="M274.2,186.2l.5-3.4-1.4,7.4-.6,.7z"/><path color=#3d33ce d="M347.2,276.6l1.7,.3-2.9-1.5-1.7-.3z"/><path color=#3b2ab8 d="M436.3,284.6l3.4-.4-2.9-2-3.4,.3z"/><path color=#f0b62a d="M285.2,150.8l.5-1.3-1.4,2-.6-3.5z"/><path color=#f7cd1d d="M294,128.2l.8,3.9-.9,5.3-.9-6.9z"/><path color=#1abe98 d="M273.6,189.6l.6-3.4-1.5,4.7-.5,.7z"/><path color=#3b2cbd d="M390.1,282.3l5,.6-2.9-1.9-5-.4z"/><path color=#52c85e d="M307.2,167.6l.5,1.9-1.4,4.3-.6-3.7z"/><path color=#3d3de1 d="M143.3,273.4l3.4,.7-2.7-8.2-3.5-1.5z"/><path color=#f1b729 d="M284.6,152.1l.6-1.3-1.5-2.8-.5-3.6z"/><path color=#315cf2 d="M324.1,254.5l1.7,5.9-2.9-2.6-1.7-5.1z"/><path color=#3b2bba d="M413.2,283.8l3.4-1.3-2.9-.7-3.4,.2z"/><path color=#3d43e8 d="M256.4,268.4l1.7-3.2-2.9,.2-1.7,1.9z"/><path color=#18bca0 d="M273.1,193l.5-3.4-1.4,2-.6,.7z"/><path color=#3c2ec3 d="M367,280.6l5-.3-2.9-1.2-5-.1z"/><path color=#6ac754 d="M306.6,165.8l.6,1.8-1.5,2.5-.5-3.8z"/><path color=#f0b62a d="M284,154.5l.6-2.4-1.4-7.7-.6,4.6z"/><path color=#3c30c8 d="M233.3,278.8l1.7-.8-2.9-1.1-1.7,1.3z"/><path color=#8ec547 d="M306,163.9l.6,1.9-1.4,.5-.6-3.8z"/><path color=#3d34d0 d="M345.5,276l1.7,.6-2.9-1.5-1.7-.1z"/><path color=#efb52b d="M283.5,156.9l.5-2.4-1.4-5.5-.6,4.6z"/><path color=#0d9ce4 d="M316.8,219l.8,6.5-1.4-3.5-.9-8.2z"/><path color=#e0b82f d="M282.9,159.3l.6-2.4-1.5-3.3-.5,4.6z"/><path color=#296bf3 d="M322.4,249.2l1.7,5.3-2.9-1.8-1.7-6.8z"/><path color=#3d3fe3 d="M254.8,270.5l1.6-2.1-2.9-1.1-1.6,1.8z"/><path color=#f6c820 d="M291.5,133.4l.8-1.2-.9,2.4-.9,5.5z"/><path color=#3b2ab8 d="M456.1,284.1l3.3,0-2.9-1-3.3-.3z"/><path color=#0ca4de d="M315.9,212.5l.9,6.5-1.5-5.2-.8-8.1z"/><path color=#3c2ec4 d="M163.4,281.6l3.5,.3-2.8-4.7-3.5-.8z"/><path color=#f7d01c d="M292.8,131l1.7-3.9-1.5,3.4-1.6,4.1z"/><path color=#3c2fc6 d="M231.6,279.4l1.7-.6-2.9-.6-1.7,.1z"/><path color=#3d34d1 d="M343.8,276.5l1.7-.5-2.9-1-1.6-.7z"/><path color=#3b2ab8 d="M432.9,284.8l3.4-.2-2.9-2.1-3.4,.2z"/><path color=#c7be35 d="M281.2,164.6l1.7-5.3-1.4-1.1-1.7-.9z"/><path color=#f5c123 d="M290.6,134.7l.9-1.3-1,6.7-.8,5.6z"/><path color=#1e7bf1 d="M321.6,242.1l.8,7.1-2.9-3.3-.8-5.5z"/><path color=#0ea8d9 d="M315.4,209.8l.5,2.7-1.4-6.8-.6,1.8z"/><path color=#3b2cbe d="M206.8,282.5l5.1-1-2.9-.7-5.1-.2z"/><path color=#3d40e4 d="M139.8,272l3.5,1.4-2.8-9-3.4-1z"/><path color=#edb42c d="M303.5,155.4l.9,1.6-1.5,.9-.8-4.8z"/><path color=#f5c223 d="M297.8,136.5l.5,4.6-.9-2.6-.6-.9z"/><path color=#0ea9d8 d="M314.8,207l.6,2.8-1.5-2.3-.6,1.9z"/><path color=#3e3cde d="M253.1,272.3l1.7-1.8-2.9-1.4-1.7,2.4z"/><path color=#3b2cbc d="M183.7,283.4l5.1-.4-2.9-2.3-5.1,.6z"/><path color=#f5c322 d="M289.8,131.7l.8,3-.9,11-.9-6.3z"/><path color=#1688ee d="M320.7,235l.9,7.1-2.9-1.7-.9-5.6z"/><path color=#a6c33e d="M280.7,166.5l.5-1.9-1.4-7.3-.6,6.3z"/><path color=#f6c720 d="M297.2,131.9l.6,4.6-1,1.1-.6-.8z"/><path color=#0eaad7 d="M314.2,204.2l.6,2.8-1.5,2.4-.5,1.8z"/><path color=#3c2ec5 d="M230,280.5l1.6-1.1-2.9-1.1-1.6,0z"/><path color=#3b2bba d="M408.1,284l5.1-.2-2.9-1.8-5.1,.2z"/><path color=#efb52b d="M302.7,153.7l.8,1.7-1.4-2.3-.9-4.7z"/><path color=#3d35d4 d="M342.2,275l1.6,1.5-2.8-2.2-1.7-.7z"/><path color=#73c651 d="M280.1,168.4l.6-1.9-1.5-2.9-.5,6.2z"/><path color=#f7cc1e d="M296.7,127.4l.5,4.5-1,4.9-.5-.9z"/><path color=#f7cc1e d="M288.9,128.7l.9,3-1,7.7-.8-6.3z"/><path color=#128eeb d="M319.9,232l.8,3-2.9-.2-.8-6.4z"/><path color=#0faed2 d="M313.7,199.3l.5,4.9-1.4,7-.6-8z"/><path color=#3b2cbe d="M385,282.5l5.1-.2-2.9-1.7-5.1,.5z"/><path color=#f2b828 d="M302.1,147l.6,6.7-1.5-5.3-.5-6.7z"/><path color=#50c75f d="M279.6,170.3l.5-1.9-1.4,1.4-.6,6.3z"/><path color=#13b6ba d="M313.1,194.4l.6,4.9-1.5,3.9-.5-7.9z"/><path color=#3e39db d="M251.4,273.9l1.7-1.6-2.9-.8-1.7,.9z"/><path color=#f8d11b d="M295.8,126.7l.9,.7-1,8.5-.9-3.8z"/><path color=#0e94e8 d="M319,229l.9,3-2.9-3.6-.8-6.4z"/><path color=#3c2fc5 d="M361.9,279.9l5.1,.7-2.9-1.6-5.1-.8z"/><path color=#3b2ab8 d="M452.7,285.1l3.4-1-2.9-1.3-3.4,.4z"/><path color=#f4bd25 d="M301.5,140.2l.6,6.8-1.4-5.3-.6-6.8z"/><path color=#41c669 d="M279,176.1l.6-5.8-1.5,5.8-.6,1.5z"/><path color=#19bc9e d="M312.5,189.5l.6,4.9-1.4,.9-.6-8z"/><path color=#3c2fc6 d="M160,281.3l3.4,.3-2.8-5.2-3.5-.6z"/><path color=#14b7b4 d="M273.7,201.3l.8-7.6-2.9-1.4-.8,8.1z"/><path color=#f6ca1f d="M301,133.5l.5,6.7-1.4-5.3-.6-6.7z"/><path color=#f8d619 d="M295,126l.8,.7-1,5.4-.8-3.9z"/><path color=#3e36d7 d="M340.5,274.7l1.7,.3-2.9-1.4-1.7-.4z"/><path color=#3b2ab8 d="M429.6,285l3.3-.2-2.9-2.1-3.3,.4z"/><path color=#32c572 d="M278.4,181.9l.6-5.8-1.5,1.5-.5,1.5z"/><path color=#1ec189 d="M312,184.1l.5,5.4-1.4-2.2-.6-3.3z"/><path color=#44c667 d="M309.8,170.9l.6,3.8-1,2.8-.6-2.7z"/><path color=#24c47b d="M277.9,187.8l.5-5.9-1.4-2.8-.6,1.5z"/><path color=#0faed3 d="M272.8,208.9l.9-7.6-2.9-.9-.9,8z"/><path color=#f7cc1e d="M300.1,138.6l.9-5.1-1.5-5.3-.8,5.8z"/><path color=#3d43e7 d="M136.4,271.7l3.4,.3-2.7-8.6-3.5-1z"/><path color=#26c47a d="M311.4,178.7l.6,5.4-1.5-.1-.5-3.3z"/><path color=#3e37d7 d="M249.7,275.1l1.7-1.2-2.9-1.5-1.7,1.5z"/><path color=#51c75f d="M309.3,167.1l.5,3.8-1,3.9-.5-2.7z"/><path color=#f7cd1d d="M288.9,134.1l.5-7.6-1.4,6.6-.6,5z"/><path color=#f1b729 d="M286.7,146.2l.6,2.7-1-.7-.6,1.3z"/><path color=#22c47c d="M277,181.6l.9,6.2-1.5-7.2-.8,1.1z"/><path color=#0da6db d="M272.3,213l.5-4.1-2.9-.5-.5,6.3z"/><path color=#37c66f d="M310.9,173.3l.5,5.4-1.4,2-.6-3.2z"/><path color=#6bc753 d="M308.7,163.3l.6,3.8-1,5-.6-2.6z"/><path color=#f5c123 d="M288.3,141.7l.6-7.6-1.5,4-.5,5.1z"/><path color=#3c2ec4 d="M224.9,280.6l5.1-.1-2.9-2.2-5.1,1.4z"/><path color=#f2b828 d="M286.1,143.6l.6,2.6-1,3.3-.5,1.3z"/><path color=#f5c123 d="M299.3,143.6l.8-5-1.4-4.6-.8,5.8z"/><path color=#3e37d9 d="M338.8,274.4l1.7,.3-2.9-1.5-1.7-.9z"/><path color=#0ca0e1 d="M271.7,217.1l.6-4.1-2.9,1.7-.6,6.3z"/><path color=#3b2cbc d="M180.2,283.4l3.5,0-2.9-2.1-3.5,.5z"/><path color=#f3b927 d="M287.7,149.3l.6-7.6-1.4,1.5-.6,5z"/><path color=#f2b828 d="M285.6,140.9l.5,2.7-.9,7.2-.6,1.3z"/><path color=#3b2cbd d="M201.8,283.4l5-.9-2.9-1.9-5,1.1z"/><path color=#2cc576 d="M276.2,175.4l.8,6.2-1.4,.1-.9,1.1z"/><path color=#0d9be4 d="M271.1,221.1l.6-4-2.9,3.9-.6,6.3z"/><path color=#3e36d5 d="M248,275.9l1.7-.8-2.9-1.2-1.7,.7z"/><path color=#f8d21b d="M292.4,126.8l.9,3-1,2.4-.8,1.2z"/><path color=#95c444 d="M307,162.4l1.7,.9-1,6.2-1.7-5.6z"/><path color=#f1b729 d="M284.7,146.4l.9-5.5-1,11.2-.8,3.6z"/><path color=#3b2ab8 d="M449.3,284.8l3.4,.3-2.9-1.9-3.4,.7z"/><path color=#28c478 d="M275.6,181.5l.6-6.1-1.5,7.4-.5,3.4z"/><path color=#3c30c8 d="M156.5,281.5l3.5-.2-2.9-5.5-3.4-.6z"/><path color=#3b2bbb d="M403.1,284.1l5-.1-2.9-1.8-5-.1z"/><path color=#f8d41a d="M291.6,123.8l.8,3-.9,6.6-.9,1.3z"/><path color=#3e39dc d="M337.1,272.6l1.7,1.8-2.9-2.1-1.7-.6z"/><path color=#3b2ab8 d="M426.2,285.3l3.4-.3-2.9-1.9-3.4,.4z"/><path color=#1fc188 d="M275.1,187.6l.5-6.1-1.4,4.7-.6,3.4z"/><path color=#0e96e7 d="M269.4,226.7l1.7-5.6-2.9,6.2-1.6,2.7z"/><path color=#efb52b d="M283.9,152l.8-5.6-.9,9.3-.9,3.6z"/><path color=#3c2dbf d="M380,282.4l5,.1-2.9-1.4-5,.3z"/><path color=#f5c123 d="M298.7,135.4l.6,8.2-1-2.5-.5-4.6z"/><path color=#1abd9a d="M274.5,193.7l.6-6.1-1.5,2-.5,3.4z"/><path color=#3d34d2 d="M246.3,276.5l1.7-.6-2.9-1.3-1.7,1.2z"/><path color=#f8d619 d="M290.8,124l.8-.2-1,10.9-.8-3z"/><path color=#3d44e9 d="M132.9,271.5l3.5,.2-2.8-9.3-3.4-.3z"/><path color=#e9b52d d="M283.3,155l.6-3-1,7.3-.5,1.7z"/><path color=#f7ce1d d="M298.2,127.1l.5,8.3-.9,1.1-.6-4.6z"/><path color=#3c30c8 d="M356.9,279.6l5,.3-2.9-1.7-5-.2z"/><path color=#3b2bb8 d="M469.1,285.5l5-1.1-2.9-1.2-5,.9z"/><path color=#1090ea d="M268.6,234.5l.8-7.8-2.8,3.3-.9,4.6z"/><path color=#d4bb32 d="M282.8,158.1l.5-3.1-.9,6-.6,1.8z"/><path color=#f8db17 d="M297.6,118.9l.6,8.2-1,4.8-.5-4.5z"/><path color=#f8d918 d="M289.9,124.3l.9-.3-1,7.7-.9-3z"/><path color=#3e3bde d="M335.4,272.3l1.7,.3-2.9-.9-1.7-1.2z"/><path color=#0d98e6 d="M318.2,224.2l.8,4.8-1.4-3.5-.8-6.5z"/><path color=#bec137 d="M282.2,161.1l.6-3-1,4.7-.6,1.8z"/><path color=#3b2bbc d="M176.7,283.9l3.5-.5-2.9-1.6-3.4,.5z"/><path color=#1589ee d="M267.8,242.3l.8-7.8-2.9,.1-.8,4.7z"/><path color=#f8e015 d="M296.8,121.4l.8-2.5-.9,8.5-.9-.7z"/><path color=#3d34d0 d="M244.6,277.5l1.7-1-2.9-.7-1.7,.3z"/><path color=#0d9ee2 d="M317.4,219.4l.8,4.8-1.4-5.2-.9-6.5z"/><path color=#3b2ab8 d="M445.9,285.1l3.4-.3-2.9-.9-3.4,.1z"/><path color=#f8d918 d="M294.2,127.3l1.7-3.5-1.4,3.3-1.7,3.9z"/><path color=#3c2dc2 d="M219.8,282.2l5.1-1.6-2.9-.9-5.1,.9z"/><path color=#9cc442 d="M280.5,162.4l1.7-1.3-1,3.5-1.6,5.7z"/><path color=#f8df16 d="M295.9,123.8l.9-2.4-1,5.3-.8-.7z"/><path color=#3d31ca d="M153,281.4l3.5,.1-2.8-6.3-3.5-.5z"/><path color=#0da4de d="M316.8,212l.6,7.4-1.5-6.9-.5-2.7z"/><path color=#3d3ee2 d="M333.7,270.2l1.7,2.1-2.9-1.8-1.7-1.6z"/><path color=#3b2bb9 d="M422.8,284.9l3.4,.4-2.9-1.8-3.4-.2z"/><path color=#53c85d d="M310.8,167l.5,4.9-.9,2.8-.6-3.8z"/><path color=#1d7cf1 d="M266.1,250.5l1.7-8.2-2.9-3-1.7,8.2z"/><path color=#3b2cbc d="M196.7,284.1l5.1-.7-2.9-1.7-5.1,.4z"/><path color=#0eaad7 d="M316.2,204.6l.6,7.4-1.4-2.2-.6-2.8z"/><path color=#82c54b d="M310.2,162.1l.6,4.9-1,3.9-.5-3.8z"/><path color=#f2b828 d="M287.7,142.9l.5,6.7-.9-.7-.6-2.7z"/><path color=#3d33cf d="M243,278.1l1.6-.6-2.9-1.4-1.6,.3z"/><path color=#62c757 d="M280,168.2l.5-5.8-.9,7.9-.6,5.8z"/><path color=#3c44e9 d="M129.4,271.7l3.5-.2-2.7-9.4-3.5,.9z"/><path color=#10b0cf d="M315.7,197.2l.5,7.4-1.4,2.4-.6-2.8z"/><path color=#b9c238 d="M309.7,157.1l.5,5-.9,5-.6-3.8z"/><path color=#f4bc25 d="M287.1,136.3l.6,6.6-1,3.3-.6-2.6z"/><path color=#276ef3 d="M265.2,252.3l.9-1.8-2.9-3-.9,5.1z"/><path color=#44c767 d="M279.4,173.9l.6-5.7-1,7.9-.6,5.8z"/><path color=#3b2cbc d="M398,284.1l5.1,0-2.9-2-5.1,.8z"/><path color=#13b5ba d="M315.1,195.3l.6,1.9-1.5,7-.5-4.9z"/><path color=#3d43e7 d="M332.1,268.3l1.6,1.9-2.9-1.3-1.6-2.8z"/><path color=#f6c521 d="M286.5,129.6l.6,6.7-1,7.3-.5-2.7z"/><path color=#2dc575 d="M278.8,179.7l.6-5.8-1,8-.5,5.9z"/><path color=#3c2dc1 d="M374.9,282.6l5.1-.2-2.9-1-5.1-1.1z"/><path color=#3b2ab8 d="M465.7,285.7l3.4-.2-2.9-1.4-3.4-.3z"/><path color=#16baaa d="M314.6,193.5l.5,1.8-1.4,4-.6-4.9z"/><path color=#3b2cbc d="M173.2,284.3l3.5-.4-2.8-1.6-3.5-.4z"/><path color=#2c65f4 d="M264.4,254l.8-1.7-2.9,.3-.8,5z"/><path color=#f8dc17 d="M293.4,120.1l.8,7.2-.9,2.5-.9-3z"/><path color=#c8be34 d="M308,160.9l1.7-3.8-1,6.2-1.7-.9z"/><path color=#3d32cd d="M241.3,278.9l1.7-.8-2.9-1.7-1.7,.7z"/><path color=#f5c322 d="M285.7,137.1l.8-7.5-.9,11.3-.9,5.5z"/><path color=#19bd9d d="M314,191.7l.6,1.8-1.5,.9-.6-4.9z"/><path color=#2bc576 d="M278,176.3l.8,3.4-.9,8.1-.9-6.2z"/><path color=#3d32cc d="M351.8,278.7l5.1,.9-2.9-1.6-5.1-1.1z"/><path color=#3b2bb8 d="M442.6,285.5l3.3-.4-2.9-1.1-3.3,.2z"/><path color=#f8e613 d="M292.6,112.8l.8,7.3-1,6.7-.8-3z"/><path color=#1ec18a d="M313.4,184.2l.6,7.5-1.5-2.2-.5-5.4z"/><path color=#3d32cd d="M149.5,280l3.5,1.4-2.8-6.7-3.5-.6z"/><path color=#f3b927 d="M284.9,144.6l.8-7.5-1,9.3-.8,5.6z"/><path color=#3c48ee d="M330.4,265.4l1.7,2.9-2.9-2.2-1.7-2.5z"/><path color=#3b2bbb d="M419.5,285.1l3.3-.2-2.9-1.6-3.3-.8z"/><path color=#3359f1 d="M262.7,262.4l1.7-8.4-2.9,3.6-1.7,3.8z"/><path color=#3fc66a d="M277.2,172.9l.8,3.4-1,5.3-.8-6.2z"/><path color=#f6c820 d="M301.9,140.1l.5-4.6-1.4-2-.6,3.4z"/><path color=#f4bd25 d="M299.7,142l.6,5.4-1-3.8-.6-8.2z"/><path color=#2dc575 d="M312.9,176.7l.5,7.5-1.4-.1-.6-5.4z"/><path color=#f8d918 d="M290.3,130l.6-10.1-1.5,6.6-.5,7.6z"/><path color=#f8e812 d="M291.7,116.3l.9-3.5-1,11-.8,.2z"/><path color=#e3b72e d="M307.3,152.2l1.6,7.2-2.9,4.5-1.6-6.9z"/><path color=#f1b729 d="M284.3,149l.6-4.4-1,7.4-.6,3z"/><path color=#f5c023 d="M301.3,144.7l.6-4.6-1.5-3.2-.5,3.3z"/><path color=#3d31cb d="M239.6,279.4l1.7-.5-2.9-1.8-1.7,1z"/><path color=#f6ca1f d="M299.1,136.6l.6,5.4-1-6.6-.5-8.3z"/><path color=#3c44e9 d="M126,272.5l3.4-.8-2.7-8.7-3.4-.2z"/><path color=#48c764 d="M312.3,169.1l.6,7.6-1.5,2-.5-5.4z"/><path color=#f6c820 d="M289.8,140.2l.5-10.2-1.4,4.1-.6,7.6z"/><path color=#efb52b d="M283.7,153.4l.6-4.4-1,6-.5,3.1z"/><path color=#f4ba26 d="M300.7,149.3l.6-4.6-1.4-4.5-.6,3.4z"/><path color=#f8d819 d="M298.6,131.2l.5,5.4-.9-9.5-.6-8.2z"/><path color=#3c2dc0 d="M214.8,283.2l5-1-2.9-1.6-5,.9z"/><path color=#f8e613 d="M290.9,119.9l.8-3.6-.9,7.7-.9,.3z"/><path color=#f3b927 d="M289.2,150.3l.6-10.1-1.5,1.5-.6,7.6z"/><path color=#384fef d="M328.7,262.6l1.7,2.8-2.9-1.8-1.7-3.2z"/><path color=#e9b52d d="M283.2,157.7l.5-4.3-.9,4.7-.6,3z"/><path color=#3a4cef d="M261,267.1l1.7-4.7-2.9-1-1.7,3.8z"/><path color=#f8de16 d="M298,129.9l.6,1.3-1-12.3-.5,1.6z"/><path color=#3b2bbc d="M191.7,284.9l5-.8-2.9-2-5,.9z"/><path color=#3b2bb9 d="M462.3,285.7l3.4,0-2.9-1.9-3.4,.3z"/><path color=#3b2cbd d="M169.8,283.9l3.4,.4-2.8-2.4-3.5,0z"/><path color=#efb52b d="M305.6,154.4l1.7-2.2-2.9,4.8-1.7-3.3z"/><path color=#3d31ca d="M237.9,280.4l1.7-1-2.9-1.3-1.7-.1z"/><path color=#f8de16 d="M297.5,128.6l.5,1.3-.9-9.4-.6,1.7z"/><path color=#3fc66a d="M277.1,178.5l.5-6.8-1.4,3.7-.6,6.1z"/><path color=#3d33cf d="M350.1,278.6l1.7,.1-2.9-1.8-1.7-.3z"/><path color=#3b2bb9 d="M439.2,285.4l3.4,.1-2.9-1.3-3.4,.4z"/><path color=#ddb830 d="M281.5,154.4l1.7,3.3-1,3.4-1.7,1.3z"/><path color=#3358f1 d="M327.8,257.5l.9,5.1-2.9-2.2-.9-2.9z"/><path color=#f8de16 d="M296.9,127.2l.6,1.4-1-6.4-.6,1.6z"/><path color=#25c47a d="M276.5,185.4l.6-6.9-1.5,3-.5,6.1z"/><path color=#3b2cbd d="M393,284.9l5-.8-2.9-1.2-5-.6z"/><path color=#7cc64d d="M311.7,163.1l.6,6-1,2.8-.5-4.9z"/><path color=#3b2bbb d="M416.1,285.7l3.4-.6-2.9-2.6-3.4,1.3z"/><path color=#f1b729 d="M305,148.8l.6,5.6-2.9-.7-.6-6.7z"/><path color=#3d34d0 d="M146,280.4l3.5-.4-2.8-5.9-3.4-.7z"/><path color=#3c45ea d="M259.3,269.5l1.7-2.4-2.9-1.9-1.7,3.2z"/><path color=#1cbf92 d="M275.9,192.2l.6-6.8-1.4,2.2-.6,6.1z"/><path color=#f8db17 d="M296.1,130.5l.8-3.3-1-3.4-.8,1.8z"/><path color=#bfc036 d="M311.2,157l.5,6.1-.9,3.9-.6-4.9z"/><path color=#2e63f3 d="M327,252.4l.8,5.1-2.9,0-.8-3z"/><path color=#3c2ec3 d="M369.9,282.4l5,.2-2.9-2.3-5,.3z"/><path color=#f3b927 d="M288.6,139.7l.6,10.6-1-.7-.5-6.7z"/><path color=#f4ba26 d="M304.4,143.2l.6,5.6-2.9-1.8-.6-6.8z"/><path color=#c8be34 d="M280.9,160.2l.6-5.8-1,8-.5,5.8z"/><path color=#3c30c9 d="M236.2,280.8l1.7-.4-2.9-2.4-1.7,.8z"/><path color=#eeb42c d="M310.6,151l.6,6-1,5.1-.5-5z"/><path color=#16b9aa d="M275.1,197.6l.8-5.4-1.4,1.5-.8,7.6z"/><path color=#f6c720 d="M288.1,129l.5,10.7-.9,3.2-.6-6.6z"/><path color=#3d34d1 d="M348.4,278.1l1.7,.5-2.9-2-1.7-.6z"/><path color=#f6c421 d="M303.9,137.6l.5,5.6-2.9-3-.5-6.7z"/><path color=#86c54a d="M280.4,165.9l.5-5.7-.9,8-.6,5.7z"/><path color=#f8d719 d="M295.2,133.7l.9-3.2-1-4.9-.9,1.7z"/><path color=#f8d818 d="M287.5,118.4l.6,10.6-1,7.3-.6-6.7z"/><path color=#266ef3 d="M325.3,248.4l1.7,4-2.9,2.1-1.7-5.3z"/><path color=#50c75f d="M279.8,171.7l.6-5.8-1,8-.6,5.8z"/><path color=#11b2c9 d="M274.3,203.1l.8-5.5-1.4,3.7-.9,7.6z"/><path color=#3d40e4 d="M257.7,272.3l1.6-2.8-2.9-1.1-1.6,2.1z"/><path color=#f8db17 d="M294.4,126.6l.8,7.1-1-6.4-.8-7.2z"/><path color=#eeb42c d="M308.9,159.4l1.7-8.4-.9,6.1-1.7,3.8z"/><path color=#3b2bb9 d="M459,286.1l3.3-.4-2.9-1.6-3.3,0z"/><path color=#f8d918 d="M286.7,127.8l.8-9.4-1,11.2-.8,7.5z"/><path color=#3b2cbe d="M166.3,284.1l3.5-.2-2.9-2-3.5-.3z"/><path color=#3c30c8 d="M234.5,280.7l1.7,.1-2.9-2-1.7,.6z"/><path color=#48c764 d="M279,171.1l.8,.6-1,8-.8-3.4z"/><path color=#0eabd6 d="M273.7,209.6l.6-6.5-1.5,5.8-.5,4.1z"/><path color=#3d34d2 d="M346.7,278.1l1.7,0-2.9-2.1-1.7,.5z"/><path color=#3b2bb9 d="M435.8,286l3.4-.6-2.9-.8-3.4,.2z"/><path color=#f8e812 d="M293.5,119.4l.9,7.2-1-6.5-.8-7.3z"/><path color=#1e7cf1 d="M324.5,244.4l.8,4-2.9,.8-.8-7.1z"/><path color=#0da4dd d="M273.1,216.2l.6-6.6-1.4,3.4-.6,4.1z"/><path color=#3c2dbf d="M209.7,284l5.1-.8-2.9-1.7-5.1,1z"/><path color=#f6c81f d="M285.8,137.3l.9-9.5-1,9.3-.8,7.5z"/><path color=#51c75f d="M278.1,170.5l.9,.6-1,5.2-.8-3.4z"/><path color=#f3b927 d="M300.7,148.7l.5,2.5-.9-3.8-.6-5.4z"/><path color=#3d35d2 d="M142.6,280.9l3.4-.5-2.7-7-3.5-1.4z"/><path color=#3d3cdf d="M256,274.1l1.7-1.8-2.9-1.8-1.7,1.8z"/><path color=#0c9fe2 d="M272.6,222.8l.5-6.6-1.4,.9-.6,4z"/><path color=#3b2bbb d="M186.6,285.1l5.1-.2-2.9-1.9-5.1,.4z"/><path color=#1687ef d="M323.6,240.5l.9,3.9-2.9-2.3-.9-7.1z"/><path color=#f4bb25 d="M285.3,143l.5-5.7-.9,7.3-.6,4.4z"/><path color=#f4bc25 d="M300.1,146.1l.6,2.6-1-6.7-.6-5.4z"/><path color=#3c2fc6 d="M232.9,281.6l1.6-.9-2.9-1.3-1.6,1.1z"/><path color=#3b2bba d="M411,285.5l5.1,.2-2.9-1.9-5.1,.2z"/><path color=#f2b828 d="M284.7,148.6l.6-5.6-1,6-.6,4.4z"/><path color=#3d35d4 d="M345.1,277.3l1.6,.8-2.9-1.6-1.6-1.5z"/><path color=#f5c322 d="M299.5,143.5l.6,2.6-1-9.5-.5-5.4z"/><path color=#128dec d="M322.8,234.4l.8,6.1-2.9-5.5-.8-3z"/><path color=#3b2cbe d="M387.9,284.5l5.1,.4-2.9-2.6-5.1,.2z"/><path color=#f0b62a d="M284.1,154.3l.6-5.7-1,4.8-.5,4.3z"/><path color=#f6ca1f d="M299,139.2l.5,4.3-.9-12.3-.6-1.3z"/><path color=#3e39dc d="M254.3,275.7l1.7-1.6-2.9-1.8-1.7,1.6z"/><path color=#f8e314 d="M291.3,125.4l.5-6.9-.9,1.4-.6,10.1z"/><path color=#f8e812 d="M293.2,120.3l.8,2.4-1.4-9.9-.9,3.5z"/><path color=#0f92e9 d="M321.9,228.3l.9,6.1-2.9-2.4-.9-3z"/><path color=#3c2fc5 d="M364.8,281.9l5.1,.5-2.9-1.8-5.1-.7z"/><path color=#3b2bb9 d="M455.6,286.3l3.4-.2-2.9-2-3.4,1z"/><path color=#f7d01c d="M298.4,134.9l.6,4.3-1-9.3-.5-1.3z"/><path color=#3c2dc0 d="M162.8,283.6l3.5,.5-2.9-2.5-3.4-.3z"/><path color=#f8d21b d="M290.7,132.4l.6-7-1,4.6-.5,10.2z"/><path color=#f0b62a d="M282.5,146.5l1.6,7.8-.9,3.4-1.7-3.3z"/><path color=#3e37d7 d="M343.4,276.4l1.7,.9-2.9-2.3-1.7-.3z"/><path color=#3b2bb9 d="M432.5,286.3l3.3-.3-2.9-1.2-3.3,.2z"/><path color=#f8d519 d="M297.9,130.7l.5,4.2-.9-6.3-.6-1.4z"/><path color=#f8e812 d="M292.3,117.8l.9,2.5-1.5-4-.8,3.6z"/><path color=#0d98e6 d="M321.1,222.4l.8,5.9-2.9,.7-.8-4.8z"/><path color=#f5c223 d="M290.2,139.3l.5-6.9-.9,7.8-.6,10.1z"/><path color=#f6c421 d="M303.3,143.4l.6-5.8-1.5-2.1-.5,4.6z"/><path color=#3e37d9 d="M252.6,276.5l1.7-.8-2.9-1.8-1.7,1.2z"/><path color=#f8d41a d="M297,135.4l.9-4.7-1-3.5-.8,3.3z"/><path color=#f5c222 d="M289.6,132.8l.6,6.5-1,11-.6-10.6z"/><path color=#3e36d5 d="M139.1,280.7l3.5,.2-2.8-8.9-3.4-.3z"/><path color=#0d9ee3 d="M320.3,216.5l.8,5.9-2.9,1.8-.8-4.8z"/><path color=#f4ba26 d="M302.8,149.2l.5-5.8-1.4-3.3-.6,4.6z"/><path color=#f0b62a d="M281.9,152.2l.6-5.7-1,7.9-.6,5.8z"/><path color=#3c2ec5 d="M227.8,282.8l5.1-1.2-2.9-1.1-5.1,.1z"/><path color=#f8d21b d="M289,126.4l.6,6.4-1,6.9-.5-10.7z"/><path color=#f2b828 d="M302.2,155l.6-5.8-1.5-4.5-.6,4.6z"/><path color=#e3b72e d="M281.3,157.9l.6-5.7-1,8-.5,5.7z"/><path color=#f7cd1d d="M296.2,140.1l.8-4.7-.9-4.9-.9,3.2z"/><path color=#3e38d9 d="M341.7,275.8l1.7,.6-2.9-1.7-1.7-.3z"/><path color=#0ca4de d="M319.7,212.9l.6,3.6-2.9,2.9-.6-7.4z"/><path color=#3b2cbc d="M183.1,285.2l3.5-.1-2.9-1.7-3.5,0z"/><path color=#f8e314 d="M288.5,120l.5,6.4-.9,2.6-.6-10.6z"/><path color=#3b2cbe d="M204.7,284.9l5-.9-2.9-1.5-5,.9z"/><path color=#abc33c d="M280.8,163.6l.5-5.7-.9,8-.6,5.8z"/><path color=#0eaad7 d="M319.1,209.3l.6,3.6-2.9-.9-.6-7.4z"/><path color=#3e36d6 d="M250.9,277.7l1.7-1.2-2.9-1.4-1.7,.8z"/><path color=#f7d01c d="M295.3,133.1l.9,7-1-6.4-.8-7.1z"/><path color=#3b2bb9 d="M452.2,286.4l3.4-.1-2.9-1.2-3.4-.3z"/><path color=#4fc75f d="M278.5,175.6l.6-7.5-1.5,3.6-.5,6.8z"/><path color=#10b1cd d="M318.6,205.8l.5,3.5-2.9-4.7-.5-7.4z"/><path color=#82c54b d="M279.9,165.8l.9-2.2-1,8.1-.8-.6z"/><path color=#3b2bbb d="M406,286.2l5-.7-2.9-1.5-5,.1z"/><path color=#3c2dc1 d="M159.3,283.9l3.5-.3-2.8-2.3-3.5,.2z"/><path color=#f8de16 d="M294.5,126l.8,7.1-.9-6.5-.9-7.2z"/><path color=#3e39db d="M340,275.7l1.7,.1-2.9-1.4-1.7-1.8z"/><path color=#3b2bb9 d="M429.1,286.4l3.4-.1-2.9-1.3-3.4,.3z"/><path color=#33c572 d="M278,183.2l.5-7.6-1.4,2.9-.6,6.9z"/><path color=#0d98e6 d="M272.3,231l1.7-6.5-2.9-3.4-1.7,5.6z"/><path color=#14b7b4 d="M317.7,199.2l.9,6.6-2.9-8.6-.9-2.8z"/><path color=#79c64e d="M279.1,168.1l.8-2.3-.9,5.3-.9-.6z"/><path color=#3c2dc0 d="M382.9,284.4l5,.1-2.9-2-5-.1z"/><path color=#f0b62a d="M301.6,155.3l.6-.3-1-3.8-.5-2.5z"/><path color=#1fc187 d="M277.4,190.7l.6-7.5-1.5,2.2-.6,6.8z"/><path color=#f0b62a d="M310.4,156.1l1.7-4.1-1.5-1-1.7,8.4z"/><path color=#3d35d4 d="M249.2,278.2l1.7-.5-2.9-1.8-1.7,.6z"/><path color=#f8e414 d="M288.4,129.3l.6-8.6-1.5-2.3-.6,6.3z"/><path color=#f5bf24 d="M286.2,144.6l.6-1.3-1-6-.5,5.7z"/><path color=#3e36d6 d="M135.6,280.5l3.5,.2-2.7-9-3.5-.2z"/><path color=#f1b729 d="M301.1,155.6l.5-.3-.9-6.6-.6-2.6z"/><path color=#18bca0 d="M316.9,192.7l.8,6.5-2.9-4.8-.8-2.7z"/><path color=#3c30c8 d="M359.7,281.7l5.1,.2-2.9-2-5-.3z"/><path color=#3b2bba d="M472,286.3l5-.1-2.9-1.8-5,1.1z"/><path color=#19bd9d d="M276.6,194l.8-3.3-1.5,1.5-.8,5.4z"/><path color=#f8d519 d="M287.8,137.8l.6-8.5-1.5-4.6-.5,6.3z"/><path color=#1091e9 d="M271.5,236.6l.8-5.6-2.9-4.3-.8,7.8z"/><path color=#f4ba26 d="M285.7,145.9l.5-1.3-.9-1.6-.6,5.6z"/><path color=#f2b828 d="M300.5,155.8l.6-.2-1-9.5-.6-2.6z"/><path color=#3e3bde d="M338.3,273.9l1.7,1.8-2.9-3.1-1.7-.3z"/><path color=#1ec18a d="M316.3,185.9l.6,6.8-2.9-1-.6-7.5z"/><path color=#f6c720 d="M287.3,146.3l.5-8.5-1.4-6.8-.6,6.3z"/><path color=#f2b828 d="M285.1,147.2l.6-1.3-1,2.7-.6,5.7z"/><path color=#efb52b d="M309.5,150.5l.9,5.6-1.5,3.3-.8-3.6z"/><path color=#3b2cbc d="M179.6,285.8l3.5-.6-2.9-1.8-3.5,.5z"/><path color=#15b8ae d="M275.7,197.2l.9-3.2-1.5,3.6-.8,5.5z"/><path color=#f3b927 d="M300,148.6l.5,7.2-1-12.3-.5-4.3z"/><path color=#158aed d="M270.7,242.2l.8-5.6-2.9-2.1-.8,7.8z"/><path color=#30c573 d="M315.8,179.1l.5,6.8-2.9-1.7-.5-7.5z"/><path color=#f8e812 d="M292.2,120.8l.6-3.7-1,1.4-.5,6.9z"/><path color=#3d34d2 d="M247.5,278.9l1.7-.7-2.9-1.7-1.7,1z"/><path color=#f2b828 d="M284.5,147.8l.6-.6-1,7.1-.5-2.6z"/><path color=#f5c222 d="M299.4,141.3l.6,7.3-1-9.4-.6-4.3z"/><path color=#3b2bba d="M448.8,286.6l3.4-.2-2.9-1.6-3.4,.3z"/><path color=#11b1cb d="M275.1,206.3l.6-9.1-1.4,5.9-.6,6.5z"/><path color=#4ec761 d="M315.2,172.4l.6,6.7-2.9-2.4-.6-7.6z"/><path color=#f1b729 d="M308.7,144.9l.8,5.6-1.4,5.3-.8-3.6z"/><path color=#f8df15 d="M291.7,124.6l.5-3.8-.9,4.6-.6,7z"/><path color=#3c2ec3 d="M222.7,283.4l5.1-.6-2.9-2.2-5.1,1.6z"/><path color=#f2b828 d="M284,148.3l.5-.5-.9,3.9-.6-2.6z"/><path color=#f7cd1d d="M298.8,134.1l.6,7.2-1-6.4-.5-4.2z"/><path color=#3c2dc2 d="M155.8,283.5l3.5,.4-2.8-2.4-3.5-.1z"/><path color=#3d3ee2 d="M336.6,272.4l1.7,1.5-2.9-1.6-1.7-2.1z"/><path color=#3b2bba d="M425.7,286.8l3.4-.4-2.9-1.1-3.4-.4z"/><path color=#0ea8d9 d="M274.6,215.4l.5-9.1-1.4,3.3-.6,6.6z"/><path color=#8dc547 d="M314.6,165.9l.6,6.5-2.9-3.3-.6-6z"/><path color=#f8d51a d="M291.1,128.3l.6-3.7-1,7.8-.5,6.9z"/><path color=#1c7ff1 d="M269,248l1.7-5.8-2.9,.1-1.7,8.2z"/><path color=#f3b927 d="M283.4,148.9l.6-.6-1,.8-.5-2.6z"/><path color=#f2b828 d="M307.9,149.3l.8-4.4-1.4,7.3-.9,1.1z"/><path color=#3b2cbd d="M199.6,285.4l5.1-.5-2.9-1.5-5.1,.7z"/><path color=#0c9fe2 d="M274,224.5l.6-9.1-1.5,.8-.5,6.6z"/><path color=#f7cd1d d="M298,140.3l.8-6.2-.9-3.4-.9,4.7z"/><path color=#d3bb32 d="M314.1,159.5l.5,6.4-2.9-2.8-.5-6.1z"/><path color=#f8d41a d="M290.6,126l.5,2.3-.9,11-.6-6.5z"/><path color=#3d33d0 d="M245.9,279.8l1.6-.9-2.9-1.4-1.6,.6z"/><path color=#3e37d7 d="M132.1,281.1l3.5-.6-2.7-9-3.5,.2z"/><path color=#f0b62a d="M313.5,153l.6,6.5-2.9-2.5-.6-6z"/><path color=#f1b729 d="M307,153.7l.9-4.4-1.5,4-.8,1.1z"/><path color=#f8dd16 d="M290,123.8l.6,2.2-1,6.8-.6-6.4z"/><path color=#2472f2 d="M268.1,252.8l.9-4.8-2.9,2.5-.9,1.8z"/><path color=#f5c322 d="M297.1,146.5l.9-6.2-1-4.9-.8,4.7z"/><path color=#3b2cbc d="M400.9,285.6l5.1,.6-2.9-2.1-5.1,0z"/><path color=#3d42e7 d="M334.9,269.9l1.7,2.5-2.9-2.2-1.6-1.9z"/><path color=#f8e613 d="M289.4,121.5l.6,2.3-1,2.6-.5-6.4z"/><path color=#f2b828 d="M306.5,145.4l.5,8.3-1.4,.7-.6-5.6z"/><path color=#3c2dc1 d="M377.8,284.9l5.1-.5-2.9-2-5.1,.2z"/><path color=#3b2bba d="M468.6,286.5l3.4-.2-2.9-.8-3.4,.2z"/><path color=#3b2bbb d="M176.1,286l3.5-.2-2.9-1.9-3.5,.4z"/><path color=#2a6af4 d="M267.3,257.6l.8-4.8-2.9-.5-.8,1.7z"/><path color=#f6c421 d="M296.3,139.6l.8,6.9-.9-6.4-.9-7z"/><path color=#f8e215 d="M294.6,124.2l.9,8.5-1.5-10-.8-2.4z"/><path color=#f4bd25 d="M305.9,137.1l.6,8.3-1.5,3.4-.6-5.6z"/><path color=#3d33ce d="M244.2,280l1.7-.2-2.9-1.7-1.7,.8z"/><path color=#f2b828 d="M283.3,152.8l.6-2.8-1.4-3.5-.6,5.7z"/><path color=#bfc037 d="M281.2,166l.5-5.8-.9,3.4-.6,1.5z"/><path color=#3d31cc d="M354.7,280.8l5,.9-2.8-2.1-5.1-.9z"/><path color=#3b2bba d="M445.5,286.9l3.3-.3-2.9-1.5-3.3,.4z"/><path color=#f7cb1e d="M305.3,128.8l.6,8.3-1.5,6.1-.5-5.6z"/><path color=#f0b62a d="M282.8,155.7l.5-2.9-1.4-.6-.6,5.7z"/><path color=#93c445 d="M280.6,171.8l.6-5.8-1-.9-.6,1.5z"/><path color=#f8d21b d="M295.5,132.7l.8,6.9-1-6.5-.8-7.1z"/><path color=#f8e812 d="M293.8,115.7l.8,8.5-1.4-3.9-.9-2.5z"/><path color=#3c48ee d="M333.3,266.7l1.6,3.2-2.8-1.6-1.7-2.9z"/><path color=#3b2bba d="M422.4,287l3.3-.2-2.9-1.9-3.3,.2z"/><path color=#3c2ec5 d="M152.3,283.3l3.5,.2-2.8-2.1-3.5-1.4z"/><path color=#315df2 d="M265.6,263.2l1.7-5.6-2.9-3.6-1.7,8.4z"/><path color=#f7cb1e d="M304.8,137l.5-8.2-1.4,8.8-.6,5.8z"/><path color=#ecb52c d="M282.2,158.5l.6-2.8-1.5,2.2-.5,5.7z"/><path color=#65c755 d="M280,177.7l.6-5.9-1-5.2-.5,1.5z"/><path color=#f4ba26 d="M287.2,146.2l.6,3.1-1-6-.6,1.3z"/><path color=#f5bd24 d="M304.2,145.2l.6-8.2-1.5,6.4-.5,5.8z"/><path color=#3d32cc d="M242.5,281.4l1.7-1.4-2.9-1.1-1.7,.5z"/><path color=#48c764 d="M279.5,183l.5-5.3-.9-9.6-.6,7.5z"/><path color=#3e37d7 d="M128.6,280.7l3.5,.4-2.7-9.4-3.4,.8z"/><path color=#f4bb26 d="M286.6,143.2l.6,3-1-1.6-.5,1.3z"/><path color=#f2b828 d="M303.6,153.4l.6-8.2-1.4,4-.6,5.8z"/><path color=#3c2dc1 d="M217.7,284.8l5-1.4-2.9-1.2-5,1z"/><path color=#2ec574 d="M278.9,188.3l.6-5.3-1-7.4-.5,7.6z"/><path color=#3751f0 d="M331.6,262.5l1.7,4.2-2.9-1.3-1.7-2.8z"/><path color=#f4bd25 d="M286.1,140.1l.5,3.1-.9,2.7-.6,1.3z"/><path color=#394eef d="M263.9,267.9l1.7-4.7-2.9-.8-1.7,4.7z"/><path color=#1fc189 d="M278.4,193.6l.5-5.3-.9-5.1-.6,7.5z"/><path color=#3b2cbc d="M194.6,286l5-.6-2.9-1.3-5,.8z"/><path color=#3b2bba d="M465.2,286.8l3.4-.3-2.9-.8-3.4,0z"/><path color=#f8e812 d="M293.2,116.2l.6-.5-1,1.4-.6,3.7z"/><path color=#3b2cbc d="M172.6,285.9l3.5,.1-2.9-1.7-3.4-.4z"/><path color=#f4bb25 d="M285.5,143.8l.6-3.7-1,7.1-.6,.6z"/><path color=#f0b62a d="M302,151.3l1.6,2.1-1.4,1.6-1.7,.8z"/><path color=#3d31ca d="M240.8,281.5l1.7-.1-2.9-2-1.7,1z"/><path color=#f8e812 d="M292.6,116.7l.6-.5-1,4.6-.5,3.8z"/><path color=#3d33ce d="M353,280.4l1.7,.4-2.9-2.1-1.7-.1z"/><path color=#3b2bba d="M442.1,287.1l3.4-.2-2.9-1.4-3.4-.1z"/><path color=#f3b927 d="M284.9,147.5l.6-3.7-1,4-.5,.5z"/><path color=#325af2 d="M330.7,260.1l.9,2.4-2.9,.1-.9-5.1z"/><path color=#3b2cbd d="M395.9,286.1l5-.5-2.9-1.5-5,.8z"/><path color=#f8e812 d="M292.1,117.3l.5-.6-.9,7.9-.6,3.7z"/><path color=#3b2bbb d="M419,286.6l3.4,.4-2.9-1.9-3.4,.6z"/><path color=#f2b828 d="M284.4,151.2l.5-3.7-.9,.8-.6,.6z"/><path color=#3c46eb d="M262.2,270.7l1.7-2.8-2.9-.8-1.7,2.4z"/><path color=#f2b828 d="M301.4,148.3l.6,3-1.5,4.5-.5-7.2z"/><path color=#3c2fc7 d="M148.8,283l3.5,.3-2.8-3.3-3.5,.4z"/><path color=#f6c91f d="M299.2,140.1l.6-.6-1-5.4-.5,4.1z"/><path color=#2d64f4 d="M329.9,257.8l.8,2.3-2.9-2.6-.8-5.1z"/><path color=#3c2ec2 d="M372.8,283.9l5,1-2.9-2.3-5-.2z"/><path color=#f1b729 d="M311.8,152.8l1.7,.2-1.4-1-1.7,4.1z"/><path color=#f8e712 d="M291.5,119.2l.6-1.9-1,11-.5-2.3z"/><path color=#f8df16 d="M289.8,133.8l.6-10.7-1.4-2.4-.6,8.6z"/><path color=#f4ba26 d="M300.8,145.3l.6,3-1.4,.3-.6-7.3z"/><path color=#3c30c9 d="M239.1,282.1l1.7-.6-2.9-1.1-1.7,.4z"/><path color=#f6c421 d="M298.7,140.6l.5-.5-.9-1.9-.6,4.2z"/><path color=#f8e712 d="M291,121.1l.5-1.9-.9,6.8-.6-2.2z"/><path color=#3d34d0 d="M351.3,279.8l1.7,.6-2.9-1.8-1.7-.5z"/><path color=#f7cc1e d="M289.3,144.6l.5-10.8-1.4-4.5-.6,8.5z"/><path color=#276df3 d="M329.1,252.9l.8,4.9-2.9-5.4-.8-2z"/><path color=#f5c422 d="M300.3,142.2l.5,3.1-1.4-4-.6-7.2z"/><path color=#f5c023 d="M298.1,141.1l.6-.5-1,1.8-.6,4.1z"/><path color=#f8e812 d="M290.4,123.1l.6-2-1,2.7-.6-2.3z"/><path color=#f4ba26 d="M288.7,155.3l.6-10.7-1.5-6.8-.5,8.5z"/><path color=#f2b828 d="M311,145.1l.8,7.7-1.4,3.3-.9-5.6z"/><path color=#3d41e5 d="M260.5,273.2l1.7-2.5-2.9-1.2-1.6,2.8z"/><path color=#f6c521 d="M297.3,133.7l.8,7.4-1,5.4-.8-6.9z"/><path color=#2176f2 d="M328.2,248l.9,4.9-2.9-2.5-.9-2z"/><path color=#3b2bba d="M461.8,287.3l3.4-.5-2.9-1.1-3.3,.4z"/><path color=#d0bc33 d="M282.1,167l.6-10.2-1,3.4-.5,5.8z"/><path color=#3b2cbd d="M169.1,286.1l3.5-.2-2.8-2-3.5,.2z"/><path color=#3c30c9 d="M237.4,282.5l1.7-.4-2.9-1.3-1.7-.1z"/><path color=#f4bd25 d="M310.1,137.5l.9,7.6-1.5,5.4-.8-5.6z"/><path color=#3d34d2 d="M349.6,279.5l1.7,.3-2.9-1.7-1.7,0z"/><path color=#3b2bbb d="M438.7,287.2l3.4-.1-2.9-1.7-3.4,.6z"/><path color=#73c650 d="M281.6,177.1l.5-10.1-.9-1-.6,5.8z"/><path color=#f8d31b d="M296.4,126.3l.9,7.4-1,5.9-.8-6.9z"/><path color=#1b80f1 d="M327.4,243.8l.8,4.2-2.9,.4-.8-4z"/><path color=#3c2dbf d="M212.6,286.1l5.1-1.3-2.9-1.6-5.1,.8z"/><path color=#f5bd24 d="M309.3,145.3l.8-7.8-1.4,7.4-.8,4.4z"/><path color=#41c669 d="M281,187.3l.6-10.2-1-5.3-.6,5.9z"/><path color=#3d3de0 d="M258.9,275.1l1.6-1.9-2.8-.9-1.7,1.8z"/><path color=#3c2fc7 d="M145.3,283.7l3.5-.7-2.8-2.6-3.4,.5z"/><path color=#3b2cbc d="M189.5,286.9l5.1-.9-2.9-1.1-5.1,.2z"/><path color=#1687ee d="M326.5,239.5l.9,4.3-2.9,.6-.9-3.9z"/><path color=#f2b828 d="M288.2,147.9l.5,7.4-.9-6-.6-3.1z"/><path color=#28c478 d="M280.4,190.3l.6-3-1-9.6-.5,5.3z"/><path color=#3c2fc7 d="M235.7,283.5l1.7-1-2.9-1.8-1.6,.9z"/><path color=#3b2bbb d="M413.9,287.6l5.1-1-2.9-.9-5.1-.2z"/><path color=#f2b828 d="M308.5,153l.8-7.7-1.4,4-.9,4.4z"/><path color=#f4bd25 d="M287.6,140.5l.6,7.4-1-1.7-.6-3z"/><path color=#3d35d4 d="M348,278.8l1.6,.7-2.9-1.4-1.6-.8z"/><path color=#1fc286 d="M279.9,193.4l.5-3.1-.9-7.3-.6,5.3z"/><path color=#128dec d="M325.7,234.7l.8,4.8-2.9,1-.8-6.1z"/><path color=#1ec08c d="M317.3,189.5l.6,4.3-1-1.1-.6-6.8z"/><path color=#3b2cbe d="M390.8,285.7l5.1,.4-2.9-1.2-5.1-.4z"/><path color=#f3b927 d="M307.9,142l.6,11-1.5,.7-.5-8.3z"/><path color=#f6c720 d="M287,133l.6,7.5-1,2.7-.5-3.1z"/><path color=#1bbe95 d="M279.3,196.5l.6-3.1-1-5.1-.5,5.3z"/><path color=#3e3add d="M257.2,276.8l1.7-1.7-2.9-1-1.7,1.6z"/><path color=#27c479 d="M316.7,185.2l.6,4.3-1-3.6-.5-6.8z"/><path color=#f8e314 d="M296.1,120.7l.8,2.5-1.4,9.5-.9-8.5z"/><path color=#0e94e8 d="M324.8,229.8l.9,4.9-2.9-.3-.9-6.1z"/><path color=#3c2fc5 d="M367.7,283.9l5.1,0-2.9-1.5-5.1-.5z"/><path color=#3b2bba d="M458.5,288.1l3.3-.8-2.8-1.2-3.4,.2z"/><path color=#f6c81f d="M307.3,130.9l.6,11.1-1.4,3.4-.6-8.3z"/><path color=#f6c720 d="M286.5,139.9l.5-6.9-.9,7.1-.6,3.7z"/><path color=#f1b729 d="M284.8,153.5l.5,0-1.4-3.5-.6,2.8z"/><path color=#3ec66a d="M316.2,180.9l.5,4.3-.9-6.1-.6-6.7z"/><path color=#3b2cbe d="M165.6,286.1l3.5,0-2.8-2-3.5-.5z"/><path color=#f8db17 d="M306.8,119.9l.5,11-1.4,6.2-.6-8.3z"/><path color=#f5bd24 d="M285.9,146.7l.6-6.8-1,3.9-.6,3.7z"/><path color=#3e36d7 d="M346.3,278.4l1.7,.4-2.9-1.5-1.7-.9z"/><path color=#3b2bba d="M435.4,287.7l3.3-.5-2.9-1.2-3.3,.3z"/><path color=#f1b729 d="M284.2,153.4l.6,.1-1.5-.7-.5,2.9z"/><path color=#f8e812 d="M295.2,118.3l.9,2.4-1.5,3.5-.8-8.5z"/><path color=#16baa7 d="M278.6,203.5l1.7-4.1-2.9-8.7-1.7,6.5z"/><path color=#0d99e5 d="M324,226l.8,3.8-2.9-1.5-.8-5.9z"/><path color=#57c85b d="M315.6,173.7l.6,7.2-1-8.5-.6-6.5z"/><path color=#f8dc17 d="M306.2,130.5l.6-10.6-1.5,8.9-.5,8.2z"/><path color=#f2b828 d="M285.3,153.5l.6-6.8-1,.8-.5,3.7z"/><path color=#f0b62a d="M283.7,153.4l.5,0-1.4,2.3-.6,2.8z"/><path color=#f5c322 d="M300.2,141.9l.6,3.1-1-5.5-.6,.6z"/><path color=#3e38da d="M255.5,277.9l1.7-1.1-2.9-1.1-1.7,.8z"/><path color=#adc33c d="M315,166.5l.6,7.2-1-7.8-.5-6.4z"/><path color=#0d9ee2 d="M323.2,222.1l.8,3.9-2.9-3.6-.8-5.9z"/><path color=#3c2fc7 d="M141.8,283.8l3.5-.1-2.7-2.8-3.5-.2z"/><path color=#f6c91f d="M305.7,141.1l.5-10.6-1.4,6.5-.6,8.2z"/><path color=#f6c621 d="M299.6,138.8l.6,3.1-1-1.8-.5,.5z"/><path color=#11b2c6 d="M278,210.9l.6-7.4-2.9-6.3-.6,9.1z"/><path color=#eeb42c d="M314.5,159.3l.5,7.2-.9-7-.6-6.5z"/><path color=#3c2fc5 d="M230.7,284l5-.5-2.8-1.9-5.1,1.2z"/><path color=#f3b927 d="M305.1,151.7l.6-10.6-1.5,4.1-.6,8.2z"/><path color=#3e38d9 d="M344.6,278l1.7,.4-2.9-2-1.7-.6z"/><path color=#f6c820 d="M299.1,135.8l.5,3-.9,1.8-.6,.5z"/><path color=#0ea9d8 d="M277.5,218.3l.5-7.4-2.9-4.6-.5,9.1z"/><path color=#0da4de d="M322.3,217.2l.9,4.9-2.9-5.6-.9-5.4z"/><path color=#3b2cbc d="M186,287.3l3.5-.4-2.9-1.8-3.5,.1z"/><path color=#3b2cbe d="M207.6,286.7l5-.6-2.9-2.1-5,.9z"/><path color=#f0b62a d="M313.6,157.5l.9,1.8-1-6.3-.8-.1z"/><path color=#0c9fe2 d="M276.9,225.7l.6-7.4-2.9-2.9-.6,9.1z"/><path color=#3e37d7 d="M253.8,278.9l1.7-1-2.9-1.4-1.7,1.2z"/><path color=#f8d11b d="M298.2,127.9l.9,7.9-1,5.3-.8-7.4z"/><path color=#f8de16 d="M290.8,132l.6-8.8-1-.1-.6,10.7z"/><path color=#0eaad7 d="M321.5,212.3l.8,4.9-2.9-6.1-.8-5.3z"/><path color=#3b2bba d="M455.1,287.8l3.4,.3-2.9-1.8-3.4,.1z"/><path color=#f2b828 d="M303.4,146.9l1.7,4.8-1.5,1.7-1.6-2.1z"/><path color=#e1b72f d="M283.1,167.9l.6-14.5-1,3.4-.6,10.2z"/><path color=#f0b62a d="M312.8,155.8l.8,1.7-.9-4.6-.9-.1z"/><path color=#f7cb1e d="M290.2,140.9l.6-8.9-1,1.8-.5,10.8z"/><path color=#3b2bbb d="M408.9,287.6l5,0-2.9-2.1-5,.7z"/><path color=#3c2dc0 d="M162.1,286.1l3.5,0-2.8-2.5-3.5,.3z"/><path color=#57c85b d="M282.5,182.4l.6-14.5-1-.9-.5,10.1z"/><path color=#f8e015 d="M297.4,120l.8,7.9-.9,5.8-.9-7.4z"/><path color=#3e39db d="M342.9,277.1l1.7,.9-2.9-2.2-1.7-.1z"/><path color=#3b2bba d="M432,287.7l3.4,0-2.9-1.4-3.4,.1z"/><path color=#0d98e6 d="M275.2,230.9l1.7-5.2-2.9-1.2-1.7,6.5z"/><path color=#11b2c9 d="M320.6,204.1l.9,8.2-2.9-6.5-.9-6.6z"/><path color=#f3b927 d="M289.7,149.8l.5-8.9-.9,3.7-.6,10.7z"/><path color=#3c2dbf d="M385.8,286.6l5-.9-2.9-1.2-5-.1z"/><path color=#f3b927 d="M302.8,148l.6-1.1-1.4,4.4-.6-3z"/><path color=#25c47a d="M282,196.9l.5-14.5-.9-5.3-.6,10.2z"/><path color=#3d35d4 d="M252.1,279.8l1.7-.9-2.9-1.2-1.7,.5z"/><path color=#f3b927 d="M289.1,145.7l.6,4.1-1,5.5-.5-7.4z"/><path color=#17baa6 d="M319.8,195.8l.8,8.3-2.9-4.9-.8-6.5z"/><path color=#3c30c7 d="M362.6,283.6l5.1,.3-2.9-2-5.1-.2z"/><path color=#f3b927 d="M302.3,149.2l.5-1.2-1.4,.3-.6-3z"/><path color=#1bbf94 d="M281.4,197.7l.6-.8-1-9.6-.6,3z"/><path color=#3c30c9 d="M138.3,283.3l3.5,.5-2.7-3.1-3.5-.2z"/><path color=#3b2cbc d="M474.9,287.5l5-.3-2.9-1-5,.1z"/><path color=#0f92e9 d="M274.4,235.3l.8-4.4-2.9,.1-.8,5.6z"/><path color=#f5bf24 d="M288.6,141.6l.5,4.1-.9,2.2-.6-7.4z"/><path color=#f4ba26 d="M301.7,150.4l.6-1.2-1.5-3.9-.5-3.1z"/><path color=#1abd9b d="M280.9,198.6l.5-.9-1-7.4-.5,3.1z"/><path color=#3e3bde d="M341.2,275.7l1.7,1.4-2.9-1.4-1.7-1.8z"/><path color=#1cbf92 d="M318.3,193l.5,1.8-.9-1-.6-4.3z"/><path color=#f7cb1e d="M288,137.5l.6,4.1-1-1.1-.6-7.5z"/><path color=#f2b828 d="M312.4,151.4l.9,5.9-1.5-4.5-.8-7.7z"/><path color=#3b2bbb d="M182.5,287.9l3.5-.6-2.9-2.1-3.5,.6z"/><path color=#18bba2 d="M280.3,199.4l.6-.8-1-5.2-.6,3.1z"/><path color=#138cec d="M273.6,239.8l.8-4.5-2.9,1.3-.8,5.6z"/><path color=#1fc287 d="M317.7,191.2l.6,1.8-1-3.5-.6-4.3z"/><path color=#3d35d3 d="M250.4,280.2l1.7-.4-2.9-1.6-1.7,.7z"/><path color=#3b2bbb d="M451.7,287.4l3.4,.4-2.9-1.4-3.4,.2z"/><path color=#23c47b d="M317.1,189.4l.6,1.8-1-6-.5-4.3z"/><path color=#f5be24 d="M311.6,145.6l.8,5.8-1.4-6.3-.9-7.6z"/><path color=#f8e812 d="M295,130.7l1.7-9.9-2.9-5.1-1.7,1.6z"/><path color=#3c2ec4 d="M225.6,285.4l5.1-1.4-2.9-1.2-5.1,.6z"/><path color=#1687ee d="M272.7,244.4l.9-4.6-2.9,2.4-.9,2.9z"/><path color=#3d3ee2 d="M339.5,274.2l1.7,1.5-2.9-1.8-1.7-1.5z"/><path color=#3b2bbb d="M428.6,287.8l3.4-.1-2.9-1.3-3.4,.4z"/><path color=#39c66e d="M316.6,181.4l.5,8-.9-8.5-.6-7.2z"/><path color=#3c2dc1 d="M158.6,286.2l3.5-.1-2.8-2.2-3.5-.4z"/><path color=#f3b927 d="M308.9,145.3l.5,8.4-.9-.7-.6-11z"/><path color=#f5be24 d="M310.8,149.8l.8-4.2-1.5-8.1-.8,7.8z"/><path color=#3b2cbd d="M202.5,287.2l5.1-.5-2.9-1.8-5.1,.5z"/><path color=#f4bd25 d="M301.2,143.7l.5,6.7-.9-5.4-.6-3.1z"/><path color=#1a81f0 d="M271.9,248.9l.8-4.5-2.9,.7-.8,2.9z"/><path color=#57c85a d="M316,173.5l.6,7.9-1-7.7-.6-7.2z"/><path color=#3d34d1 d="M248.8,281l1.6-.8-2.9-1.3-1.6,.9z"/><path color=#f6ca1f d="M308.3,136.9l.6,8.4-1-3.3-.6-11.1z"/><path color=#f6c820 d="M287.9,146.5l.6-6.7-1.5-6.8-.5,6.9z"/><path color=#f0b62a d="M285.5,159.4l.8-1.7-1-4.2-.8-.1z"/><path color=#f6c720 d="M300.6,137.1l.6,6.6-1-1.8-.6-3.1z"/><path color=#b7c238 d="M315.4,165.6l.6,7.9-1-7-.5-7.2z"/><path color=#f2b828 d="M309.9,154.1l.9-4.3-1.5-4.5-.8,7.7z"/><path color=#f8e812 d="M293.3,123.3l1.7,7.4-2.9-13.4-1.7,5.8z"/><path color=#3d31ca d="M134.8,283.2l3.5,.1-2.7-2.8-3.5,.6z"/><path color=#f8dd16 d="M307.7,128.5l.6,8.4-1-6-.5-11z"/><path color=#f4bb26 d="M287.4,153.1l.5-6.6-1.4-6.6-.6,6.8z"/><path color=#2177f2 d="M271,253l.9-4.1-2.9-.9-.9,4.8z"/><path color=#3b2cbc d="M403.8,288.2l5.1-.6-2.9-1.4-5.1-.6z"/><path color=#f7d01c d="M300,130.4l.6,6.7-1,1.7-.5-3z"/><path color=#3d42e6 d="M337.8,272.6l1.7,1.6-2.9-1.8-1.7-2.5z"/><path color=#f0b62a d="M284.6,161l.9-1.6-1-6-.8,0z"/><path color=#e7b62e d="M314.6,162.2l.8,3.4-.9-6.3-.9-1.8z"/><path color=#f8de16 d="M307.2,134.5l.5-6-.9-8.6-.6,10.6z"/><path color=#f1b729 d="M286.8,159.8l.6-6.7-1.5-6.4-.6,6.8z"/><path color=#3c2dc0 d="M380.7,286.2l5.1,.4-2.9-2.2-5.1,.5z"/><path color=#3b2cbc d="M471.5,287.9l3.4-.4-2.9-1.2-3.4,.2z"/><path color=#3b2bbb d="M178.9,288l3.6-.1-2.9-2.1-3.5,.2z"/><path color=#286cf3 d="M270.2,257.2l.8-4.2-2.9-.2-.8,4.8z"/><path color=#f8dd16 d="M299.2,122.1l.8,8.3-.9,5.4-.9-7.9z"/><path color=#f8e812 d="M297.5,117.2l.9-3.5-1.5,9.5-.8-2.5z"/><path color=#f8e115 d="M291.8,130.2l.5-6.9-.9-.1-.6,8.8z"/><path color=#3d33cf d="M247.1,282l1.7-1-2.9-1.2-1.7,.2z"/><path color=#f7ce1d d="M306.6,140.4l.6-5.9-1-4-.5,10.6z"/><path color=#d3bb32 d="M284.1,171.1l.5-10.1-.9-7.6-.6,14.5z"/><path color=#efb52b d="M313.8,158.8l.8,3.4-1-4.7-.8-1.7z"/><path color=#3d31cb d="M357.6,282.6l5,1-2.9-1.9-5-.9z"/><path color=#3b2bbc d="M448.4,288.1l3.3-.7-2.9-.8-3.3,.3z"/><path color=#f8d11b d="M291.2,137.2l.6-7-1,1.8-.6,8.9z"/><path color=#f5be24 d="M306.1,146.4l.5-6-.9,.7-.6,10.6z"/><path color=#2e62f3 d="M269.3,261.5l.9-4.3-2.9,.4-.9,2.8z"/><path color=#51c75f d="M283.5,181.2l.6-10.1-1-3.2-.6,14.5z"/><path color=#f8e812 d="M298.4,113.7l.8,8.4-1,5.8-.8-7.9z"/><path color=#f8e812 d="M296.7,120.8l.8-3.6-1.4,3.5-.9-2.4z"/><path color=#3c47ed d="M336.2,269.3l1.6,3.3-2.9-2.7-1.6-3.2z"/><path color=#3b2bbb d="M425.3,288.3l3.3-.5-2.9-1-3.3,.2z"/><path color=#f5c222 d="M290.6,144.2l.6-7-1,3.7-.5,8.9z"/><path color=#3c2dc2 d="M155.1,286l3.5,.2-2.8-2.7-3.5-.2z"/><path color=#21c37e d="M282.9,191.3l.6-10.1-1,1.2-.5,14.5z"/><path color=#3359f1 d="M268.5,265.7l.8-4.2-2.9-1.1-.8,2.8z"/><path color=#f4bd25 d="M290.1,143.5l.5,.7-.9,5.6-.6-4.1z"/><path color=#3d32cd d="M245.4,282.2l1.7-.2-2.9-2-1.7,1.4z"/><path color=#f4ba26 d="M304.4,144.7l1.7,1.7-1,5.3-1.7-4.8z"/><path color=#f5c123 d="M289.5,142.8l.6,.7-1,2.2-.5-4.1z"/><path color=#3d31cb d="M131.3,283.5l3.5-.3-2.7-2.1-3.5-.4z"/><path color=#3c2dc2 d="M220.6,286.6l5-1.2-2.9-2-5,1.4z"/><path color=#1abd9b d="M281.3,195l1.6-3.7-.9,5.6-1.7,2.5z"/><path color=#1abe99 d="M319.2,196.5l.6-.7-1-1-.5-1.8z"/><path color=#3751f0 d="M334.5,264.9l1.7,4.4-2.9-2.6-1.7-4.2z"/><path color=#f6c620 d="M289,142l.5,.8-.9-1.2-.6-4.1z"/><path color=#3850f0 d="M266.8,268l1.7-2.3-2.9-2.5-1.7,4.7z"/><path color=#3b2cbd d="M197.5,287.8l5-.6-2.9-1.8-5,.6z"/><path color=#1bbe96 d="M318.7,197.2l.5-.7-.9-3.5-.6-1.8z"/><path color=#3b2cbc d="M468.1,287.8l3.4,.1-2.9-1.4-3.4,.3z"/><path color=#3b2cbc d="M175.4,288.3l3.5-.3-2.8-2-3.5-.1z"/><path color=#3d32cc d="M243.7,282.6l1.7-.4-2.9-.8-1.7,.1z"/><path color=#1bbf94 d="M318.1,197.9l.6-.7-1-6-.6-1.8z"/><path color=#3d32ce d="M355.9,282.8l1.7-.2-2.9-1.8-1.7-.4z"/><path color=#3b2bbc d="M445,288.2l3.4-.1-2.9-1.2-3.4,.2z"/><path color=#3b2cbd d="M398.8,287.8l5,.4-2.9-2.6-5,.5z"/><path color=#20c283 d="M317.5,189.2l.6,8.7-1-8.5-.5-8z"/><path color=#315cf2 d="M332.8,261.3l1.7,3.6-2.9-2.4-1.7-4.7z"/><path color=#3b2bbb d="M421.9,288.6l3.4-.3-2.9-1.3-3.4-.4z"/><path color=#f3b927 d="M309.8,148.7l.6,5.8-1-.8-.5-8.4z"/><path color=#3c47ed d="M265.1,273.2l1.7-5.2-2.9-.1-1.7,2.8z"/><path color=#3c2ec3 d="M151.5,286.5l3.6-.5-2.8-2.7-3.5-.3z"/><path color=#3cc66c d="M317,180.5l.5,8.7-.9-7.8-.6-7.9z"/><path color=#3c2dc2 d="M375.6,286.4l5.1-.2-2.9-1.3-5-1z"/><path color=#f5c222 d="M309.3,142.9l.5,5.8-.9-3.4-.6-8.4z"/><path color=#3d31cb d="M242,283.5l1.7-.9-2.9-1.1-1.7,.6z"/><path color=#ecb42c d="M286.4,165.3l.9-3.4-1-4.2-.8,1.7z"/><path color=#18bca1 d="M281.2,196.3l.5-3.5-1.4,6.6-.6,1.4z"/><path color=#6ac753 d="M316.4,171.8l.6,8.7-1-7-.6-7.9z"/><path color=#3d33d0 d="M354.2,281.9l1.7,.9-2.9-2.4-1.7-.6z"/><path color=#f7d01c d="M308.7,137.1l.6,5.8-1-6-.6-8.4z"/><path color=#2c67f4 d="M331.9,259.1l.9,2.2-2.9-3.5-.8-4.9z"/><path color=#16baaa d="M280.6,199.9l.6-3.6-1.5,4.5-.5,1.4z"/><path color=#d5ba31 d="M285.6,168.7l.8-3.4-.9-5.9-.9,1.6z"/><path color=#bac138 d="M315.6,166.8l.8,5-1-6.2-.8-3.4z"/><path color=#f0b62a d="M313.9,157.7l.8,4.1-1.4-4.5-.9-5.9z"/><path color=#f8d31a d="M308.1,138.4l.6-1.3-1-8.6-.5,6z"/><path color=#3d42e6 d="M263.4,274.8l1.7-1.6-2.9-2.5-1.7,2.5z"/><path color=#f8e314 d="M300.4,125.5l.6,0-1,4.9-.5-5.5z"/><path color=#14b7b5 d="M280.1,203.4l.5-3.5-1.4,2.3-.6,1.3z"/><path color=#2570f3 d="M331.1,256.8l.8,2.3-2.8-6.2-.9-4.9z"/><path color=#3b2cbc d="M464.7,288.4l3.4-.6-2.9-1-3.4,.5z"/><path color=#f8e414 d="M292.7,128.4l.6-5.1-1,0-.5,6.9z"/><path color=#f7cc1e d="M307.6,139.8l.5-1.4-.9-3.9-.6,5.9z"/><path color=#9fc441 d="M285,174.3l.6-5.6-1-7.7-.5,10.1z"/><path color=#3d31ca d="M240.3,283.9l1.7-.4-2.9-1.4-1.7,.4z"/><path color=#3b2cbc d="M171.9,288.2l3.5,.1-2.8-2.4-3.5,.2z"/><path color=#f8e812 d="M299.9,125.5l.5,0-.9-.6-.6-5.6z"/><path color=#e2b72f d="M314.7,161.8l.9,5-1-4.6-.8-3.4z"/><path color=#11b1cb d="M279.5,209.4l.6-6-1.5,.1-.6,7.4z"/><path color=#f2b828 d="M313,153.6l.9,4.1-1.5-6.3-.8-5.8z"/><path color=#f8d818 d="M292.2,133.6l.5-5.2-.9,1.8-.6,7z"/><path color=#3d34d1 d="M352.5,282.4l1.7-.5-2.9-2.1-1.7-.3z"/><path color=#3b2cbc d="M441.6,288.8l3.4-.6-2.9-1.1-3.4,.1z"/><path color=#1f7af1 d="M330.5,251.2l.6,5.6-2.9-8.8-.6-2.8z"/><path color=#f6c521 d="M307,141.2l.6-1.4-1,.6-.5,6z"/><path color=#4fc760 d="M284.5,180l.5-5.7-.9-3.2-.6,10.1z"/><path color=#f8e812 d="M299.3,125.5l.6,0-1-6.2-.5-5.6z"/><path color=#0ea9d8 d="M278.9,215.5l.6-6.1-1.5,1.5-.5,7.4z"/><path color=#3c2dc0 d="M215.5,287.4l5.1-.8-2.9-1.8-5.1,1.3z"/><path color=#f7cc1e d="M291.6,138.7l.6-5.1-1,3.6-.6,7z"/><path color=#1884f0 d="M330,245.5l.5,5.7-2.9-6-.5-2.8z"/><path color=#f3b927 d="M312.2,154.4l.8-.8-1.4-8-.8,4.2z"/><path color=#30c573 d="M283.9,185.6l.6-5.6-1,1.2-.6,10.1z"/><path color=#3d3ee2 d="M261.8,276.2l1.6-1.4-2.9-1.6-1.6,1.9z"/><path color=#0ca1e0 d="M278.4,221.6l.5-6.1-1.4,2.8-.6,7.4z"/><path color=#3b2cbc d="M192.4,289.2l5.1-1.4-2.9-1.8-5.1,.9z"/><path color=#f8e812 d="M298.5,129.5l.8-4-.9-11.8-.9,3.5z"/><path color=#f6c521 d="M291.1,141.3l.5-2.6-1,5.5-.5-.7z"/><path color=#3c2ec4 d="M148,286l3.5,.5-2.7-3.5-3.5,.7z"/><path color=#f4bd25 d="M289.4,153.1l.5-6.6-1.4-6.7-.6,6.7z"/><path color=#158aed d="M329.4,239.9l.6,5.6-2.9-3.1-.6-2.9z"/><path color=#f5c222 d="M305.3,142.6l1.7-1.4-.9,5.2-1.7-1.7z"/><path color=#3c30c8 d="M238.6,284.5l1.7-.6-2.9-1.4-1.7,1z"/><path color=#3b2cbc d="M416.8,288.7l5.1-.1-2.9-2-5.1,1z"/><path color=#f2b828 d="M311.4,155.2l.8-.8-1.4-4.6-.9,4.3z"/><path color=#0d9ce4 d="M277.5,226.7l.9-5.1-1.5,4.1-.8,2.6z"/><path color=#f5c422 d="M290.5,143.9l.6-2.6-1,2.2-.6-.7z"/><path color=#3d35d3 d="M350.8,280.9l1.7,1.5-2.9-2.9-1.6-.7z"/><path color=#f2b828 d="M288.8,159.6l.6-6.5-1.5-6.6-.5,6.6z"/><path color=#1fc286 d="M282.2,190.6l1.7-5-1,5.7-1.6,3.7z"/><path color=#f8e613 d="M297.6,133.6l.9-4.1-1-12.3-.8,3.6z"/><path color=#128eeb d="M328.6,239.5l.8,.4-2.9-.4-.8-4.8z"/><path color=#19bd9c d="M320.2,195.6l.5,2.5-.9-2.3-.6,.7z"/><path color=#3b2cbf d="M393.7,287.8l5.1,0-2.9-1.7-5.1-.4z"/><path color=#f5c222 d="M289.9,146.5l.6-2.6-1-1.1-.5-.8z"/><path color=#efb52b d="M288.2,166.1l.6-6.5-1.4-6.5-.6,6.7z"/><path color=#f5bf24 d="M305.7,146.2l.6-5.7-2.9,6.4-.6,1.1z"/><path color=#0d98e6 d="M276.7,231.9l.8-5.2-1.4,1.6-.9,2.6z"/><path color=#3e3bde d="M260.1,278.2l1.7-2-2.9-1.1-1.7,1.7z"/><path color=#1abe98 d="M319.6,193.1l.6,2.5-1,.9-.5,.7z"/><path color=#f8e115 d="M297.1,133.9l.5-.3-.9-12.8-.6,3.3z"/><path color=#1091e9 d="M327.7,239l.9,.5-2.9-4.8-.9-4.9z"/><path color=#3c2ec5 d="M370.6,285.7l5,.7-2.8-2.5-5.1,0z"/><path color=#3b2cbc d="M461.4,288.2l3.3,.2-2.9-1.1-3.3,.8z"/><path color=#f4ba26 d="M305.2,152l.5-5.8-2.9,1.8-.5,1.2z"/><path color=#1bbe95 d="M319.1,190.6l.5,2.5-.9,4.1-.6,.7z"/><path color=#f8dd16 d="M296.5,134.2l.6-.3-1-9.8-.6,3.3z"/><path color=#3b2cbd d="M168.4,288.6l3.5-.4-2.8-2.1-3.5,0z"/><path color=#3e36d6 d="M349.2,280.4l1.6,.5-2.8-2.1-1.7-.4z"/><path color=#3b2bbb d="M438.3,289.1l3.3-.3-2.9-1.6-3.3,.5z"/><path color=#0e95e7 d="M327.2,233.5l.5,5.5-2.9-9.2-.5-2.6z"/><path color=#f2b828 d="M304.6,157.7l.6-5.7-2.9-2.8-.6,1.2z"/><path color=#20c284 d="M318.5,183.8l.6,6.8-1,7.3-.6-8.7z"/><path color=#f8da18 d="M295.9,134.5l.6-.3-1-6.8-.5,3.3z"/><path color=#f2b828 d="M310.8,152l.6,3.2-1-.7-.6-5.8z"/><path color=#0d99e5 d="M326.6,228l.6,5.5-2.9-6.3-.6-2.5z"/><path color=#f4ba26 d="M304.1,143.7l.5,14-2.9-7.3-.5-6.7z"/><path color=#3e39db d="M258.4,279.4l1.7-1.2-2.9-1.4-1.7,1.1z"/><path color=#39c66e d="M317.9,177l.6,6.8-1,5.4-.5-8.7z"/><path color=#f4ba26 d="M310.2,148.8l.6,3.2-1-3.3-.5-5.8z"/><path color=#0d9ee3 d="M326,222.4l.6,5.6-2.9-3.3-.5-2.6z"/><path color=#3c2ec4 d="M144.5,286.6l3.5-.6-2.7-2.3-3.5,.1z"/><path color=#c3bf36 d="M287.4,171.2l.8-5.1-.9-4.2-.9,3.4z"/><path color=#f7cd1d d="M303.5,129.7l.6,14-2.9,0-.6-6.6z"/><path color=#58c85a d="M317.4,170.2l.5,6.8-.9,3.5-.6-8.7z"/><path color=#3c2fc7 d="M233.6,285.6l5-1.1-2.9-1-5,.5z"/><path color=#f8dd16 d="M294.3,132l1.6,2.5-.9-3.8-1.7-7.4z"/><path color=#f5c322 d="M309.7,145.6l.5,3.2-.9-5.9-.6-5.8z"/><path color=#3e37d8 d="M347.5,279.9l1.7,.5-2.9-2-1.7-.4z"/><path color=#f8e115 d="M302.9,115.7l.6,14-2.9,7.4-.6-6.7z"/><path color=#0ca2e0 d="M325.2,218.8l.8,3.6-2.8-.3-.9-4.9z"/><path color=#3b2bbb d="M188.9,289.1l3.5,.1-2.9-2.3-3.5,.4z"/><path color=#3b2cbe d="M210.5,288.2l5-.8-2.9-1.3-5,.6z"/><path color=#92c446 d="M286.6,176.3l.8-5.1-1-5.9-.8,3.4z"/><path color=#f6c81f d="M309.1,142.4l.6,3.2-1-8.5-.6,1.3z"/><path color=#f8e812 d="M301.4,126.2l.6-5.6-1,4.9-.6,0z"/><path color=#3e37d8 d="M256.7,280.3l1.7-.9-2.9-1.5-1.7,1z"/><path color=#f8dd17 d="M293.4,135.9l.9-3.9-1-8.7-.8,7.7z"/><path color=#f6ca1f d="M308.5,139.2l.6,3.2-1-4-.5,1.4z"/><path color=#0da7da d="M324.4,215.2l.8,3.6-2.9-1.6-.8-4.9z"/><path color=#3b2cbd d="M458,288.3l3.4-.1-2.9-.1-3.4-.3z"/><path color=#61c757 d="M286,177.6l.6-1.3-1-7.6-.6,5.6z"/><path color=#f8e314 d="M300.8,131.7l.6-5.5-1-.7-.5,0z"/><path color=#3b2cbc d="M411.8,289.6l5-.9-2.9-1.1-5,0z"/><path color=#f7cc1e d="M308,135.9l.5,3.3-.9,.6-.6,1.4z"/><path color=#4dc761 d="M285.4,178.8l.6-1.2-1-3.3-.5,5.7z"/><path color=#3e39db d="M345.8,278.9l1.7,1-2.9-1.9-1.7-.9z"/><path color=#3b2cbc d="M434.9,289l3.4,.1-2.9-1.4-3.4,0z"/><path color=#3b2cbe d="M164.9,288.8l3.5-.2-2.8-2.5-3.5,0z"/><path color=#f8de16 d="M300.3,137.3l.5-5.6-.9-6.2-.6,0z"/><path color=#f8d11b d="M292.6,139.9l.8-4-.9-4.9-.9,7.7z"/><path color=#0faed2 d="M323.5,208.9l.9,6.3-2.9-2.9-.9-8.2z"/><path color=#a3c340 d="M317,169.1l.9,.2-1.5,2.5-.8-5z"/><path color=#3c2dc0 d="M388.7,288.3l5-.5-2.9-2.1-5,.9z"/><path color=#40c669 d="M284.9,180l.5-1.2-.9,1.2-.6,5.6z"/><path color=#3e36d6 d="M255,281l1.7-.7-2.9-1.4-1.7,.9z"/><path color=#f8d719 d="M299.4,141.8l.9-4.5-1-11.8-.8,4z"/><path color=#f6ca1f d="M306.3,140.5l1.7-4.6-1,5.3-1.7,1.4z"/><path color=#14b7b5 d="M322.7,202.7l.8,6.2-2.9-4.8-.8-8.3z"/><path color=#3c2fc7 d="M365.5,285.6l5.1,.1-2.9-1.8-5.1-.3z"/><path color=#1fc188 d="M282.6,191.9l.6-5.7-1.5,6.6-.5,3.5z"/><path color=#c1c036 d="M316.2,168.8l.8,.3-1.4-2.3-.9-5z"/><path color=#3c2ec2 d="M477.7,285.6l5.1-.5-2.9,2.1-5,.3z"/><path color=#3c2ec5 d="M141,286.7l3.5-.1-2.7-2.8-3.5-.5z"/><path color=#0e93e8 d="M277.3,238.2l.8-5.3-2.9-2-.8,4.4z"/><path color=#2ec575 d="M283.2,186.2l1.7-6.2-1,5.6-1.7,5z"/><path color=#f7cf1c d="M298.6,146.3l.8-4.5-.9-12.3-.9,4.1z"/><path color=#3e3bde d="M344.1,278.2l1.7,.7-2.9-1.8-1.7-1.4z"/><path color=#1abd99 d="M282.1,197.6l.5-5.7-1.4,4.4-.6,3.6z"/><path color=#19bd9c d="M321.2,194.7l.5,5.7-1-2.3-.5-2.5z"/><path color=#e4b72e d="M315.6,162.1l.6,6.7-1.5-7-.5-2.7z"/><path color=#f3b927 d="M313.2,148.2l.8,2-1,3.4-.8,.8z"/><path color=#3b2bbb d="M185.3,289.6l3.6-.5-2.9-1.8-3.5,.6z"/><path color=#16b9ab d="M281.5,203.2l.6-5.6-1.5,2.3-.5,3.5z"/><path color=#128eeb d="M276.4,243.5l.9-5.3-2.9-2.9-.8,4.5z"/><path color=#1dc08d d="M320.6,189l.6,5.7-1,.9-.6-2.5z"/><path color=#f7cc1e d="M298,143.6l.6,2.7-1-12.7-.5,.3z"/><path color=#f0b62a d="M315.1,155.3l.5,6.8-1.4-3-.6-2.7z"/><path color=#3d35d4 d="M253.3,281.8l1.7-.8-2.9-1.2-1.7,.4z"/><path color=#3b2cbe d="M454.6,289l3.4-.7-2.9-.5-3.4-.4z"/><path color=#12b3c3 d="M280.9,208l.6-4.8-1.4,.2-.6,6z"/><path color=#22c47d d="M320,183.3l.6,5.7-1,4.1-.5-2.5z"/><path color=#f7ce1d d="M297.5,140.9l.5,2.7-.9-9.7-.6,.3z"/><path color=#f3b927 d="M312.3,146.3l.9,1.9-1,6.2-.8,.8z"/><path color=#f2b828 d="M314.5,148.5l.6,6.8-1.5,1.1-.6-2.8z"/><path color=#3c2ec4 d="M228.5,287.4l5.1-1.8-2.9-1.6-5.1,1.4z"/><path color=#1588ee d="M275.6,246.3l.8-2.8-2.8-3.7-.9,4.6z"/><path color=#3d3ee1 d="M342.4,276.8l1.7,1.4-2.9-2.5-1.7-1.5z"/><path color=#3b2cbd d="M431.5,289.2l3.4-.2-2.9-1.3-3.4,.1z"/><path color=#0fadd4 d="M280.4,212.7l.5-4.7-1.4,1.4-.6,6.1z"/><path color=#35c570 d="M319.5,178.4l.5,4.9-.9,7.3-.6-6.8z"/><path color=#f7d11c d="M296.9,138.2l.6,2.7-1-6.7-.6,.3z"/><path color=#3b2cbe d="M161.3,289.4l3.6-.6-2.8-2.7-3.5,.1z"/><path color=#3b2cbe d="M205.4,288.8l5.1-.6-2.9-1.5-5.1,.5z"/><path color=#f4ba26 d="M311.5,144.9l.8,1.4-.9,8.9-.9-4.8z"/><path color=#0da6db d="M279.8,217.4l.6-4.7-1.5,2.8-.5,6.1z"/><path color=#1884f0 d="M274.8,249.1l.8-2.8-2.9-1.9-.8,4.5z"/><path color=#4dc761 d="M318.9,173.4l.6,5-1,5.4-.6-6.8z"/><path color=#3d35d2 d="M251.6,282.6l1.7-.8-2.9-1.6-1.6,.8z"/><path color=#81c54b d="M318.3,168.5l.6,4.9-1,3.6-.5-6.8z"/><path color=#f8d21b d="M295.2,140.6l1.7-2.4-1-3.7-1.6-2.5z"/><path color=#f5bf24 d="M310.6,143.5l.9,1.4-1,5.5-.8-4.8z"/><path color=#0ca0e1 d="M279,225.1l.8-7.7-1.4,4.2-.9,5.1z"/><path color=#1f7af1 d="M273.9,254.9l.9-5.8-2.9-.2-.9,4.1z"/><path color=#3b2cbc d="M406.7,289.1l5.1,.5-2.9-2-5.1,.6z"/><path color=#3c2fc6 d="M137.5,286.8l3.5-.1-2.7-3.4-3.5-.1z"/><path color=#3d41e6 d="M340.7,274.2l1.7,2.6-2.9-2.6-1.7-1.6z"/><path color=#3c2dc0 d="M383.6,288.1l5.1,.2-2.9-1.7-5.1-.4z"/><path color=#3c2dc2 d="M474.4,286.2l3.3-.6-2.8,1.9-3.4,.4z"/><path color=#0d99e5 d="M278.1,232.9l.9-7.8-1.5,1.6-.8,5.2z"/><path color=#f8e812 d="M302.4,126.9l.5-11.2-.9,4.9-.6,5.6z"/><path color=#3b2bbb d="M181.8,290l3.5-.4-2.8-1.7-3.6,.1z"/><path color=#276df3 d="M273.1,260.6l.8-5.7-2.9-1.9-.8,4.2z"/><path color=#3d34d0 d="M250,283.2l1.6-.6-2.8-1.6-1.7,1z"/><path color=#f7d01c d="M294.4,140.9l.8-.3-.9-8.6-.9,3.9z"/><path color=#f8de16 d="M301.8,138l.6-11.1-1-.7-.6,5.5z"/><path color=#3d31ca d="M360.5,284.9l5,.7-2.9-2-5-1z"/><path color=#3b2cbe d="M451.3,289.2l3.3-.2-2.9-1.6-3.3,.7z"/><path color=#2e63f3 d="M272.2,262.3l.9-1.7-2.9-3.4-.9,4.3z"/><path color=#f7cd1d d="M301.2,149.1l.6-11.1-1-6.3-.5,5.6z"/><path color=#f7cc1e d="M293.5,141.1l.9-.2-1-5-.8,4z"/><path color=#3c46ec d="M339.1,271.4l1.6,2.8-2.9-1.6-1.6-3.3z"/><path color=#3b2cbd d="M428.1,289.3l3.4-.1-2.9-1.4-3.3,.5z"/><path color=#3b2cbf d="M157.8,289l3.5,.4-2.7-3.2-3.5-.2z"/><path color=#f6c620 d="M310.3,142.4l.8,0-1.4,3.2-.9-4.8z"/><path color=#325cf2 d="M271.4,264.1l.8-1.8-2.9-.8-.8,4.2z"/><path color=#f5c123 d="M300.4,154.1l.8-5-.9-11.8-.9,4.5z"/><path color=#3d33cf d="M248.3,283.9l1.7-.7-2.9-1.2-1.7,.2z"/><path color=#f6c621 d="M293.7,148.3l.8-5.9-2.9-3.7-.8,3.9z"/><path color=#f7cb1e d="M309.4,142.4l.9,0-1.5-1.6-.8-4.9z"/><path color=#3c2dc2 d="M223.5,288l5-.6-2.9-2-5,1.2z"/><path color=#f3b927 d="M299.6,159l.8-4.9-1-12.3-.8,4.5z"/><path color=#19bd9d d="M322.1,193.8l.6,8.9-1-2.3-.5-5.7z"/><path color=#3c2fc7 d="M134,287.3l3.5-.5-2.7-3.6-3.5,.3z"/><path color=#f4bc25 d="M292.8,154.2l.9-5.9-2.9-5.7-.9,3.9z"/><path color=#3850f0 d="M337.4,266.3l1.7,5.1-2.9-2.1-1.7-4.4z"/><path color=#3752f0 d="M269.7,271l1.7-6.9-2.9,1.6-1.7,2.3z"/><path color=#f5be24 d="M314.1,142.1l.9,4.7-1,3.4-.8-2z"/><path color=#f7ce1d d="M308.9,140l.5,2.4-1.4-6.5-.6,1.5z"/><path color=#3b2cbd d="M200.4,289.9l5-1.1-2.9-1.6-5,.6z"/><path color=#21c381 d="M321.6,184.9l.5,8.9-.9,.9-.6-5.7z"/><path color=#3c2ec2 d="M471,286.3l3.4-.1-2.9,1.7-3.4-.1z"/><path color=#f3b927 d="M299,153.4l.6,5.6-1-12.7-.6-2.7z"/><path color=#f2b828 d="M292.3,158.6l.5-4.4-2.9-7.7-.5,6.6z"/><path color=#3b2bbb d="M178.3,290l3.5,0-2.9-2-3.5,.3z"/><path color=#f7cf1c d="M308.3,137.6l.6,2.4-1.5-2.6-.5,1.6z"/><path color=#3d32ce d="M246.6,284.3l1.7-.4-2.9-1.7-1.7,.4z"/><path color=#3ac66d d="M321,176l.6,8.9-1,4.1-.6-5.7z"/><path color=#f5bf24 d="M298.4,147.7l.6,5.7-1-9.8-.5-2.7z"/><path color=#f6c521 d="M313.3,137.3l.8,4.8-.9,6.1-.9-1.9z"/><path color=#3d32cd d="M358.8,284.9l1.7,0-2.9-2.3-1.7,.2z"/><path color=#3b2cbe d="M447.9,289.3l3.4-.1-2.9-1.1-3.4,.1z"/><path color=#f0b62a d="M291.7,163l.6-4.4-2.9-5.5-.6,6.5z"/><path color=#f7d01c d="M307.8,135.2l.5,2.4-1.4,1.4-.6,1.5z"/><path color=#3b2cbe d="M401.7,288.9l5,.2-2.9-.9-5-.4z"/><path color=#51c75e d="M320.4,173l.6,3-1,7.3-.5-4.9z"/><path color=#f6c820 d="M297.9,142l.5,5.7-.9-6.8-.6-2.7z"/><path color=#315cf2 d="M335.7,261l1.7,5.3-2.9-1.4-1.7-3.6z"/><path color=#3b2cbd d="M424.8,289.4l3.3-.1-2.8-1-3.4,.3z"/><path color=#b0c33b d="M318.5,171.3l.8-4.5-1.4,2.5-.9-.2z"/><path color=#e1b72f d="M291.1,167.4l.6-4.4-2.9-3.4-.6,6.5z"/><path color=#3c48ed d="M268,273.8l1.7-2.8-2.9-3-1.7,5.2z"/><path color=#f6c81f d="M312.4,139.3l.9-2-1,9-.8-1.4z"/><path color=#f6c91f d="M307.2,143.3l.6-8.1-1.5,5.3-.6,5.7z"/><path color=#f3b927 d="M305,147.9l.6,10.9-1-1.1-.5-14z"/><path color=#76c64f d="M319.9,169.9l.5,3.1-.9,5.4-.6-5z"/><path color=#3c2dc2 d="M378.5,287.9l5.1,.2-2.9-1.9-5.1,.2z"/><path color=#3c2dc0 d="M154.3,288.8l3.5,.2-2.7-3-3.6,.5z"/><path color=#f4bc25 d="M306.6,151.3l.6-8-1.5,2.9-.5,5.8z"/><path color=#3d32cc d="M244.9,285l1.7-.7-2.9-1.7-1.7,.9z"/><path color=#a5c33f d="M290.3,175.2l.8-7.8-2.9-1.3-.8,5.1z"/><path color=#f7cd1d d="M304.5,137l.5,10.9-.9-4.2-.6-14z"/><path color=#20c283 d="M284.1,196.6l.5-6.4-1.4-4-.6,5.7z"/><path color=#95c444 d="M317.6,175.9l.9-4.6-1.5-2.2-.8-.3z"/><path color=#aac33d d="M319.3,166.8l.6,3.1-1,3.5-.6-4.9z"/><path color=#f6c720 d="M296.2,149.3l1.7-7.3-1-3.8-1.7,2.4z"/><path color=#f6c820 d="M311.6,141.3l.8-2-.9,5.6-.9-1.4z"/><path color=#3d33ce d="M357.1,284.3l1.7,.6-2.9-2.1-1.7-.9z"/><path color=#f1b729 d="M306.1,159.4l.5-8.1-1.4,.7-.6,5.7z"/><path color=#f8e613 d="M303.9,126.1l.6,10.9-1-7.3-.6-14z"/><path color=#1abd99 d="M283.5,203.1l.6-6.5-1.5-4.7-.5,5.7z"/><path color=#bec037 d="M317.1,165l.5,10.9-1.4-7.1-.6-6.7z"/><path color=#57c85b d="M289.5,183l.8-7.8-2.9-4-.8,5.1z"/><path color=#2a6af4 d="M334,254.5l1.7,6.5-2.9,.3-1.7-4.5z"/><path color=#3d42e7 d="M266.3,276.4l1.7-2.6-2.9-.6-1.7,1.6z"/><path color=#f8e812 d="M303.3,134.7l.6-8.6-1-10.4-.5,11.2z"/><path color=#14b7b2 d="M283,209.5l.5-6.4-1.4-5.5-.6,5.6z"/><path color=#3c2ec3 d="M467.6,286.2l3.4,.1-2.9,1.5-3.4,.6z"/><path color=#f0b62a d="M316.5,154.2l.6,10.8-1.5-2.9-.5-6.8z"/><path color=#f6c421 d="M295.4,145.8l.8,3.5-1-8.7-.8,.3z"/><path color=#3d31ca d="M243.2,285.9l1.7-.9-2.9-1.5-1.7,.4z"/><path color=#f8d51a d="M302.8,143.2l.5-8.5-.9-7.8-.6,11.1z"/><path color=#3b2bbb d="M174.7,290.6l3.6-.6-2.9-1.7-3.5-.1z"/><path color=#10b0d0 d="M282.1,216.8l.9-7.3-1.5-6.3-.8,7.1z"/><path color=#f4ba26 d="M315.9,143.4l.6,10.8-1.4,1.1-.6-6.8z"/><path color=#3d34d0 d="M355.4,283.2l1.7,1.1-2.9-2.4-1.7,.5z"/><path color=#3b2cbe d="M444.5,288.9l3.4,.4-2.9-1.1-3.4,.6z"/><path color=#2177f2 d="M333.4,250.8l.6,3.7-2.9,2.3-.6-5.6z"/><path color=#45c766 d="M287.8,184.6l1.7-1.6-2.9-6.7-1.7,3.7z"/><path color=#f5c222 d="M302.2,151.8l.6-8.6-1-5.2-.6,11.1z"/><path color=#3c2dc1 d="M218.4,288.6l5.1-.6-2.9-1.4-5.1,.8z"/><path color=#f6c820 d="M294.5,142.4l.9,3.4-1-4.9-.9,.2z"/><path color=#1983f0 d="M332.9,247.2l.5,3.6-2.9,.4-.5-5.7z"/><path color=#0da7da d="M281.3,224.2l.8-7.4-1.4-6.5-.9,7.1z"/><path color=#3d3fe2 d="M264.7,278.6l1.6-2.2-2.9-1.6-1.6,1.4z"/><path color=#3b2cbc d="M195.3,290.4l5.1-.5-2.9-2.1-5.1,1.4z"/><path color=#1589ed d="M332.3,243.6l.6,3.6-2.9-1.7-.6-5.6z"/><path color=#3c2dc1 d="M150.8,289.4l3.5-.6-2.8-2.3-3.5-.5z"/><path color=#3c30c9 d="M241.5,286.4l1.7-.5-2.9-2-1.7,.6z"/><path color=#38c66e d="M286.9,189.4l.9-4.8-2.9-4.6-.9,3.1z"/><path color=#3b2cbe d="M419.7,289.6l5.1-.2-2.9-.8-5.1,.1z"/><path color=#0c9fe2 d="M280.4,229.8l.9-5.6-1.5-6.8-.8,7.7z"/><path color=#3d34d2 d="M353.7,283.7l1.7-.5-2.9-.8-1.7-1.5z"/><path color=#128eeb d="M331.5,238.4l.8,5.2-2.9-3.7-.8-.4z"/><path color=#0facd5 d="M325,212.4l.8,4.4-1.4-1.6-.9-6.3z"/><path color=#3c2dbf d="M396.6,289.4l5.1-.5-2.9-1.1-5.1,0z"/><path color=#28c478 d="M286.1,194.2l.8-4.8-2.9-6.3-.8,3.1z"/><path color=#f6c91f d="M315.1,135.9l.8,7.5-.9,3.4-.9-4.7z"/><path color=#0d98e6 d="M279.6,235.5l.8-5.7-1.4-4.7-.9,7.8z"/><path color=#3e3cdf d="M263,279.8l1.7-1.2-2.9-2.4-1.7,2z"/><path color=#1091e9 d="M330.6,233.2l.9,5.2-2.9,1.1-.9-.5z"/><path color=#3c2ec4 d="M373.5,287.6l5,.3-2.9-1.5-5-.7z"/><path color=#3c2ec3 d="M464.3,286.5l3.3-.3-2.9,2.2-3.3-.2z"/><path color=#11b2c7 d="M324.1,208.1l.9,4.3-1.5-3.5-.8-6.2z"/><path color=#3d34d1 d="M479.2,281.6l5-.6-1.4,4.1-5.1,.5z"/><path color=#f8d51a d="M314.3,128.4l.8,7.5-1,6.2-.8-4.8z"/><path color=#3b2bbc d="M171.2,290.8l3.5-.2-2.8-2.4-3.5,.4z"/><path color=#3e36d5 d="M352.1,282.5l1.6,1.2-2.9-2.8-1.6-.5z"/><path color=#3b2cbe d="M441.2,289.9l3.3-1-2.9-.1-3.3,.3z"/><path color=#0e95e7 d="M330.1,229.2l.5,4-2.9,5.8-.5-5.5z"/><path color=#17bba4 d="M323.6,197.4l.5,10.7-1.4-5.4-.6-8.9z"/><path color=#f8d819 d="M313.4,133.8l.9-5.4-1,8.9-.9,2z"/><path color=#0d9ae4 d="M329.5,225.3l.6,3.9-2.9,4.3-.6-5.5z"/><path color=#f6c91f d="M311.7,144l.9-4.8-1.5,3.2-.8,0z"/><path color=#f2b828 d="M306,152.1l.5,7.8-.9-1.1-.6-10.9z"/><path color=#21c37e d="M323,186.7l.6,10.7-1.5-3.6-.5-8.9z"/><path color=#3e39db d="M261.3,281.1l1.7-1.3-2.9-1.6-1.7,1.2z"/><path color=#0ca0e1 d="M328.9,221.3l.6,4-2.9,2.7-.6-5.6z"/><path color=#f5c322 d="M305.4,144.3l.6,7.8-1-4.2-.5-10.9z"/><path color=#47c765 d="M322.4,175.9l.6,10.8-1.4-1.8-.6-8.9z"/><path color=#3c2dc1 d="M147.3,289.2l3.5,.2-2.8-3.4-3.5,.6z"/><path color=#3c2fc7 d="M236.5,287.5l5-1.1-2.9-1.9-5,1.1z"/><path color=#f7d01c d="M312.6,139.2l.8-5.4-1,5.5-.8,2z"/><path color=#f6c521 d="M310.9,148.8l.8-4.8-1.4-1.6-.9,0z"/><path color=#3e37d8 d="M350.4,282l1.7,.5-2.9-2.1-1.7-.5z"/><path color=#f8d51a d="M304.9,136.5l.5,7.8-.9-7.3-.6-10.9z"/><path color=#3b2bbb d="M191.8,291.1l3.5-.7-2.9-1.2-3.5-.1z"/><path color=#3c2dc0 d="M213.4,289.8l5-1.2-2.9-1.2-5,.8z"/><path color=#f6c720 d="M310.3,142.5l.6,6.3-1.5-6.4-.5-2.4z"/><path color=#0da5dc d="M327.3,218.3l1.6,3-2.9,1.1-1.6-7.2z"/><path color=#f8d719 d="M304.3,142.5l.6-6-1-10.4-.6,8.6z"/><path color=#3e37d9 d="M259.6,282.4l1.7-1.3-2.9-1.7-1.7,.9z"/><path color=#f6c620 d="M298.5,143.5l.8,.8-1.4-2.3-.9,3.6z"/><path color=#3c2ec4 d="M460.9,286.3l3.4,.2-2.9,1.7-3.4,.1z"/><path color=#f7cf1c d="M309.8,136.2l.5,6.3-1.4-2.5-.6-2.4z"/><path color=#f6c91f d="M303.7,148.4l.6-5.9-1-7.8-.5,8.5z"/><path color=#3b2cbd d="M414.7,290.5l5-.9-2.9-.9-5,.9z"/><path color=#f8d818 d="M309.2,130l.6,6.2-1.5,1.4-.5-2.4z"/><path color=#3e38da d="M348.7,281l1.7,1-2.9-2.1-1.7-1z"/><path color=#3b2cbe d="M437.8,289.9l3.4,0-2.9-.8-3.4-.1z"/><path color=#f4bb25 d="M303.2,154.4l.5-6-.9-5.2-.6,8.6z"/><path color=#f5c322 d="M297.6,142.7l.9,.8-1.5,2.1-.8,3.7z"/><path color=#3b2cbc d="M167.7,290.7l3.5,.1-2.8-2.2-3.5,.2z"/><path color=#3c2dc0 d="M391.6,289.7l5-.3-2.9-1.6-5,.5z"/><path color=#f8d31a d="M308.6,140.3l.6-10.3-1.4,5.2-.6,8.1z"/><path color=#3d34d0 d="M475.8,282.1l3.4-.5-1.5,4-3.3,.6z"/><path color=#3e36d6 d="M257.9,282.9l1.7-.5-2.9-2.1-1.7,.7z"/><path color=#f2b828 d="M303.3,155l.8,2.1-2.9-8-.8,5z"/><path color=#3c2fc7 d="M368.4,287.3l5.1,.3-2.9-1.9-5.1-.1z"/><path color=#f5c123 d="M308.1,150.7l.5-10.4-1.4,3-.6,8z"/><path color=#1dbf90 d="M285.5,201.4l.6-7.2-1.5-4-.5,6.4z"/><path color=#f6c620 d="M296,141.8l1.6,.9-1.4,6.6-1.7-6.9z"/><path color=#1091e9 d="M280.2,242.5l.8-4.4-2.9-5.2-.8,5.3z"/><path color=#3c2dc1 d="M143.7,289.6l3.6-.4-2.8-2.6-3.5,.1z"/><path color=#f2b828 d="M307.5,161l.6-10.3-1.5,.6-.5,8.1z"/><path color=#f2b828 d="M302.5,152.9l.8,2.1-2.9-.9-.8,4.9z"/><path color=#3e3add d="M347,280l1.7,1-2.9-2.1-1.7-.7z"/><path color=#16baaa d="M285,208.6l.5-7.2-1.4-4.8-.6,6.5z"/><path color=#f6ca1f d="M316.1,143l.8,3.3-1-2.9-.8-7.5z"/><path color=#3b2bbb d="M188.2,290.9l3.6,.2-2.9-2-3.6,.5z"/><path color=#11b2ca d="M284.4,215.7l.6-7.1-1.5-5.5-.5,6.4z"/><path color=#138bec d="M279.3,246.8l.9-4.3-2.9-4.3-.9,5.3z"/><path color=#f2b828 d="M301.9,150.8l.6,2.1-2.9,6.1-.6-5.6z"/><path color=#3e36d5 d="M256.2,283.5l1.7-.6-2.9-1.9-1.7,.8z"/><path color=#f6c521 d="M295.4,147.8l.6-6-1.5,.6-.6,3.9z"/><path color=#3c2ec4 d="M457.5,287.2l3.4-.9-2.9,2-3.4,.7z"/><path color=#f4ba26 d="M301.3,148.7l.6,2.1-2.9,2.6-.6-5.7z"/><path color=#f8d41a d="M315.2,139.8l.9,3.2-1-7.1-.8-7.5z"/><path color=#0ea9d8 d="M283.6,223.4l.8-7.7-1.4-6.2-.9,7.3z"/><path color=#f4bc25 d="M294.8,153.7l.6-5.9-1.5-1.5-.5,3.9z"/><path color=#3c2ec4 d="M231.4,289l5.1-1.5-2.9-1.9-5.1,1.8z"/><path color=#3d3de0 d="M345.3,278.8l1.7,1.2-2.9-1.8-1.7-1.4z"/><path color=#3b2cbe d="M434.4,290.5l3.4-.6-2.9-.9-3.4,.2z"/><path color=#f5c222 d="M300.8,146.7l.5,2-2.9-1-.5-5.7z"/><path color=#1785ef d="M277.7,252.3l1.6-5.5-2.9-3.3-1.6,5.6z"/><path color=#8ec547 d="M323,168.8l.9,7-2.9,.2-.8-4.6z"/><path color=#f8d918 d="M314.7,138.3l.5,1.5-.9-11.4-.6,3.6z"/><path color=#f2b828 d="M294.3,159.6l.5-5.9-1.4-3.5-.6,4z"/><path color=#3b2cbc d="M164.1,291.5l3.6-.8-2.8-1.9-3.6,.6z"/><path color=#3b2cbf d="M208.3,290.4l5.1-.6-2.9-1.6-5.1,.6z"/><path color=#0ca0e1 d="M282.7,231l.9-7.6-1.5-6.6-.8,7.4z"/><path color=#f1b729 d="M307,156.3l.5,4.7-1-1.1-.5-7.8z"/><path color=#3d34d0 d="M472.5,282l3.3,.1-1.4,4.1-3.4,.1z"/><path color=#3d35d3 d="M254.5,284.5l1.7-1-2.9-1.7-1.7,.8z"/><path color=#f8d719 d="M314.1,136.7l.6,1.6-1-6.3-.6,3.6z"/><path color=#f0b62a d="M293.4,165.4l.9-5.8-1.5-5.4-.8,6.6z"/><path color=#a0c340 d="M291.3,173.8l.8-3.9-1-2.5-.8,7.8z"/><path color=#f4ba26 d="M306.4,151.6l.6,4.7-1-4.2-.6-7.8z"/><path color=#d0bc33 d="M322.2,161.8l.8,7-2.8,2.6-.9-4.6z"/><path color=#0d9ae4 d="M281.9,234.5l.8-3.5-1.4-6.8-.9,5.6z"/><path color=#f8d51a d="M313.5,135.2l.6,1.5-1-1.1-.5,3.6z"/><path color=#1f7af1 d="M276.8,256.7l.9-4.4-2.9-3.2-.9,5.8z"/><path color=#3b2cbe d="M409.6,290.1l5.1,.4-2.9-.9-5.1-.5z"/><path color=#f6c521 d="M305.8,146.9l.6,4.7-1-7.3-.5-7.8z"/><path color=#3d41e5 d="M343.6,276.5l1.7,2.3-2.9-2-1.7-2.6z"/><path color=#3c2dc1 d="M140.2,290.3l3.5-.7-2.7-2.9-3.5,.1z"/><path color=#0eaad7 d="M326.4,215.9l.9,2.4-1.5-1.5-.8-4.4z"/><path color=#d9b931 d="M292.6,171.1l.8-5.7-1.4-4.6-.9,6.6z"/><path color=#58c85a d="M290.4,177.8l.9-4-1,1.4-.8,7.8z"/><path color=#d5ba31 d="M321.4,166.7l.8-4.9-2.9,5-.8,4.5z"/><path color=#3c2dc1 d="M386.5,289l5.1,.7-2.9-1.4-5.1-.2z"/><path color=#0e95e7 d="M281,238.1l.9-3.6-1.5-4.7-.8,5.7z"/><path color=#f6c720 d="M305.3,150.3l.5-3.4-.9-10.4-.6,6z"/><path color=#3b2bbb d="M184.7,291.9l3.5-1-2.9-1.3-3.5,.4z"/><path color=#286df3 d="M276,261.2l.8-4.5-2.9-1.8-.8,5.7z"/><path color=#3d34d1 d="M252.9,285.2l1.6-.7-2.9-1.9-1.6,.6z"/><path color=#0faed2 d="M325.6,213.5l.8,2.4-1.4-3.5-.9-4.3z"/><path color=#48c764 d="M289.9,180.7l.5-2.9-.9,5.2-.6,.5z"/><path color=#f5be24 d="M304.7,153.7l.6-3.4-1-7.8-.6,5.9z"/><path color=#a5c33f d="M320.5,171.6l.9-4.9-2.9,4.6-.9,4.6z"/><path color=#3d31ca d="M363.4,286.6l5,.7-2.9-1.7-5-.7z"/><path color=#3c2ec4 d="M454.2,287.2l3.3,0-2.9,1.8-3.3,.2z"/><path color=#3d3cdf d="M480.6,277.6l5.1-.6-1.5,4-5,.6z"/><path color=#41c668 d="M289.3,183.7l.6-3-1,2.8-.6,.6z"/><path color=#14b7b3 d="M325,200.9l.6,12.6-1.5-5.4-.5-10.7z"/><path color=#f3b927 d="M304.1,157.1l.6-3.4-1-5.3-.5,6z"/><path color=#3c46ec d="M341.9,273l1.7,3.5-2.9-2.3-1.6-2.8z"/><path color=#3b2cbf d="M431,290.2l3.4,.3-2.9-1.3-3.4,.1z"/><path color=#bdc137 d="M320,165.1l.5,6.5-2.9,4.3-.5-10.9z"/><path color=#2f60f3 d="M274.3,267.7l1.7-6.5-2.9-.6-1.7,3.5z"/><path color=#3bc66d d="M288.7,186.7l.6-3-1,.4-.5,.5z"/><path color=#f8d11b d="M313.2,138.5l.8-5.3-1.4,6-.9,4.8z"/><path color=#20c285 d="M324.5,188.4l.5,12.5-1.4-3.5-.6-10.7z"/><path color=#3b2cbc d="M160.6,291.9l3.5-.4-2.8-2.1-3.5-.4z"/><path color=#3d34d1 d="M469.1,282.4l3.4-.4-1.5,4.3-3.4-.1z"/><path color=#f0b62a d="M319.4,158.6l.6,6.5-2.9-.1-.6-10.8z"/><path color=#3d33cf d="M251.2,285.9l1.7-.7-2.9-2-1.7,.7z"/><path color=#48c764 d="M323.9,175.8l.6,12.6-1.5-1.7-.6-10.8z"/><path color=#f3b927 d="M318.8,152l.6,6.6-2.9-4.4-.6-10.8z"/><path color=#f6c820 d="M312.3,143.8l.9-5.3-1.5,5.5-.8,4.8z"/><path color=#3c2dc2 d="M226.4,290l5-1-2.9-1.6-5,.6z"/><path color=#3850f0 d="M340.3,269.5l1.6,3.5-2.8-1.6-1.7-5.1z"/><path color=#3c2dc1 d="M136.7,290.4l3.5-.1-2.7-3.5-3.5,.5z"/><path color=#3752f0 d="M272.6,273.2l1.7-5.5-2.9-3.6-1.7,6.9z"/><path color=#f5c123 d="M317,150.1l.9-1-1-2.8-.8-3.3z"/><path color=#f6c81f d="M311.8,139.2l.5,4.6-1.4,5-.6-6.3z"/><path color=#f8da17 d="M309.6,137.1l.6-7.2-1,.1-.6,10.3z"/><path color=#3b2cbe d="M203.3,291.1l5-.7-2.9-1.6-5,1.1z"/><path color=#f6c820 d="M299.9,141.4l.9,5.3-1.5-2.4-.8-.8z"/><path color=#f8d31a d="M311.2,134.6l.6,4.6-1.5,3.3-.5-6.3z"/><path color=#3b2bbb d="M181.1,292.4l3.6-.5-2.9-1.9-3.5,0z"/><path color=#3d32ce d="M249.5,286.3l1.7-.4-2.9-2-1.7,.4z"/><path color=#f6c91f d="M309,144.3l.6-7.2-1,3.2-.5,10.4z"/><path color=#2bc577 d="M288.4,194l.8-6.2-1.4-3.2-.9,4.8z"/><path color=#f5c422 d="M316.2,151.1l.8-1-.9-7.1-.9-3.2z"/><path color=#3d32cc d="M361.7,286.5l1.7,.1-2.9-1.7-1.7,0z"/><path color=#3c2ec4 d="M450.8,287.4l3.4-.2-2.9,2-3.4,.1z"/><path color=#f8de16 d="M310.6,129.9l.6,4.7-1.4,1.6-.6-6.2z"/><path color=#f4ba26 d="M308.5,151.6l.5-7.3-.9,6.4-.6,10.3z"/><path color=#3c2dc0 d="M404.6,290.1l5,0-2.9-1-5-.2z"/><path color=#f7ce1d d="M299.1,136.1l.8,5.3-1.4,2.1-.9-.8z"/><path color=#315df2 d="M338.6,262.9l1.7,6.6-2.9-3.2-1.7-5.3z"/><path color=#3c2dc0 d="M427.7,290.7l3.3-.5-2.9-.9-3.3,.1z"/><path color=#f6c91f d="M315.6,144.5l.6,6.6-1-11.3-.5-1.5z"/><path color=#1fc189 d="M287.5,200.3l.9-6.3-1.5-4.6-.8,4.8z"/><path color=#3c47ed d="M270.9,276.6l1.7-3.4-2.9-2.2-1.7,2.8z"/><path color=#3e3cdf d="M477.3,278l3.3-.4-1.4,4-3.4,.5z"/><path color=#f3b927 d="M307.6,148.1l.9,3.5-1,9.4-.8-7z"/><path color=#3c2ec3 d="M381.4,289.4l5.1-.4-2.9-.9-5.1-.2z"/><path color=#3d34d1 d="M465.7,282.6l3.4-.2-1.5,3.8-3.3,.3z"/><path color=#f8d11b d="M315.1,137.9l.5,6.6-.9-6.2-.6-1.6z"/><path color=#3b2cbc d="M157.1,292.5l3.5-.6-2.8-2.9-3.5-.2z"/><path color=#3d32cc d="M247.8,287.2l1.7-.9-2.9-2-1.7,.7z"/><path color=#a1c340 d="M292.2,172.4l.9-.1-1-2.4-.8,3.9z"/><path color=#18bc9f d="M287,206l.5-5.7-1.4-6.1-.6,7.2z"/><path color=#3d33ce d="M360,285.6l1.7,.9-2.9-1.6-1.7-.6z"/><path color=#f7cf1c d="M297.4,141.3l1.7-5.2-1.5,6.6-1.6-.9z"/><path color=#f8d918 d="M314.5,131.2l.6,6.7-1-1.2-.6-1.5z"/><path color=#f5bf23 d="M306.8,144.6l.8,3.5-.9,5.9-.9-7.1z"/><path color=#13b5bb d="M286.4,211.8l.6-5.8-1.5-4.6-.5,7.2z"/><path color=#0d98e6 d="M331.2,232.4l.9,5.2-1.5-4.4-.8-6z"/><path color=#88c549 d="M291.4,172.6l.8-.2-.9,1.4-.9,4z"/><path color=#276df3 d="M336.9,256.6l1.7,6.3-2.9-1.9-1.7-6.5z"/><path color=#3d42e7 d="M269.2,278.6l1.7-2-2.9-2.8-1.7,2.6z"/><path color=#0faed3 d="M285.8,217.5l.6-5.7-1.4-3.2-.6,7.1z"/><path color=#f5c123 d="M306,146.2l.8-1.6-1,2.3-.8,5.1z"/><path color=#f6c620 d="M296.8,149.2l.6-7.9-1.4,.5-.6,6z"/><path color=#0d9ee2 d="M330.4,227.1l.8,5.3-1.4-5.2-.9-5.9z"/><path color=#61c757 d="M290.8,178l.6-5.4-1,5.2-.5,2.9z"/><path color=#3d31ca d="M246.1,287.6l1.7-.4-2.9-2.2-1.7,.9z"/><path color=#3b2bbb d="M177.6,292.4l3.5,0-2.8-2.4-3.6,.6z"/><path color=#0da6db d="M285,221.6l.8-4.1-1.4-1.8-.8,7.7z"/><path color=#3d34d1 d="M358.3,285.4l1.7,.2-2.9-1.3-1.7-1.1z"/><path color=#3c2ec5 d="M447.4,288.2l3.4-.8-2.9,1.9-3.4-.4z"/><path color=#f4ba26 d="M296.3,157.2l.5-8-1.4-1.4-.6,5.9z"/><path color=#4ac763 d="M290.3,183.4l.5-5.4-.9,2.7-.6,3z"/><path color=#f4bb26 d="M305.1,147.9l.9-1.7-1,5.8-.9,5.1z"/><path color=#1d7df1 d="M336.1,250.7l.8,5.9-2.9-2.1-.8-5.5z"/><path color=#0ca3df d="M329.5,222.9l.9,4.2-1.5-5.8-.8-1.5z"/><path color=#3c2dc1 d="M221.3,291.3l5.1-1.3-2.9-2-5.1,.6z"/><path color=#f1b729 d="M295.7,165.1l.6-7.9-1.5-3.5-.5,5.9z"/><path color=#39c66d d="M289.7,188.8l.6-5.4-1,.3-.6,3z"/><path color=#0ca0e1 d="M284.2,225.6l.8-4-1.4,1.8-.9,7.6z"/><path color=#3d3ee2 d="M267.5,280.2l1.7-1.6-2.9-2.2-1.6,2.2z"/><path color=#f4ba26 d="M304.5,149.1l.6-1.2-1,9.2-.5-1.4z"/><path color=#3d3cdf d="M473.9,277.7l3.4,.3-1.5,4.1-3.3-.1z"/><path color=#3b2cbc d="M198.2,292.4l5.1-1.3-2.9-1.2-5.1,.5z"/><path color=#1688ee d="M335.2,244.8l.9,5.9-2.9-1.7-.9-5.4z"/><path color=#0da6db d="M328.7,218.7l.8,4.2-1.4-3.1-.8-1.5z"/><path color=#3d34d2 d="M462.3,282.5l3.4,.1-1.4,3.9-3.4-.2z"/><path color=#ecb52c d="M294.9,169.9l.8-4.8-1.4-5.5-.9,5.8z"/><path color=#3b2cbd d="M153.5,292.3l3.6,.2-2.8-3.7-3.5,.6z"/><path color=#3d31ca d="M244.4,287.1l1.7,.5-2.9-1.7-1.7,.5z"/><path color=#f4ba26 d="M304,150.3l.5-1.2-.9,6.6-.6-1.4z"/><path color=#3c2dc0 d="M422.6,291.1l5.1-.4-2.9-1.3-5.1,.2z"/><path color=#0d9be4 d="M283.3,229.9l.9-4.3-1.5,5.4-.8,3.5z"/><path color=#3d35d2 d="M356.6,285l1.7,.4-2.9-2.2-1.7,.5z"/><path color=#128deb d="M334.4,243.4l.8,1.4-2.9-1.2-.8-5.2z"/><path color=#0eaad7 d="M328.1,214.7l.6,4-1.4-.4-.6-1.6z"/><path color=#14b7b5 d="M326,200.5l.5,8.5-.9,4.5-.6-12.6z"/><path color=#f4ba26 d="M303.4,151.6l.6-1.3-1,4-.5-1.4z"/><path color=#3c2dc1 d="M399.5,290.9l5.1-.8-2.9-1.2-5.1,.5z"/><path color=#bcc137 d="M294,174.7l.9-4.8-1.5-4.5-.8,5.7z"/><path color=#f4ba26 d="M318,157.3l.8-5.3-.9-2.9-.9,1z"/><path color=#f8df16 d="M310.6,133.9l.5-4-.9,0-.6,7.2z"/><path color=#0e97e6 d="M282.5,234.1l.8-4.2-1.4,4.6-.9,3.6z"/><path color=#0fadd3 d="M327.6,210.7l.5,4-1.4,2-.6-1.6z"/><path color=#3e3bde d="M265.9,282l1.6-1.8-2.8-1.6-1.7,1.2z"/><path color=#1ec18a d="M325.4,192l.6,8.5-1,.4-.5-12.5z"/><path color=#1091e9 d="M333.5,242.1l.9,1.3-2.9-5-.9-5.2z"/><path color=#3c2ec5 d="M376.4,289.2l5,.2-2.9-1.5-5-.3z"/><path color=#f8d41a d="M310,138l.6-4.1-1,3.2-.6,7.2z"/><path color=#10b0cf d="M327,206.8l.6,3.9-1.5,4.4-.5-1.6z"/><path color=#3dc66b d="M324.9,183.6l.5,8.4-.9-3.6-.6-12.6z"/><path color=#f2b828 d="M317.1,162.5l.9-5.2-1-7.2-.8,1z"/><path color=#0f93e9 d="M281.9,238.4l.6-4.3-1.5,4-.5,2.9z"/><path color=#3d35d4 d="M355,284.3l1.6,.7-2.9-1.3-1.6-1.2z"/><path color=#3c2ec5 d="M444,288l3.4,.2-2.9,.7-3.3,1z"/><path color=#3b2bba d="M174,293.8l3.6-1.4-2.9-1.8-3.5,.2z"/><path color=#f6c91f d="M309.4,142.1l.6-4.1-1,6.3-.5,7.3z"/><path color=#118eeb d="M281.4,242.7l.5-4.3-1.4,2.6-.6,2.9z"/><path color=#76c64f d="M324,176.1l.9,7.5-1-7.8-.9-7z"/><path color=#f4ba26 d="M316.6,150.8l.5,11.7-.9-11.4-.6-6.6z"/><path color=#f8de16 d="M314.6,133.1l.9-5.8-1.5,5.9-.8,5.3z"/><path color=#3e39db d="M264.2,283.3l1.7-1.3-2.9-2.2-1.7,1.3z"/><path color=#f6c521 d="M308.6,142.2l.8-.1-.9,9.5-.9-3.5z"/><path color=#148aed d="M280.8,247.1l.6-4.4-1.5,1.2-.6,2.9z"/><path color=#3d3cdf d="M470.5,278.6l3.4-.9-1.4,4.3-3.4,.4z"/><path color=#f7cb1e d="M316,139l.6,11.8-1-6.3-.5-6.6z"/><path color=#3d34d2 d="M459,283.1l3.3-.6-1.4,3.8-3.4,.9z"/><path color=#a2c340 d="M293.2,171l.8,3.7-.9-2.4-.9,.1z"/><path color=#ccbd34 d="M323.2,168.7l.8,7.4-1-7.3-.8-7z"/><path color=#3c30c8 d="M239.4,289.4l5-2.3-2.9-.7-5,1.1z"/><path color=#f8d41a d="M313.8,138.9l.8-5.8-1.4,5.4-.9,5.3z"/><path color=#3b2cbd d="M150,292.4l3.5-.1-2.7-2.9-3.5-.2z"/><path color=#f8dd16 d="M315.5,127.3l.5,11.7-.9-1.1-.6-6.7z"/><path color=#f6c91f d="M307.8,142.3l.8-.1-1,5.9-.8-3.5z"/><path color=#3e37d7 d="M353.3,283.7l1.7,.6-2.9-1.8-1.7-.5z"/><path color=#3b2bbc d="M194.6,292.4l3.6,0-2.9-2-3.5,.7z"/><path color=#3c2dbf d="M216.3,291.9l5-.6-2.9-2.7-5,1.2z"/><path color=#b9c238 d="M292.3,167.4l.9,3.6-1,1.4-.8,.2z"/><path color=#e1b72f d="M322.3,169.5l.9-.8-1-6.9-.8,4.9z"/><path color=#f8d21b d="M313.2,135.9l.6,3-1.5,4.9-.5-4.6z"/><path color=#3e37d9 d="M262.5,283.5l1.7-.2-2.9-2.2-1.7,1.3z"/><path color=#f7ca1e d="M306.9,140.5l.9,1.8-1,2.3-.8,1.6z"/><path color=#f6c521 d="M301.4,146.4l.8,3.4-1.4-3.1-.9-5.3z"/><path color=#f8da18 d="M312.7,132.9l.5,3-1.4,3.3-.6-4.6z"/><path color=#9cc442 d="M291.8,175.2l.5-7.8-.9,5.2-.6,5.4z"/><path color=#c7be35 d="M321.5,170.2l.8-.7-.9-2.8-.9,4.9z"/><path color=#21c37f d="M289.8,198.7l.9-7.8-1.5-3.1-.8,6.2z"/><path color=#3c2dbf d="M417.6,291.7l5-.6-2.9-1.5-5,.9z"/><path color=#f8e115 d="M312.1,129.8l.6,3.1-1.5,1.7-.6-4.7z"/><path color=#53c85d d="M291.2,183l.6-7.8-1,2.8-.5,5.4z"/><path color=#f7cb1e d="M306.1,138.7l.8,1.8-.9,5.7-.9,1.7z"/><path color=#3e38da d="M351.6,283l1.7,.7-2.9-1.7-1.7-1z"/><path color=#3c2ec5 d="M440.7,288.5l3.3-.5-2.8,1.9-3.4,0z"/><path color=#f7ce1d d="M300.5,143l.9,3.4-1.5-5-.8-5.3z"/><path color=#3b2bba d="M170.5,294l3.5-.2-2.8-3-3.5-.1z"/><path color=#3c2dc1 d="M394.4,291.3l5.1-.4-2.9-1.5-5,.3z"/><path color=#1abd99 d="M289,206.4l.8-7.7-1.4-4.7-.9,6.3z"/><path color=#38c66e d="M290.7,190.9l.5-7.9-.9,.4-.6,5.4z"/><path color=#f6c81f d="M305.5,142.5l.6-3.8-1,9.2-.6,1.2z"/><path color=#3e37d7 d="M260.8,284.4l1.7-.9-2.9-1.1-1.7,.5z"/><path color=#3d3cdf d="M467.2,278.6l3.3,0-1.4,3.8-3.4,.2z"/><path color=#3c30c8 d="M371.3,288.5l5.1,.7-2.9-1.6-5.1-.3z"/><path color=#15b8b2 d="M288.4,210.7l.6-4.3-1.5-6.1-.5,5.7z"/><path color=#3d34d2 d="M455.6,283.3l3.4-.2-1.5,4.1-3.3,0z"/><path color=#f5c422 d="M305,146.4l.5-3.9-1,6.6-.5,1.2z"/><path color=#3e3cdf d="M483.5,284.8l5.1-1.3-2.9-6.5-5.1,.6z"/><path color=#f7cd1d d="M298.9,148l1.6-5-1.4-6.9-1.7,5.2z"/><path color=#3e3add d="M349.9,282.1l1.7,.9-2.9-2-1.7-1z"/><path color=#11b2c9 d="M287.9,215l.5-4.3-1.4-4.7-.6,5.8z"/><path color=#0e94e8 d="M332.7,237.5l.8,4.6-1.4-4.5-.9-5.2z"/><path color=#3b2cbe d="M146.4,292.7l3.6-.3-2.7-3.2-3.6,.4z"/><path color=#16baa6 d="M326.9,200.1l.6,4.4-1,4.5-.5-8.5z"/><path color=#f5bf24 d="M304.4,150.2l.6-3.8-1,3.9-.6,1.3z"/><path color=#3b2cbc d="M191.1,293.1l3.5-.7-2.8-1.3-3.6-.2z"/><path color=#f8e314 d="M311.5,130.7l.6-.9-1,.1-.5,4z"/><path color=#0facd5 d="M287.3,219.3l.6-4.3-1.5-3.2-.6,5.7z"/><path color=#1dc08e d="M326.4,195.7l.5,4.4-.9,.4-.6-8.5z"/><path color=#3e36d5 d="M259.1,285.1l1.7-.7-2.9-1.5-1.7,.6z"/><path color=#f5c222 d="M298.3,154l.6-6-1.5-6.7-.6,7.9z"/><path color=#0d99e5 d="M331.8,233l.9,4.5-1.5-5.1-.8-5.3z"/><path color=#f8de16 d="M311,131.7l.5-1-.9,3.2-.6,4.1z"/><path color=#29c578 d="M325.8,191.3l.6,4.4-1-3.7-.5-8.4z"/><path color=#f5be24 d="M303.7,153l1.7-4.1-2.9,4-1.7-6.2z"/><path color=#0ea7da d="M286.5,219.8l.8-.5-1.5-1.8-.8,4.1z"/><path color=#f3b927 d="M297.7,160.1l.6-6.1-1.5-4.8-.5,8z"/><path color=#3c2ec4 d="M234.3,290.7l5.1-1.3-2.9-1.9-5.1,1.5z"/><path color=#1786ef d="M281.4,253.3l.8-6-2.9-.5-.8,2.8z"/><path color=#f8da18 d="M310.4,132.6l.6-.9-1,6.3-.6,4.1z"/><path color=#3d3ce0 d="M348.2,280.8l1.7,1.3-2.9-2.1-1.7-1.2z"/><path color=#3c2ec4 d="M437.3,288.9l3.4-.4-2.9,1.4-3.4,.6z"/><path color=#0c9fe2 d="M331,226l.8,7-1.4-5.9-.9-4.2z"/><path color=#45c766 d="M325,183.5l.8,7.8-.9-7.7-.9-7.5z"/><path color=#f1b729 d="M317.6,156l.5,6.8-1-.3-.5-11.7z"/><path color=#f0b62a d="M297.2,166.1l.5-6-1.4-2.9-.6,7.9z"/><path color=#3b2cbe d="M211.2,292.4l5.1-.5-2.9-2.1-5.1,.6z"/><path color=#3b2bba d="M166.9,294.3l3.6-.3-2.8-3.3-3.6,.8z"/><path color=#0da5dd d="M285.6,220.3l.9-.5-1.5,1.8-.8,4z"/><path color=#1d7df1 d="M280.6,259.4l.8-6.1-2.9-3.7-.8,2.7z"/><path color=#f8d519 d="M309.6,136.3l.8-3.7-1,9.5-.8,.1z"/><path color=#3d35d3 d="M257.4,286.5l1.7-1.4-2.9-1.6-1.7,1z"/><path color=#f5c123 d="M317,149.2l.6,6.8-1-5.2-.6-11.8z"/><path color=#0da5dc d="M330.2,219l.8,7-1.5-3.1-.8-4.2z"/><path color=#3d3de0 d="M463.8,278.8l3.4-.2-1.5,4-3.4-.1z"/><path color=#80c64c d="M324.1,175.7l.9,7.8-1-7.4-.8-7.4z"/><path color=#3d35d2 d="M452.2,283.4l3.4-.1-1.4,3.9-3.4,.2z"/><path color=#0ca1e1 d="M284.8,225.2l.8-4.9-1.4,5.3-.9,4.3z"/><path color=#f8d31a d="M316.4,142.4l.6,6.8-1-10.2-.5-11.7z"/><path color=#2373f2 d="M279.7,262.2l.9-2.8-2.9-7.1-.9,4.4z"/><path color=#f8d21b d="M308.7,140l.9-3.7-1,5.9-.8,.1z"/><path color=#3c2dc1 d="M412.5,291l5.1,.7-2.9-1.2-5.1-.4z"/><path color=#0facd5 d="M329.6,212.7l.6,6.3-1.5-.3-.6-4z"/><path color=#3d40e4 d="M346.5,278.5l1.7,2.3-2.9-2-1.7-2.3z"/><path color=#b9c238 d="M323.3,172.2l.8,3.5-.9-7-.9,.8z"/><path color=#3b2cbd d="M142.9,293.4l3.5-.7-2.7-3.1-3.5,.7z"/><path color=#f8da18 d="M315.9,142.8l.5-.4-.9-15.1-.6,3.9z"/><path color=#3c2ec3 d="M389.4,290.6l5,.7-2.8-1.6-5.1-.7z"/><path color=#3e3cde d="M480.2,284.8l3.3,0-2.9-7.2-3.3,.4z"/><path color=#0d9ce3 d="M283.9,230.1l.9-4.9-1.5,4.7-.8,4.2z"/><path color=#11b2c9 d="M329,206.4l.6,6.3-1.5,2-.5-4z"/><path color=#296af3 d="M278.9,264.9l.8-2.7-2.9-5.5-.8,4.5z"/><path color=#f8d31a d="M307.9,134.8l.8,5.2-.9,2.3-.9-1.8z"/><path color=#3b2bbb d="M187.5,293.7l3.6-.6-2.9-2.2-3.5,1z"/><path color=#3d34d0 d="M255.8,287.1l1.6-.6-2.9-2-1.6,.7z"/><path color=#f8d619 d="M315.3,143.1l.6-.3-1-11.6-.6,3.8z"/><path color=#15b8b0 d="M328.5,200l.5,6.4-1.4,4.3-.6-3.9z"/><path color=#c7be35 d="M322.4,168.8l.9,3.4-1-2.7-.8,.7z"/><path color=#3d31cb d="M366.3,287.8l5,.7-2.9-1.2-5-.7z"/><path color=#0e97e6 d="M283.4,235.8l.5-5.7-1.4,4-.6,4.3z"/><path color=#f8d21b d="M314.7,143.4l.6-.3-1-8.1-.5,3.9z"/><path color=#aac33d d="M293.8,174l1.7,1.1-1.5-.4-1.7-7.3z"/><path color=#f8da17 d="M307,129.5l.9,5.3-1,5.7-.8-1.8z"/><path color=#3c46ec d="M344.8,274.9l1.7,3.6-2.9-2-1.7-3.5z"/><path color=#3c2fc5 d="M433.9,288.3l3.4,.6-2.9,1.6-3.4-.3z"/><path color=#0f92e9 d="M282.8,241.5l.6-5.7-1.5,2.6-.5,4.3z"/><path color=#e5b62e d="M322.9,163.7l.5,3.6-2.9,4.3-.5-6.5z"/><path color=#305ef2 d="M277.2,270.4l1.7-5.5-2.9-3.7-1.7,6.5z"/><path color=#f8d918 d="M306.5,136l.5-6.5-.9,9.2-.6,3.8z"/><path color=#3b2bb9 d="M163.4,294.6l3.5-.3-2.8-2.8-3.5,.4z"/><path color=#138cec d="M282.2,247.3l.6-5.8-1.4,1.2-.6,4.4z"/><path color=#f0b62a d="M322.3,160l.6,3.7-2.9,1.4-.6-6.5z"/><path color=#3d33cf d="M254.1,287.6l1.7-.5-2.9-1.9-1.7,.7z"/><path color=#9dc442 d="M293.2,179.3l.6-5.3-1.5-6.6-.5,7.8z"/><path color=#3d3de0 d="M460.4,279l3.4-.2-1.5,3.7-3.3,.6z"/><path color=#f7cf1c d="M305.9,142.4l.6-6.4-1,6.5-.5,3.9z"/><path color=#f2b828 d="M321.7,156.4l.6,3.6-2.9-1.4-.6-6.6z"/><path color=#3d34d2 d="M448.9,284.2l3.3-.8-1.4,4-3.4,.8z"/><path color=#53c85d d="M292.7,184.6l.5-5.3-1.4-4.1-.6,7.8z"/><path color=#1e7bf1 d="M337.5,254.3l.8,4-1.4-1.7-.8-5.9z"/><path color=#3c2dc2 d="M229.3,291.6l5-.9-2.9-1.7-5,1z"/><path color=#1abd9b d="M327.9,199.7l.6,.3-1,4.5-.6-4.4z"/><path color=#f6c521 d="M305.4,148.9l.5-6.5-.9,4-.6,3.8z"/><path color=#3850f0 d="M343.2,270l1.6,4.9-2.9-1.9-1.6-3.5z"/><path color=#3850f0 d="M275.5,274.9l1.7-4.5-2.9-2.7-1.7,5.5z"/><path color=#f2b828 d="M320.9,159.9l.8-3.5-2.9-4.4-.8,5.3z"/><path color=#39c66d d="M292.1,189.8l.6-5.2-1.5-1.6-.5,7.9z"/><path color=#f8d21b d="M314.4,141.8l.8,3.9-1.4-6.8-.9-4.5z"/><path color=#3b2cbd d="M139.4,293.7l3.5-.3-2.7-3.1-3.5,.1z"/><path color=#3b2cbe d="M206.2,293.5l5-1.1-2.9-2-5,.7z"/><path color=#1cbf92 d="M327.3,199.4l.6,.3-1,.4-.5-4.4z"/><path color=#3e3cdf d="M476.8,285.1l3.4-.3-2.9-6.8-3.4-.3z"/><path color=#1786ef d="M336.7,250.3l.8,4-1.4-3.6-.9-5.9z"/><path color=#f5bf24 d="M302.8,151.4l.9,1.6-1.5-3.2-.8-3.4z"/><path color=#3d32cd d="M252.4,288l1.7-.4-2.9-1.7-1.7,.4z"/><path color=#dab931 d="M297.8,171.2l.8-4.2-2.9-1.9-.8,4.8z"/><path color=#3b2bba d="M183.9,293.7l3.6,0-2.8-1.8-3.6,.5z"/><path color=#f8de16 d="M311.4,139l1.7-3.7-1-5.5-1.7,2.8z"/><path color=#1fc189 d="M326.8,199l.5,.4-.9-3.7-.6-4.4z"/><path color=#f0b62a d="M320,163.3l.9-3.4-2.9-2.6-.9,5.2z"/><path color=#3d32cd d="M364.6,287.7l1.7,.1-2.9-1.2-1.7-.1z"/><path color=#f8db17 d="M313.5,138l.9,3.8-1.5-7.4-.8-4.6z"/><path color=#148aed d="M335.8,246.7l.9,3.6-1.5-5.5-.8-1.4z"/><path color=#3c2ec3 d="M407.5,291.2l5-.2-2.9-.9-5,0z"/><path color=#f6c421 d="M302,149.9l.8,1.5-1.4-5-.9-3.4z"/><path color=#aec33b d="M296.9,175.4l.9-4.2-2.9-1.3-.9,4.8z"/><path color=#29c577 d="M325.9,190.8l.9,8.2-1-7.7-.8-7.8z"/><path color=#305ef2 d="M341.5,263.8l1.7,6.2-2.9-.5-1.7-6.6z"/><path color=#3c2fc6 d="M430.6,289.2l3.3-.9-2.9,1.9-3.3,.5z"/><path color=#f0b62a d="M318.5,161.2l.6,1.9-1-.3-.5-6.8z"/><path color=#3c47ec d="M273.8,277.9l1.7-3-2.9-1.7-1.7,3.4z"/><path color=#f8d719 d="M310.5,143.6l.9-4.6-1-6.4-.8,3.7z"/><path color=#3c2ec5 d="M384.3,290.9l5.1-.3-2.9-1.6-5.1,.4z"/><path color=#128deb d="M335,243.1l.8,3.6-1.4-3.3-.9-1.3z"/><path color=#f2b828 d="M318,159.4l.5,1.8-.9-5.2-.6-6.8z"/><path color=#3b2bb9 d="M159.8,295l3.6-.4-2.8-2.7-3.5,.6z"/><path color=#3d31cb d="M250.7,289.4l1.7-1.4-2.9-1.7-1.7,.9z"/><path color=#4ac763 d="M325.1,182.6l.8,8.2-.9-7.3-.9-7.8z"/><path color=#3d3de0 d="M457.1,279.4l3.3-.4-1.4,4.1-3.4,.2z"/><path color=#13b4bf d="M289.6,211.4l.8-4.2-1.4-.8-.9,6.4z"/><path color=#3d33cf d="M362.9,287.5l1.7,.2-2.9-1.2-1.7-.9z"/><path color=#f5c222 d="M300.3,154.8l1.7-4.9-1.5-6.9-1.6,5z"/><path color=#f4bc25 d="M317.4,157.6l.6,1.8-1-10.2-.6-6.8z"/><path color=#3d34d2 d="M445.5,284.1l3.4,.1-1.5,4-3.4-.2z"/><path color=#f7cf1c d="M309.7,148.1l.8-4.5-.9-7.3-.9,3.7z"/><path color=#84c54b d="M324.3,175l.8,7.6-1-6.9-.8-3.5z"/><path color=#286df3 d="M339.8,260l1.7,3.8-2.9-.9-1.7-6.3z"/><path color=#f5c123 d="M316.8,154.4l.6,3.2-1-15.2-.5,.4z"/><path color=#0faed2 d="M288.7,215.6l.9-4.2-1.5,1.4-.8,6.5z"/><path color=#3d42e6 d="M272.1,280.1l1.7-2.2-2.9-1.3-1.7,2z"/><path color=#f7cf1c d="M308.8,145.4l.9,2.7-1-8.1-.8-5.2z"/><path color=#3e3cdf d="M473.4,285.8l3.4-.7-2.9-7.4-3.4,.9z"/><path color=#f4ba26 d="M299.7,158.9l.6-4.1-1.4-6.8-.6,6z"/><path color=#f6c421 d="M316.3,151.2l.5,3.2-.9-11.6-.6,.3z"/><path color=#3d31ca d="M249,289.2l1.7,.2-2.9-2.2-1.7,.4z"/><path color=#c6be35 d="M323.4,167.3l.9,7.7-1-2.8-.9-3.4z"/><path color=#0eaad7 d="M287.9,219.5l.8-3.9-1.4,3.7-.8,.5z"/><path color=#3b2bbb d="M180.4,294.4l3.5-.7-2.8-1.3-3.5,0z"/><path color=#3d34d1 d="M361.2,287.3l1.7,.2-2.9-1.9-1.7-.2z"/><path color=#f1b729 d="M299.2,163l.5-4.1-1.4-4.9-.6,6.1z"/><path color=#f6c720 d="M315.7,148l.6,3.2-1-8.1-.6,.3z"/><path color=#f8d719 d="M308,142.8l.8,2.6-.9-10.6-.9-5.3z"/><path color=#3c2dc0 d="M224.2,292.7l5.1-1.1-2.9-1.6-5.1,1.3z"/><path color=#efb52b d="M298.6,167l.6-4-1.5-2.9-.5,6z"/><path color=#0da7da d="M287.1,223.4l.8-3.9-1.4,.3-.9,.5z"/><path color=#3d3ee2 d="M270.4,282.6l1.7-2.5-2.9-1.5-1.7,1.6z"/><path color=#f8d719 d="M307.4,145.4l.6-2.6-1-13.3-.5,6.5z"/><path color=#3b2cbc d="M201.1,294l5.1-.5-2.9-2.4-5.1,1.3z"/><path color=#24c47a d="M293,195.2l.6-6.4-2.9,2.1-.6,5.2z"/><path color=#3d31ca d="M247.3,289.7l1.7-.5-2.9-1.6-1.7-.5z"/><path color=#f7ce1d d="M306.9,148.1l.5-2.7-.9-9.4-.6,6.4z"/><path color=#3c2fc6 d="M425.5,289.2l5.1,0-2.9,1.5-5.1,.4z"/><path color=#3d3de0 d="M453.7,279.4l3.4,0-1.5,3.9-3.4,.1z"/><path color=#3b2bb9 d="M156.3,295.6l3.5-.6-2.7-2.5-3.6-.2z"/><path color=#0ca3df d="M286.2,229.8l.9-6.4-1.5-3.1-.8,4.9z"/><path color=#3d34d2 d="M359.5,286.9l1.7,.4-2.9-1.9-1.7-.4z"/><path color=#3d34d2 d="M442.1,284.6l3.4-.5-1.5,3.9-3.3,.5z"/><path color=#1dc08f d="M292.4,201.6l.6-6.4-2.9,.9-.6,5.1z"/><path color=#f6c521 d="M306.3,150.7l.6-2.6-1-5.7-.5,6.5z"/><path color=#3c2ec3 d="M402.4,291.8l5.1-.6-2.9-1.1-5.1,.8z"/><path color=#17bba5 d="M291.9,208.1l.5-6.5-2.9-.4-.5,5.2z"/><path color=#0d9de3 d="M285.4,236.1l.8-6.3-1.4-4.6-.9,4.9z"/><path color=#3e3bde d="M268.8,283.4l1.6-.8-2.9-2.4-1.6,1.8z"/><path color=#3c2fc6 d="M379.3,291.2l5-.3-2.9-1.5-5-.2z"/><path color=#3e3cdf d="M470.1,285.7l3.3,.1-2.9-7.2-3.3,0z"/><path color=#f8d41a d="M312.3,145.5l1.7-4.8-.9-5.4-1.7,3.7z"/><path color=#0e97e6 d="M284.8,239.8l.6-3.7-1.5-6-.5,5.7z"/><path color=#3d35d4 d="M357.9,287.1l1.6-.2-2.9-1.9-1.6-.7z"/><path color=#89c549 d="M295.2,180.6l1.7-5.2-1.4-.3-1.7-1.1z"/><path color=#3b2bba d="M176.8,294.8l3.6-.4-2.8-2-3.6,1.4z"/><path color=#0f92e9 d="M335.6,239.2l.8,5-2.9-2.1-.8-4.6z"/><path color=#0f92e9 d="M284.2,243.4l.6-3.6-1.4-4-.6,5.7z"/><path color=#efb52b d="M319.5,166.5l.5-3.2-.9-.2-.6-1.9z"/><path color=#3e39db d="M267.1,284.4l1.7-1-2.9-1.4-1.7,1.3z"/><path color=#f7cb1e d="M311.5,150.8l.8-5.3-.9-6.5-.9,4.6z"/><path color=#138dec d="M283.7,247.1l.5-3.7-1.4-1.9-.6,5.8z"/><path color=#efb52b d="M318.9,169.6l.6-3.1-1-5.3-.5-1.8z"/><path color=#0e97e6 d="M334.7,234.3l.9,4.9-2.9-1.7-.9-4.5z"/><path color=#64c756 d="M294.7,183.4l.5-2.8-1.4-6.6-.6,5.3z"/><path color=#3c30c8 d="M242.3,291.4l5-1.7-2.9-2.6-5,2.3z"/><path color=#3d3de0 d="M450.3,280.2l3.4-.8-1.5,4-3.3,.8z"/><path color=#efb52b d="M318.4,172.8l.5-3.2-.9-10.2-.6-1.8z"/><path color=#f5c223 d="M310.7,156.2l.8-5.4-1-7.2-.8,4.5z"/><path color=#3e36d7 d="M356.2,285.4l1.7,1.7-2.9-2.8-1.7-.6z"/><path color=#4cc762 d="M294.1,186.1l.6-2.7-1.5-4.1-.5,5.3z"/><path color=#2176f2 d="M338.9,257.9l.9,2.1-1.5-1.7-.8-4z"/><path color=#3b2bba d="M152.7,295.4l3.6,.2-2.8-3.3-3.5,.1z"/><path color=#3d34d2 d="M438.8,284.6l3.3,0-1.4,3.9-3.4,.4z"/><path color=#0d9de3 d="M333.9,227.3l.8,7-2.9-1.3-.8-7z"/><path color=#3b2bbc d="M197.5,294.8l3.6-.8-2.9-1.6-3.6,0z"/><path color=#3b2cbe d="M219.2,294.3l5-1.6-2.9-1.4-5,.6z"/><path color=#5cc858 d="M325.2,179.3l.9,4-1-.7-.8-7.6z"/><path color=#f0b62a d="M317.8,166l.6,6.8-1-15.2-.6-3.2z"/><path color=#3cc66c d="M293.6,188.8l.5-2.7-1.4-1.5-.6,5.2z"/><path color=#f6c620 d="M315.8,149.3l.9,3.2-1.5-6.8-.8-3.9z"/><path color=#3e38da d="M265.4,285.4l1.7-1-2.9-1.1-1.7,.2z"/><path color=#f5be24 d="M309.8,156.1l.9,.1-1-8.1-.9-2.7z"/><path color=#1c7ef1 d="M338.1,255.8l.8,2.1-1.4-3.6-.8-4z"/><path color=#f2b828 d="M317.2,159.2l.6,6.8-1-11.6-.5-3.2z"/><path color=#0da5dd d="M333,220.4l.9,6.9-2.9-1.3-.8-7z"/><path color=#3e3cdf d="M466.7,286.1l3.4-.4-2.9-7.1-3.4,.2z"/><path color=#a8c33e d="M324.4,175.2l.8,4.1-.9-4.3-.9-7.7z"/><path color=#f4ba26 d="M303.4,157.4l1.7,.4-1.4-4.8-1.7-3.1z"/><path color=#3c2fc6 d="M420.5,289.5l5-.3-2.9,1.9-5,.6z"/><path color=#f7cd1d d="M315,146.2l.8,3.1-1.4-7.5-.9-3.8z"/><path color=#f4bc25 d="M316.7,152.5l.5,6.7-.9-8-.6-3.2z"/><path color=#f5c123 d="M309,156.1l.8,0-1-10.7-.8-2.6z"/><path color=#3e38da d="M354.5,284.6l1.7,.8-2.9-1.7-1.7-.7z"/><path color=#1786ef d="M337.3,250l.8,5.8-1.4-5.5-.9-3.6z"/><path color=#0facd4 d="M332.5,217l.5,3.4-2.8-1.4-.6-6.3z"/><path color=#dcb930 d="M323.8,170.1l.6,5.1-1-7.9-.5-3.6z"/><path color=#3b2bb9 d="M173.3,295.3l3.5-.5-2.8-1-3.5,.2z"/><path color=#3c2ec3 d="M397.3,291.9l5.1-.1-2.9-.9-5.1,.4z"/><path color=#11b2c8 d="M331.9,213.5l.6,3.5-2.9-4.3-.6-6.3z"/><path color=#f5c222 d="M308.4,154.9l.6,1.2-1-13.3-.6,2.6z"/><path color=#3e37d8 d="M263.7,286.5l1.7-1.1-2.9-1.9-1.7,.9z"/><path color=#efb52b d="M323.3,165l.5,5.1-.9-6.4-.6-3.7z"/><path color=#138cec d="M336.4,244.2l.9,5.8-1.5-3.3-.8-3.6z"/><path color=#3c30c9 d="M374.2,289.7l5.1,1.5-2.9-2-5.1-.7z"/><path color=#15b8b1 d="M331.4,210.1l.5,3.4-2.9-7.1-.5-6.4z"/><path color=#f5c023 d="M307.8,153.7l.6,1.2-1-9.5-.5,2.7z"/><path color=#13b6b9 d="M291,210l.9-1.9-1.5-.9-.8,4.2z"/><path color=#f1b729 d="M322.7,159.9l.6,5.1-1-5-.6-3.6z"/><path color=#f4ba26 d="M301.7,157.6l1.7-.2-1.4-7.5-1.7,4.9z"/><path color=#3d3de0 d="M446.9,280.1l3.4,.1-1.4,4-3.4-.1z"/><path color=#3e3adc d="M352.8,283.8l1.7,.8-2.9-1.6-1.7-.9z"/><path color=#f5bf24 d="M307.3,152.6l.5,1.1-.9-5.6-.6,2.6z"/><path color=#3d35d3 d="M435.4,284.4l3.4,.2-1.5,4.3-3.4-.6z"/><path color=#18bc9f d="M330.5,204.1l.9,6-2.9-10.1-.9-.5z"/><path color=#3b2bba d="M149.2,296.5l3.5-1.1-2.7-3-3.6,.3z"/><path color=#f1b729 d="M321.9,164.9l.8-5-1-3.5-.8,3.5z"/><path color=#11b2c7 d="M290.2,211.9l.8-1.9-1.4,1.4-.9,4.2z"/><path color=#3b2bbb d="M193.9,295l3.6-.2-2.9-2.4-3.5,.7z"/><path color=#3e36d5 d="M262,287.8l1.7-1.3-2.9-2.1-1.7,.7z"/><path color=#f6c91f d="M313.3,151.9l1.7-5.7-1-5.5-1.7,4.8z"/><path color=#1cbf93 d="M329.7,198l.8,6.1-2.9-4.6-.8-.5z"/><path color=#3d3cdf d="M463.3,286.3l3.4-.2-2.9-7.3-3.4,.2z"/><path color=#f4ba26 d="M306.6,162.5l1.6-8.1-2.8-5.5-1.7,4.1z"/><path color=#efb52b d="M321,170l.9-5.1-1-5-.9,3.4z"/><path color=#0fadd3 d="M289.3,219.2l.9-7.3-1.5,3.7-.8,3.9z"/><path color=#3c2ec4 d="M237.2,292.4l5.1-1-2.9-2-5.1,1.3z"/><path color=#1687ee d="M284.3,252.3l.8-5.4-2.9,.4-.8,6z"/><path color=#3d3cdf d="M351.1,282.6l1.7,1.2-2.9-1.7-1.7-1.3z"/><path color=#21c37e d="M328.8,191.4l.9,6.6-2.9,1-.9-8.2z"/><path color=#eeb42c d="M320.4,169.3l.6,.7-1-6.7-.5,3.2z"/><path color=#3b2cbe d="M214.1,294.2l5.1,.1-2.9-2.4-5.1,.5z"/><path color=#0da7db d="M288.5,226.6l.8-7.4-1.4,.3-.8,3.9z"/><path color=#3b2ab8 d="M169.7,296.3l3.6-1-2.8-1.3-3.6,.3z"/><path color=#1d7cf1 d="M283.4,257.7l.9-5.4-2.9,1-.8,6.1z"/><path color=#f5bf24 d="M312.5,158.1l.8-6.2-1-6.4-.8,5.3z"/><path color=#3d34d2 d="M260.3,288.2l1.7-.4-2.9-2.7-1.7,1.4z"/><path color=#e5b62e d="M319.9,168.7l.5,.6-.9-2.8-.6,3.1z"/><path color=#3ec66a d="M328,184.7l.8,6.7-2.9-.6-.8-8.2z"/><path color=#0c9fe1 d="M287.7,234.4l.8-7.8-1.4-3.2-.9,6.4z"/><path color=#dab931 d="M319.3,168l.6,.7-1,.9-.5,3.2z"/><path color=#2570f3 d="M282.6,262.4l.8-4.7-2.8,1.7-.9,2.8z"/><path color=#f3b927 d="M311.6,164.3l.9-6.2-1-7.3-.8,5.4z"/><path color=#3c2fc7 d="M415.4,289.9l5.1-.4-2.9,2.2-5.1-.7z"/><path color=#3d3de0 d="M443.6,280.8l3.3-.7-1.4,4-3.4,.5z"/><path color=#3d40e4 d="M349.4,280.4l1.7,2.2-2.9-1.8-1.7-2.3z"/><path color=#3d35d4 d="M432,284.8l3.4-.4-1.5,3.9-3.3,.9z"/><path color=#52c85e d="M326.2,183.6l.8,.4-.9-.7-.9-4z"/><path color=#3b2bb9 d="M145.6,296.4l3.6,.1-2.8-3.8-3.5,.7z"/><path color=#3c2ec5 d="M392.3,291.3l5,.6-2.9-.6-5-.7z"/><path color=#0d98e6 d="M286.8,242.2l.9-7.8-1.5-4.6-.8,6.3z"/><path color=#2b67f4 d="M281.8,267.2l.8-4.8-2.9-.2-.8,2.7z"/><path color=#f1b729 d="M310.8,166.8l.8-2.5-.9-8.1-.9-.1z"/><path color=#3b2bba d="M190.4,296l3.5-1-2.8-1.9-3.6,.6z"/><path color=#3d33d0 d="M258.6,289l1.7-.8-2.9-1.7-1.6,.6z"/><path color=#62c757 d="M325.3,183.2l.9,.4-1-4.3-.8-4.1z"/><path color=#3d32cd d="M369.2,289.5l5,.2-2.9-1.2-5-.7z"/><path color=#3d3cdf d="M459.9,286.6l3.4-.3-2.9-7.3-3.3,.4z"/><path color=#0f93e9 d="M286.3,243.7l.5-1.5-1.4-6.1-.6,3.7z"/><path color=#f1b729 d="M309.9,169.3l.9-2.5-1-10.7-.8,0z"/><path color=#3c45eb d="M347.7,278l1.7,2.4-2.9-1.9-1.7-3.6z"/><path color=#1190ea d="M285.7,245.3l.6-1.6-1.5-3.9-.6,3.6z"/><path color=#96c444 d="M324.8,176.6l.5,6.6-.9-8-.6-5.1z"/><path color=#325bf2 d="M280.1,273.4l1.7-6.2-2.9-2.3-1.7,5.5z"/><path color=#eeb42c d="M319.2,162.8l.6,2.9-1.4,7.1-.6-6.8z"/><path color=#f1b729 d="M309.4,164.4l.5,4.9-.9-13.2-.6-1.2z"/><path color=#138dec d="M285.1,246.9l.6-1.6-1.5-1.9-.5,3.7z"/><path color=#d6ba31 d="M324.2,170l.6,6.6-1-6.5-.5-5.1z"/><path color=#3b2ab8 d="M166.1,296.2l3.6,.1-2.8-2-3.5,.3z"/><path color=#f1b729 d="M318.7,159.9l.5,2.9-1.4,3.2-.6-6.8z"/><path color=#3d33ce d="M257,289.5l1.6-.5-2.8-1.9-1.7,.5z"/><path color=#f1b729 d="M302.4,165.8l.8-5.4-2.9-5.6-.8,6.1z"/><path color=#f5bf24 d="M316,153.3l1.6,2.2-.9-3-1.7-6.3z"/><path color=#55c85c d="M296.1,184.6l.6-5.3-1.5,1.3-.5,2.8z"/><path color=#f2b828 d="M308.8,159.4l.6,5-1-9.5-.6-1.2z"/><path color=#efb52b d="M323.7,163.4l.5,6.6-.9-5-.6-5.1z"/><path color=#f3b927 d="M318.1,156.9l.6,3-1.5-.7-.5-6.7z"/><path color=#45c766 d="M295.6,189.9l.5-5.3-1.4-1.2-.6,2.7z"/><path color=#3c2ec3 d="M232.2,293.3l5-.9-2.9-1.7-5,.9z"/><path color=#3d3de0 d="M440.2,280.4l3.4,.4-1.5,3.8-3.3,0z"/><path color=#f4ba26 d="M308.2,154.4l.6,5-1-5.7-.5-1.1z"/><path color=#efb52b d="M301.5,171.3l.9-5.5-2.9-4.9-.9,6.1z"/><path color=#384fef d="M346.1,272.8l1.6,5.2-2.9-3.1-1.6-4.9z"/><path color=#384fef d="M278.4,276.9l1.7-3.5-2.9-3-1.7,4.5z"/><path color=#f0b62a d="M322.8,170l.9-6.6-1-3.5-.8,5z"/><path color=#35c570 d="M295,195.2l.6-5.3-1.5-3.8-.5,2.7z"/><path color=#3b2cbd d="M209,294.8l5.1-.6-2.9-1.8-5,1.1z"/><path color=#3b2bb9 d="M142.1,297.1l3.5-.7-2.7-3-3.5,.3z"/><path color=#3d32cd d="M255.3,290.1l1.7-.6-2.9-1.9-1.7,.4z"/><path color=#c9be34 d="M300.7,178.3l.8-7-2.9-4.3-.8,4.2z"/><path color=#f5bf24 d="M314.3,155.8l1.7-2.5-1-7.1-1.7,5.7z"/><path color=#22c47c d="M294.4,199.9l.6-4.7-1.4-6.4-.6,6.4z"/><path color=#3b2bba d="M186.8,296.3l3.6-.3-2.9-2.3-3.6,0z"/><path color=#3d35d4 d="M427,285.2l5-.4-1.4,4.4-5.1,0z"/><path color=#d8ba31 d="M322,176.6l.8-6.6-.9-5.1-.9,5.1z"/><path color=#3d33cf d="M367.5,289.3l1.7,.2-2.9-1.7-1.7-.1z"/><path color=#3d3ce0 d="M456.6,286.6l3.3,0-2.8-7.2-3.4,0z"/><path color=#f1b729 d="M304.9,164.9l1.7-2.4-1.5-4.7-1.7-.4z"/><path color=#1cbf91 d="M293.9,204.6l.5-4.7-1.4-4.7-.6,6.4z"/><path color=#3c30c9 d="M410.3,290l5.1-.1-2.9,1.1-5,.2z"/><path color=#89c549 d="M299.8,185.4l.9-7.1-2.9-7.1-.9,4.2z"/><path color=#315cf2 d="M344.4,269.2l1.7,3.6-2.9-2.8-1.7-6.2z"/><path color=#c9be34 d="M321.4,172.2l.6,4.4-1-6.6-.6-.7z"/><path color=#3c47ec d="M276.7,279.9l1.7-3-2.9-2-1.7,3z"/><path color=#17bba6 d="M293.3,209.3l.6-4.7-1.5-3-.5,6.5z"/><path color=#3c2fc7 d="M387.2,291.1l5.1,.2-2.9-.7-5.1,.3z"/><path color=#e1b72f d="M320.9,167.7l.5,4.5-1-2.9-.5-.6z"/><path color=#3d31cb d="M253.6,290.8l1.7-.7-2.9-2.1-1.7,1.4z"/><path color=#3b2ab8 d="M162.6,296.5l3.5-.3-2.7-1.6-3.6,.4z"/><path color=#13b6ba d="M292.5,214l.8-4.7-1.4-1.2-.9,1.9z"/><path color=#3d33d0 d="M365.8,289.4l1.7-.1-2.9-1.6-1.7-.2z"/><path color=#f2b828 d="M303.2,160.4l1.7,4.5-1.5-7.5-1.7,.2z"/><path color=#efb52b d="M320.3,163.3l.6,4.4-1,1-.6-.7z"/><path color=#6dc752 d="M298.1,177.9l1.7,7.5-2.9-10-1.7,5.2z"/><path color=#2b67f4 d="M343.5,264.7l.9,4.5-2.9-5.4-.9-1.9z"/><path color=#3d3ee1 d="M436.8,280.6l3.4-.2-1.4,4.2-3.4-.2z"/><path color=#4ac763 d="M327.2,187.9l.8-3.2-1-.7-.8-.4z"/><path color=#11b2c9 d="M291.6,218.6l.9-4.6-1.5-4-.8,1.9z"/><path color=#3d42e6 d="M275,282.8l1.7-2.9-2.9-2-1.7,2.2z"/><path color=#efb52b d="M312,166.2l.6,1-1-2.9-.5,1.7z"/><path color=#f3b927 d="M313.9,163.2l.9-5.4-1.5-5.9-.8,6.2z"/><path color=#266ff3 d="M342.7,260.3l.8,4.4-2.9-2.8-.8-1.9z"/><path color=#3d31ca d="M251.9,290.9l1.7-.1-2.9-1.4-1.7-.2z"/><path color=#efb52b d="M311.5,165.1l.5,1.1-.9-.2-.6,1.7z"/><path color=#45c766 d="M326.3,191.1l.9-3.2-1-4.3-.9-.4z"/><path color=#0fadd4 d="M290.8,221.8l.8-3.2-1.4-6.7-.9,7.3z"/><path color=#3d34d1 d="M364.1,288.9l1.7,.5-2.9-1.9-1.7-.2z"/><path color=#3d3ce0 d="M453.2,286.9l3.4-.3-2.9-7.2-3.4,.8z"/><path color=#3b2bba d="M183.2,296.5l3.6-.2-2.9-2.6-3.5,.7z"/><path color=#f0b62a d="M313.1,168.7l.8-5.5-1.4-5.1-.9,6.2z"/><path color=#efb52b d="M310.9,164.1l.6,1-1,2.6-.6,1.6z"/><path color=#3c2dc1 d="M227.1,294.8l5.1-1.5-2.9-1.7-5.1,1.1z"/><path color=#51c75e d="M325.7,183l.6,8.1-1-7.9-.5-6.6z"/><path color=#1f7af1 d="M341,254.1l1.7,6.2-2.9-.3-1.7-4.2z"/><path color=#0da6db d="M290,224.9l.8-3.1-1.5-2.6-.8,7.4z"/><path color=#3d3ee1 d="M273.3,284l1.7-1.2-2.9-2.7-1.7,2.5z"/><path color=#f0b62a d="M310.3,158.5l.6,5.6-1,5.2-.5-4.9z"/><path color=#3b2cbd d="M204,295.4l5-.6-2.8-1.3-5.1,.5z"/><path color=#a0c340 d="M325.2,174.9l.5,8.1-.9-6.4-.6-6.6z"/><path color=#f3b927 d="M316.9,160.4l1.7-2-1-2.9-1.6-2.2z"/><path color=#3d31ca d="M250.2,291.5l1.7-.6-2.9-1.7-1.7,.5z"/><path color=#f2b828 d="M309.8,153l.5,5.5-.9,5.9-.6-5z"/><path color=#ebb52d d="M324.6,166.8l.6,8.1-1-4.9-.5-6.6z"/><path color=#3d35d4 d="M421.9,285.6l5.1-.4-1.5,4-5,.3z"/><path color=#3d35d3 d="M362.4,288.2l1.7,.7-2.9-1.6-1.7-.4z"/><path color=#3b2ab8 d="M159,297.1l3.6-.6-2.8-1.5-3.5,.6z"/><path color=#1786ef d="M340.2,249.8l.8,4.3-2.9,1.7-.8-5.8z"/><path color=#f4bd25 d="M309.2,147.5l.6,5.5-1,6.4-.6-5z"/><path color=#3c30c9 d="M405.3,290.3l5-.3-2.8,1.2-5.1,.6z"/><path color=#3d3ee2 d="M433.5,280.3l3.3,.3-1.4,3.8-3.4,.4z"/><path color=#ebb52d d="M323.8,175.1l.8-8.3-.9-3.4-.9,6.6z"/><path color=#3e3bde d="M271.7,285.3l1.6-1.3-2.9-1.4-1.6,.8z"/><path color=#f5be24 d="M308.4,152.1l.8-4.6-1,6.9-.8,4.1z"/><path color=#138cec d="M339.3,245.5l.9,4.3-2.9,.2-.9-5.8z"/><path color=#3c30c8 d="M382.2,291.3l5-.2-2.9-.2-5,.3z"/><path color=#f3b927 d="M315.2,159.7l1.7,.7-.9-7.1-1.7,2.5z"/><path color=#a1c340 d="M322.9,183.3l.9-8.2-1-5.1-.8,6.6z"/><path color=#3d35d4 d="M360.7,287.9l1.7,.3-2.9-1.3-1.6,.2z"/><path color=#3d3cdf d="M449.8,287.5l3.4-.6-2.9-6.7-3.4-.1z"/><path color=#f3b927 d="M307.5,156.7l.9-4.6-1,6.4-.8,4z"/><path color=#0f92e9 d="M338.5,240.9l.8,4.6-2.9-1.3-.8-5z"/><path color=#3b2bba d="M179.6,296.9l3.6-.4-2.8-2.1-3.6,.4z"/><path color=#9bc442 d="M322.4,175l.5,8.3-.9-6.7-.6-4.4z"/><path color=#f1b729 d="M320.7,159.5l.6-.9-1.5,7.1-.6-2.9z"/><path color=#3e39db d="M270,287.3l1.7-2-2.9-1.9-1.7,1z"/><path color=#f2b828 d="M306.7,159.6l.8-2.9-.9,5.8-.9,1.2z"/><path color=#deb830 d="M321.8,166.8l.6,8.2-1-2.8-.5-4.5z"/><path color=#0e97e6 d="M337.6,236.3l.9,4.6-2.9-1.7-.9-4.9z"/><path color=#f2b828 d="M320.1,160.5l.6-1-1.5,3.3-.5-2.9z"/><path color=#5ac859 d="M297.6,185.8l.5-7.9-1.4,1.4-.6,5.3z"/><path color=#3c2fc7 d="M245.2,293.1l5-1.6-2.9-1.8-5,1.7z"/><path color=#f0b62a d="M321.3,158.6l.5,8.2-.9,.9-.6-4.4z"/><path color=#f2b828 d="M319.6,161.4l.5-.9-1.4-.6-.6-3z"/><path color=#3e37d7 d="M359.1,287.2l1.6,.7-2.8-.8-1.7-1.7z"/><path color=#3ec66a d="M297,193.7l.6-7.9-1.5-1.2-.5,5.3z"/><path color=#0d9de3 d="M337.1,229.2l.5,7.1-2.9-2-.5-4.7z"/><path color=#f1b729 d="M305.8,162.5l.9-2.9-1,4.1-.8,1.2z"/><path color=#3b2ab8 d="M155.4,297.6l3.6-.5-2.7-1.5-3.6-.2z"/><path color=#3b2cbc d="M200.4,296.4l3.6-1-2.9-1.4-3.6,.8z"/><path color=#21c37f d="M330.3,195.6l.8,5-1.4-2.6-.9-6.6z"/><path color=#3b2cbe d="M222.1,295.5l5-.7-2.9-2.1-5,1.6z"/><path color=#24c47b d="M296.5,201.6l.5-7.9-1.4-3.8-.6,5.3z"/><path color=#0ca3df d="M336.5,222.1l.6,7.1-2.9,.4-.6-4.6z"/><path color=#efb52b d="M313,166.4l.5,3.8-.9-3-.6-1z"/><path color=#3e38d9 d="M268.3,287.6l1.7-.3-2.9-2.9-1.7,1z"/><path color=#1dc08e d="M295.9,204.5l.6-2.9-1.5-6.4-.6,4.7z"/><path color=#0eaad7 d="M335.9,215l.6,7.1-2.9,2.9-.6-4.6z"/><path color=#36c66f d="M329.4,190.7l.9,4.9-1.5-4.2-.8-6.7z"/><path color=#f0b62a d="M312.4,162.6l.6,3.8-1-.2-.5-1.1z"/><path color=#3d3ee2 d="M428.4,281.2l5.1-.9-1.5,4.5-5,.4z"/><path color=#0ca0e1 d="M290.6,231.3l.8-8.1-2.9,3.4-.8,7.8z"/><path color=#3e36d5 d="M416.8,285.9l5.1-.3-1.4,3.9-5.1,.4z"/><path color=#3e38da d="M357.4,286.8l1.7,.4-2.9-1.8-1.7-.8z"/><path color=#3d3cdf d="M446.5,287.6l3.3-.1-2.9-7.4-3.3,.7z"/><path color=#19bd9c d="M295.3,207.5l.6-3-1.5-4.6-.5,4.7z"/><path color=#f1b729 d="M311.9,158.8l.5,3.8-.9,2.5-.6-1z"/><path color=#10b0ce d="M335.1,211.1l.8,3.9-2.9,5.4-.8-5.1z"/><path color=#42c668 d="M328.9,188.5l.5,2.2-1.4-6-.6,2.1z"/><path color=#3d31ca d="M400.2,289.6l5.1,.7-2.9,1.5-5.1,.1z"/><path color=#3b2bb9 d="M176,297.9l3.6-1-2.8-2.1-3.5,.5z"/><path color=#16b9ab d="M294.8,210.5l.5-3-1.4-2.9-.6,4.7z"/><path color=#0d98e6 d="M289.7,239.4l.9-8.1-2.9,3.1-.9,7.8z"/><path color=#f3b927 d="M311.3,152.7l.6,6.1-1,5.3-.6-5.6z"/><path color=#43c667 d="M328.3,186.3l.6,2.2-1.5-1.7-.5,2.2z"/><path color=#3e36d7 d="M266.6,288.6l1.7-1-2.9-2.2-1.7,1.1z"/><path color=#f1b729 d="M303.6,164.4l.6-6.6-1,2.6-.6,3.6z"/><path color=#f1b729 d="M317.9,167.5l1.7-6.1-1-3-1.7,2z"/><path color=#14b6b8 d="M334.3,207.2l.8,3.9-2.9,4.2-.8-5.2z"/><path color=#3d31cb d="M377.1,291.2l5.1,.1-2.9-.1-5.1-1.5z"/><path color=#f5c023 d="M310.7,146.6l.6,6.1-1,5.8-.5-5.5z"/><path color=#12b3c2 d="M293.9,217.9l.9-7.4-1.5-1.2-.8,4.7z"/><path color=#43c667 d="M327.8,184.1l.5,2.2-1.4,2.7-.6,2.1z"/><path color=#f2b828 d="M304.6,156.6l1.7,4.6-1.4,3.7-1.7-4.5z"/><path color=#1091e9 d="M288.9,246.3l.8-6.9-2.9,2.8-.8,2.3z"/><path color=#efb52b d="M303,171l.6-6.6-1-.4-.5,3.7z"/><path color=#3e3adc d="M355.7,285.6l1.7,1.2-2.9-2.2-1.7-.8z"/><path color=#f7cb1e d="M310.2,140.5l.5,6.1-.9,6.4-.6-5.5z"/><path color=#17bba4 d="M333.4,205.1l.9,2.1-2.9,2.9-.9-6z"/><path color=#50c75f d="M327.2,179.6l.6,4.5-1.5,7-.6-8.1z"/><path color=#d4bb32 d="M302.5,177.6l.5-6.6-.9-3.3-.6,3.6z"/><path color=#3b2ab8 d="M151.9,297.6l3.5,0-2.7-2.2-3.5,1.1z"/><path color=#dbb930 d="M324.7,173.6l.9-4.4-1-2.4-.8,8.3z"/><path color=#0facd4 d="M293.1,225.4l.8-7.5-1.4-3.9-.9,4.6z"/><path color=#3b2bbb d="M196.8,297.2l3.6-.8-2.9-1.6-3.6,.2z"/><path color=#138cec d="M288,253.2l.9-6.9-2.9-1.8-.9,2.4z"/><path color=#f1b729 d="M315.4,168.4l.8-4.8-1.4-5.8-.9,5.4z"/><path color=#90c446 d="M326.6,175l.6,4.6-1.5,3.4-.5-8.1z"/><path color=#3d35d3 d="M264.9,289.8l1.7-1.2-2.9-2.1-1.7,1.3z"/><path color=#f7cc1e d="M309.3,145.7l.9-5.2-1,7-.8,4.6z"/><path color=#9ec441 d="M301.6,181l.9-3.4-1-6.3-.8,7z"/><path color=#f1b729 d="M316.2,163.6l1.7,3.9-1-7.1-1.7-.7z"/><path color=#1bbe95 d="M332.6,203.1l.8,2-2.9-1-.8-6.1z"/><path color=#99c443 d="M323.9,178l.8-4.4-.9,1.5-.9,8.2z"/><path color=#0ea8d9 d="M292.2,224.3l.9,1.1-1.5-6.8-.8,3.2z"/><path color=#d6ba31 d="M326.1,170.4l.5,4.6-1.4-.1-.6-8.1z"/><path color=#3c2ec4 d="M240.1,294.1l5.1-1-2.9-1.7-5.1,1z"/><path color=#1786ef d="M287.2,258.3l.8-5.1-2.9-6.3-.8,5.4z"/><path color=#eeb42c d="M314.5,173.2l.9-4.8-1.5-5.2-.8,5.5z"/><path color=#f5c322 d="M308.5,150.8l.8-5.1-.9,6.4-.9,4.6z"/><path color=#3d3cdf d="M354,284.9l1.7,.7-2.9-1.8-1.7-1.2z"/><path color=#3d3ce0 d="M443.1,288l3.4-.4-2.9-6.8-3.4-.4z"/><path color=#5cc859 d="M300.8,184.5l.8-3.5-.9-2.7-.9,7.1z"/><path color=#a2c340 d="M323.3,171l.6,7-1,5.3-.5-8.3z"/><path color=#3b2cbd d="M217,296.2l5.1-.7-2.9-1.2-5.1-.1z"/><path color=#0da7da d="M291.4,223.2l.8,1.1-1.4-2.5-.8,3.1z"/><path color=#1e7bf1 d="M286.3,263.4l.9-5.1-2.9-6-.9,5.4z"/><path color=#3b2ab8 d="M172.5,297.7l3.5,.2-2.7-2.6-3.6,1z"/><path color=#3d34d1 d="M263.2,290.5l1.7-.7-2.9-2-1.7,.4z"/><path color=#f4bb26 d="M307.7,155.4l.8-4.6-1,5.9-.8,2.9z"/><path color=#eeb42c d="M322.8,164.1l.5,6.9-.9,4-.6-8.2z"/><path color=#3d3ee2 d="M423.4,281.8l5-.6-1.4,4-5.1,.4z"/><path color=#f1b729 d="M322.2,157.2l.6,6.9-1,2.7-.5-8.2z"/><path color=#2570f3 d="M285.5,265.6l.8-2.2-2.9-5.7-.8,4.7z"/><path color=#3e36d6 d="M411.8,285.8l5,.1-1.4,4-5.1,.1z"/><path color=#f2b828 d="M306.8,160l.9-4.6-1,4.2-.9,2.9z"/><path color=#3d3fe3 d="M352.3,282.7l1.7,2.2-2.9-2.3-1.7-2.2z"/><path color=#f3b927 d="M321.4,156.6l.8,.6-.9,1.4-.9,1.4z"/><path color=#3d32cd d="M395.2,289.5l5,.1-2.9,2.3-5-.6z"/><path color=#eeb42c d="M314,166.6l.5,6.6-1-3-.5-3.8z"/><path color=#3b2ab7 d="M148.3,298.4l3.6-.8-2.7-1.1-3.6-.1z"/><path color=#2b68f4 d="M284.7,267.8l.8-2.2-2.9-3.2-.8,4.8z"/><path color=#3b2bba d="M193.2,297.1l3.6,.1-2.9-2.2-3.5,1z"/><path color=#3d33cf d="M261.5,291l1.7-.5-2.9-2.3-1.7,.8z"/><path color=#53c85d d="M300.4,185l.9-1-1.5,1.4-.8-3.8z"/><path color=#f0b62a d="M313.4,160l.6,6.6-1-.2-.6-3.8z"/><path color=#3d33cf d="M372.1,290.1l5,1.1-2.9-1.5-5-.2z"/><path color=#f3b927 d="M320.5,156l.9,.6-1,3.4-.8,1.4z"/><path color=#f3b927 d="M312.8,153.5l.6,6.5-1,2.6-.5-3.8z"/><path color=#3d44e9 d="M350.6,280.9l1.7,1.8-2.9-2.3-1.7-2.4z"/><path color=#3d3de0 d="M439.7,288.4l3.4-.4-2.9-7.6-3.4,.2z"/><path color=#5bc859 d="M299.6,186l.8-1-1.4-3.4-.9-3.7z"/><path color=#325bf2 d="M283,274.9l1.7-7.1-2.9-.6-1.7,6.2z"/><path color=#f2b828 d="M319.7,159.5l.8-3.5-.9,5.4-.9,3.1z"/><path color=#f5c023 d="M312.3,146.9l.5,6.6-.9,5.3-.6-6.1z"/><path color=#f2b828 d="M304.6,164.8l.5-9.5-.9,2.5-.6,6.6z"/><path color=#3d33ce d="M259.9,291.4l1.6-.4-2.9-2-1.6,.5z"/><path color=#3b2ab8 d="M168.9,298.2l3.6-.5-2.8-1.4-3.6-.1z"/><path color=#4fc760 d="M299,191.3l.6-5.3-1.5-8.1-.5,7.9z"/><path color=#f7cd1d d="M311.7,140.2l.6,6.7-1,5.8-.6-6.1z"/><path color=#eeb42c d="M304,174.3l.6-9.5-1-.4-.6,6.6z"/><path color=#f1b729 d="M318.8,162.9l.9-3.4-1,5-.8,3z"/><path color=#34c571 d="M298.5,196.7l.5-5.4-1.4-5.5-.6,7.9z"/><path color=#3c2ec3 d="M235.1,295.3l5-1.2-2.9-1.7-5,.9z"/><path color=#f8d918 d="M311.1,133.6l.6,6.6-1,6.4-.5-6.1z"/><path color=#3a4bef d="M349,277.2l1.6,3.7-2.9-2.9-1.6-5.2z"/><path color=#1fc188 d="M331.7,199.9l.9,3.2-1.5-2.5-.8-5z"/><path color=#a9c33d d="M303.4,183.8l.6-9.5-1-3.3-.5,6.6z"/><path color=#394eef d="M281.3,279.1l1.7-4.2-2.9-1.5-1.7,3.5z"/><path color=#ddb930 d="M325.7,172.1l.9-.5-1-2.4-.9,4.4z"/><path color=#20c284 d="M297.9,202.1l.6-5.4-1.5-3-.5,7.9z"/><path color=#3b2cbe d="M211.9,296.4l5.1-.2-2.9-2-5.1,.6z"/><path color=#f8da17 d="M310.3,139.3l.8-5.7-.9,6.9-.9,5.2z"/><path color=#3b2ab7 d="M144.7,298.9l3.6-.5-2.7-2-3.5,.7z"/><path color=#3d32cd d="M258.2,292.3l1.7-.9-2.9-1.9-1.7,.6z"/><path color=#6cc753 d="M302.6,183.7l.8,.1-.9-6.2-.9,3.4z"/><path color=#25c47a d="M330.9,196.7l.8,3.2-1.4-4.3-.9-4.9z"/><path color=#3b2bba d="M189.6,297.8l3.6-.7-2.8-1.1-3.6,.3z"/><path color=#c7be35 d="M324.9,172.7l.8-.6-1,1.5-.8,4.4z"/><path color=#3d34d1 d="M370.4,290.1l1.7,0-2.9-.6-1.7-.2z"/><path color=#3d3ee2 d="M418.3,281.9l5.1-.1-1.5,3.8-5.1,.3z"/><path color=#f7d01c d="M309.5,145l.8-5.7-1,6.4-.8,5.1z"/><path color=#37c66f d="M330.3,190.2l.6,6.5-1.5-6-.5-2.2z"/><path color=#3e37d7 d="M406.7,286l5.1-.2-1.5,4.2-5,.3z"/><path color=#58c85a d="M301.8,183.6l.8,.1-1-2.7-.8,3.5z"/><path color=#3456f1 d="M347.3,273l1.7,4.2-2.9-4.4-1.7-3.6z"/><path color=#3d3de0 d="M436.4,288.5l3.3-.1-2.9-7.8-3.3-.3z"/><path color=#d9ba31 d="M324.3,167l.6,5.7-1,5.3-.6-7z"/><path color=#3c46ec d="M279.6,282l1.7-2.9-2.9-2.2-1.7,3z"/><path color=#3d33d0 d="M390.1,288.6l5.1,.9-2.9,1.8-5.1-.2z"/><path color=#48c764 d="M329.8,183.7l.5,6.5-1.4-1.7-.6-2.2z"/><path color=#f6c521 d="M308.6,151.3l.9-6.3-1,5.8-.8,4.6z"/><path color=#f0b62a d="M323.7,161.4l.6,5.6-1,4-.5-6.9z"/><path color=#f1b729 d="M317.6,159.2l1.7,1.5-1.4,6.8-1.7-3.9z"/><path color=#3d31cb d="M256.5,292.4l1.7-.1-2.9-2.2-1.7,.7z"/><path color=#0da6db d="M293.5,226l.5-1.8-.9,1.2-.6-.7z"/><path color=#5ec858 d="M329.2,177.2l.6,6.5-1.5,2.6-.5-2.2z"/><path color=#3b2bb9 d="M165.3,298.3l3.6-.1-2.8-2-3.5,.3z"/><path color=#3d34d2 d="M368.7,289.6l1.7,.5-2.9-.8-1.7,.1z"/><path color=#f4ba26 d="M306.1,152.8l1.7,4.8-1.5,3.6-1.7-4.6z"/><path color=#f3b927 d="M323.2,155.7l.5,5.7-.9,2.7-.6-6.9z"/><path color=#2f60f3 d="M346.4,269.9l.9,3.1-2.9-3.8-.9-4.5z"/><path color=#0da5dc d="M292.9,227.8l.6-1.8-1-1.3-.5-.7z"/><path color=#f4bb26 d="M307.8,157.6l.8-6.3-.9,4.1-.9,4.6z"/><path color=#8dc547 d="M328.6,176.1l.6,1.1-1.4,6.9-.6-4.5z"/><path color=#3d41e5 d="M277.9,284.9l1.7-2.9-2.9-2.1-1.7,2.9z"/><path color=#f4bc25 d="M322.3,153.2l.9,2.5-1,1.5-.8-.6z"/><path color=#eeb42c d="M314.9,167.1l.6,2.3-1,3.8-.5-6.6z"/><path color=#0da5dd d="M292.4,229.6l.5-1.8-.9-3.8-.6-.8z"/><path color=#f1b729 d="M316.8,163.4l.8-4.2-1.4,4.4-.8,4.8z"/><path color=#296af3 d="M345.6,266.8l.8,3.1-2.9-5.2-.8-4.4z"/><path color=#b2c23a d="M328.1,175l.5,1.1-1.4,3.5-.6-4.6z"/><path color=#3d31cb d="M254.8,292.9l1.7-.5-2.9-1.6-1.7,.1z"/><path color=#f0b62a d="M314.4,164.9l.5,2.2-.9-.5-.6-6.6z"/><path color=#cebc33 d="M327.5,173.9l.6,1.1-1.5,0-.5-4.6z"/><path color=#0ca1e1 d="M291.5,235.8l.9-6.2-1-6.4-.8,8.1z"/><path color=#f5bf24 d="M321.5,150.6l.8,2.6-.9,3.4-.9-.6z"/><path color=#3d35d3 d="M367,289.2l1.7,.4-2.9-.2-1.7-.5z"/><path color=#3b2bb9 d="M186,298.7l3.6-.9-2.8-1.5-3.6,.2z"/><path color=#efb52b d="M316,167.5l.8-4.1-1.4,5-.9,4.8z"/><path color=#0d9ee2 d="M338.5,230.3l.6,5.1-1.5,.9-.5-7.1z"/><path color=#f2b828 d="M313.8,162.7l.6,2.2-1-4.9-.6-6.5z"/><path color=#3c2dc1 d="M230,296.1l5.1-.8-2.9-2-5.1,1.5z"/><path color=#2177f2 d="M343.9,261l1.7,5.8-2.9-6.5-1.7-6.2z"/><path color=#0da4dd d="M338,225.2l.5,5.1-1.4-1.1-.6-7.1z"/><path color=#3d3de0 d="M276.2,286.7l1.7-1.8-2.9-2.1-1.7,1.2z"/><path color=#0d99e5 d="M290.7,241.9l.8-6.1-.9-4.5-.9,8.1z"/><path color=#f4bd25 d="M320.7,154.5l.8-3.9-1,5.4-.8,3.5z"/><path color=#f5be24 d="M313.2,155.3l.6,7.4-1-9.2-.5-6.6z"/><path color=#3b2cbd d="M206.9,297.5l5-1.1-2.9-1.6-5,.6z"/><path color=#f3b927 d="M305.5,165.2l.6-12.4-1,2.5-.5,9.5z"/><path color=#0facd5 d="M337.4,220.1l.6,5.1-1.5-3.1-.6-7.1z"/><path color=#3d31ca d="M253.1,293.3l1.7-.4-2.9-2-1.7,.6z"/><path color=#1abd9a d="M298.5,209.4l.8-6.7-2.8-1.1-.9,4.4z"/><path color=#f7cc1e d="M312.7,147.8l.5,7.5-.9-8.4-.6-6.7z"/><path color=#3d3de1 d="M431.3,288.8l5.1-.3-2.9-8.2-5.1,.9z"/><path color=#ebb52d d="M305,177.7l.5-12.5-.9-.4-.6,9.5z"/><path color=#f3b927 d="M319.8,158.4l.9-3.9-1,5-.9,3.4z"/><path color=#3e36d6 d="M365.3,288.8l1.7,.4-2.9-.3-1.7-.7z"/><path color=#3b2bb8 d="M161.7,299l3.6-.7-2.7-1.8-3.6,.6z"/><path color=#1884f0 d="M343.1,256.2l.8,4.8-2.9-6.9-.8-4.3z"/><path color=#3d3fe3 d="M413.2,281.7l5.1,.2-1.5,4-5-.1z"/><path color=#f8da18 d="M312.1,140.4l.6,7.4-1-7.6-.6-6.6z"/><path color=#74c650 d="M304.4,190.1l.6-12.4-1-3.4-.6,9.5z"/><path color=#3e37d9 d="M401.7,285.5l5,.5-1.4,4.3-5.1-.7z"/><path color=#15b8b0 d="M297.7,216.2l.8-6.8-2.9-3.4-.8,4.5z"/><path color=#deb830 d="M326.7,170.6l.8,3.3-.9-2.3-.9,.5z"/><path color=#12b4c2 d="M335.7,214.6l1.7,5.5-1.5-5.1-1.6-7.8z"/><path color=#3e3bde d="M274.5,287.5l1.7-.8-2.9-2.7-1.6,1.3z"/><path color=#f8dc17 d="M311.3,145.8l.8-5.4-1-6.8-.8,5.7z"/><path color=#148aed d="M342.2,251.5l.9,4.7-2.9-6.4-.9-4.3z"/><path color=#3d34d2 d="M385.1,288.8l5-.2-2.9,2.5-5,.2z"/><path color=#4fc760 d="M303.6,186.4l.8,3.7-1-6.3-.8-.1z"/><path color=#53c85d d="M301.9,188.3l.8-5.6-1.4,1.3-.9,1z"/><path color=#11b2ca d="M296.8,218.9l.9-2.7-2.9-5.7-.9,7.4z"/><path color=#ebb52d d="M325.8,167.3l.9,3.3-1,1.5-.8,.6z"/><path color=#3e37d7 d="M363.6,288.4l1.7,.4-2.9-.6-1.7-.3z"/><path color=#118fea d="M341.6,245.8l.6,5.7-2.9-6-.5-3.1z"/><path color=#f7d11c d="M310.4,151.3l.9-5.5-1-6.5-.8,5.7z"/><path color=#3b2bb9 d="M182.4,298.2l3.6,.5-2.8-2.2-3.6,.4z"/><path color=#16b9aa d="M334.9,210.9l.8,3.7-1.4-7.4-.9-2.1z"/><path color=#57c85b d="M302.7,182.7l.9,3.7-1-2.7-.8-.1z"/><path color=#46c765 d="M301,194l.9-5.7-1.5-3.3-.8,1z"/><path color=#efb52b d="M325.3,163l.5,4.3-.9,5.4-.6-5.7z"/><path color=#0facd5 d="M296,221.7l.8-2.8-2.9-1-.8,7.5z"/><path color=#0e95e8 d="M341.1,240.1l.5,5.7-2.8-3.4-.6-3.1z"/><path color=#3e39db d="M272.9,288.4l1.6-.9-2.8-2.2-1.7,2z"/><path color=#f6c621 d="M309.6,157.1l.8-5.8-.9-6.3-.9,6.3z"/><path color=#f2b828 d="M324.7,158.7l.6,4.3-1,4-.6-5.6z"/><path color=#37c66f d="M300.5,196.9l.5-2.9-1.4-8-.6,5.3z"/><path color=#0d99e5 d="M340.5,234.5l.6,5.6-2.9-.8-.6-3z"/><path color=#19bc9f d="M334,207.1l.9,3.8-1.5-5.8-.8-2z"/><path color=#0da7db d="M294.5,227.3l.5-4.4-1,1.3-.5,1.8z"/><path color=#3c30c8 d="M248.1,294.7l5-1.4-2.9-1.8-5,1.6z"/><path color=#f4ba26 d="M324.2,154.3l.5,4.4-1,2.7-.5-5.7z"/><path color=#3e38d9 d="M362,288.4l1.6,0-2.9-.5-1.6-.7z"/><path color=#27c479 d="M299.9,199.8l.6-2.9-1.5-5.6-.5,5.4z"/><path color=#0ca3df d="M293.9,231.7l.6-4.4-1-1.3-.6,1.8z"/><path color=#f4ba26 d="M308.7,163l.9-5.9-1-5.8-.8,6.3z"/><path color=#3b2cbc d="M203.3,298.1l3.6-.6-2.9-2.1-3.6,1z"/><path color=#3b2ab8 d="M158.2,299.7l3.5-.7-2.7-1.9-3.6,.5z"/><path color=#3c2dbf d="M224.9,297.2l5.1-1.1-2.9-1.3-5,.7z"/><path color=#1fc187 d="M299.3,202.7l.6-2.9-1.4-3.1-.6,5.4z"/><path color=#f5c222 d="M323.3,149.8l.9,4.5-1,1.4-.9-2.5z"/><path color=#efb52b d="M315.9,167.7l.5-2.2-.9,3.9-.6-2.3z"/><path color=#0ca0e1 d="M293.3,236.1l.6-4.4-1-3.9-.5,1.8z"/><path color=#1dc08f d="M332.3,203.4l1.7,3.7-1.4-4-1.7-6.4z"/><path color=#3e37d8 d="M271.2,289.9l1.7-1.5-2.9-1.1-1.7,.3z"/><path color=#efb52b d="M315.3,169.8l.6-2.1-1-.6-.5-2.2z"/><path color=#0d9be4 d="M292.5,240.2l.8-4.1-.9-6.5-.9,6.2z"/><path color=#f6c91f d="M322.5,145.3l.8,4.5-1,3.4-.8-2.6z"/><path color=#3d3de1 d="M426.2,288.6l5.1,.2-2.9-7.6-5,.6z"/><path color=#3e39db d="M360.3,287.8l1.7,.6-2.9-1.2-1.7-.4z"/><path color=#f0b62a d="M314.8,171.9l.5-2.1-.9-4.9-.6-2.2z"/><path color=#24c47b d="M331.8,197.6l.5,5.8-1.4-6.7-.6-6.5z"/><path color=#3d40e4 d="M408.2,281.7l5,0-1.4,4.1-5.1,.2z"/><path color=#3b2bb9 d="M178.8,298.9l3.6-.7-2.8-1.3-3.6,1z"/><path color=#3e39db d="M396.6,285.1l5.1,.4-1.5,4.1-5-.1z"/><path color=#0e96e7 d="M291.6,244.4l.9-4.2-1-4.4-.8,6.1z"/><path color=#f6c81f d="M321.6,149.6l.9-4.3-1,5.3-.8,3.9z"/><path color=#f1b729 d="M314.2,163.7l.6,8.2-1-9.2-.6-7.4z"/><path color=#3dc66b d="M331.2,191.8l.6,5.8-1.5-7.4-.5-6.5z"/><path color=#3e36d5 d="M269.5,290.7l1.7-.8-2.9-2.3-1.7,1z"/><path color=#f3b927 d="M306.5,166.4l.6-8.5-1-5.1-.6,12.4z"/><path color=#3d35d4 d="M380,288l5.1,.8-2.9,2.5-5.1-.1z"/><path color=#f4bb26 d="M319.1,154.9l1.7-1.1-1.5,6.9-1.7-1.5z"/><path color=#f5be24 d="M313.6,155.4l.6,8.3-1-8.4-.5-7.5z"/><path color=#56c85b d="M330.7,186l.5,5.8-1.4-8.1-.6-6.5z"/><path color=#f3b927 d="M307.5,160.5l1.7,5.1-1.4-8-1.7-4.8z"/><path color=#1090ea d="M291.8,250.6l.8-3.7-2.9-7.5-.8,6.9z"/><path color=#ecb42c d="M305.9,174.8l.6-8.4-1-1.2-.5,12.5z"/><path color=#f5c123 d="M320.8,153.8l.8-4.2-.9,4.9-.9,3.9z"/><path color=#3e3bdd d="M358.6,286.7l1.7,1.1-2.9-1-1.7-1.2z"/><path color=#f7cd1d d="M313.1,147.2l.5,8.2-.9-7.6-.6-7.4z"/><path color=#7cc64d d="M305.4,183.3l.5-8.5-.9,2.9-.6,12.4z"/><path color=#3b2bba d="M199.7,299.2l3.6-1.1-2.9-1.7-3.6,.8z"/><path color=#3b2ab7 d="M154.6,299.8l3.6-.1-2.8-2.1-3.5,0z"/><path color=#148aed d="M290.9,254.3l.9-3.7-2.9-4.3-.9,6.9z"/><path color=#f3b927 d="M318.3,158.3l.8-3.4-1.5,4.3-.8,4.2z"/><path color=#95c444 d="M329,181l1.7,5-1.5-8.8-1.7-3.3z"/><path color=#3d35d3 d="M267.8,291.4l1.7-.7-2.9-2.1-1.7,1.2z"/><path color=#f7d01c d="M312.2,152.4l.9-5.2-1-6.8-.8,5.4z"/><path color=#50c75f d="M304.8,183.7l.6-.4-1,6.8-.6-2.5z"/><path color=#3c2ec5 d="M243,296.1l5.1-1.4-2.9-1.6-5.1,1z"/><path color=#1884f0 d="M290.1,258.7l.8-4.4-2.9-1.1-.8,5.1z"/><path color=#55c85c d="M304.2,184.2l.6-.5-1,3.9-.5-2.4z"/><path color=#f2b828 d="M317.4,161.7l.9-3.4-1.5,5.1-.8,4.1z"/><path color=#0c9fe2 d="M340,231.4l.5,3.1-1.4,.9-.6-5.1z"/><path color=#f6c521 d="M311.4,157.5l.8-5.1-.9-6.6-.9,5.5z"/><path color=#3d3de0 d="M356.9,285.6l1.7,1.1-2.9-1.1-1.7-.7z"/><path color=#5bc859 d="M303.7,184.6l.5-.4-.9,1-.6-2.5z"/><path color=#3b2cbe d="M219.9,298.4l5-1.2-2.8-1.7-5.1,.7z"/><path color=#f0b62a d="M326,167.9l.8,4.4-1-5-.8-6.5z"/><path color=#0ca3df d="M339.4,228.3l.6,3.1-1.5-1.1-.5-5.1z"/><path color=#2078f2 d="M289.2,263.2l.9-4.5-2.9-.4-.9,5.1z"/><path color=#3b2bb9 d="M175.3,299.4l3.5-.5-2.8-1-3.5-.2z"/><path color=#d1bc32 d="M327.3,174.8l1.7,6.2-1.5-7.1-1.7-6.6z"/><path color=#3d34d0 d="M266.1,292.3l1.7-.9-2.9-1.6-1.7,.7z"/><path color=#f4bb26 d="M310.5,162.9l.9-5.4-1-6.2-.8,5.8z"/><path color=#0ea8d9 d="M338.8,225.3l.6,3-1.4-3.1-.6-5.1z"/><path color=#0ea7da d="M295.4,228.6l.6-6.9-1,1.2-.5,4.4z"/><path color=#f2b828 d="M325.1,163.4l.9,4.5-1-7.1-.8-6.5z"/><path color=#266ef3 d="M288.4,267.5l.8-4.3-2.9,.2-.8,2.2z"/><path color=#3d3ee2 d="M421.2,288.8l5-.2-2.8-6.8-5.1,.1z"/><path color=#0ca1e1 d="M294.9,235.5l.5-6.9-.9-1.3-.6,4.4z"/><path color=#f2b828 d="M309.7,168.3l.8-5.4-.9-5.8-.9,5.9z"/><path color=#3d40e4 d="M355.2,283.5l1.7,2.1-2.9-.7-1.7-2.2z"/><path color=#3d41e5 d="M403.1,281.5l5.1,.2-1.5,4.3-5-.5z"/><path color=#f4bb26 d="M324.3,162.2l.8,1.2-.9-9.1-.9-4.5z"/><path color=#0fadd3 d="M337.2,222l1.6,3.3-1.4-5.2-1.7-5.5z"/><path color=#f0b62a d="M316.8,168.2l.6-6.5-1,3.8-.5,2.2z"/><path color=#0d9be4 d="M294.3,242.5l.6-7-1-3.8-.6,4.4z"/><path color=#3e3bdd d="M391.6,284.8l5,.3-1.4,4.4-5.1-.9z"/><path color=#2c66f4 d="M287.6,271.8l.8-4.3-2.9-1.9-.8,2.2z"/><path color=#3b2bba d="M196.1,299.6l3.6-.4-2.9-2-3.6-.1z"/><path color=#3b2ab7 d="M151,300.1l3.6-.3-2.7-2.2-3.6,.8z"/><path color=#3d33cf d="M264.4,293l1.7-.7-2.9-1.8-1.7,.5z"/><path color=#51c75f d="M303.6,191.1l.6-5.5-1.5-2.9-.5,3.7z"/><path color=#efb52b d="M316.3,174.7l.5-6.5-.9-.5-.6,2.1z"/><path color=#3e37d8 d="M375,287.2l5,.8-2.9,3.2-5-1.1z"/><path color=#0e96e7 d="M293.5,244.7l.8-2.2-1-6.4-.8,4.1z"/><path color=#f5c023 d="M323.4,161.1l.9,1.1-1-12.4-.8-4.5z"/><path color=#3ec66a d="M303,196.6l.6-5.5-1.4-4.7-.6,3.8z"/><path color=#d2bb32 d="M315.7,181.1l.6-6.4-1-4.9-.5,2.1z"/><path color=#3c44e9 d="M353.5,281l1.7,2.5-2.9-.8-1.7-1.8z"/><path color=#12b3c6 d="M336.3,216.6l.9,5.4-1.5-7.4-.8-3.7z"/><path color=#325bf2 d="M285.9,276.5l1.7-4.7-2.9-4-1.7,7.1z"/><path color=#2cc576 d="M302.5,202l.5-5.4-1.4-6.4-.6,3.8z"/><path color=#0f93e8 d="M292.6,246.9l.9-2.2-1-4.5-.9,4.2z"/><path color=#f5c123 d="M322.6,162l.8-.9-.9-15.8-.9,4.3z"/><path color=#e6b62e d="M315.2,172.1l.5,9-.9-9.2-.6-8.2z"/><path color=#f1b729 d="M307.5,167.5l.5-4.4-.9-5.2-.6,8.5z"/><path color=#3d32cd d="M262.8,293.7l1.6-.7-2.9-2-1.6,.4z"/><path color=#15b8af d="M335.5,211.2l.8,5.4-1.4-5.7-.9-3.8z"/><path color=#3b2bb8 d="M171.7,300l3.6-.6-2.8-1.7-3.6,.5z"/><path color=#20c382 d="M301.6,204.5l.9-2.5-1.5-8-.8,4.3z"/><path color=#f2b828 d="M314.6,163.1l.6,9-1-8.4-.6-8.3z"/><path color=#efb52b d="M306.9,172l.6-4.5-1-1.1-.6,8.4z"/><path color=#f4bc25 d="M321.7,163l.9-1-1-12.4-.8,4.2z"/><path color=#3c2ec3 d="M238,296.9l5-.8-2.9-2-5,1.2z"/><path color=#f5c023 d="M314,154l.6,9.1-1-7.7-.5-8.2z"/><path color=#3b4aee d="M351.8,279.6l1.7,1.4-2.9-.1-1.6-3.7z"/><path color=#bfc037 d="M306.3,176.4l.6-4.4-1,2.8-.5,8.5z"/><path color=#1dc08e d="M300.8,206.9l.8-2.4-1.4-6.2-.9,4.4z"/><path color=#394def d="M284.2,281.9l1.7-5.4-2.9-1.6-1.7,4.2z"/><path color=#3b2cbe d="M214.8,298.2l5.1,.2-2.9-2.2-5.1,.2z"/><path color=#18bca0 d="M333.8,210.1l1.7,1.1-1.5-4.1-1.7-3.7z"/><path color=#f6c421 d="M313.2,158.9l.8-4.9-.9-6.8-.9,5.2z"/><path color=#8dc547 d="M305.8,179.8l.5-3.4-.9,6.9-.6,.4z"/><path color=#3d32cc d="M261.1,293.9l1.7-.2-2.9-2.3-1.7,.9z"/><path color=#f4ba26 d="M320.1,162.2l1.6,.8-.9-9.2-1.7,1.1z"/><path color=#3b2bba d="M192.5,299.8l3.6-.2-2.9-2.5-3.6,.7z"/><path color=#3b2ab7 d="M147.4,300.5l3.6-.4-2.7-1.7-3.6,.5z"/><path color=#3e38db d="M373.3,286.7l1.7,.5-2.9,2.9-1.7,0z"/><path color=#75c650 d="M305.2,183.2l.6-3.4-1,3.9-.6,.5z"/><path color=#f4ba26 d="M312.4,163.8l.8-4.9-1-6.5-.8,5.1z"/><path color=#3d3ee2 d="M416.1,289.6l5.1-.8-2.9-6.9-5.1-.2z"/><path color=#1cbf91 d="M333.2,205l.6,5.1-1.5-6.7-.5-5.8z"/><path color=#3653f0 d="M350.2,274l1.6,5.6-2.8-2.4-1.7-4.2z"/><path color=#5dc858 d="M304.7,186.6l.5-3.4-1,1-.5,.4z"/><path color=#3c45ea d="M282.5,284.8l1.7-2.9-2.9-2.8-1.7,2.9z"/><path color=#e1b72f d="M326.9,174.9l.9,2.3-1-4.9-.8-4.4z"/><path color=#3d43e8 d="M398.1,280.6l5,.9-1.4,4-5.1-.4z"/><path color=#f3b927 d="M319.2,162.4l.9-.2-1-7.3-.8,3.4z"/><path color=#22c47c d="M332.7,199.9l.5,5.1-1.4-7.4-.6-5.8z"/><path color=#3d3cdf d="M386.5,284.3l5.1,.5-1.5,3.8-5,.2z"/><path color=#f2b828 d="M311.5,168.7l.9-4.9-1-6.3-.9,5.4z"/><path color=#3d31cb d="M259.4,294.5l1.7-.6-2.9-1.6-1.7,.1z"/><path color=#38c66e d="M332.1,194.8l.6,5.1-1.5-8.1-.5-5.8z"/><path color=#efb52b d="M326.1,172.5l.8,2.4-.9-7-.9-4.5z"/><path color=#3e39db d="M371.6,287.2l1.7-.5-2.9,3.4-1.7-.5z"/><path color=#f0b62a d="M309,168.2l1.7,5.5-1.5-8.1-1.7-5.1z"/><path color=#3b2ab8 d="M168.1,300.8l3.6-.8-2.8-1.8-3.6,.1z"/><path color=#f3b927 d="M318.4,162.7l.8-.3-.9-4.1-.9,3.4z"/><path color=#138cec d="M343.1,250.1l.6,4.7-1.5-3.3-.6-5.7z"/><path color=#efb52b d="M310.7,173.7l.8-5-1-5.8-.8,5.4z"/><path color=#2e62f3 d="M348.5,268.5l1.7,5.5-2.9-1-1.7-6.2z"/><path color=#0f92e9 d="M342.5,245.4l.6,4.7-1.5-4.3-.5-5.7z"/><path color=#3d40e4 d="M280.8,286.7l1.7-1.9-2.9-2.8-1.7,2.9z"/><path color=#f0b62a d="M325.2,174.7l.9-2.2-1-9.1-.8-1.2z"/><path color=#f1b729 d="M317.8,166.5l.6-3.8-1-1-.6,6.5z"/><path color=#4fc760 d="M330.4,188.2l1.7,6.6-1.4-8.8-1.7-5z"/><path color=#0d98e6 d="M342,240.7l.5,4.7-1.4-5.3-.6-5.6z"/><path color=#3d31ca d="M257.7,294.9l1.7-.4-2.9-2.1-1.7,.5z"/><path color=#efb52b d="M317.3,170.2l.5-3.7-1,1.7-.5,6.5z"/><path color=#efb52b d="M324.4,176.9l.8-2.2-.9-12.5-.9-1.1z"/><path color=#3e3adc d="M369.9,286.5l1.7,.7-2.9,2.4-1.7-.4z"/><path color=#3b2bb9 d="M188.9,300.3l3.6-.5-2.9-2-3.6,.9z"/><path color=#d2bb32 d="M316.7,174l.6-3.8-1,4.5-.6,6.4z"/><path color=#0d9de3 d="M341.1,235.3l.9,5.4-1.5-6.2-.8-4.6z"/><path color=#3c2dc1 d="M232.9,297.8l5.1-.9-2.9-1.6-5.1,.8z"/><path color=#266ff3 d="M346.8,265l1.7,3.5-2.9-1.7-1.7-5.8z"/><path color=#3d3de0 d="M279.1,287.9l1.7-1.2-2.9-1.8-1.7,1.8z"/><path color=#f0b62a d="M323.6,174.5l.8,2.4-1-15.8-.8,.9z"/><path color=#d7ba31 d="M316.1,170.5l.6,3.5-1,7.1-.5-9z"/><path color=#3b2cbd d="M209.8,299.5l5-1.3-2.9-1.8-5,1.1z"/><path color=#89c549 d="M328.7,182.2l1.7,6-1.4-7.2-1.7-6.2z"/><path color=#f0b62a d="M308.4,168.7l.6-.5-1-5.1-.5,4.4z"/><path color=#0ca3df d="M340.3,229.9l.8,5.4-1.4-5.4-.9-4.6z"/><path color=#3c30c9 d="M256,296.1l1.7-1.2-2.9-2-1.7,.4z"/><path color=#17bba5 d="M301.4,215.4l.8-4.3-2.9-8.4-.8,6.7z"/><path color=#f0b62a d="M315.6,167.1l.5,3.4-.9,1.6-.6-9z"/><path color=#efb52b d="M307.9,169.1l.5-.4-.9-1.2-.6,4.5z"/><path color=#f0b62a d="M322.7,172.1l.9,2.4-1-12.5-.9,1z"/><path color=#3e3bde d="M368.2,285.5l1.7,1-2.9,2.7-1.7-.4z"/><path color=#1e7bf1 d="M345.9,261.5l.9,3.5-2.9-4-.8-4.8z"/><path color=#3b2ab8 d="M164.5,300.2l3.6,.6-2.8-2.5-3.6,.7z"/><path color=#f3b927 d="M315,163.7l.6,3.4-1-4-.6-9.1z"/><path color=#3d3fe3 d="M411.1,288.7l5,.9-2.9-7.9-5,0z"/><path color=#eeb42c d="M307.3,169.5l.6-.4-1,2.9-.6,4.4z"/><path color=#13b4be d="M300.6,219.8l.8-4.4-2.9-6-.8,6.8z"/><path color=#3e3add d="M277.4,289.8l1.7-1.9-2.9-1.2-1.7,.8z"/><path color=#3c44ea d="M393,280.9l5.1-.3-1.5,4.5-5-.3z"/><path color=#f3b927 d="M314.2,168.1l.8-4.4-1-9.7-.8,4.9z"/><path color=#1885f0 d="M345.1,258.1l.8,3.4-2.8-5.3-.9-4.7z"/><path color=#d0bc33 d="M306.7,175.9l.6-6.4-1,6.9-.5,3.4z"/><path color=#45c766 d="M305.1,195.7l.5-7.2-1.4-2.9-.6,5.5z"/><path color=#3d3ee2 d="M381.5,283.3l5,1-1.4,4.5-5.1-.8z"/><path color=#f0b62a d="M321,169.4l1.7,2.7-1-9.1-1.6-.8z"/><path color=#10afd1 d="M299.7,224.9l.9-5.1-2.9-3.6-.9,2.7z"/><path color=#9cc442 d="M306.2,182.2l.5-6.3-.9,3.9-.6,3.4z"/><path color=#3d3de0 d="M366.5,285.4l1.7,.1-2.9,3.3-1.7-.4z"/><path color=#2cc576 d="M304.5,202.9l.6-7.2-1.5-4.6-.6,5.5z"/><path color=#f1b729 d="M313.3,172.5l.9-4.4-1-9.2-.8,4.9z"/><path color=#3b2bb9 d="M185.2,300.4l3.7-.1-2.9-1.6-3.6-.5z"/><path color=#5fc858 d="M305.6,188.5l.6-6.3-1,1-.5,3.4z"/><path color=#1ec18b d="M303.9,210.1l.6-7.2-1.5-6.3-.5,5.4z"/><path color=#0eaad7 d="M298.9,229.9l.8-5-2.9-6-.8,2.8z"/><path color=#acc33c d="M327.9,181.9l.8,.3-.9-5-.9-2.3z"/><path color=#3e39db d="M275.8,290.5l1.6-.7-2.9-2.3-1.6,.9z"/><path color=#f1b729 d="M320.2,166.5l.8,2.9-.9-7.2-.9,.2z"/><path color=#efb52b d="M312.5,174.4l.8-1.9-.9-8.7-.9,4.9z"/><path color=#1abd99 d="M303.1,210.6l.8-.5-1.4-8.1-.9,2.5z"/><path color=#0da4dd d="M298.3,235.2l.6-5.3-2.9-8.2-.6,6.9z"/><path color=#3c2fc7 d="M251,296.8l5-.7-2.9-2.8-5,1.4z"/><path color=#bcc137 d="M327,181.7l.9,.2-1-7-.8-2.4z"/><path color=#f2b828 d="M319.3,163.7l.9,2.8-1-4.1-.8,.3z"/><path color=#3d3de0 d="M364.9,285.2l1.6,.2-2.9,3-1.6,0z"/><path color=#0d9ee2 d="M297.8,240.6l.5-5.4-2.9-6.6-.5,6.9z"/><path color=#e6b62e d="M311.6,176.3l.9-1.9-1-5.7-.8,5z"/><path color=#3b2bbc d="M206.2,300.1l3.6-.6-2.9-2-3.6,.6z"/><path color=#3c2dc0 d="M227.8,298.5l5.1-.7-2.9-1.7-5.1,1.1z"/><path color=#19bc9e d="M302.2,211.1l.9-.5-1.5-6.1-.8,2.4z"/><path color=#3b2ab8 d="M160.9,301.2l3.6-1-2.8-1.2-3.5,.7z"/><path color=#afc33b d="M326.2,187.2l.8-5.5-.9-9.2-.9,2.2z"/><path color=#f2b828 d="M318.8,164.7l.5-1-.9-1-.6,3.8z"/><path color=#0e97e6 d="M297.2,245.9l.6-5.3-2.9-5.1-.6,7z"/><path color=#3e37d8 d="M274.1,292.1l1.7-1.6-2.9-2.1-1.7,1.5z"/><path color=#ddb930 d="M310.8,176.4l.8-.1-.9-2.6-.9-2.7z"/><path color=#f1b729 d="M318.2,165.8l.6-1.1-1,1.8-.5,3.7z"/><path color=#7fc64c d="M325.4,192.7l.8-5.5-1-12.5-.8,2.2z"/><path color=#3d3ee2 d="M363.2,284.7l1.7,.5-2.9,3.2-1.7-.6z"/><path color=#efb52b d="M317.7,166.8l.5-1-.9,4.4-.6,3.8z"/><path color=#0f92e9 d="M295.5,248.6l1.7-2.7-2.9-3.4-1.7,4.4z"/><path color=#e9b52d d="M310,176.5l.8-.1-1-5.4-.8-2.8z"/><path color=#1abd9b d="M334.4,206.8l.8,4-1.4-.7-.9-7.6z"/><path color=#3d41e5 d="M406,289.1l5.1-.4-2.9-7-5.1-.2z"/><path color=#3b2bba d="M181.6,300.5l3.6-.1-2.8-2.2-3.6,.7z"/><path color=#81c54b d="M324.5,186.9l.9,5.8-1-15.8-.8-2.4z"/><path color=#0da6dc d="M340.1,231l1.6,3.5-2.9-9.2-1.6-3.3z"/><path color=#efb52b d="M317.1,169l.6-2.2-1,7.2-.6-3.5z"/><path color=#3d35d4 d="M272.4,292.8l1.7-.7-2.9-2.2-1.7,.8z"/><path color=#34c571 d="M331.4,196.3l1.7,3.9-1-5.4-1.7-6.6z"/><path color=#3c46ec d="M388,279.9l5,1-1.4,3.9-5.1-.5z"/><path color=#eeb42c d="M309.1,174.8l.9,1.7-1-8.3-.9,.7z"/><path color=#20c285 d="M333.5,202.9l.9,3.9-1.5-4.3-.8-7.7z"/><path color=#3d41e5 d="M376.4,282.5l5.1,.8-1.5,4.7-5-.8z"/><path color=#efb52b d="M316.5,171.2l.6-2.2-1,1.5-.5-3.4z"/><path color=#128deb d="M294.7,254.1l.8-5.5-2.9-1.7-.8,3.7z"/><path color=#b6c239 d="M323.7,181.2l.8,5.7-.9-12.4-.9-2.4z"/><path color=#1588ee d="M344.5,254.3l.6,3.8-1.4-3.3-.6-4.7z"/><path color=#3d40e4 d="M361.5,283.7l1.7,1-2.9,3.1-1.7-1.1z"/><path color=#f0b62a d="M316,173.4l.5-2.2-.9-4.1-.6-3.4z"/><path color=#eeb42c d="M308.3,173.1l.8,1.7-1-5.9-.8,.6z"/><path color=#0fabd5 d="M339.2,224.3l.9,6.7-2.9-9-.9-5.4z"/><path color=#46c766 d="M330.8,192.1l.6,4.2-1-8.1-.5-2z"/><path color=#128eeb d="M344,250.6l.5,3.7-1.4-4.2-.6-4.7z"/><path color=#3b2bbb d="M202.5,300.2l3.7-.1-2.9-2-3.6,1.1z"/><path color=#1588ee d="M293.8,259.6l.9-5.5-2.9-3.5-.9,3.7z"/><path color=#3b2ab7 d="M157.3,302.3l3.6-1.1-2.7-1.5-3.6,.1z"/><path color=#3d35d2 d="M270.7,293.5l1.7-.7-2.9-2.1-1.7,.7z"/><path color=#efb52b d="M315.1,177.3l.9-3.9-1-9.7-.8,4.4z"/><path color=#52c85e d="M330.3,188l.5,4.1-.9-5.9-.6-2z"/><path color=#0f93e9 d="M343.4,246.9l.6,3.7-1.5-5.2-.5-4.7z"/><path color=#dbb930 d="M322,176.6l1.7,4.6-1-9.1-1.7-2.7z"/><path color=#12b3c5 d="M338.4,217.6l.8,6.7-2.9-7.7-.8-5.4z"/><path color=#6dc753 d="M329.7,183.9l.6,4.1-1-3.8-.6-2z"/><path color=#3c2ec4 d="M245.9,298.1l5.1-1.3-2.9-2.1-5.1,1.4z"/><path color=#1a82f0 d="M293,263.4l.8-3.8-2.9-5.3-.8,4.4z"/><path color=#dcb930 d="M314.3,181.3l.8-4-.9-9.2-.9,4.4z"/><path color=#3d42e7 d="M359.8,282.8l1.7,.9-2.9,3-1.7-1.1z"/><path color=#0d98e6 d="M342.6,240.7l.8,6.2-1.4-6.2-.9-5.4z"/><path color=#3b2cbe d="M222.8,300.5l5-2-2.9-1.3-5,1.2z"/><path color=#2177f2 d="M292.1,267.2l.9-3.8-2.9-4.7-.9,4.5z"/><path color=#efb52b d="M321.1,170.6l.9,6-1-7.2-.8-2.9z"/><path color=#15b9ae d="M336.7,211.4l1.7,6.2-2.9-6.4-1.7-1.1z"/><path color=#3d34d0 d="M269,294l1.7-.5-2.9-2.1-1.7,.9z"/><path color=#c7be35 d="M313.4,180.1l.9,1.2-1-8.8-.8,1.9z"/><path color=#3b2bb9 d="M178,301.3l3.6-.8-2.8-1.6-3.5,.5z"/><path color=#d5ba32 d="M308.2,182.1l.5-7.2-1.4-5.4-.6,6.4z"/><path color=#0d9ee2 d="M341.7,234.5l.9,6.2-1.5-5.4-.8-5.4z"/><path color=#3d42e7 d="M374.7,282.1l1.7,.4-1.4,4.7-1.7-.5z"/><path color=#8bc548 d="M307.6,189.2l.6-7.1-1.5-6.2-.5,6.3z"/><path color=#286df3 d="M291.3,271.6l.8-4.4-2.9-4-.8,4.3z"/><path color=#f1b729 d="M320.3,164.7l.8,5.9-.9-4.1-.9-2.8z"/><path color=#c5bf35 d="M312.6,178.9l.8,1.2-.9-5.7-.9,1.9z"/><path color=#3c45ea d="M358.1,281.4l1.7,1.4-2.9,2.8-1.7-2.1z"/><path color=#4dc761 d="M307.1,196.4l.5-7.2-1.4-7-.6,6.3z"/><path color=#3d42e6 d="M401,288.9l5,.2-2.9-7.6-5-.9z"/><path color=#f2b828 d="M319.7,163l.6,1.7-1-1-.5,1z"/><path color=#2e62f3 d="M290.5,276l.8-4.4-2.9-4.1-.8,4.3z"/><path color=#3b2bba d="M198.9,300.7l3.6-.5-2.8-1-3.6,.4z"/><path color=#3d33cf d="M267.3,294.2l1.7-.2-2.9-1.7-1.7,.7z"/><path color=#bdc137 d="M311.8,181.8l.8-2.9-1-2.6-.8,.1z"/><path color=#35c570 d="M306.5,199.5l.6-3.1-1.5-7.9-.5,7.2z"/><path color=#3c49ee d="M382.9,278.7l5.1,1.2-1.5,4.4-5-1z"/><path color=#3b2ab7 d="M153.7,301.8l3.6,.5-2.7-2.5-3.6,.3z"/><path color=#f2b828 d="M319.2,161.3l.5,1.7-.9,1.7-.6,1.1z"/><path color=#3d43e8 d="M373,281.7l1.7,.4-1.4,4.6-1.7,.5z"/><path color=#22c47d d="M305.9,202.6l.6-3.1-1.4-3.8-.6,7.2z"/><path color=#f2b828 d="M318.6,159.6l.6,1.7-1,4.5-.5,1z"/><path color=#adc33c d="M310.9,184.7l.9-2.9-1-5.4-.8,.1z"/><path color=#3b49ee d="M356.4,280.3l1.7,1.1-2.9,2.1-1.7-2.5z"/><path color=#3457f1 d="M288.8,280l1.7-4-2.9-4.2-1.7,4.7z"/><path color=#1cbf90 d="M305.4,205.7l.5-3.1-1.4,.3-.6,7.2z"/><path color=#f1b729 d="M318.1,167.4l.5-7.8-.9,7.2-.6,2.2z"/><path color=#20c382 d="M332.3,204.4l1.7,1.2-.9-5.4-1.7-3.9z"/><path color=#3d32cd d="M265.6,295.9l1.7-1.7-2.9-1.2-1.6,.7z"/><path color=#b7c238 d="M310.1,180.7l.8,4-.9-8.2-.9-1.7z"/><path color=#19bc9e d="M304.8,210l.6-4.3-1.5,4.4-.5,.3z"/><path color=#efb52b d="M317.5,175.2l.6-7.8-1,1.6-.6,2.2z"/><path color=#3b2bb9 d="M174.4,301.4l3.6-.1-2.7-1.9-3.6,.6z"/><path color=#3d44e9 d="M371.4,281.5l1.6,.2-1.4,5.5-1.7-.7z"/><path color=#16baa7 d="M304.3,214.2l.5-4.2-1.4,.4-.6,.4z"/><path color=#3c2dc2 d="M240.8,299.3l5.1-1.2-2.9-2-5,.8z"/><path color=#d8ba31 d="M316.9,183l.6-7.8-1-4-.5,2.2z"/><path color=#d2bb32 d="M309.2,176.7l.9,4-1-5.9-.8-1.7z"/><path color=#394eef d="M354.7,277.8l1.7,2.5-2.9,.7-1.7-1.4z"/><path color=#2cc576 d="M331.8,198.1l.5,6.3-.9-8.1-.6-4.2z"/><path color=#3a4cef d="M287.1,283.3l1.7-3.3-2.9-3.5-1.7,5.4z"/><path color=#a1c340 d="M324.1,182.1l.5-1-.9,.1-.6-1.5z"/><path color=#15b8b1 d="M303.7,218.5l.6-4.3-1.5-3.4-.6,.3z"/><path color=#3b2cbd d="M217.7,300.8l5.1-.3-2.9-2.1-5.1-.2z"/><path color=#adc33c d="M316.1,186.5l.8-3.5-.9-9.6-.9,3.9z"/><path color=#41c669 d="M331.2,191.8l.6,6.3-1-6-.5-4.1z"/><path color=#3d31cb d="M264,296.4l1.6-.5-2.8-2.2-1.7,.2z"/><path color=#a5c33f d="M323.5,183.1l.6-1-1-2.4-.5-1.6z"/><path color=#13b5bb d="M302.9,218.4l.8,.1-1.5-7.4-.8,4.3z"/><path color=#3b2bba d="M195.3,301.3l3.6-.6-2.8-1.1-3.6,.2z"/><path color=#56c85b d="M330.7,185.6l.5,6.2-.9-3.8-.6-4.1z"/><path color=#3b2ab7 d="M150.1,302.2l3.6-.4-2.7-1.7-3.6,.4z"/><path color=#3c45eb d="M369.7,280.8l1.7,.7-1.5,5-1.7-1z"/><path color=#a8c33e d="M323,184.1l.5-1-.9-5-.6-1.5z"/><path color=#7ec64c d="M315.3,190l.8-3.5-1-9.2-.8,4z"/><path color=#3457f1 d="M353.1,274l1.6,3.8-2.9,1.8-1.6-5.6z"/><path color=#18bca1 d="M335.8,211.2l.9,.2-1.5-.6-.8-4z"/><path color=#12b3c5 d="M302,218.4l.9,0-1.5-3-.8,4.4z"/><path color=#3c45ea d="M285.4,285.8l1.7-2.5-2.9-1.4-1.7,2.9z"/><path color=#c6be35 d="M322.1,179.9l.9,4.2-1-7.5-.9-6z"/><path color=#3d43e8 d="M395.9,288.4l5.1,.5-2.9-8.3-5.1,.3z"/><path color=#79c64e d="M314.4,185.8l.9,4.2-1-8.7-.9-1.2z"/><path color=#6ec752 d="M329.9,189.8l1.7-2.6-2.9-5-1.7-.5z"/><path color=#3d31ca d="M262.3,296.5l1.7-.1-2.9-2.5-1.7,.6z"/><path color=#1abd99 d="M335,210.9l.8,.3-1.4-4.4-.9-3.9z"/><path color=#3a4def d="M377.9,277.8l5,.9-1.4,4.6-5.1-.8z"/><path color=#3c47ed d="M368,280.3l1.7,.5-1.5,4.7-1.7-.1z"/><path color=#eeb42c d="M321.3,175.6l.8,4.3-1-9.3-.8-5.9z"/><path color=#3b2ab8 d="M170.8,302.2l3.6-.8-2.7-1.4-3.6,.8z"/><path color=#9dc442 d="M313.6,181.5l.8,4.3-1-5.7-.8-1.2z"/><path color=#2d63f3 d="M351.4,270.4l1.7,3.6-2.9,0-1.7-5.5z"/><path color=#3d40e4 d="M283.7,288.3l1.7-2.5-2.9-1-1.7,1.9z"/><path color=#57c85a d="M329.1,190.1l.8-.3-2.9-8.1-.8,5.5z"/><path color=#94c445 d="M312.7,187.2l.9-5.7-1-2.6-.8,2.9z"/><path color=#3d31ca d="M260.6,296.4l1.7,.1-2.9-2-1.7,.4z"/><path color=#f1b729 d="M319.6,169.9l1.7,5.7-1-10.9-1.7-5.1z"/><path color=#4cc762 d="M328.3,190.4l.8-.3-2.9-2.9-.8,5.5z"/><path color=#3c48ee d="M366.3,280.1l1.7,.2-1.5,5.1-1.6-.2z"/><path color=#3b2bb9 d="M191.7,302l3.6-.7-2.8-1.5-3.6,.5z"/><path color=#3c2dc1 d="M235.8,299.8l5-.5-2.8-2.4-5.1,.9z"/><path color=#5ec858 d="M311.9,192.9l.8-5.7-.9-5.4-.9,2.9z"/><path color=#2670f3 d="M349.7,264.3l1.7,6.1-2.9-1.9-1.7-3.5z"/><path color=#3d3de0 d="M282,290.1l1.7-1.8-2.9-1.6-1.7,1.2z"/><path color=#51c75e d="M327.4,185.6l.9,4.8-2.9,2.3-.9-5.8z"/><path color=#f1b729 d="M319,175.2l.6-5.3-1-10.3-.5,7.8z"/><path color=#3b2cbc d="M212.7,301.8l5-1-2.9-2.6-5,1.3z"/><path color=#1abd99 d="M333.3,212.5l1.7-1.6-1-5.3-1.7-1.2z"/><path color=#a2c340 d="M309.6,188.3l.6-8-1.5-5.4-.5,7.2z"/><path color=#64c756 d="M311,186.6l.9,6.3-1-8.2-.8-4z"/><path color=#3c30c8 d="M258.9,297.6l1.7-1.2-2.9-1.5-1.7,1.2z"/><path color=#e7b62e d="M318.5,180.5l.5-5.3-.9-7.8-.6,7.8z"/><path color=#384fef d="M376.2,277.5l1.7,.3-1.5,4.7-1.7-.4z"/><path color=#86c54a d="M326.6,180.8l.8,4.8-2.9,1.3-.8-5.7z"/><path color=#51c75e d="M309.1,196.3l.5-8-1.4-6.2-.6,7.1z"/><path color=#3c49ee d="M364.6,279.5l1.7,.6-1.4,5.1-1.7-.5z"/><path color=#a6c33e d="M317.9,185.8l.6-5.3-1-5.3-.6,7.8z"/><path color=#a7c33e d="M310.2,180.3l.8,6.3-.9-5.9-.9-4z"/><path color=#3b2ab8 d="M167.2,302.3l3.6-.1-2.7-1.4-3.6-.6z"/><path color=#1ec18b d="M332.7,204.1l.6,8.4-1-8.1-.5-6.3z"/><path color=#33c572 d="M308.5,204.3l.6-8-1.5-7.1-.5,7.2z"/><path color=#1c7ff1 d="M348,258.3l1.7,6-2.9,.7-1.7-6.9z"/><path color=#9ac443 d="M325,184.5l.6-3.5-1,.1-.5,1z"/><path color=#0c9fe2 d="M341.5,238.5l1.7,.1-1.5-4.1-1.6-3.5z"/><path color=#3e3add d="M280.3,291.3l1.7-1.2-2.9-2.2-1.7,1.9z"/><path color=#2fc574 d="M332.2,195.7l.5,8.4-.9-6-.6-6.3z"/><path color=#3c45eb d="M390.9,287.5l5,.9-2.9-7.5-5-1z"/><path color=#22c47d d="M307.9,203.3l.6,1-1.4-7.9-.6,3.1z"/><path color=#7dc64d d="M324.5,188.1l.5-3.6-.9-2.4-.6,1z"/><path color=#10b0d0 d="M302.9,223.6l.6-6.6-2.9,2.8-.6,3.4z"/><path color=#3751f0 d="M374.5,276.2l1.7,1.3-1.5,4.6-1.7-.4z"/><path color=#4dc761 d="M331.6,187.2l.6,8.5-1-3.9-.5-6.2z"/><path color=#21c380 d="M307.4,202.4l.5,.9-1.4-3.8-.6,3.1z"/><path color=#60c757 d="M323.9,191.7l.6-3.6-1-5-.5,1z"/><path color=#3a4bef d="M362.9,278.5l1.7,1-1.4,5.2-1.7-1z"/><path color=#0eaad7 d="M302.3,230.2l.6-6.6-2.9-.4-.6,3.3z"/><path color=#1588ee d="M347.2,255.1l.8,3.2-2.9-.2-.8-5.6z"/><path color=#0ca3df d="M340.7,232.5l.8,6-1.4-7.5-.9-6.7z"/><path color=#3b2bb9 d="M188.1,302.3l3.6-.3-2.8-1.7-3.7,.1z"/><path color=#20c284 d="M306.8,201.4l.6,1-1.5,.2-.5,3.1z"/><path color=#0da4de d="M301.8,236.8l.5-6.6-2.9-3.7-.5,3.4z"/><path color=#3e38da d="M278.7,292.6l1.6-1.3-2.9-1.5-1.6,.7z"/><path color=#68c754 d="M323.1,189.1l.8,2.6-.9-7.6-.9-4.2z"/><path color=#12b4c0 d="M337.6,217.9l1.7,5.6-.9-5.9-1.7-6.2z"/><path color=#128deb d="M346.3,251.9l.9,3.2-2.9-2.6-.9-5.6z"/><path color=#1cbf92 d="M306.3,209.5l.5-8.1-1.4,4.3-.6,4.3z"/><path color=#0fabd6 d="M339.8,226.5l.9,6-1.5-8.2-.8-6.7z"/><path color=#3c2fc6 d="M253.9,298.4l5-.8-2.9-1.5-5,.7z"/><path color=#0d9de3 d="M300.9,243.6l.9-6.8-2.9-6.9-.9,8z"/><path color=#3752f0 d="M372.8,276.5l1.7-.3-1.5,5.5-1.6-.2z"/><path color=#94c445 d="M322.2,186.6l.9,2.5-1-9.2-.8-4.3z"/><path color=#16baa9 d="M305.7,217.7l.6-8.2-1.5,.5-.5,4.2z"/><path color=#394eef d="M361.2,277.9l1.7,.6-1.4,5.2-1.7-.9z"/><path color=#0e93e8 d="M345.5,247.4l.8,4.5-2.9-5-.8-6.2z"/><path color=#3b2bbb d="M209,302l3.7-.2-2.9-2.3-3.6,.6z"/><path color=#3c2dc0 d="M230.7,301.1l5.1-1.3-2.9-2-5.1,.7z"/><path color=#15b9ae d="M336.8,215.1l.8,2.8-.9-6.5-.9-.2z"/><path color=#11b2c6 d="M305.1,225.8l.6-8.1-1.4-3.5-.6,4.3z"/><path color=#0e96e7 d="M300.1,250.3l.8-6.7-2.9-5.7-.8,8z"/><path color=#3b2bb8 d="M163.6,302.8l3.6-.5-2.7-2.1-3.6,1z"/><path color=#3e37d7 d="M277,293.2l1.7-.6-2.9-2.1-1.7,1.6z"/><path color=#0d99e5 d="M344.6,242.8l.9,4.6-2.9-6.7-.9-6.2z"/><path color=#cbbd34 d="M320.6,180.2l1.6,6.4-.9-11-1.7-5.7z"/><path color=#16baa7 d="M336,212.4l.8,2.7-1-3.9-.8-.3z"/><path color=#10b0d0 d="M304.3,221.4l.8,4.4-1.4-7.3-.8-.1z"/><path color=#3653f0 d="M371.1,276.1l1.7,.4-1.4,5-1.7-.7z"/><path color=#3751f0 d="M359.6,276.7l1.6,1.2-1.4,4.9-1.7-1.4z"/><path color=#118feb d="M298.4,257.7l1.7-7.4-2.9-4.4-1.7,2.7z"/><path color=#12b3c5 d="M303.5,217l.8,4.4-1.4-3-.9,0z"/><path color=#d5ba32 d="M320,183l.6-2.8-1-10.3-.6,5.3z"/><path color=#3b2bba d="M184.4,302.7l3.7-.4-2.9-1.9-3.6,.1z"/><path color=#3e36d5 d="M275.3,294.1l1.7-.9-2.9-1.1-1.7,.7z"/><path color=#3c48ee d="M385.8,286.4l5.1,1.1-2.9-7.6-5.1-1.2z"/><path color=#adc33c d="M319.4,185.8l.6-2.8-1-7.8-.5,5.3z"/><path color=#158aed d="M297.6,259.8l.8-2.1-2.9-9.1-.8,5.5z"/><path color=#3555f1 d="M369.4,275.2l1.7,.9-1.4,4.7-1.7-.5z"/><path color=#7bc64e d="M318.9,188.5l.5-2.7-.9-5.3-.6,5.3z"/><path color=#3654f0 d="M357.9,275.8l1.7,.9-1.5,4.7-1.7-1.1z"/><path color=#19bd9c d="M333.7,208.2l.6,6.2-1-1.9-.6-8.4z"/><path color=#92c445 d="M326,187l.6-6.2-1,.2-.6,3.5z"/><path color=#3b2bbb d="M205.4,302.6l3.6-.6-2.8-1.9-3.7,.1z"/><path color=#1785ef d="M296.7,262l.9-2.2-2.9-5.7-.9,5.5z"/><path color=#3d35d3 d="M273.6,294.5l1.7-.4-2.9-1.3-1.7,.7z"/><path color=#21c380 d="M333.2,202l.5,6.2-1-4.1-.5-8.4z"/><path color=#3b2ab7 d="M160,303.8l3.6-1-2.7-1.6-3.6,1.1z"/><path color=#48c764 d="M312.5,191.7l.8,4.7-1.4-3.5-.9-6.3z"/><path color=#57c85b d="M325.4,193.1l.6-6.1-1-2.5-.5,3.6z"/><path color=#54c85c d="M318.1,191.3l1.7,0-2.9-8.3-1.6,7z"/><path color=#3bc66c d="M332.6,195.7l.6,6.3-1-6.3-.6-8.5z"/><path color=#3c2ec4 d="M248.8,299.7l5.1-1.3-2.9-1.6-5.1,1.3z"/><path color=#3457f1 d="M367.7,275l1.7,.2-1.4,5.1-1.7-.2z"/><path color=#44c767 d="M324.9,199.2l.5-6.1-.9-5-.6,3.6z"/><path color=#6cc753 d="M311.6,187.1l.9,4.6-1.5-5.1-.8-6.3z"/><path color=#3359f1 d="M356.2,273.7l1.7,2.1-1.5,4.5-1.7-2.5z"/><path color=#2078f2 d="M295,269.7l1.7-7.7-2.9-2.4-1.7,7.6z"/><path color=#3b2cbd d="M225.7,302.1l5-1-2.9-2.6-5,2z"/><path color=#3ec66b d="M324,198.4l.9,.8-1-7.5-.8-2.6z"/><path color=#0fadd3 d="M338.6,224.3l1.7,5.1-1-5.9-1.7-5.6z"/><path color=#3d34d1 d="M271.9,295.9l1.7-1.4-2.9-1-1.7,.5z"/><path color=#53c85d d="M317.3,189.9l.8,1.4-2.8-1.3-.9-4.2z"/><path color=#49c764 d="M330.9,194.9l1.7,.8-1-8.5-1.7,2.6z"/><path color=#66c755 d="M311.1,192.4l.5-5.3-1.4-6.8-.6,8z"/><path color=#3b2bb9 d="M180.8,303.4l3.6-.7-2.8-2.2-3.6,.8z"/><path color=#42c668 d="M310.5,197.6l.6-5.2-1.5-4.1-.5,8z"/><path color=#2a69f4 d="M294.2,274l.8-4.3-2.9-2.5-.8,4.4z"/><path color=#45c766 d="M323.2,197.6l.8,.8-.9-9.3-.9-2.5z"/><path color=#3358f1 d="M366.1,274.3l1.6,.7-1.4,5.1-1.7-.6z"/><path color=#6fc752 d="M316.5,188.5l.8,1.4-2.9-4.1-.8-4.3z"/><path color=#2f60f3 d="M354.5,271l1.7,2.7-1.5,4.1-1.6-3.8z"/><path color=#12b3c4 d="M337.8,219.1l.8,5.2-1-6.4-.8-2.8z"/><path color=#27c479 d="M310,202.8l.5-5.2-1.4-1.3-.6,8z"/><path color=#0d9ae5 d="M342.9,245.9l1.7-3.1-1.4-4.2-1.7-.1z"/><path color=#305ef2 d="M293.3,278.3l.9-4.3-2.9-2.4-.8,4.4z"/><path color=#3d33cf d="M270.2,296.5l1.7-.6-2.9-1.9-1.7,.2z"/><path color=#3b2bbb d="M201.8,302.8l3.6-.2-2.9-2.4-3.6,.5z"/><path color=#5dc858 d="M315.6,194.1l.9-5.6-2.9-7-.9,5.7z"/><path color=#44c766 d="M329.2,197.4l1.7-2.5-1-5.1-1.6,.6z"/><path color=#56c85b d="M321.5,190.5l1.7,7.1-1-11-1.6-6.4z"/><path color=#15b8b0 d="M336.9,213.8l.9,5.3-1-4-.8-2.7z"/><path color=#3a4cef d="M380.8,285.7l5,.7-2.9-7.7-5-.9z"/><path color=#3b2ab7 d="M156.4,303.8l3.6,0-2.7-1.5-3.6-.5z"/><path color=#325bf2 d="M364.4,273.3l1.7,1-1.5,5.2-1.7-1z"/><path color=#43c667 d="M314.8,199.8l.8-5.7-2.9-6.9-.8,5.7z"/><path color=#0d9ce4 d="M342.1,240.6l.8,5.3-1.4-7.4-.8-6z"/><path color=#3653f0 d="M291.7,282.8l1.6-4.5-2.8-2.3-1.7,4z"/><path color=#4ac763 d="M328.4,194.3l.8,3.1-.9-7-.9-4.8z"/><path color=#75c650 d="M321,190.8l.5-.3-.9-10.3-.6,2.8z"/><path color=#15b9ac d="M336.2,218.3l1.7-3.1-2.9-4.3-1.7,1.6z"/><path color=#3d32cd d="M268.5,296.8l1.7-.3-2.9-2.3-1.7,1.7z"/><path color=#0ca2e0 d="M341.3,235.4l.8,5.2-1.4-8.1-.9-6z"/><path color=#62c756 d="M320.4,191l.6-.2-1-7.8-.6,2.8z"/><path color=#3b2bb9 d="M177.2,303.4l3.6,0-2.8-2.1-3.6,.1z"/><path color=#5ec858 d="M327.5,191.1l.9,3.2-1-8.7-.8-4.8z"/><path color=#3c2dc2 d="M243.7,301l5.1-1.3-2.9-1.6-5.1,1.2z"/><path color=#315df2 d="M362.7,273.1l1.7,.2-1.5,5.2-1.7-.6z"/><path color=#55c85c d="M319.8,191.3l.6-.3-1-5.2-.5,2.7z"/><path color=#17bba5 d="M334.7,212.3l.5,4.1-.9-2-.6-6.2z"/><path color=#3b4aee d="M290,286.3l1.7-3.5-2.9-2.8-1.7,3.3z"/><path color=#58c85a d="M327,195.6l.5-4.5-.9-10.3-.6,6.2z"/><path color=#3b2cbc d="M220.6,302.3l5.1-.2-2.9-1.6-5.1,.3z"/><path color=#1cbf92 d="M334.1,208.3l.6,4-1-4.1-.5-6.2z"/><path color=#3d31cb d="M266.9,297.7l1.6-.9-2.9-.9-1.6,.5z"/><path color=#42c668 d="M326.4,200.1l.6-4.5-1-8.6-.6,6.1z"/><path color=#0facd5 d="M305.7,226.3l.9,1.7-1.5-2.2-.8-4.4z"/><path color=#394eef d="M379.1,285l1.7,.7-2.9-7.9-1.7-.3z"/><path color=#3b2bba d="M198.1,303.2l3.7-.4-2.9-2.1-3.6,.6z"/><path color=#21c47e d="M333.6,204.2l.5,4.1-.9-6.3-.6-6.3z"/><path color=#2dc575 d="M325.9,204.6l.5-4.5-1-7-.5,6.1z"/><path color=#3b2ab7 d="M152.8,304.2l3.6-.4-2.7-2-3.6,.4z"/><path color=#305ff3 d="M361,272.1l1.7,1-1.5,4.8-1.6-1.2z"/><path color=#10b0d0 d="M304.9,224.6l.8,1.7-1.4-4.9-.8-4.4z"/><path color=#3d44e9 d="M288.3,289l1.7-2.7-2.9-3-1.7,2.5z"/><path color=#0da7db d="M339.6,230.7l1.7,4.7-1-6-1.7-5.1z"/><path color=#30c573 d="M331.9,199.9l1.7,4.3-1-8.5-1.7-.8z"/><path color=#3d31ca d="M265.2,298l1.7-.3-2.9-1.3-1.7,.1z"/><path color=#0faed2 d="M304.3,230.3l.6-5.7-1.4-7.6-.6,6.6z"/><path color=#3751f0 d="M377.4,284.7l1.7,.3-2.9-7.5-1.7-1.3z"/><path color=#20c283 d="M309.7,209.1l1.7-7.8-2.9,3-1.7-2.9z"/><path color=#0da7db d="M303.8,236l.5-5.7-1.4-6.7-.6,6.6z"/><path color=#3b2bb9 d="M173.6,303.8l3.6-.4-2.8-2-3.6,.8z"/><path color=#2e62f3 d="M359.3,271.2l1.7,.9-1.4,4.6-1.7-.9z"/><path color=#0faed3 d="M338.7,223l.9,7.7-1-6.4-.8-5.2z"/><path color=#276ef3 d="M354.3,264.9l1.7,3.1-2.9,6-1.7-3.6z"/><path color=#3d40e3 d="M286.6,291l1.7-2-2.9-3.2-1.7,2.5z"/><path color=#0ca0e1 d="M303.2,241.7l.6-5.7-1.5-5.8-.5,6.6z"/><path color=#2ec574 d="M330.2,204.5l1.7-4.6-1-5-1.7,2.5z"/><path color=#3ac66d d="M313.9,196.9l.9,2.9-1.5-3.4-.8-4.7z"/><path color=#1bbe96 d="M309.2,216.1l.5-7-2.9-7.7-.5,8.1z"/><path color=#24c47b d="M324.6,203.1l1.7,4.2-1.4-8.1-1.7-1.6z"/><path color=#3d31ca d="M263.5,298.5l1.7-.5-2.9-1.5-1.7-.1z"/><path color=#39c66e d="M322.5,196.9l1.7,4.3-1-3.6-1.7-7.1z"/><path color=#13b5ba d="M337.9,215.2l.8,7.8-.9-3.9-.9-5.3z"/><path color=#3752f0 d="M375.7,284.7l1.7,0-2.9-8.5-1.7,.3z"/><path color=#14b7b5 d="M308.6,223.1l.6-7-2.9-6.6-.6,8.2z"/><path color=#3b2bba d="M194.5,304l3.6-.8-2.8-1.9-3.6,.7z"/><path color=#3c2dc0 d="M238.7,301.9l5-.9-2.9-1.7-5,.5z"/><path color=#4ac763 d="M313.1,194l.8,2.9-1.4-5.2-.9-4.6z"/><path color=#2c66f4 d="M357.6,269.5l1.7,1.7-1.4,4.6-1.7-2.1z"/><path color=#2078f2 d="M352.6,262.3l1.7,2.6-2.9,5.5-1.7-6.1z"/><path color=#0faed2 d="M308,230.1l.6-7-2.9-5.4-.6,8.1z"/><path color=#3d3cdf d="M284.9,292.2l1.7-1.2-2.9-2.7-1.7,1.8z"/><path color=#2cc575 d="M329.3,202.9l.9,1.6-1-7.1-.8-3.1z"/><path color=#3b2cbc d="M215.6,302.8l5-.5-2.9-1.5-5,1z"/><path color=#4ac763 d="M312.5,196.4l.6-2.4-1.5-6.9-.5,5.3z"/><path color=#3c30c8 d="M261.8,299.4l1.7-.9-2.9-2.1-1.7,1.2z"/><path color=#44c766 d="M320.8,196.9l1.7,0-1-6.4-1.7,.8z"/><path color=#36c66f d="M328.5,201.3l.8,1.6-.9-8.6-.9-3.2z"/><path color=#3752f0 d="M374,284.6l1.7,.1-2.9-8.2-1.7-.4z"/><path color=#3bc66c d="M312,198.9l.5-2.5-1.4-4-.6,5.2z"/><path color=#286cf3 d="M356,268l1.6,1.5-1.4,4.2-1.7-2.7z"/><path color=#15b8b0 d="M335.6,216.4l.6,1.9-1-1.9-.5-4.1z"/><path color=#2bc576 d="M311.4,201.3l.6-2.4-1.5-1.3-.5,5.2z"/><path color=#1884f0 d="M350.9,259.7l1.7,2.6-2.9,2-1.7-6z"/><path color=#3b2ab8 d="M170,304.5l3.6-.7-2.8-1.6-3.6,.1z"/><path color=#34c571 d="M327.9,204.2l.6-2.9-1-10.2-.5,4.5z"/><path color=#3e3adc d="M283.2,293.8l1.7-1.6-2.9-2.1-1.7,1.2z"/><path color=#42c668 d="M320,199.3l.8-2.4-1-5.6-.8,0z"/><path color=#17bba3 d="M335.1,214.6l.5,1.8-.9-4.1-.6-4z"/><path color=#25c47a d="M327.4,207.1l.5-2.9-.9-8.6-.6,4.5z"/><path color=#1abe98 d="M334.5,212.7l.6,1.9-1-6.3-.5-4.1z"/><path color=#3654f0 d="M372.3,284.1l1.7,.5-2.9-8.5-1.7-.9z"/><path color=#1fc287 d="M326.8,210l.6-2.9-1-7-.5,4.5z"/><path color=#3dc66b d="M319.1,201.7l.9-2.4-1-8-.9,0z"/><path color=#3b2bb9 d="M190.9,303.8l3.6,.2-2.8-2-3.6,.3z"/><path color=#148aed d="M349.2,255.5l1.7,4.2-2.9-1.4-1.7-6.4z"/><path color=#3e38d9 d="M281.6,294.9l1.6-1.1-2.9-2.5-1.6,1.3z"/><path color=#3fc66a d="M318.3,198.8l.8,2.9-1-10.4-.8-1.4z"/><path color=#1fc286 d="M332.8,205l1.7,7.7-.9-8.5-1.7-4.3z"/><path color=#3c2fc7 d="M256.8,300l5-.6-2.9-1.8-5,.8z"/><path color=#0d98e6 d="M303.8,249.1l.9-2.6-2.9-9.7-.9,6.8z"/><path color=#3555f1 d="M370.6,283.9l1.7,.2-2.9-8.9-1.7-.2z"/><path color=#48c764 d="M317.4,196l.9,2.8-1-8.9-.8-1.4z"/><path color=#118feb d="M348.4,254l.8,1.5-2.9-3.6-.8-4.5z"/><path color=#3b2bbb d="M211.9,303.7l3.7-.9-2.9-1-3.7,.2z"/><path color=#3b2cbe d="M233.6,303.3l5.1-1.4-2.9-2.1-5.1,1.3z"/><path color=#0ea9d8 d="M339.7,228.6l.8,4.7-.9-2.6-.9-7.7z"/><path color=#0f93e8 d="M303,251.7l.8-2.6-2.9-5.5-.8,6.7z"/><path color=#3e37d7 d="M279.9,295.2l1.7-.3-2.9-2.3-1.7,.6z"/><path color=#3b2bb8 d="M166.3,304.2l3.7,.3-2.8-2.2-3.6,.5z"/><path color=#43c667 d="M316.6,200l.8-4-.9-7.5-.9,5.6z"/><path color=#20c285 d="M331.2,211.5l1.6-6.5-.9-5.1-1.7,4.6z"/><path color=#0f93e9 d="M347.5,252.4l.9,1.6-2.9-6.6-.9-4.6z"/><path color=#27c479 d="M323.4,203.3l1.7,1.6-.9-3.7-1.7-4.3z"/><path color=#10b0cf d="M338.9,223.8l.8,4.8-1-5.6-.8-7.8z"/><path color=#0ea9d8 d="M307.2,231.1l.8-1-1.4-2.1-.9-1.7z"/><path color=#3457f1 d="M369,283l1.6,.9-2.9-8.9-1.6-.7z"/><path color=#138cec d="M301.3,260.2l1.7-8.5-2.9-1.4-1.7,7.4z"/><path color=#30c573 d="M315.7,203.9l.9-3.9-1-5.9-.8,5.7z"/><path color=#0ea9d8 d="M306.4,232.1l.8-1-1.5-4.8-.8-1.7z"/><path color=#1dc08d d="M330.3,211.5l.9,0-1-7-.9-1.6z"/><path color=#0e95e7 d="M345.8,248l1.7,4.4-2.9-9.6-1.7,3.1z"/><path color=#3b2bb9 d="M187.2,304.6l3.7-.8-2.8-1.5-3.7,.4z"/><path color=#3e36d5 d="M278.2,296l1.7-.8-2.9-2-1.7,.9z"/><path color=#12b3c4 d="M337.2,225.1l1.7-1.3-1-8.6-1.7,3.1z"/><path color=#2ac577 d="M314.9,203.8l.8,.1-.9-4.1-.9-2.9z"/><path color=#0da7db d="M305.8,236.9l.6-4.8-1.5-7.5-.6,5.7z"/><path color=#2fc574 d="M321.8,202.5l1.6,.8-.9-6.4-1.7,0z"/><path color=#1785ef d="M300.5,264.9l.8-4.7-2.9-2.5-.8,2.1z"/><path color=#1ec18a d="M329.5,211.5l.8,0-1-8.6-.8-1.6z"/><path color=#3359f1 d="M367.3,282.4l1.7,.6-2.9-8.7-1.7-1z"/><path color=#0ca1e1 d="M305.2,241.7l.6-4.8-1.5-6.6-.5,5.7z"/><path color=#2d64f4 d="M360.8,276.5l1.7,.7-1.5-5.1-1.7-.9z"/><path color=#30c573 d="M314.1,203.6l.8,.2-1-6.9-.8-2.9z"/><path color=#0e97e6 d="M345,246.6l.8,1.4-2.9-2.1-.8-5.3z"/><path color=#1ec08c d="M328.9,212.8l.6-1.3-1-10.2-.6,2.9z"/><path color=#3b2bba d="M208.3,304.5l3.6-.8-2.9-1.7-3.6,.6z"/><path color=#0d9be4 d="M304.7,246.5l.5-4.8-1.4-5.7-.6,5.7z"/><path color=#1c7ef1 d="M299.6,269.6l.9-4.7-2.9-5.1-.9,2.2z"/><path color=#3d35d3 d="M276.5,297.2l1.7-1.2-2.9-1.9-1.7,.4z"/><path color=#29c478 d="M320.9,207.2l.9-4.7-1-5.6-.8,2.4z"/><path color=#13b5bc d="M335.5,219.9l1.7,5.2-1-6.8-1.7-5.6z"/><path color=#1bbf94 d="M328.3,214.1l.6-1.3-1-8.6-.5,2.9z"/><path color=#0d9be4 d="M344.2,245.1l.8,1.5-2.9-6-.8-5.2z"/><path color=#1cbf90 d="M326.1,208.5l1.7,6.9-1.5-8.1-1.7-4.2z"/><path color=#3b2ab8 d="M162.7,305.1l3.6-.9-2.7-1.4-3.6,1z"/><path color=#3c2ec5 d="M251.7,301.5l5.1-1.5-2.9-1.6-5.1,1.3z"/><path color=#29c578 d="M312.4,207l1.7-3.4-1-9.6-1.7,7.3z"/><path color=#19bd9c d="M327.8,215.4l.5-1.3-.9-7-.6,2.9z"/><path color=#20c283 d="M320.1,212l.8-4.8-.9-7.9-.9,2.4z"/><path color=#325bf2 d="M365.6,282.4l1.7,0-2.9-9.1-1.7-.2z"/><path color=#2b67f4 d="M359.1,275.6l1.7,.9-1.5-5.3-1.7-1.7z"/><path color=#2571f3 d="M297.9,275.3l1.7-5.7-2.9-7.6-1.7,7.7z"/><path color=#3b2cbd d="M228.6,303.4l5-.1-2.9-2.2-5,1z"/><path color=#0ca0e1 d="M342.5,238.5l1.7,6.6-2.9-9.7-1.7-4.7z"/><path color=#3d34d1 d="M274.8,298l1.7-.8-2.9-2.7-1.7,1.4z"/><path color=#20c283 d="M319.2,207.8l.9,4.2-1-10.3-.8-2.9z"/><path color=#18bca1 d="M333.8,214.7l1.7,5.2-1-7.2-1.7-7.7z"/><path color=#3b2bb9 d="M183.6,305.1l3.6-.5-2.8-1.9-3.6,.7z"/><path color=#2d64f4 d="M297.1,277.5l.8-2.2-2.9-5.6-.8,4.3z"/><path color=#29c577 d="M318.4,203.6l.8,4.2-.9-9-.9-2.8z"/><path color=#315cf2 d="M363.9,282.2l1.7,.2-2.9-9.3-1.7-1z"/><path color=#296af3 d="M357.4,274.6l1.7,1-1.5-6.1-1.6-1.5z"/><path color=#0da5dd d="M340.7,234.2l.8,1.7-1-2.6-.8-4.7z"/><path color=#315cf2 d="M296.2,279.6l.9-2.1-2.9-3.5-.9,4.3z"/><path color=#3d33cf d="M273.1,298.1l1.7-.1-2.9-2.1-1.7,.6z"/><path color=#2ac577 d="M317.5,205.8l.9-2.2-1-7.6-.8,4z"/><path color=#19bc9d d="M332.1,217.9l1.7-3.2-1-9.7-1.6,6.5z"/><path color=#3b2bba d="M204.6,304.8l3.7-.3-2.9-1.9-3.6,.2z"/><path color=#1fc188 d="M324.4,209.7l1.7-1.2-1-3.6-1.7-1.6z"/><path color=#0ea9d8 d="M339.8,232.5l.9,1.7-1-5.6-.8-4.8z"/><path color=#3b2ab7 d="M159.1,305.5l3.6-.4-2.7-1.3-3.6,0z"/><path color=#1cbf91 d="M311.2,216.2l1.7-6.3-1.5-8.6-1.7,7.8z"/><path color=#21c380 d="M316.7,208.1l.8-2.3-.9-5.8-.9,3.9z"/><path color=#2670f3 d="M355.7,272.9l1.7,1.7-1.4-6.6-1.7-3.1z"/><path color=#3653f0 d="M294.6,283.3l1.6-3.7-2.9-1.3-1.6,4.5z"/><path color=#0eaad6 d="M338.1,231.8l1.7,.7-.9-8.7-1.7,1.3z"/><path color=#3d32ce d="M271.4,298.9l1.7-.8-2.9-1.6-1.7,.3z"/><path color=#1fc187 d="M315.9,210.6l.8-2.5-1-4.2-.8-.1z"/><path color=#16baa7 d="M330.4,219.1l1.7-1.2-.9-6.4-1.7,0z"/><path color=#15b9ac d="M310.6,222.8l.6-6.6-1.5-7.1-.5,7z"/><path color=#20c284 d="M322.7,208l1.7,1.7-1-6.4-1.6-.8z"/><path color=#3b2bb9 d="M180,304.9l3.6,.2-2.8-1.7-3.6,0z"/><path color=#11b1cc d="M310,229.4l.6-6.6-1.4-6.7-.6,7z"/><path color=#3c2dc2 d="M246.6,302.3l5.1-.8-2.9-1.8-5.1,1.3z"/><path color=#1ec08b d="M315,213.2l.9-2.6-1-6.8-.8-.2z"/><path color=#2276f2 d="M354,271.4l1.7,1.5-1.4-8-1.7-2.6z"/><path color=#3b4aee d="M292.9,287.6l1.7-4.3-2.9-.5-1.7,3.5z"/><path color=#1b7ff1 d="M351.9,266.7l1.6,1.6-.9-6-1.7-2.6z"/><path color=#0ea9d8 d="M309.5,236l.5-6.6-1.4-6.3-.6,7z"/><path color=#3b2cbd d="M223.5,304.5l5.1-1.1-2.9-1.3-5.1,.2z"/><path color=#1dc08d d="M321.9,215.2l.8-7.2-.9-5.5-.9,4.7z"/><path color=#0fadd3 d="M336.5,227.2l1.6,4.6-.9-6.7-1.7-5.2z"/><path color=#3d32cd d="M269.8,298.9l1.6,0-2.9-2.1-1.6,.9z"/><path color=#15b9ae d="M328.7,220.6l1.7-1.5-.9-7.6-1.7,3.9z"/><path color=#3b2bba d="M201,305.5l3.6-.7-2.8-2-3.7,.4z"/><path color=#1cbf90 d="M313.3,212.8l1.7,.4-.9-9.6-1.7,3.4z"/><path color=#0ca4de d="M307.8,238.4l1.7-2.4-1.5-5.9-1.6,2z"/><path color=#17bba3 d="M321,222.4l.9-7.2-1-8-.8,4.8z"/><path color=#3b2ab7 d="M155.5,306l3.6-.5-2.7-1.7-3.6,.4z"/><path color=#3d43e8 d="M291.2,290.1l1.7-2.5-2.9-1.3-1.7,2.7z"/><path color=#1785ef d="M350.2,263.7l1.7,3-1-7-1.7-4.2z"/><path color=#17bba5 d="M320.2,216.8l.8,5.6-.9-10.4-.9-4.2z"/><path color=#12b3c4 d="M334.8,224.4l1.7,2.8-1-7.3-1.7-5.2z"/><path color=#3d31cb d="M268.1,299.7l1.7-.8-2.9-1.2-1.7,.3z"/><path color=#16baa6 d="M327.1,216.1l1.6,4.5-.9-5.2-1.7-6.9z"/><path color=#0c9fe2 d="M307,243.7l.8-5.3-1.4-6.3-.9,7.2z"/><path color=#1cbf92 d="M319.4,211.1l.8,5.7-1-9-.8-4.2z"/><path color=#3359f1 d="M362.2,281.9l1.7,.3-1.4-5-1.7-.7z"/><path color=#3b2bb9 d="M176.3,305.2l3.7-.3-2.8-1.5-3.6,.4z"/><path color=#0ca1e1 d="M341.6,239.8l.9-1.3-1-2.6-.8-1.7z"/><path color=#0d99e5 d="M306.1,249l.9-5.3-1.5-4.4-.8,7.2z"/><path color=#3d3fe3 d="M289.5,291.5l1.7-1.4-2.9-1.1-1.7,2z"/><path color=#1589ed d="M348.5,261.5l1.7,2.2-1-8.2-1.7-3.1z"/><path color=#1ec18b d="M318.5,211.7l.9-.6-1-7.5-.9,2.2z"/><path color=#13b5be d="M333.1,224.4l1.7,0-1-9.7-1.7,3.2z"/><path color=#3d31ca d="M266.4,300.4l1.7-.7-2.9-1.7-1.7,.5z"/><path color=#19bd9c d="M325.4,216.3l1.7-.2-1-7.6-1.7,1.2z"/><path color=#0ca1e1 d="M340.8,241.1l.8-1.3-.9-5.6-.9-1.7z"/><path color=#3b2bba d="M197.3,305.2l3.7,.3-2.9-2.3-3.6,.8z"/><path color=#3c2dc1 d="M241.6,303.1l5-.8-2.9-1.3-5,.9z"/><path color=#1dbf90 d="M317.7,212.2l.8-.5-1-5.9-.8,2.3z"/><path color=#325bf2 d="M360.5,281.7l1.7,.2-1.4-5.4-1.7-.9z"/><path color=#3d3de0 d="M287.8,293.5l1.7-2-2.9-.5-1.7,1.2z"/><path color=#128deb d="M346.8,258.4l1.7,3.1-1-9.1-1.7-4.4z"/><path color=#3b2cbc d="M218.5,304.8l5-.3-2.9-2.2-5,.5z"/><path color=#0ca2e0 d="M339.1,238.5l1.7,2.6-1-8.6-1.7-.7z"/><path color=#1abd9a d="M316.8,217.5l.9-5.3-1-4.1-.8,2.5z"/><path color=#12b3c5 d="M331.4,226.6l1.7-2.2-1-6.5-1.7,1.2z"/><path color=#3c30c8 d="M264.7,300.8l1.7-.4-2.9-1.9-1.7,.9z"/><path color=#19bd9d d="M323.7,217.8l1.7-1.5-1-6.6-1.7-1.7z"/><path color=#16baa8 d="M316,222.7l.8-5.2-.9-6.9-.9,2.6z"/><path color=#315df2 d="M358.8,281.2l1.7,.5-1.4-6.1-1.7-1z"/><path color=#2570f3 d="M352.8,273.7l1.7,.7-1-6.1-1.6-1.6z"/><path color=#3b2bb8 d="M172.7,306.3l3.6-1.1-2.7-1.4-3.6,.7z"/><path color=#3e3add d="M286.1,294.1l1.7-.6-2.9-1.3-1.7,1.6z"/><path color=#1091e9 d="M345.1,256.4l1.7,2-1-10.4-1.6-2.9z"/><path color=#16baa7 d="M322.8,222.3l.9-4.5-1-9.8-.8,7.2z"/><path color=#0da6dc d="M337.4,234.5l1.7,4-1-6.7-1.6-4.6z"/><path color=#11b2c9 d="M329.7,225.8l1.7,.8-1-7.5-1.7,1.5z"/><path color=#15b9ab d="M314.3,218.5l1.7,4.2-1-9.5-1.7-.4z"/><path color=#15b9ac d="M312.6,223.3l1.7-4.8-1.4-8.6-1.7,6.3z"/><path color=#12b3c2 d="M322,226.7l.8-4.4-.9-7.1-.9,7.2z"/><path color=#305ff3 d="M357.2,280.9l1.6,.3-1.4-6.6-1.7-1.7z"/><path color=#3b2bba d="M193.7,305.7l3.6-.5-2.8-1.2-3.6-.2z"/><path color=#2275f2 d="M351.1,271.9l1.7,1.8-.9-7-1.7-3z"/><path color=#3e39db d="M284.4,294.8l1.7-.7-2.9-.3-1.6,1.1z"/><path color=#0e96e7 d="M343.4,252.1l1.7,4.3-.9-11.3-1.7-6.6z"/><path color=#12b3c5 d="M321.2,223l.8,3.7-1-4.3-.8-5.6z"/><path color=#0ea9d7 d="M335.7,234.1l1.7,.4-.9-7.3-1.7-2.8z"/><path color=#11b2c8 d="M312.1,229.5l.5-6.2-1.4-7.1-.6,6.6z"/><path color=#12b4c2 d="M328,223.8l1.7,2-1-5.2-1.6-4.5z"/><path color=#3c2fc7 d="M259.6,301.6l5.1-.8-2.9-1.4-5,.6z"/><path color=#0f93e9 d="M306.7,256.2l.9-4.6-2.9-5.1-.9,2.6z"/><path color=#0eaad7 d="M311.5,235.8l.6-6.3-1.5-6.7-.6,6.6z"/><path color=#15b8ae d="M320.3,219.3l.9,3.7-1-6.2-.8-5.7z"/><path color=#3b2bbc d="M214.8,305.6l3.7-.8-2.9-2-3.7,.9z"/><path color=#3c2dbf d="M236.5,303.9l5.1-.8-2.9-1.2-5.1,1.4z"/><path color=#2e62f3 d="M355.5,280.5l1.7,.4-1.5-8-1.7-1.5z"/><path color=#0ca3df d="M310.9,242l.6-6.2-1.5-6.4-.5,6.6z"/><path color=#128eeb d="M305.9,260.8l.8-4.6-2.9-7.1-.8,2.6z"/><path color=#1e7af1 d="M349.5,270.6l1.6,1.3-.9-8.2-1.7-2.2z"/><path color=#3e37d9 d="M282.8,296.4l1.6-1.6-2.8,.1-1.7,.3z"/><path color=#0d98e6 d="M341.8,253.9l1.6-1.8-.9-13.6-1.7,2.6z"/><path color=#3b2ab8 d="M169.1,306.4l3.6-.1-2.7-1.8-3.7-.3z"/><path color=#0facd5 d="M334,230.8l1.7,3.3-.9-9.7-1.7,0z"/><path color=#14b6b8 d="M326.3,222.8l1.7,1-.9-7.7-1.7,.2z"/><path color=#16baa7 d="M318.6,221.5l1.7-2.2-.9-8.2-1.7,1.1z"/><path color=#0d9ee2 d="M309.2,244.8l1.7-2.8-1.4-6-1.7,2.4z"/><path color=#1589ed d="M304.2,262.6l1.7-1.8-2.9-9.1-1.7,8.5z"/><path color=#1b80f1 d="M347.8,268.8l1.7,1.8-1-9.1-1.7-3.1z"/><path color=#3e36d6 d="M281.1,296.8l1.7-.4-2.9-1.2-1.7,.8z"/><path color=#0d98e6 d="M340.1,252l1.7,1.9-1-12.8-1.7-2.6z"/><path color=#3b2bba d="M190,306.3l3.7-.6-2.8-1.9-3.7,.8z"/><path color=#14b7b3 d="M317.8,224.3l.8-2.8-.9-9.3-.9,5.3z"/><path color=#0fabd6 d="M332.4,234.1l1.6-3.3-.9-6.4-1.7,2.2z"/><path color=#13b5be d="M324.7,227.6l1.6-4.8-.9-6.5-1.7,1.5z"/><path color=#0d9ae4 d="M308.4,248.2l.8-3.4-1.4-6.4-.8,5.3z"/><path color=#1983f0 d="M303.3,267.2l.9-4.6-2.9-2.4-.8,4.7z"/><path color=#11b2c6 d="M317,227l.8-2.7-1-6.8-.8,5.2z"/><path color=#2f61f3 d="M353.8,280.6l1.7-.1-1-6.1-1.7-.7z"/><path color=#0e96e7 d="M307.6,251.6l.8-3.4-1.4-4.5-.9,5.3z"/><path color=#3b2bbb d="M211.1,305.9l3.7-.3-2.9-1.9-3.6,.8z"/><path color=#2077f2 d="M302.5,271.8l.8-4.6-2.8-2.3-.9,4.7z"/><path color=#1885f0 d="M346.1,267.7l1.7,1.1-1-10.4-1.7-2z"/><path color=#3e36d5 d="M279.4,296.9l1.7-.1-2.9-.8-1.7,1.2z"/><path color=#11b1cc d="M323.8,229.3l.9-1.7-1-9.8-.9,4.5z"/><path color=#0d9be4 d="M338.4,249.4l1.7,2.6-1-13.5-1.7-4z"/><path color=#0fabd6 d="M330.7,231l1.7,3.1-1-7.5-1.7-.8z"/><path color=#3b2bb9 d="M165.4,306.7l3.7-.3-2.8-2.2-3.6,.9z"/><path color=#3c2fc6 d="M254.6,302.5l5-.9-2.8-1.6-5.1,1.5z"/><path color=#11b2c9 d="M315.3,226.2l1.7,.8-1-4.3-1.7-4.2z"/><path color=#0fadd3 d="M323,231l.8-1.7-1-7-.8,4.4z"/><path color=#286cf3 d="M300.8,275.3l1.7-3.5-2.9-2.2-1.7,5.7z"/><path color=#3b2cbe d="M231.5,305.1l5-1.2-2.9-.6-5,.1z"/><path color=#2e63f3 d="M352.1,280l1.7,.6-1-6.9-1.7-1.8z"/><path color=#1688ee d="M344.4,265.8l1.7,1.9-1-11.3-1.7-4.3z"/><path color=#3d35d3 d="M277.7,298l1.7-1.1-2.9,.3-1.7,.8z"/><path color=#0fadd3 d="M322.1,229.3l.9,1.7-1-4.3-.8-3.7z"/><path color=#0d9de3 d="M336.7,249.3l1.7,.1-1-14.9-1.7-.4z"/><path color=#0fadd4 d="M329,231.4l1.7-.4-1-5.2-1.7-2z"/><path color=#3b2bb9 d="M186.4,306.5l3.6-.2-2.8-1.7-3.6,.5z"/><path color=#10b0ce d="M313.6,231.4l1.7-5.2-1-7.7-1.7,4.8z"/><path color=#10b1ce d="M321.3,227.5l.8,1.8-.9-6.3-.9-3.7z"/><path color=#2f60f3 d="M299.1,280.1l1.7-4.8-2.9,0-1.7,4.3z"/><path color=#2c66f4 d="M350.4,279.7l1.7,.3-1-8.1-1.6-1.3z"/><path color=#1589ed d="M342.7,266.7l1.7-.9-1-13.7-1.6,1.8z"/><path color=#3d34d1 d="M276,299l1.7-1-2.9,0-1.7,.1z"/><path color=#0c9fe2 d="M335,247l1.7,2.3-1-15.2-1.7-3.3z"/><path color=#3b2bba d="M207.5,306l3.6-.1-2.8-1.4-3.7,.3z"/><path color=#0eaad6 d="M313,235.8l.6-4.4-1-8.1-.5,6.2z"/><path color=#0faed2 d="M327.3,229.4l1.7,2-1-7.6-1.7-1z"/><path color=#10b1cd d="M319.6,230.9l1.7-3.4-1-8.2-1.7,2.2z"/><path color=#0da4de d="M312.5,240.2l.5-4.4-.9-6.3-.6,6.3z"/><path color=#3b2ab8 d="M161.8,307.1l3.6-.4-2.7-1.6-3.6,.4z"/><path color=#3457f1 d="M297.5,282.7l1.6-2.6-2.9-.5-1.6,3.7z"/><path color=#0d9ee2 d="M311.9,244.6l.6-4.4-1-4.4-.6,6.2z"/><path color=#2a69f4 d="M348.7,279.2l1.7,.5-.9-9.1-1.7-1.8z"/><path color=#1589ed d="M341,265.6l1.7,1.1-.9-12.8-1.7-1.9z"/><path color=#3d34d0 d="M274.3,298.5l1.7,.5-2.9-.9-1.7,.8z"/><path color=#0faed2 d="M318.8,231.1l.8-.2-1-9.4-.8,2.8z"/><path color=#0c9fe2 d="M333.3,249.3l1.7-2.3-1-16.2-1.6,3.3z"/><path color=#0fabd5 d="M325.6,237.3l1.7-7.9-1-6.6-1.6,4.8z"/><path color=#3b2bb9 d="M182.7,307l3.7-.5-2.8-1.4-3.6-.2z"/><path color=#3c2ec3 d="M249.5,304.1l5.1-1.6-2.9-1-5.1,.8z"/><path color=#0fadd4 d="M317.9,231.3l.9-.2-1-6.8-.8,2.7z"/><path color=#394eef d="M295.8,286.1l1.7-3.4-2.9,.6-1.7,4.3z"/><path color=#3b2cbd d="M226.4,305.9l5.1-.8-2.9-1.7-5.1,1.1z"/><path color=#286bf3 d="M347.1,279l1.6,.2-.9-10.4-1.7-1.1z"/><path color=#0ea8da d="M324.8,236.3l.8,1-.9-9.7-.9,1.7z"/><path color=#138bec d="M339.3,264.4l1.7,1.2-.9-13.6-1.7-2.6z"/><path color=#3d33d0 d="M272.7,299.6l1.6-1.1-2.9,.4-1.6,0z"/><path color=#0c9fe2 d="M331.6,247.3l1.7,2-.9-15.2-1.7-3.1z"/><path color=#3b2bba d="M203.8,307.1l3.7-1.1-2.9-1.2-3.6,.7z"/><path color=#0fabd5 d="M316.2,233.9l1.7-2.6-.9-4.3-1.7-.8z"/><path color=#0da7da d="M323.9,235.4l.9,.9-1-7-.8,1.7z"/><path color=#3b2ab7 d="M158.1,307.9l3.7-.8-2.7-1.6-3.6,.5z"/><path color=#3c47ed d="M294.1,287.7l1.7-1.6-2.9,1.5-1.7,2.5z"/><path color=#276ef3 d="M345.4,279.4l1.7-.4-1-11.3-1.7-1.9z"/><path color=#0ea8da d="M323.1,235.6l.8-.2-.9-4.4-.9-1.7z"/><path color=#128dec d="M337.7,264.4l1.6,0-.9-15-1.7-.1z"/><path color=#3d33ce d="M271,299.8l1.7-.2-2.9-.7-1.7,.8z"/><path color=#0ca0e1 d="M330,247.8l1.6-.5-.9-16.3-1.7,.4z"/><path color=#0ea8d9 d="M314.5,239.4l1.7-5.5-.9-7.7-1.7,5.2z"/><path color=#0ea9d8 d="M322.3,235.8l.8-.2-1-6.3-.8-1.8z"/><path color=#3b2bb9 d="M179.1,307.6l3.6-.6-2.7-2.1-3.7,.3z"/><path color=#3d44e9 d="M292.4,290.2l1.7-2.5-2.9,2.4-1.7,1.4z"/><path color=#266ef3 d="M343.7,279.4l1.7,0-1-13.6-1.7,.9z"/><path color=#128eeb d="M336,263.1l1.7,1.3-1-15.1-1.7-2.3z"/><path color=#0ca3df d="M314,242l.5-2.6-.9-8-.6,4.4z"/><path color=#3d32cd d="M269.3,300.3l1.7-.5-2.9-.1-1.7,.7z"/><path color=#0ca1e1 d="M328.3,246.5l1.7,1.3-1-16.4-1.7-2z"/><path color=#0da7da d="M320.6,240.2l1.7-4.4-1-8.3-1.7,3.4z"/><path color=#0c9fe2 d="M313.4,244.6l.6-2.6-1-6.2-.5,4.4z"/><path color=#3c2dc2 d="M244.5,305l5-.9-2.9-1.8-5,.8z"/><path color=#3b2bb9 d="M200.2,307.7l3.6-.6-2.8-1.6-3.7-.3z"/><path color=#0d9be4 d="M312.9,247.2l.5-2.6-.9-4.4-.6,4.4z"/><path color=#3d41e5 d="M290.7,291l1.7-.8-2.9,1.3-1.7,2z"/><path color=#3b2cbc d="M221.4,306.4l5-.5-2.9-1.4-5,.3z"/><path color=#266ff3 d="M342,279.1l1.7,.3-1-12.7-1.7-1.1z"/><path color=#0da5dc d="M319.7,237.9l.9,2.3-1-9.3-.8,.2z"/><path color=#128eeb d="M334.3,264.6l1.7-1.5-1-16.1-1.7,2.3z"/><path color=#3d31cc d="M267.6,301.1l1.7-.8-2.9,.1-1.7,.4z"/><path color=#0d9ee2 d="M326.6,251.7l1.7-5.2-1-17.1-1.7,7.9z"/><path color=#0d98e5 d="M312.1,251.1l1.7-1.2-2.9-7.9-1.7,2.8z"/><path color=#0da7db d="M318.9,235.6l.8,2.3-.9-6.8-.9,.2z"/><path color=#3d3fe3 d="M289,291.9l1.7-.9-2.9,2.5-1.7,.6z"/><path color=#3b2bb8 d="M175.4,308.1l3.7-.5-2.8-2.4-3.6,1.1z"/><path color=#2571f3 d="M340.3,279.4l1.7-.3-1-13.5-1.7-1.2z"/><path color=#128eeb d="M332.6,263.7l1.7,.9-1-15.3-1.7-2z"/><path color=#0d9ce3 d="M324.9,250.5l1.7,1.2-1-14.4-1.7-1.9z"/><path color=#0da5dd d="M317.2,241.5l1.7-5.9-1-4.3-1.7,2.6z"/><path color=#0e94e8 d="M310.5,257.6l1.6-6.5-2.9-6.3-1.6,6.8z"/><path color=#3b2bba d="M196.5,307.3l3.7,.4-2.9-2.5-3.6,.5z"/><path color=#3d3ee2 d="M287.3,292.1l1.7-.2-2.9,2.2-1.7,.7z"/><path color=#2472f2 d="M338.6,279.6l1.7-.2-1-15-1.6,0z"/><path color=#118feb d="M330.9,264.2l1.7-.5-1-16.4-1.6,.5z"/><path color=#3d31ca d="M262.5,302.2l5.1-1.1-2.9-.3-5.1,.8z"/><path color=#128eeb d="M309.6,259.7l.9-2.1-2.9-6-.9,4.6z"/><path color=#0d9de3 d="M323.2,251l1.7-.5-1-15.1-1.6,.4z"/><path color=#0c9fe1 d="M315.5,247.4l1.7-5.9-1-7.6-1.7,5.5z"/><path color=#3b2cbc d="M217.7,306.9l3.7-.5-2.9-1.6-3.7,.8z"/><path color=#3c2dc1 d="M239.4,305.6l5.1-.6-2.9-1.9-5.1,.8z"/><path color=#148aed d="M308.8,261.8l.8-2.1-2.9-3.5-.8,4.6z"/><path color=#3d3de0 d="M285.7,293.3l1.6-1.2-2.9,2.7-1.6,1.6z"/><path color=#2373f2 d="M336.9,279.3l1.7,.3-.9-15.2-1.7-1.3z"/><path color=#0d9ce4 d="M315,248.2l.5-.8-1-8-.5,2.6z"/><path color=#3b2ab8 d="M171.8,308.3l3.6-.2-2.7-1.8-3.6,.1z"/><path color=#118fea d="M329.2,263.6l1.7,.6-.9-16.4-1.7-1.3z"/><path color=#0d9be4 d="M321.5,254.1l1.7-3.1-.9-15.2-1.7,4.4z"/><path color=#0d9ae5 d="M314.4,249.1l.6-.9-1-6.2-.6,2.6z"/><path color=#1687ef d="M307.1,265l1.7-3.2-2.9-1-1.7,1.8z"/><path color=#0d98e6 d="M313.8,249.9l.6-.8-1-4.5-.5,2.6z"/><path color=#3e3cde d="M284,293.4l1.7-.1-2.9,3.1-1.7,.4z"/><path color=#3b2bba d="M192.8,308.2l3.7-.9-2.8-1.6-3.7,.6z"/><path color=#2373f2 d="M335.3,279.8l1.6-.5-.9-16.2-1.7,1.5z"/><path color=#128eeb d="M327.6,266.2l1.6-2.6-.9-17.1-1.7,5.2z"/><path color=#1883f0 d="M306.2,266.9l.9-1.9-2.9-2.4-.9,4.6z"/><path color=#0d9be4 d="M319.8,251.1l1.7,3-.9-13.9-1.7-4.6z"/><path color=#305ef2 d="M298.9,279.3l1.7-2-1.5,2.8-1.6,2.6z"/><path color=#1e7bf1 d="M305.4,268.7l.8-1.8-2.9,.3-.8,4.6z"/><path color=#3b2cbc d="M214,306.7l3.7,.2-2.9-1.3-3.7,.3z"/><path color=#3e3bde d="M282.3,294.1l1.7-.7-2.9,3.4-1.7,.1z"/><path color=#2373f2 d="M333.6,280l1.7-.2-1-15.2-1.7-.9z"/><path color=#138cec d="M325.9,265.7l1.7,.5-1-14.5-1.7-1.2z"/><path color=#3c30c8 d="M257.5,303.4l5-1.2-2.9-.6-5,.9z"/><path color=#0d9ae4 d="M318.2,255.3l1.6-4.2-.9-15.5-1.7,5.9z"/><path color=#3b2bb9 d="M168.1,308.2l3.7,.1-2.7-1.9-3.7,.3z"/><path color=#2373f2 d="M303.7,271.4l1.7-2.7-2.9,3.1-1.7,3.5z"/><path color=#3358f1 d="M297.2,282l1.7-2.7-1.4,3.4-1.7,3.4z"/><path color=#3c2dbf d="M234.4,306.4l5-.8-2.9-1.7-5,1.2z"/><path color=#3e3add d="M280.6,295.3l1.7-1.2-2.9,2.8-1.7,1.1z"/><path color=#2373f2 d="M331.9,280.6l1.7-.6-1-16.3-1.7,.5z"/><path color=#138dec d="M324.2,266.2l1.7-.5-1-15.2-1.7,.5z"/><path color=#3b2bb9 d="M189.2,308.2l3.6,0-2.8-1.9-3.6,.2z"/><path color=#0e95e7 d="M316.5,259.4l1.7-4.1-1-13.8-1.7,5.9z"/><path color=#296bf3 d="M302,274.5l1.7-3.1-2.9,3.9-1.7,4.8z"/><path color=#3652f0 d="M295.5,283.5l1.7-1.5-1.4,4.1-1.7,1.6z"/><path color=#3e38da d="M278.9,296.3l1.7-1-2.9,2.7-1.7,1z"/><path color=#3b2cbc d="M210.3,307.9l3.7-1.2-2.9-.8-3.6,.1z"/><path color=#2373f2 d="M330.2,280.6l1.7,0-1-16.4-1.7-.6z"/><path color=#148bed d="M322.5,268.1l1.7-1.9-1-15.2-1.7,3.1z"/><path color=#1091e9 d="M314.8,261.2l1.7-1.8-1-12-1.7,2.5z"/><path color=#3b2ab8 d="M164.5,309.4l3.6-1.2-2.7-1.5-3.6,.4z"/><path color=#394eef d="M293.8,285.4l1.7-1.9-1.4,4.2-1.7,2.5z"/><path color=#3e38da d="M277.2,296.2l1.7,.1-2.9,2.7-1.7-.5z"/><path color=#2472f2 d="M328.5,280.6l1.7,0-1-17-1.6,2.6z"/><path color=#148bed d="M320.8,266.7l1.7,1.4-1-14-1.7-3z"/><path color=#3c2fc6 d="M252.4,304.3l5.1-.9-2.9-.9-5.1,1.6z"/><path color=#1190ea d="M313.1,262.2l1.7-1-1-11.3-1.7,1.2z"/><path color=#3b2bb9 d="M185.5,309.1l3.7-.9-2.8-1.7-3.7,.5z"/><path color=#3b4aee d="M292.2,286.5l1.6-1.1-1.4,4.8-1.7,.8z"/><path color=#3b2cbe d="M229.3,306.8l5.1-.4-2.9-1.3-5.1,.8z"/><path color=#3e38d9 d="M275.5,296.9l1.7-.7-2.9,2.3-1.6,1.1z"/><path color=#2571f3 d="M326.8,280.8l1.7-.2-.9-14.4-1.7-.5z"/><path color=#3b2bbb d="M206.7,308.2l3.6-.3-2.8-1.9-3.7,1.1z"/><path color=#148aed d="M319.1,269.1l1.7-2.4-1-15.6-1.6,4.2z"/><path color=#138cec d="M311.4,266.7l1.7-4.5-1-11.1-1.6,6.5z"/><path color=#3b2ab7 d="M160.8,309.5l3.7-.1-2.7-2.3-3.7,.8z"/><path color=#3c49ee d="M290.5,287l1.7-.5-1.5,4.5-1.7,.9z"/><path color=#3e37d8 d="M273.9,297.5l1.6-.6-2.8,2.7-1.7,.2z"/><path color=#2571f3 d="M325.1,281.4l1.7-.6-.9-15.1-1.7,.5z"/><path color=#1687ef d="M317.4,271.4l1.7-2.3-.9-13.8-1.7,4.1z"/><path color=#1687ef d="M309.7,269.7l1.7-3-.9-9.1-1.7,4.2z"/><path color=#2a69f4 d="M300.3,276l1.7-1.5-1.4,2.8-1.7,2z"/><path color=#3b2bb9 d="M181.8,309.2l3.7-.1-2.8-2.1-3.6,.6z"/><path color=#3c48ee d="M288.8,287.4l1.7-.4-1.5,4.9-1.7,.2z"/><path color=#3e37d7 d="M272.2,297.6l1.7-.1-2.9,2.3-1.7,.5z"/><path color=#266ff3 d="M323.5,282l1.6-.6-.9-15.2-1.7,1.9z"/><path color=#1884f0 d="M315.8,272.4l1.6-1-.9-12-1.7,1.8z"/><path color=#3c2ec4 d="M247.4,305.1l5-.8-2.9-.2-5,.9z"/><path color=#1a82f0 d="M308.1,272.1l1.6-2.4-.9-7.9-1.7,3.2z"/><path color=#3b2bba d="M203,308.4l3.7-.2-2.9-1.1-3.6,.6z"/><path color=#2d64f4 d="M298.7,278l1.6-2-1.4,3.3-1.7,2.7z"/><path color=#3c47ec d="M287.1,288.5l1.7-1.1-1.5,4.7-1.6,1.2z"/><path color=#3b2cbe d="M224.3,307.7l5-.9-2.9-.9-5,.5z"/><path color=#3e36d6 d="M270.5,298.1l1.7-.5-2.9,2.7-1.7,.8z"/><path color=#266ff3 d="M321.8,282.3l1.7-.3-1-13.9-1.7-1.4z"/><path color=#1982f0 d="M314.1,273.2l1.7-.8-1-11.2-1.7,1z"/><path color=#1e7af1 d="M306.4,274.7l1.7-2.6-1-7.1-1.7,3.7z"/><path color=#305ff3 d="M297,279.3l1.7-1.3-1.5,4-1.7,1.5z"/><path color=#3c46eb d="M285.4,289l1.7-.5-1.4,4.8-1.7,.1z"/><path color=#3b2ab8 d="M178.2,309.6l3.6-.4-2.7-1.6-3.7,.5z"/><path color=#276ef3 d="M320.1,282.9l1.7-.6-1-15.6-1.7,2.4z"/><path color=#1d7cf1 d="M312.4,275.9l1.7-2.7-1-11-1.7,4.5z"/><path color=#315cf2 d="M295.3,280.6l1.7-1.3-1.5,4.2-1.7,1.9z"/><path color=#3b2bba d="M199.3,309.1l3.7-.7-2.8-.7-3.7-.4z"/><path color=#3c45ea d="M283.7,289.5l1.7-.5-1.4,4.4-1.7,.7z"/><path color=#3d35d3 d="M265.4,299.9l5.1-1.8-2.9,3-5.1,1.1z"/><path color=#296af3 d="M318.4,283.4l1.7-.5-1-13.8-1.7,2.3z"/><path color=#2275f2 d="M310.7,277.6l1.7-1.7-1-9.2-1.7,3z"/><path color=#3b2cbd d="M220.6,308.4l3.7-.7-2.9-1.3-3.7,.5z"/><path color=#2570f3 d="M305.2,279.4l1.7-1.6-1.5-9.1-1.7,2.7z"/><path color=#3c2ec3 d="M242.3,306.2l5.1-1.1-2.9-.1-5.1,.6z"/><path color=#3359f1 d="M293.6,282l1.7-1.4-1.5,4.8-1.6,1.1z"/><path color=#3d44e9 d="M282,290.5l1.7-1-1.4,4.6-1.7,1.2z"/><path color=#3b2ab8 d="M174.5,310l3.7-.4-2.8-1.5-3.6,.2z"/><path color=#2b68f4 d="M316.7,283.7l1.7-.3-1-12-1.6,1z"/><path color=#2570f3 d="M309,279.2l1.7-1.6-1-7.9-1.6,2.4z"/><path color=#296bf3 d="M303.5,281.4l1.7-2-1.5-8-1.7,3.1z"/><path color=#3457f1 d="M291.9,282.2l1.7-.2-1.4,4.5-1.7,.5z"/><path color=#3d42e7 d="M280.4,291.1l1.6-.6-1.4,4.8-1.7,1z"/><path color=#3b2bba d="M195.6,309.3l3.7-.2-2.8-1.8-3.7,.9z"/><path color=#2c67f4 d="M315,284.3l1.7-.6-.9-11.3-1.7,.8z"/><path color=#296bf3 d="M307.3,280.8l1.7-1.6-.9-7.1-1.7,2.6z"/><path color=#2c66f4 d="M301.8,282.3l1.7-.9-1.5-6.9-1.7,1.5z"/><path color=#3b2cbd d="M216.9,308.6l3.7-.2-2.9-1.5-3.7-.2z"/><path color=#3456f1 d="M290.2,282.8l1.7-.6-1.4,4.8-1.7,.4z"/><path color=#3d42e6 d="M278.7,291.2l1.7-.1-1.5,5.2-1.7-.1z"/><path color=#3d34d1 d="M260.4,301.2l5-1.3-2.9,2.3-5,1.2z"/><path color=#3b2bb9 d="M170.8,310.5l3.7-.5-2.7-1.7-3.7-.1z"/><path color=#2d64f4 d="M313.4,285l1.6-.7-.9-11.1-1.7,2.7z"/><path color=#2e63f3 d="M300.1,283.8l1.7-1.5-1.5-6.3-1.6,2z"/><path color=#3c2dc2 d="M237.3,307l5-.8-2.9-.6-5,.8z"/><path color=#3555f1 d="M288.6,283.6l1.6-.8-1.4,4.6-1.7,1.1z"/><path color=#3d41e6 d="M277,292.1l1.7-.9-1.5,5-1.7,.7z"/><path color=#3b2bba d="M191.9,310.1l3.7-.8-2.8-1.1-3.6,0z"/><path color=#2f61f3 d="M311.7,285.5l1.7-.5-1-9.1-1.7,1.7z"/><path color=#2f60f3 d="M298.4,284.4l1.7-.6-1.4-5.8-1.7,1.3z"/><path color=#3653f0 d="M286.9,284.6l1.7-1-1.5,4.9-1.7,.5z"/><path color=#3b2cbd d="M213.2,308.7l3.7-.1-2.9-1.9-3.7,1.2z"/><path color=#3d40e4 d="M275.3,292.6l1.7-.5-1.5,4.8-1.6,.6z"/><path color=#305ef2 d="M310,286.3l1.7-.8-1-7.9-1.7,1.6z"/><path color=#3b2ab8 d="M167.2,310.8l3.6-.3-2.7-2.3-3.6,1.2z"/><path color=#305ef2 d="M296.7,285.5l1.7-1.1-1.4-5.1-1.7,1.3z"/><path color=#3752f0 d="M285.2,284.9l1.7-.3-1.5,4.4-1.7,.5z"/><path color=#3d40e4 d="M273.6,293l1.7-.4-1.4,4.9-1.7,.1z"/><path color=#3d33cf d="M255.3,301.9l5.1-.7-2.9,2.2-5.1,.9z"/><path color=#315cf2 d="M308.3,286.8l1.7-.5-1-7.1-1.7,1.6z"/><path color=#3b2bb9 d="M188.3,311l3.6-.9-2.7-1.9-3.7,.9z"/><path color=#315df2 d="M306.6,287.3l1.7-.5-1.4-9-1.7,1.6z"/><path color=#3c2dc1 d="M232.2,307.3l5.1-.3-2.9-.6-5.1,.4z"/><path color=#3751f0 d="M283.5,285.7l1.7-.8-1.5,4.6-1.7,1z"/><path color=#3d3fe3 d="M271.9,293.4l1.7-.4-1.4,4.6-1.7,.5z"/><path color=#3b2cbd d="M209.5,309.2l3.7-.5-2.9-.8-3.6,.3z"/><path color=#325af2 d="M304.9,288.2l1.7-.9-1.4-7.9-1.7,2z"/><path color=#3b2ab8 d="M163.5,311.3l3.7-.5-2.7-1.4-3.7,.1z"/><path color=#384fef d="M281.8,285.9l1.7-.2-1.5,4.8-1.6,.6z"/><path color=#3458f1 d="M303.2,288.7l1.7-.5-1.4-6.8-1.7,.9z"/><path color=#3b2bb9 d="M184.6,310.3l3.7,.7-2.8-1.9-3.7,.1z"/><path color=#384fef d="M280.1,286.2l1.7-.3-1.4,5.2-1.7,.1z"/><path color=#3d3ee1 d="M266.9,295.2l5-1.8-1.4,4.7-5.1,1.8z"/><path color=#3d32ce d="M250.3,302.5l5-.6-2.9,2.4-5,.8z"/><path color=#3b2cbd d="M205.8,309.6l3.7-.4-2.8-1-3.7,.2z"/><path color=#3556f1 d="M301.6,289.6l1.6-.9-1.4-6.4-1.7,1.5z"/><path color=#3456f1 d="M296.5,290.5l1.7-.1-2.9-9.8-1.7,1.4z"/><path color=#3c2dc1 d="M227.2,308.2l5-.9-2.9-.5-5,.9z"/><path color=#394eef d="M278.4,287.3l1.7-1.1-1.4,5-1.7,.9z"/><path color=#3554f0 d="M299.9,289.6l1.7,0-1.5-5.8-1.7,.6z"/><path color=#3555f1 d="M294.8,291.2l1.7-.7-2.9-8.5-1.7,.2z"/><path color=#3b2bb9 d="M180.9,311.4l3.7-1.1-2.8-1.1-3.6,.4z"/><path color=#3a4cef d="M276.8,287.6l1.6-.3-1.4,4.8-1.7,.5z"/><path color=#3653f0 d="M298.2,290.4l1.7-.8-1.5-5.2-1.7,1.1z"/><path color=#3555f1 d="M293.1,291.4l1.7-.2-2.9-9-1.7,.6z"/><path color=#3b2cbc d="M202.1,310.8l3.7-1.2-2.8-1.2-3.7,.7z"/><path color=#3a4bef d="M275.1,288.5l1.7-.9-1.5,5-1.7,.4z"/><path color=#3e3cdf d="M261.8,296.2l5.1-1-1.5,4.7-5,1.3z"/><path color=#3c2dc0 d="M223.5,308.8l3.7-.6-2.9-.5-3.7,.7z"/><path color=#3d32cc d="M245.2,303.6l5.1-1.1-2.9,2.6-5.1,1.1z"/><path color=#3653f0 d="M291.4,292.4l1.7-1-2.9-8.6-1.6,.8z"/><path color=#3b4bef d="M273.4,288.7l1.7-.2-1.5,4.5-1.7,.4z"/><path color=#3b2bb9 d="M177.2,311.5l3.7-.1-2.7-1.8-3.7,.4z"/><path color=#3752f0 d="M289.8,292.8l1.6-.4-2.8-8.8-1.7,1z"/><path color=#3b2bbb d="M198.4,311.3l3.7-.5-2.8-1.7-3.7,.2z"/><path color=#3c2dbf d="M219.7,309l3.8-.2-2.9-.4-3.7,.2z"/><path color=#3751f0 d="M288.1,293.2l1.7-.4-2.9-8.2-1.7,.3z"/><path color=#3c49ee d="M268.3,290.5l5.1-1.8-1.5,4.7-5,1.8z"/><path color=#3e3bde d="M256.8,297.2l5-1-1.4,5-5.1,.7z"/><path color=#3b2bb9 d="M173.6,311.6l3.6-.1-2.7-1.5-3.7,.5z"/><path color=#3d31cb d="M240.2,304.2l5-.6-2.9,2.6-5,.8z"/><path color=#3850f0 d="M286.4,293.8l1.7-.6-2.9-8.3-1.7,.8z"/><path color=#3b2bbb d="M194.7,310.9l3.7,.4-2.8-2-3.7,.8z"/><path color=#384fef d="M284.7,293.9l1.7-.1-2.9-8.1-1.7,.2z"/><path color=#3c2dbf d="M216,310.4l3.7-1.4-2.8-.4-3.7,.1z"/><path color=#3b2bb9 d="M169.9,312.4l3.7-.8-2.8-1.1-3.6,.3z"/><path color=#394fef d="M283,294.7l1.7-.8-2.9-8-1.7,.3z"/><path color=#3c47ed d="M263.3,291.3l5-.8-1.4,4.7-5.1,1z"/><path color=#3e3add d="M251.7,298.2l5.1-1-1.5,4.7-5,.6z"/><path color=#3b2bba d="M191,311.8l3.7-.9-2.8-.8-3.6,.9z"/><path color=#3d31ca d="M235.1,305.6l5.1-1.4-2.9,2.8-5.1,.3z"/><path color=#394def d="M281.3,295l1.7-.3-2.9-8.5-1.7,1.1z"/><path color=#3b2cbf d="M212.3,310.2l3.7,.2-2.8-1.7-3.7,.5z"/><path color=#3b2bb9 d="M166.2,312.2l3.7,.2-2.7-1.6-3.7,.5z"/><path color=#3a4cef d="M279.7,295.9l1.6-.9-2.9-7.7-1.6,.3z"/><path color=#3b2bba d="M187.3,311.9l3.7-.1-2.7-.8-3.7-.7z"/><path color=#3a4bef d="M278,296l1.7-.1-2.9-8.3-1.7,.9z"/><path color=#3c46eb d="M258.2,292.6l5.1-1.3-1.5,4.9-5,1z"/><path color=#3e39dc d="M246.7,299.2l5-1-1.4,4.3-5.1,1.1z"/><path color=#3b2cbf d="M208.6,310.9l3.7-.7-2.8-1-3.7,.4z"/><path color=#3c30c8 d="M230.1,307l5-1.4-2.9,1.7-5,.9z"/><path color=#3b4aee d="M276.3,296.5l1.7-.5-2.9-7.5-1.7,.2z"/><path color=#3b2bbb d="M183.6,312l3.7-.1-2.7-1.6-3.7,1.1z"/><path color=#3b2cbe d="M204.9,310.9l3.7,0-2.8-1.3-3.7,1.2z"/><path color=#3c49ee d="M271.2,297.8l5.1-1.3-2.9-7.8-5.1,1.8z"/><path color=#3c45ea d="M253.2,293.9l5-1.3-1.4,4.6-5.1,1z"/><path color=#3c30c7 d="M226.3,306.6l3.8,.4-2.9,1.2-3.7,.6z"/><path color=#3e39db d="M241.6,299.9l5.1-.7-1.5,4.4-5,.6z"/><path color=#3b2bbb d="M180,312.5l3.6-.5-2.7-.6-3.7,.1z"/><path color=#3b2cbd d="M201.2,311.9l3.7-1-2.8-.1-3.7,.5z"/><path color=#3c30c8 d="M222.6,307.2l3.7-.6-2.8,2.2-3.8,.2z"/><path color=#3c47ed d="M266.2,298.8l5-1-2.9-7.3-5,.8z"/><path color=#3d43e8 d="M248.1,294.8l5.1-.9-1.5,4.3-5,1z"/><path color=#3b2bba d="M176.3,313.3l3.7-.8-2.8-1-3.6,.1z"/><path color=#3e38d9 d="M236.6,301.4l5-1.5-1.4,4.3-5.1,1.4z"/><path color=#3b2cbd d="M197.5,312.1l3.7-.2-2.8-.6-3.7-.4z"/><path color=#3c2fc6 d="M218.9,308l3.7-.8-2.9,1.8-3.7,1.4z"/><path color=#3b2bba d="M172.6,313.6l3.7-.3-2.7-1.7-3.7,.8z"/><path color=#3c46eb d="M261.1,300.2l5.1-1.4-2.9-7.5-5.1,1.3z"/><path color=#3b2cbd d="M193.8,312.6l3.7-.5-2.8-1.2-3.7,.9z"/><path color=#3d43e7 d="M243.1,295.6l5-.8-1.4,4.4-5.1,.7z"/><path color=#3e36d6 d="M231.5,302.5l5.1-1.1-1.5,4.2-5,1.4z"/><path color=#3c2fc5 d="M215.2,308.4l3.7-.4-2.9,2.4-3.7-.2z"/><path color=#3b2bba d="M168.9,314.2l3.7-.6-2.7-1.2-3.7-.2z"/><path color=#3b2cbd d="M190.1,312.4l3.7,.2-2.8-.8-3.7,.1z"/><path color=#3c44e9 d="M256.1,301.3l5-1.1-2.9-7.6-5,1.3z"/><path color=#3e36d6 d="M227.8,302.3l3.7,.2-1.4,4.5-3.8-.4z"/><path color=#3c2fc5 d="M211.4,309.2l3.8-.8-2.9,1.8-3.7,.7z"/><path color=#3d41e6 d="M238,297.1l5.1-1.5-1.5,4.3-5,1.5z"/><path color=#3b2cbd d="M186.4,313.7l3.7-1.3-2.8-.5-3.7,.1z"/><path color=#3e36d6 d="M224,303.2l3.8-.9-1.5,4.3-3.7,.6z"/><path color=#3c2ec5 d="M207.7,309.5l3.7-.3-2.8,1.7-3.7,0z"/><path color=#3d43e7 d="M251,302.8l5.1-1.5-2.9-7.4-5.1,.9z"/><path color=#3d40e4 d="M232.9,298l5.1-.9-1.4,4.3-5.1,1.1z"/><path color=#3b2cbd d="M182.7,313.9l3.7-.2-2.8-1.7-3.6,.5z"/><path color=#3e36d5 d="M220.3,303.7l3.7-.5-1.4,4-3.7,.8z"/><path color=#3c2ec5 d="M204,309.6l3.7-.1-2.8,1.4-3.7,1z"/><path color=#3d40e4 d="M229.2,298.1l3.7-.1-1.4,4.5-3.7-.2z"/><path color=#3d42e6 d="M246,303.1l5-.3-2.9-8-5,.8z"/><path color=#3b2cbc d="M179,314.6l3.7-.7-2.7-1.4-3.7,.8z"/><path color=#3d35d4 d="M216.6,304.1l3.7-.4-1.4,4.3-3.7,.4z"/><path color=#3c2ec4 d="M200.3,310.7l3.7-1.1-2.8,2.3-3.7,.2z"/><path color=#3d3fe3 d="M225.5,299.1l3.7-1-1.4,4.2-3.8,.9z"/><path color=#3b2cbc d="M175.3,314.1l3.7,.5-2.7-1.3-3.7,.3z"/><path color=#3d35d4 d="M212.9,304.8l3.7-.7-1.4,4.3-3.8,.8z"/><path color=#3c2ec4 d="M196.6,310.3l3.7,.4-2.8,1.4-3.7,.5z"/><path color=#3d41e5 d="M240.9,304l5.1-.9-2.9-7.5-5.1,1.5z"/><path color=#3d3fe2 d="M221.7,299.4l3.8-.3-1.5,4.1-3.7,.5z"/><path color=#3b2cbc d="M171.6,314.9l3.7-.8-2.7-.5-3.7,.6z"/><path color=#3d35d3 d="M209.1,305.1l3.8-.3-1.5,4.4-3.7,.3z"/><path color=#3c2ec4 d="M192.8,311l3.8-.7-2.8,2.3-3.7-.2z"/><path color=#3d40e4 d="M235.8,305.2l5.1-1.2-2.9-6.9-5.1,.9z"/><path color=#3d3fe2 d="M218,299.7l3.7-.3-1.4,4.3-3.7,.4z"/><path color=#3d35d3 d="M205.4,305.5l3.7-.4-1.4,4.4-3.7,.1z"/><path color=#3c2ec4 d="M189.1,311.3l3.7-.3-2.7,1.4-3.7,1.3z"/><path color=#3d3fe3 d="M232.1,305.8l3.7-.6-2.9-7.2-3.7,.1z"/><path color=#3d3ee2 d="M214.3,300.3l3.7-.6-1.4,4.4-3.7,.7z"/><path color=#3d35d2 d="M201.7,306.3l3.7-.8-1.4,4.1-3.7,1.1z"/><path color=#3c2ec3 d="M185.4,311.7l3.7-.4-2.7,2.4-3.7,.2z"/><path color=#3d3fe3 d="M228.3,306.2l3.8-.4-2.9-7.7-3.7,1z"/><path color=#3d3ee2 d="M210.5,300.7l3.8-.4-1.4,4.5-3.8,.3z"/><path color=#3d34d2 d="M198,306.5l3.7-.2-1.4,4.4-3.7-.4z"/><path color=#3c2ec3 d="M181.7,311.8l3.7-.1-2.7,2.2-3.7,.7z"/><path color=#3d3ee2 d="M224.6,306.8l3.7-.6-2.8-7.1-3.8,.3z"/><path color=#3d3ee1 d="M206.8,301.4l3.7-.7-1.4,4.4-3.7,.4z"/><path color=#3d34d2 d="M194.2,307.1l3.8-.6-1.4,3.8-3.8,.7z"/><path color=#3c2ec3 d="M178,312.4l3.7-.6-2.7,2.8-3.7-.5z"/><path color=#3d3ee2 d="M220.8,307.7l3.8-.9-2.9-7.4-3.7,.3z"/><path color=#3d3de1 d="M203.1,302l3.7-.6-1.4,4.1-3.7,.8z"/><path color=#3d34d2 d="M190.5,307.4l3.7-.3-1.4,3.9-3.7,.3z"/><path color=#3c2ec3 d="M174.2,313.1l3.8-.7-2.7,1.7-3.7,.8z"/><path color=#3d3ee1 d="M217.1,308.1l3.7-.4-2.8-8-3.7,.6z"/><path color=#3d3de0 d="M199.3,302.6l3.8-.6-1.4,4.3-3.7,.2z"/><path color=#3d34d2 d="M186.8,307.9l3.7-.5-1.4,3.9-3.7,.4z"/><path color=#3d3de1 d="M213.3,308.6l3.8-.5-2.8-7.8-3.8,.4z"/><path color=#3d3de0 d="M195.6,303.2l3.7-.6-1.3,3.9-3.8,.6z"/><path color=#3d34d2 d="M183,307.9l3.8,0-1.4,3.8-3.7,.1z"/><path color=#3d3de1 d="M209.6,308.4l3.7,.2-2.8-7.9-3.7,.7z"/><path color=#3d3ce0 d="M191.9,303.4l3.7-.2-1.4,3.9-3.7,.3z"/><path color=#3d34d2 d="M179.3,308.5l3.7-.6-1.3,3.9-3.7,.6z"/><path color=#3d3de0 d="M205.9,309.2l3.7-.8-2.8-7-3.7,.6z"/><path color=#3d3cdf d="M188.1,304.1l3.8-.7-1.4,4-3.7,.5z"/><path color=#3d34d1 d="M175.6,309l3.7-.5-1.3,3.9-3.8,.7z"/><path color=#3d3de0 d="M202.1,309.8l3.8-.6-2.8-7.2-3.8,.6z"/><path color=#3d3ce0 d="M184.4,303.9l3.7,.2-1.3,3.8-3.8,0z"/><path color=#3d3ce0 d="M198.4,309.6l3.7,.2-2.8-7.2-3.7,.6z"/><path color=#3d3de0 d="M180.7,304.6l3.7-.7-1.4,4-3.7,.6z"/><path color=#3d3ce0 d="M194.6,310.4l3.8-.8-2.8-6.4-3.7,.2z"/><path color=#3d3cdf d="M176.9,305l3.8-.4-1.4,3.9-3.7,.5z"/><path color=#3e3cdf d="M190.9,311.1l3.7-.7-2.7-7-3.8,.7z"/><path color=#3e3cdf d="M187.1,311.2l3.8-.1-2.8-7-3.7-.2z"/><path color=#3d3cdf d="M183.4,311.7l3.7-.5-2.7-7.3-3.7,.7z"/><path color=#3e3cdf d="M179.6,312.3l3.8-.6-2.7-7.1-3.8,.4z"/></g>
<path d="M71.6,64.8L71.6,253.3L188.2,326.1L491.5,298.7M71.6,253.3L64,248.7M71.6,206.2L64,201.6M71.6,159.1L64,154.5M71.6,111.9L64,107.3M71.6,64.8L64,60.2M188.2,326.1L180.7,326.9M170,314.7L162.5,315.5M151.8,303.4L144.3,304.1M133.5,292L126,292.7M115.3,280.6L107.8,281.4M97.1,269.2L89.6,270M78.9,257.9L71.4,258.6M188.2,326.1L195.4,330.7M238.8,321.5L246,326.1M289.3,316.9L296.5,321.6M339.9,312.4L347.1,317M390.4,307.8L397.6,312.4M441,303.2L448.2,307.8M491.5,298.7L498.7,303.3" stroke="#111" stroke-width="1.4" fill="none" stroke-linecap="square"/>
<text x="60.3" y="63.7" font-size="13" text-anchor="end" class="s">0.04</text>
<text x="60.3" y="111.2" font-size="13" text-anchor="end" class="s">0.03</text>
<text x="60.3" y="158.7" font-size="13" text-anchor="end" class="s">0.02</text>
<text x="60.3" y="206.2" font-size="13" text-anchor="end" class="s">0.01</text>
<text x="60.3" y="253.7" font-size="13" text-anchor="end" class="s">0</text>
<text x="66.2" y="273.4" font-size="13" text-anchor="end" class="s">150</text>
<text x="84.5" y="284.9" font-size="13" text-anchor="end" class="s">125</text>
<text x="102.9" y="296.4" font-size="13" text-anchor="end" class="s">100</text>
<text x="121.2" y="307.9" font-size="13" text-anchor="end" class="s">75</text>
<text x="139.5" y="319.4" font-size="13" text-anchor="end" class="s">50</text>
<text x="157.9" y="330.9" font-size="13" text-anchor="end" class="s">25</text>
<text x="176.2" y="342.4" font-size="13" text-anchor="end" class="s">0</text>
<text x="199.5" y="347.1" font-size="13" class="s">-90</text>
<text x="250.1" y="342.4" font-size="13" class="s">-60</text>
<text x="300.6" y="337.7" font-size="13" class="s">-30</text>
<text x="351.1" y="333.0" font-size="13" class="s">0</text>
<text x="401.7" y="328.3" font-size="13" class="s">30</text>
<text x="452.2" y="323.6" font-size="13" class="s">60</text>
<text x="502.8" y="318.9" font-size="13" class="s">90</text>
<text x="0.6" y="39.8" font-size="30">a</text>
<text x="79.3" y="56" font-size="21">0° = axial</text>
<text x="79.3" y="81.2" font-size="21">90 ° = circ.</text>
<text transform="translate(20.6,216.6) rotate(-90)" font-size="25.8">Probability</text>
<text x="34.2" y="318" font-size="20.5">Depth</text>
<text x="41.2" y="342.8" font-size="20.5">(μm)</text>
<text x="327.3" y="357.2" font-size="26">Angle (°)</text>
<text x="502" y="41.3" font-size="30">b</text>
<text transform="translate(521.6,231.0) rotate(-90)" font-size="25.8">Probability</text>
<text x="583.6" y="48.2" font-size="20" text-anchor="end">0.025</text>
<text x="583.6" y="100.7" font-size="20" text-anchor="end">0.02</text>
<text x="583.6" y="153.2" font-size="20" text-anchor="end">0.015</text>
<text x="583.6" y="205.7" font-size="20" text-anchor="end">0.01</text>
<text x="583.6" y="258.2" font-size="20" text-anchor="end">0.005</text>
<text x="583.6" y="310.7" font-size="20" text-anchor="end">0</text>
<text x="591.5" y="329.7" font-size="20" text-anchor="middle">-90</text>
<text x="635.3" y="329.7" font-size="20" text-anchor="middle">-60</text>
<text x="679.2" y="329.7" font-size="20" text-anchor="middle">-30</text>
<text x="723.0" y="329.7" font-size="20" text-anchor="middle">0</text>
<text x="766.8" y="329.7" font-size="20" text-anchor="middle">30</text>
<text x="810.7" y="329.7" font-size="20" text-anchor="middle">60</text>
<text x="854.5" y="329.7" font-size="20" text-anchor="middle">90</text>
<text x="666.6" y="359.8" font-size="26">Angle (°)</text>
<text x="662.6" y="87.4" font-size="15.7" text-anchor="middle">Outer</text>
<text x="662.6" y="106.3" font-size="15.7" text-anchor="middle">adventitia</text>
<text x="806.4" y="152.9" font-size="15.7" text-anchor="middle">Inner</text>
<text x="806.4" y="171.3" font-size="15.7" text-anchor="middle">adventitia</text>
<path d="M592.5,288.6C594.6,288.7 600.4,289.2 605.0,289.2C609.6,289.2 615.7,288.7 620.0,288.8C624.3,288.9 627.2,289.8 630.8,289.7C634.4,289.6 638.0,289.0 641.6,288.4C645.2,287.8 648.9,287.3 652.5,286.0C656.1,284.7 660.2,282.6 663.3,280.6C666.4,278.6 668.7,276.5 670.9,274.1C673.1,271.8 674.5,269.8 676.3,266.5C678.1,263.2 679.8,259.0 681.7,254.6C683.6,250.2 686.0,246.0 687.6,240.0C689.2,234.0 690.0,226.1 691.4,218.4C692.8,210.7 694.4,202.6 695.7,194.0C697.1,185.4 698.5,175.2 699.5,167.0C700.5,158.8 700.8,152.7 701.5,145.0C702.2,137.3 702.8,128.4 703.6,120.7C704.4,113.0 705.4,106.2 706.4,99.0C707.4,91.8 708.6,83.7 709.9,77.4C711.1,71.1 712.5,65.1 713.9,61.2C715.2,57.3 716.6,53.9 718.0,53.9C719.4,53.9 720.6,57.3 722.0,61.2C723.4,65.1 724.8,71.1 726.1,77.4C727.4,83.7 728.5,91.8 729.6,99.0C730.7,106.2 731.6,113.0 732.8,120.7C733.9,128.4 735.5,137.3 736.5,145.0C737.5,152.7 738.0,158.8 739.1,167.0C740.2,175.2 741.9,185.4 743.4,194.0C744.9,202.6 746.3,211.0 748.0,218.4C749.7,225.8 752.0,233.8 753.4,238.6C754.8,243.4 755.1,243.6 756.5,247.0C757.9,250.4 759.6,255.4 761.5,259.0C763.4,262.6 765.6,266.0 768.0,268.7C770.4,271.4 772.5,273.2 775.6,275.2C778.7,277.2 782.1,279.2 786.4,280.6C790.7,282.1 796.9,283.1 801.6,283.9C806.3,284.7 810.7,285.0 814.6,285.4C818.5,285.8 821.5,286.0 825.0,286.3C828.5,286.6 832.8,287.1 835.5,287.0C838.2,286.9 839.5,285.9 841.2,285.8C843.0,285.7 844.0,286.3 846.0,286.6C848.0,286.9 851.8,287.4 853.0,287.6" stroke="#0670c6" stroke-width="3.6" fill="none" stroke-linejoin="round" stroke-linecap="round"/><path d="M592.8,170.8C593.8,171.5 597.1,173.7 598.8,175.1C600.5,176.5 601.5,177.0 603.1,179.5C604.7,182.0 606.8,186.7 608.5,190.0C610.2,193.3 611.7,196.0 613.3,199.5C614.9,203.0 616.4,207.0 618.0,210.8C619.6,214.6 621.0,218.4 622.7,222.2C624.4,226.0 626.4,230.0 628.4,233.6C630.4,237.2 632.6,240.8 635.0,244.0C637.4,247.2 640.4,250.1 642.6,252.5C644.8,254.9 646.2,256.5 648.3,258.2C650.4,259.9 652.5,261.3 655.0,262.5C657.5,263.7 659.8,264.7 663.3,265.5C666.8,266.3 672.3,266.9 676.3,267.2C680.3,267.4 683.5,267.2 687.1,267.0C690.7,266.8 694.6,266.5 697.9,266.1C701.1,265.7 703.8,264.4 706.6,264.4C709.5,264.4 711.8,265.3 715.0,265.9C718.2,266.5 722.2,267.4 725.8,268.0C729.4,268.6 733.0,269.0 736.6,269.4C740.2,269.8 743.9,269.8 747.5,270.2C751.1,270.6 754.7,271.7 758.3,271.9C761.9,272.1 765.5,271.9 769.1,271.5C772.7,271.1 776.3,270.8 779.9,269.8C783.5,268.8 787.8,266.9 790.8,265.5C793.8,264.1 795.6,262.9 798.0,261.5C800.4,260.1 803.1,258.4 805.0,256.8C806.9,255.2 807.3,254.5 809.1,251.9C810.9,249.3 813.5,244.9 815.8,241.1C818.0,237.3 820.6,232.7 822.6,228.9C824.6,225.1 826.4,221.9 828.0,218.1C829.6,214.3 830.4,210.3 832.0,206.0C833.6,201.7 835.6,196.7 837.4,192.4C839.2,188.1 841.2,183.2 842.8,180.3C844.4,177.4 845.3,176.5 846.9,174.9C848.5,173.3 851.4,171.5 852.3,170.8" stroke="#fc4e08" stroke-width="3.6" fill="none" stroke-linejoin="round" stroke-linecap="round"/>
<path d="M591.5,41.1V303.6H854.5M591.5,251.1h3.5M591.5,198.6h3.5M591.5,146.1h3.5M591.5,93.6h3.5M591.5,41.1h3.5M635.3,303.6v-3.5M679.2,303.6v-3.5M723,303.6v-3.5M766.8,303.6v-3.5M810.7,303.6v-3.5M854.5,303.6v-3.5" stroke="#111" stroke-width="2.2" fill="none"/>
</svg>
<svg width="182" height="182" style="position:absolute;left:882px;top:0px">
<defs><filter id="fc" x="0" y="0" width="100%" height="100%" color-interpolation-filters="sRGB">
<feTurbulence type="fractalNoise" baseFrequency="0.15 0.045" numOctaves="3" seed="4" result="t"/>
<feTurbulence type="fractalNoise" baseFrequency="0.035 0.05" numOctaves="1" seed="21" result="w"/>
<feDisplacementMap in="t" in2="w" scale="7" xChannelSelector="R" yChannelSelector="G" result="tw"/>
<feColorMatrix in="tw" type="matrix" values="
 0.25 0 0.15 0 -0.12
 1.2 0.38 0 0 -0.37
 1.05 -0.3 0.1 0 0.01
 0 0 0 0 1" result="c"/>
<feTurbulence type="fractalNoise" baseFrequency="0.022 0.008" numOctaves="2" seed="11" result="m"/>
<feColorMatrix in="m" type="matrix" values="2.2 0 0 0 -0.08  2.2 0 0 0 -0.08  2.2 0 0 0 -0.08  0 0 0 0 1" result="mm"/>
<feComposite in="c" in2="mm" operator="arithmetic" k1="1" k2="0" k3="0" k4="0"/>
<feGaussianBlur stdDeviation="0.5"/>
</filter></defs>
<g transform="rotate(14 91 91)"><rect x="-30" y="-30" width="242" height="242" filter="url(#fc)"/></g>
<filter id="bl" x="-50%" y="-50%" width="200%" height="200%"><feGaussianBlur stdDeviation="7"/></filter>
<g filter="url(#bl)">
<ellipse cx="103" cy="85" rx="11" ry="52" fill="#061830" opacity="0.75" transform="rotate(8 103 85)"/>
<ellipse cx="14" cy="10" rx="14" ry="10" fill="#000" opacity="0.5"/>
<ellipse cx="50" cy="140" rx="10" ry="22" fill="#081a34" opacity="0.4"/>
<ellipse cx="170" cy="140" rx="10" ry="25" fill="#081a34" opacity="0.4"/>
<ellipse cx="76" cy="32" rx="12" ry="28" fill="#40d0d0" opacity="0.35"/>
<ellipse cx="18" cy="100" rx="14" ry="25" fill="#30d090" opacity="0.3"/>
<ellipse cx="132" cy="100" rx="12" ry="25" fill="#30d090" opacity="0.3"/>
</g>
</svg><svg width="182" height="182" style="position:absolute;left:882px;top:186.5px">
<defs><filter id="fd" x="0" y="0" width="100%" height="100%" color-interpolation-filters="sRGB">
<feTurbulence type="fractalNoise" baseFrequency="0.026 0.10" numOctaves="3" seed="9" result="t"/>
<feComponentTransfer in="t" result="tr"><feFuncR type="linear" slope="2.2" intercept="-1.0"/><feFuncG type="linear" slope="2.4" intercept="-1.25"/><feFuncA type="linear" slope="0" intercept="1"/></feComponentTransfer>
<feColorMatrix in="tr" type="matrix" values="
 0.5 0.3 0.34 0 0.0
 0.0 0.4 0.32 0 -0.01
 0.0 0.02 0.25 0 -0.0
 0 0 0 0 1" result="c"/>
<feTurbulence type="fractalNoise" baseFrequency="0.012 0.02" numOctaves="2" seed="5" result="m"/>
<feColorMatrix in="m" type="matrix" values="1.2 0 0 0 0.4  1.2 0 0 0 0.4  1.2 0 0 0 0.4  0 0 0 0 1" result="mm"/>
<feComposite in="c" in2="mm" operator="arithmetic" k1="1" k2="0" k3="0" k4="0.04"/>
<feGaussianBlur stdDeviation="0.7"/>
</filter></defs>
<rect x="0" y="0" width="182" height="182" filter="url(#fd)"/>
<filter id="bl2" x="-50%" y="-50%" width="200%" height="200%"><feGaussianBlur stdDeviation="8"/></filter>
<g filter="url(#bl2)">
<ellipse cx="70" cy="16" rx="55" ry="7" fill="#a09030" opacity="0.35"/>
<ellipse cx="135" cy="80" rx="9" ry="40" fill="#a0a030" opacity="0.35"/>
<ellipse cx="35" cy="110" rx="28" ry="40" fill="#6a5a78" opacity="0.35"/>
<ellipse cx="150" cy="120" rx="25" ry="14" fill="#901010" opacity="0.35"/>
<ellipse cx="110" cy="150" rx="30" ry="10" fill="#901810" opacity="0.3"/>
</g>
</svg>
<div style="position:absolute;left:883px;top:1px;width:180px;height:180px;border:1.6px solid #000;box-sizing:border-box"></div>
<div style="position:absolute;left:883px;top:187.5px;width:180px;height:180px;border:1.6px solid #000;box-sizing:border-box"></div>
<div style="position:absolute;left:989.6px;top:4.2px;width:72px;height:63.6px;background:#fff;border:1.2px solid #000;box-sizing:border-box"></div>
<div style="position:absolute;left:990.8px;top:15.8px;width:69.6px;height:38.6px;background:radial-gradient(circle at 50% 100%, #000 0px, #000 10.0px, transparent 10.1px, transparent 12.60px, rgba(0,0,0,1.00) 13.79px, rgba(0,0,0,1.00) 14.97px, transparent 16.11px, transparent 17.53px, rgba(0,0,0,1.00) 18.44px, rgba(0,0,0,1.00) 19.34px, transparent 20.21px, transparent 21.37px, rgba(0,0,0,1.00) 22.13px, rgba(0,0,0,1.00) 22.89px, transparent 23.62px, transparent 24.62px, rgba(0,0,0,1.00) 25.29px, rgba(0,0,0,1.00) 25.96px, transparent 26.60px, transparent 27.50px, rgba(0,0,0,1.00) 28.10px, rgba(0,0,0,1.00) 28.71px, transparent 29.29px, transparent 30.10px, rgba(0,0,0,1.00) 30.65px, rgba(0,0,0,1.00) 31.21px, transparent 31.74px, transparent 32.49px, rgba(0,0,0,1.00) 33.01px, rgba(0,0,0,1.00) 33.53px, transparent 34.02px, transparent 34.72px, rgba(0,0,0,1.00) 35.21px, rgba(0,0,0,1.00) 35.69px, transparent 36.16px, transparent 36.82px, rgba(0,0,0,1.00) 37.28px, rgba(0,0,0,1.00) 37.74px, transparent 38.18px, transparent 38.80px, rgba(0,0,0,0.99) 39.24px, rgba(0,0,0,0.99) 39.67px, transparent 40.09px, transparent 40.69px, rgba(0,0,0,0.98) 41.10px, rgba(0,0,0,0.98) 41.52px, transparent 41.92px, transparent 42.49px, rgba(0,0,0,0.97) 42.89px, rgba(0,0,0,0.97) 43.29px, transparent 43.67px, transparent 44.22px, rgba(0,0,0,0.97) 44.60px, rgba(0,0,0,0.97) 44.99px, transparent 45.36px, transparent 45.88px, rgba(0,0,0,0.96) 46.26px, rgba(0,0,0,0.96) 46.63px, transparent 46.98px, transparent 47.49px, rgba(0,0,0,0.96) 47.85px, rgba(0,0,0,0.96) 48.21px, transparent 48.55px, transparent 49.04px, rgba(0,0,0,0.95) 49.39px, rgba(0,0,0,0.95) 49.74px, transparent 50.07px, transparent 50.55px, rgba(0,0,0,0.95) 50.89px, rgba(0,0,0,0.95) 51.23px, transparent 51.55px, transparent 52.01px, rgba(0,0,0,0.94) 52.34px, rgba(0,0,0,0.94) 52.67px, transparent 52.98px, transparent 53.43px, rgba(0,0,0,0.94) 53.75px, rgba(0,0,0,0.94) 54.07px, transparent 54.38px, transparent 54.82px, rgba(0,0,0,0.94) 55.13px, rgba(0,0,0,0.94) 55.44px, transparent 55.74px, transparent 56.17px, rgba(0,0,0,0.93) 56.48px, rgba(0,0,0,0.93) 56.78px, transparent 57.07px, transparent 57.49px, rgba(0,0,0,0.93) 57.79px, rgba(0,0,0,0.93) 58.09px, transparent 58.37px, transparent 58.78px, rgba(0,0,0,0.93) 59.07px, rgba(0,0,0,0.93) 59.36px, transparent 59.64px, transparent 60.04px, rgba(0,0,0,0.92) 60.33px, rgba(0,0,0,0.92) 60.61px, transparent 60.89px, transparent 61.28px, rgba(0,0,0,0.92) 61.56px, rgba(0,0,0,0.92) 61.84px, transparent 62.11px, transparent 62.49px, rgba(0,0,0,0.92) 62.77px, rgba(0,0,0,0.92) 63.04px, transparent 63.30px, transparent 63.68px, rgba(0,0,0,0.92) 63.95px, rgba(0,0,0,0.92) 64.22px, transparent 64.48px, transparent 64.85px, rgba(0,0,0,0.91) 65.11px, rgba(0,0,0,0.91) 65.38px, transparent 65.63px, transparent 65.99px, rgba(0,0,0,0.91) 66.25px, rgba(0,0,0,0.91) 66.51px, transparent 66.76px, transparent 67.12px, rgba(0,0,0,0.91) 67.38px, rgba(0,0,0,0.91) 67.63px, transparent 67.88px, transparent 68.23px, rgba(0,0,0,0.91) 68.48px, rgba(0,0,0,0.91) 68.73px, transparent 68.97px, transparent 69.32px, rgba(0,0,0,0.91) 69.57px, rgba(0,0,0,0.91) 69.81px, transparent 70.05px, transparent 70.39px, rgba(0,0,0,0.91) 70.64px, rgba(0,0,0,0.91) 70.88px, transparent 71.11px, transparent 71.45px, rgba(0,0,0,0.90) 71.69px, rgba(0,0,0,0.90) 71.93px, transparent 72.16px, transparent 72.49px, rgba(0,0,0,0.90) 72.73px, rgba(0,0,0,0.90) 72.97px, transparent 73.19px, transparent 73.52px, rgba(0,0,0,0.90) 73.75px, rgba(0,0,0,0.90) 73.99px, transparent 74.21px, transparent 74.53px, rgba(0,0,0,0.90) 74.76px, rgba(0,0,0,0.90) 74.99px, transparent 75.21px, transparent 75.53px, rgba(0,0,0,0.90) 75.76px, rgba(0,0,0,0.90) 75.99px, transparent 76.20px, transparent 76.52px, rgba(0,0,0,0.90) 76.74px, rgba(0,0,0,0.90) 76.97px, transparent 77.18px), conic-gradient(from 270deg at 50% 100%, #f00 0deg, #f0a 18deg, #c0f 40deg, #40f 60deg, #08f 80deg, #0ee 95deg, #0f8 110deg, #2f0 128deg, #cf0 148deg, #fa0 165deg, #f40 175deg, #f00 180deg, #f00 360deg);"></div>
<svg width="1065" height="370" style="position:absolute;left:0;top:0;will-change:transform">
<g font-family='"Liberation Sans", sans-serif' font-weight="bold">
<text x="1023.4" y="15.6" font-size="13.5" class="s">0°</text>
<text x="991.3" y="66" font-size="13.5" class="s">-90°</text>
<text x="1040.6" y="66" font-size="13.5" class="s">90°</text>
<text x="891" y="35" font-size="31" fill="#fff" color="#fff">c</text>
<text x="891" y="221.4" font-size="31" fill="#fff" color="#fff">d</text>
<text x="1003.5" y="166.3" font-size="17.6" fill="#fff" color="#fff">50 μm</text>
<rect x="1009" y="168.6" width="45.5" height="7.2" fill="#f01010"/>
<text x="885.5" y="314.3" font-size="17.6" fill="#fff" color="#fff">Axial</text>
<text x="932" y="361" font-size="17.6" fill="#fff" color="#fff">Circ.</text>
<path d="M895.3,317 L887.3,335.4 L892.7,335.4 L892.7,359.6 L911,359.6 L911,364.6 L929.4,356.4 L911,347.3 L911,353.8 L898.1,353.8 L898.1,335.4 L903.5,335.4 Z" fill="#f01010"/>
</g></svg>
</body></html>
